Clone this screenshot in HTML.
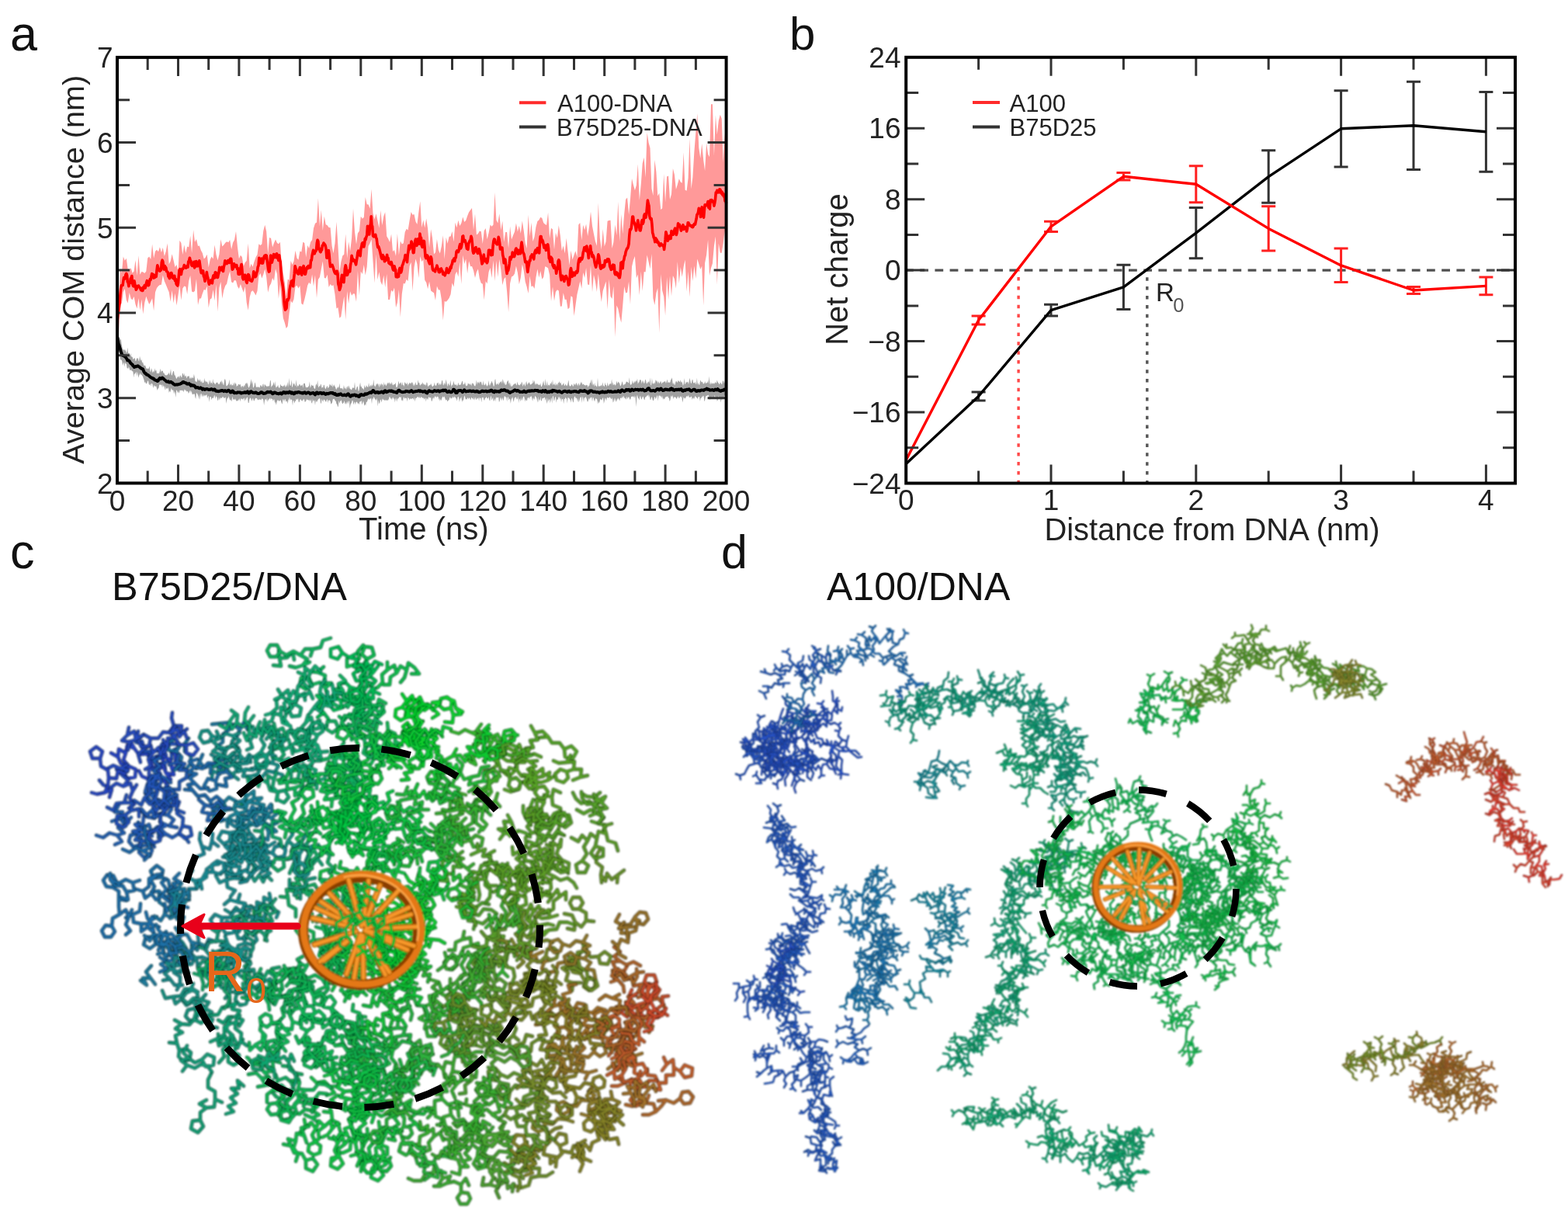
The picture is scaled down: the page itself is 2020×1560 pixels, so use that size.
<!DOCTYPE html><html><head><meta charset="utf-8"><title>Figure</title><style>html,body{margin:0;padding:0;background:#fff;overflow:hidden}svg{display:block}</style></head><body><svg width="2020" height="1560" viewBox="0 0 2020 1560"><defs><filter id="blr" x="-5%" y="-5%" width="110%" height="110%"><feGaussianBlur stdDeviation="0.8"/></filter></defs><rect width="2020" height="1560" fill="#fff"/><g><g filter="url(#blr)">
<defs><path id="c0" d="M471 867l-3-10l-7 8l-4-9l-10 3l0-10M468 857l5-8M473 849l-7-6l4-10l9 1l3 10l-9 5M457 856l6-8l-2-9l7-8"/><path id="c1" d="M555 1293l3 9l8-6l5 8l9-5l3 9l5-8l8 6l2-10l9 6M558 1302l-5 9l4 9M557 1320l8 6l-4 9l-10 0l-2-10l8-5M583 1308l-6 8l3 9l-7 8M596 1306l-4 9l6 8l-3 10"/><path id="c2" d="M579 1082l10-3l-8-7l8-6l-8-7l9-4M589 1079l8 6l9-3M606 1082l7-6l9 4l-2 10l-10 1l-4-9M589 1066l7 6M596 1072l3 7"/><path id="c3" d="M773 1021l-7 6l8 5l-7 6l9 3l-7 7l9 5l-7 8l10 2l-5 9M766 1027l-10-1M756 1026l-7-4M767 1038l-8-6l-10 3l-7-6M742 1029l-4-8M769 1048l-8-5l-9 5l-9-5M771 1061l-9-3"/><path id="c4" d="M143 970l9 5l1-10l9 5l2-10l9 4l-5-9M152 975l4 9l9 2M165 986l-1 8M162 970l-3 9l7 8M166 987l9 4l-1 10l-10 2l-5-9l7-7M173 964l6 8l10-1l6 8M195 979l7-5l8 4l1 9l-7 4l-8-3l-1-9"/><path id="c5" d="M696 950l10-1l-7-7l-10 2l4 9l-10 1l4 9l-10 1M706 949l5 8l10 0l6 8M727 965l9-4l7 7l-5 9l-10-2l-1-10M689 944l-5-9"/><path id="c6" d="M687 1030l-4 10l10 3l-9 5l3 9l-9-2l6 8M678 1055l-4-9M674 1046l0-8"/><path id="c7" d="M551 1440l7-7l-8-6l10 1l0-10l10-2l-4-10l10 0l-4-10l10-1M560 1428l1 10l9 4M570 1442l-3 8M570 1416l7 7l10-3l7 7"/><path id="c8" d="M491 932l-8-6l-1 10l-9-5l0 10l-9-5l-2 10l-9-3l0 10M483 926l6-8M473 931l-5-8M468 923l0-8M464 936l2-10l-7-7l1-9M453 943l-7-7l-10 2M436 938l-8 6l-8-5l2-10l10 0l4 9"/><path id="c9" d="M827 1357l-9 3l1 10l-10-1l-4 9l-5-9l-4 10l-5-8l-8 6M818 1360l-8-6l-10 3M800 1357l-3-7M809 1369l-1-10l-9-5l0-10M800 1369l5-8l-4-9l5-8M806 1344l7-4M791 1371l6-8l-3-10l6-7"/><path id="c10" d="M218 1019l-5 9l9 3l-9 4l8 7l-5 8l8 6l-6 8l10 2M213 1035l-9-5l-8 5M196 1035l-5-7M216 1050l-10-2l-7 6l-10-2M189 1052l-6-6"/><path id="c11" d="M765 1187l-10-1l-6 8l-8-6l-1 10l-9-2M755 1186l0-10l-9-5M746 1171l-8 0l-4-8l4-7l9 0l4 7l-5 8M741 1188l-4-9l-10-2"/><path id="c12" d="M593 1467l9 4l-2-10l9 3l-2-10l10 3l8-6l4 9l6-8M609 1464l-1 10l8 6l-1 10M615 1490l10 3l1 10l-10 3l-6-7l5-9M617 1457l-2 10l8 7M623 1474l-5 6M629 1460l-5 8l4 9l-5 9M623 1486l8 6l-3 9l-10 0l-3-9l8-6"/><path id="c13" d="M410 1166l9 3l8-7l7 7l-2-10l9 4l1-10M419 1169l-6 7l2 10M415 1186l-7 2M434 1169l-2 10M441 1163l2 9l9 4M452 1176l-2 8"/><path id="c14" d="M564 1028l-8-7l-6 8l-4-10l-6 8l-6-8l-5 9M556 1021l8-7l-3-10l7-7M568 997l-6-8l6-8l10 3l0 10l-10 3M534 1019l4-9"/><path id="c15" d="M805 1317l7 6l6-8l5 8l5-9l3 9l10-1l-5 8M812 1323l-4 9l5 9M823 1323l-3 10M820 1333l-6 5"/><path id="c16" d="M498 944l-7 7l9 4l-2 9l10 2l-6 9l10 1l-7 6l6 7M491 951l-8-6l-10 4l-8-5M465 944l-4-7M502 975l-9 1M493 976l-8-2M505 982l-7-8l-10 2l-7-7M481 969l-2-8"/><path id="c17" d="M407 1072l0-10l-9-4l8-5l-6-8l10-2l-1-10M406 1053l8 6l9-3M423 1056l6-6l8 2l3 8l-6 6l-8-1l-3-9M410 1043l3 10M413 1053l-1 8"/><path id="c18" d="M531 1209l-7 7l10-1l-3 9l10 1l1 10l9 3l-6 8l10-1l-8 6M524 1216l-9-5M515 1211l-5-6M531 1224l-10 1M542 1235l-10 1l-5 9M527 1245l-1 10l-9 2l-6-8l6-8l10 4M545 1246l-10-2l-6 7M529 1251l-4 10l-10 0l-3-10l9-6l8 6"/><path id="c19" d="M450 1265l2-10l-10-3l10-2l0-10l10 2M452 1255l10-1l4-9M466 1245l8 3M452 1250l6 8l10 0l5 8M473 1266l7-4l8 3l0 9l-7 4l-7-3l-1-9"/><path id="c20" d="M293 1065l0-10l-9 3l0-10l-9 6l1-10l-7 7M293 1055l10 3M284 1048l8-5M292 1043l-4-9l7-7l9 5l-2 10l-10 1M276 1044l6-8M282 1036l8-4"/><path id="c21" d="M447 1372l6 8l8-5l2 10l10-1l-2 10M453 1380l-5 9M448 1389l-7 4M463 1385l-9 3M454 1388l-8-1"/><path id="c22" d="M340 1271l8 5l3-10l2 10l10-2l-4 9l10 0l-2 10l9 2M348 1276l-2 9l6 8M353 1276l-5 8M359 1283l-10-3M349 1280l-6-6"/><path id="c23" d="M353 932l2 10l9-4l4 9l7-7l7 6l6-8l9 6l6-8M355 942l-6 8l5 9M354 959l-7 4M368 947l-8 6l1 10M361 963l5 9l-6 7l-9-3l0-10l10-3M382 946l1 10M397 944l-2 10l7 7M402 961l-6 6"/><path id="c24" d="M379 850l-2-10l-7 7l-10 1l2 10l-10-1M360 848l-1-10"/><path id="c25" d="M408 1414l-8 8l10 2l-7 7l8 5l-9 4l8 6M400 1422l-9-3M403 1431l-10-2l-7 6l-10-2M376 1433l-2 8l-9 2l-6-6l3-8l8-2l6 6M402 1440l-9-4"/><path id="c26" d="M518 960l-9-5l2 10l-10-3l0 10l-10-2l1 10l-9-5l-5 9M509 955l0-10l-9-4l-1-10M501 962l-3-9l-10-3l-4-9M484 941l2-8M491 970l-3-9l-9-3l-3-9M476 949l-10 2l-5-9l7-7l9 4l-1 10M483 975l2-10l-7-7M478 958l5-6"/><path id="c27" d="M563 1136l-10 4l5 9l-10 1l0 10l-10 1l2 10M553 1140l-8-5l-9 5l-9-5M527 1135l-4-7M548 1150l-7-7M541 1143l-2-8M538 1161l-5-8l-10 0"/><path id="c28" d="M449 1095l5 9l6-8l8 6l-5-9l10 1"/><path id="c29" d="M452 1317l-10-2l-4 10l-4-9l-3 9l-7-7l-8 6l-1-10l-10-2M442 1315l-6-7M434 1316l1-10l-8-7M427 1299l-10-2l-1-10l10-4l6 8l-5 8M424 1318l6-8l-3-9M415 1314l10-1"/><path id="c30" d="M737 1276l1-10l-9-3l3-10l-8-6l10-4l-1-10l10 2l5-8M738 1266l10 0M734 1243l4 9l10 2l5 9M753 1263l7-4l7 5l-1 8l-7 4l-7-5l1-8M743 1235l1 10M744 1245l-3 8"/><path id="c31" d="M421 1380l10-1l-1-10l9 3l1-10l10 0l-2-10l10 1M431 1379l5 8M439 1372l3 10M442 1382l10-2l5 9l-7 7l-9-4l1-10M450 1362l6 8l10-1l6 8M472 1377l7-5l8 3l1 9l-7 5l-8-4l-1-8"/><path id="c32" d="M500 970l-8 6l3 10l-10 0l4 9l-9-5M492 976l-6-7M486 969l-8 5l-8-7l4-9l10 1l2 10"/><path id="c33" d="M490 995l-10-1l-3 10l-1-10l-10-1l-1-10l-3 10l-7-7M480 994l-5-9l-10 0l-5-9M460 976l-8 4l-7-5l1-8l7-4l7 4l0 9M476 994l10-2l4-9M465 983l9-4l1-10l9-4M484 965l8 0"/><path id="c34" d="M613 1361l-10 1l6 8l-10 2l7 7l-9 3l10 0l0 10l6-8M603 1362l-7-7l-10 2M586 1357l-2-7M607 1392l-8 6l1 10M600 1408l-8 1"/><path id="c35" d="M213 993l-1-10l-10 2l-1-10l-9 3l2-10l-10 0l0-10l-9-2M212 983l9-5l0-10l9-5M201 975l10-4l2-10l9-3M222 958l8 1M194 968l10-1l5-9l10-1"/><path id="c36" d="M497 906l-9-5l-2 10l-10 0l3 10l-10 3l10 5l-8 7l9 4M476 911l1-10l-7-6M469 924l-9-4l-8 6M471 936l-10-2l-6 8l-10-2M445 940l-6-5"/><path id="c37" d="M228 1219l-10 2l3 10l-10-2l5 9l-9 4l8 6l-9 4M218 1221l-7-7l-10 2M201 1216l-8 6l-8-5l3-10l10 0l3 9M211 1229l-1-10l-9-4"/><path id="c38" d="M618 942l-10 2l9 4l2 9l8-7l5 9l5-9l5 8l6-8M608 944l-9-4l-8 5l-10-3M619 957l-9 2M632 959l-6 8l4 9M630 976l-7 4M642 958l-4 9l5 9"/><path id="c39" d="M319 1178l9 5l-1-10l8 5l0-10l10 3l4-8M328 1183l-3 9l7 8M332 1200l-6 5M335 1178l1 10l8 6l0 10M344 1204l-3 7M345 1171l-4 10l7 8M348 1189l-6 5"/><path id="c40" d="M417 1432l10 1l-3-10l10 0l-8-6l9-6M427 1433l1 10l9 5M434 1423l8 6l9-3l8 6M459 1432l6-6l8 1l3 8l-6 7l-8-2l-3-8"/><path id="c41" d="M556 1179l-4-9l-7 6l2-10l-10 0l2-10l-10 0l1-10l-9 5M539 1156l10-1l4-10l10-1M563 1144l0-10l9-3l6 7l-5 9l-10-3M530 1146l7-7M537 1139l8-2"/><path id="c42" d="M392 1175l3 10l7-8l1 10l7-7l7 6M395 1185l-4 9l4 8M395 1202l-7 5"/><path id="c43" d="M429 1175l7-7l-10 2l-2-10l-10 2l0-10l-8 5l-4-10l-10 1l3-9M436 1168l10-1M424 1160l9-5l0-10l9-5M442 1140l-4-7l4-7l8 0l5 7l-5 7l-8 0M414 1152l8-6l-1-10M421 1136l8-2"/><path id="c44" d="M586 1003l-4 9l10 4l-6 8l9 5l-8 6l7 7l-10-1M582 1012l-10 0M572 1012l-7-4M586 1024l-9-3l-8 5l-9-4M587 1035l-9-5l-9 4M569 1034l-4-7"/><path id="c45" d="M389 1384l-10-2l6 9l-10 3l4 10l-9 1l5 9l-9 3l5 8l-8 5M379 1382l-5-8l-10-1M375 1394l-7-6l-10 4M358 1392l-3-8M370 1405l-7-7l-10 2M353 1400l-2-8M366 1417l-10-4M356 1413l-5-6"/><path id="c46" d="M610 1068l-10 2l4 9l-10 0l1 10l-7-7l-5 9l-7-6l-6 8M600 1070l-6-8l-10 0M594 1079l-3-9l-10-3l-3-9M578 1058l2-8M588 1082l2-9l-8-7M576 1085l0-10M576 1075l-10-2l-1-10l9-4l7 7l-5 9"/><path id="c47" d="M707 1136l7-7l-9-4l6-8l-10-1l6-8l-6-8l8-5M714 1129l8 5l9-3l8 6M739 1137l4 7M711 1117l8 5l9-4M728 1118l4 7M707 1108l7 7l10-3M724 1112l2 8"/><path id="c48" d="M677 1053l10-3l-5-8l10-2l-1-10l10 4l0-10l10 3l2-10l9 4M687 1050l6 8M692 1040l2 10M694 1050l10-1l4 9l-7 7l-9-5l2-10M701 1034l-5 9l6 9l-4 9M711 1027l1 10l10 4l1 10M723 1051l10-1l3 10l-8 6l-8-6l3-9"/><path id="c49" d="M560 1501l-2 10l10-3l2 10l10-3l-4 9l9-2l9 4l6-8l4 9M558 1511l-10 1l-5 9l-10 0M533 1521l-7-3M570 1518l-5 8M576 1524l-9 4M567 1528l-8 0M594 1526l0 10M594 1536l9 1l3 7l-4 7l-9 0l-4-8l5-7"/><path id="c50" d="M574 1511l-10-4l0 10l-9-3l-9-4l2-10l-10-1l-3-10M564 1507l-4-9l-10-1l-4-9M555 1514l-8 6M548 1500l10-1l4-9l10-1M572 1489l1-10l9-3l6 9l-6 7l-10-3"/><path id="c51" d="M382 982l0 10l9 3l0 10l10 1l-7 8M382 992l-10 2l-4 9l-10 2M391 1005l-10 3M381 1008l-8-1"/><path id="c52" d="M489 894l-9-4l1 10l-9-3l2 9l-10-2l6 8l-10-1l4 9l-8 6M480 890l-2-10l-9-3M469 877l-10 0l-4-9l8-6l8 5l-2 10M472 897l6-8M478 889l7-3M464 904l-8-5l-10 3M446 902l-3-7M460 911l0-10l-8-6M452 895l4-7"/><path id="c53" d="M657 1267l1 10l10 0l-3 10l10 0l-7 6l9 3l-3 9l9-1l3 9M658 1277l-9 3l-2 10M665 1287l-9-3l-8 7M648 1291l-5-6M668 1293l-10-3M658 1290l-5-6M674 1305l-10 1l-5 9"/><path id="c54" d="M295 1261l2-9l-10 2l0-10l-10 0l3-9M287 1244l10-2"/><path id="c55" d="M811 1324l-6 8l10 3l-6 8l7 7l-7 7M805 1332l-9 4M796 1336l-8-1M809 1343l-9-1l-7 7"/><path id="c56" d="M512 1271l-9 3l3 9l-10 0l1 10l-8-7l-3 10l-6-9l-2 10l-10-2M503 1274l-3-10l-9-3l-2-10M489 1251l2-8M496 1283l-6-8M490 1275l-6 5l-8-4l-1-9l7-4l8 3l0 9M489 1286l4-9M480 1287l3-9l-6-8M477 1270l-9-4l1-10l9-2l5 9l-6 7"/><path id="c57" d="M508 1114l1-10l-10-4l10-3l-3-9l9 1l-3-9l8 5M509 1097l6 8M515 1105l9-5l7 7l-4 9l-10-1l-2-10M515 1089l6 8l10 0l6 8M537 1105l1 8"/><path id="c58" d="M610 1197l3-10l-10-1l4-9l-10-3l7-7l-10-1l0-10l-10 1M613 1187l9 3l8-7M630 1183l5 6M607 1177l10 2l6-8l10 1M633 1172l7 5M604 1167l9 2l8-6l9 2M594 1156l9-2M603 1154l8 1"/><path id="c59" d="M528 1376l-10-1l-2 10l-8-5l-1 10l-9-4l2 10M518 1375l-3-10M508 1380l2-10l-6-7l2-10M506 1353l-8-3l-2-8l6-6l8 3l2 8l-6 6"/><path id="c60" d="M711 1376l-9 5l5 8l-10 0l4 9l-10 3l5 9M691 1401l-9-5"/><path id="c61" d="M603 1482l-4-9l-6 8l-7-7l1 10l-8-6l-1 10l-9-5l-4 9l-8-5M586 1474l-2-10l-9-3l-2-10M579 1478l0-10M579 1468l-8-1l-4-7l5-7l8 0l4 8l-5 7"/><path id="c62" d="M716 1503l1-10l-8 6l0-10l-9-2l2-10l-8 6l-8-7M717 1493l7-7l-3-10M721 1476l-7-7l6-9l9 2l1 10l-9 4M709 1489l10 2l7-8l10 2M736 1485l3-9l10 0l3 9l-8 6l-8-6M702 1477l7-7l-2-10l8-6M715 1454l8-2"/><path id="c63" d="M235 985l-9-3l4 9l-9-3l3 10l-10-2l6 8l-10 0l6 8M226 982l0-10l-8-6M221 988l-2-9l-9-5l-1-10M209 964l3-7M214 996l-4-10l-9-2M201 984l1-8M210 1004l-9-5l-9 5l-9-4M183 1000l-4-7"/><path id="c64" d="M361 1155l10 1l-2-10l10 2l-2-10l9 1l-5-8l10 2l-5-9l10-2M371 1156l1 10l9 5l0 10M379 1148l4 9M386 1139l4 10l10 1M400 1150l-1 8M391 1133l4 9M395 1142l10-3l5 8l-6 8l-9-3l0-10"/><path id="c65" d="M502 1348l-9 4l9 4l-7 7l7 7l-9 4l3 9M493 1352l-9-4l-9 5l-9-4M495 1363l-8-6l-9 3M478 1360l-3-7M493 1374l-4-9l-10-2M479 1363l1-8"/><path id="c66" d="M642 961l5 9l7-7l9 5l6-9l4 10l9-5l-3 10l9-3l9 4M647 970l-8 6l1 10l-8 6M632 992l-8 1M663 968l-3 9l6 8l-4 9M662 994l-6 6M679 974l-10-1l-6 8l-10-1M653 980l-7-5"/><path id="c67" d="M551 1163l-7 7l9 5l-7 7l10 1l-5 9l10 3l-10 3M544 1170l-9-4"/><path id="c68" d="M698 1145l-2 10l8-7l8 6l6-8l3 9l8-6l0 10M696 1155l-7 6M712 1154l-6 8M721 1155l-8 6l0 10l-8 5M705 1176l-8 1"/><path id="c69" d="M822 1285l9-4l-9-3l4-10l-10 2l-1-10l-10 2l-2-9l-9 5l2-10M831 1281l7 7l10-2l7 8M855 1294l2 7M826 1268l10-1M803 1253l5-9"/><path id="c70" d="M331 1286l10-2l-4-9l10 0l0-10l0 10M341 1284l5 9M346 1293l1 8M347 1275l-1 10l7 6"/><path id="c71" d="M518 1422l-9 4l7 7l-8 7l6 8l-8 5l8 6l-10 1l5 9l-9-2M509 1426l-6-8l-10 1M493 1419l-9 5l-7-6l3-10l10 1l3 10M508 1440l-8-6l-9 4l-9-6M482 1432l-3-7M506 1453l-10 1l-5 8M504 1460l-5-8l-10 1M489 1453l-1-8"/><path id="c72" d="M415 1114l-6-8l-6 7l-6-8l-3 9l-9-2l0 10l-8-6l-4 9M409 1106l6-9l-5-9M397 1105l3-10l-6-7M394 1088l5-6M385 1112l-1-10l-9-5M375 1097l3-7M377 1116l4-10"/><path id="c73" d="M447 1208l-3 10l10 0l-7 7l8 5l-8 5l10 2l-4 9l10-2M444 1218l-10 1l-3 10l-10 1M447 1225l-8-7l-9 3M430 1221l-8 7l-8-6l2-9l10-1l4 9"/><path id="c74" d="M205 1194l-9-3l2 10l-8-7l-8 6l0-10l-10-2l-1-10l-9 4M196 1191l-6-8M190 1183l-2-8M190 1194l5-9M195 1185l7-4M182 1190l10 0l4-9M171 1178l9-4l1-10"/><path id="c75" d="M630 1178l3 10l5-9l4 9l7-7l6 7l8-7l2 10l10 3l-8 7M633 1188l-7 7M642 1188l-4 9l4 9M642 1206l-6 4M665 1191l-10-1l-6 7l-10-1"/><path id="c76" d="M598 1200l-2 10l10-2l1 10l9-3l1 10l8-6l3 9l9 4l-8 7M596 1210l-9 4l-1 10M586 1224l-8 0M607 1218l-10 3l-2 10l-9 4M586 1235l3 8l-6 6l-8-1l-3-8l6-7l8 2M617 1225l-8 5M609 1230l-8 0M628 1228l-10 3l-3 9M615 1240l-8-2"/><path id="c77" d="M633 1194l3 10l7-7l-4 9l10 0l-3 9l10-2l-5 9l10 0l2 10M636 1204l-9 5l0 10M627 1219l-8 1M639 1206l-10 3l-3 9l-9 3M617 1221l-8-2M651 1222l-10-2"/><path id="c78" d="M271 1263l10 0l1-10l9 5l8-7l2 10l2-10l8 7M281 1263l4 9l9 2M291 1258l2 9l10 4l2 9M305 1280l9-2l6 7l-3 8l-8 2l-6-7l2-8M301 1261l-7 7l3 10l-7 8"/><path id="c79" d="M855 1362l4 9l8-6l1 10l0 10l-10 0l0 10l-10 0l3 9l-9-2M859 1371l-6 8M868 1375l8 5M876 1380l6-8l10 4l-1 10l-9 2l-6-8M848 1395l-4-9l-10-1M834 1385l0-8"/><path id="c80" d="M506 1189l-6 8l9 4l-9 2l1 10l-8-5l0 10l-10-2l5 8l-9 4M500 1197l-10 0l-5 9l-10 0M475 1206l-7-4M500 1203l-7-7M493 1208l2-10l-7-7l2-10M490 1181l-10-3l1-10l9-3l6 9l-6 7M483 1216l0-10M483 1206l-10-2l-1-10l9-4l7 7l-5 9"/><path id="c81" d="M407 1194l10 3l-2-10l9-2l-1-10l8 5l8-7M417 1197l4 9l9 2l4 9M424 1185l6 8l10-1M440 1192l1 8M431 1180l-1 10M430 1190l9 3l0 10l-9 3l-6-8l6-8"/><path id="c82" d="M466 879l-5 9l8 5l-8 5l7 7l-8 5l8 5l-8 7l9 3M461 888l-10-3M451 885l-2 8l-8 3l-6-6l2-9l8-2l6 6M461 898l-10-2l-7 7l-10-3M434 900l-5-5M460 910l-10-5l-8 6M460 922l-10-2l-7 8M443 928l-6-5"/><path id="c83" d="M715 1287l-2 9l9-2l1 10l10 3l3 9l9-4l4 9M713 1296l-8 7l1 10l-8 6M698 1319l-8 1M723 1304l-8 5M715 1309l-8 0M736 1316l-8 7M728 1323l6 6l-3 8l-9 1l-5-6l3-8l8-1"/><path id="c84" d="M352 964l-6 7l9 3l-5 9l9 3l-5 9l10 3l-1 10M350 983l-10-1l-6 9l-10-1M354 995l-10-2l-6 8l-10-2"/><path id="c85" d="M444 1184l10-1l-3-10l10-2l-2-10l10 2M454 1183l6 8M461 1171l2 10l10 2M473 1183l-2 8"/><path id="c86" d="M659 948l-3 10l9 4l2 10l8-6l0 10l10-3M667 972l-10 1M657 973l-7-3M675 976l-9 4l-1 10"/><path id="c87" d="M367 1282l3 10l6-8l8 6l6-7l5 9M370 1292l-7 7l3 10l-7 7M359 1316l-7 3"/><path id="c88" d="M794 1345l8 6l4-10l3 10l10 0l-9 5l8 7l-10 2l6 8M802 1351l3 9l10 3l3 9M818 1372l10-2l5 9l-7 7l-9-4l1-10M810 1356l-9-3l-8 5M808 1365l-5-9"/><path id="c89" d="M431 1216l-4-9l-2 9l-8-6l-6 9l-7-8l-9 5l2-10l-10 0l-6-8M427 1207l6-8l-3-10M430 1189l7-3M417 1210l6-7l-3-10l7-8M427 1185l7-2M404 1211l0-10l-9-4"/><path id="c90" d="M291 1435l10-3l-7-7l10-4l-7-7l9-5l-8-7l10 0l-2-10l8 7"/><path id="c91" d="M485 1225l9 4l-2-10l8 6l6-8l7 7l7-7l4 9M494 1229l3 10l10 2l3 10M510 1251l-2 8M500 1225l-5 8l4 9l-5 9M513 1224l-4 9l7 8l-3 10"/><path id="c92" d="M830 1329l10-3l-7-7l4-9l-10-1l-2-9l-6 8l-7-7l-4 9l-8-6M837 1310l10 1l6-8M853 1303l7 5M825 1300l8-6l-1-10M832 1284l-5-7l4-8l8-1l5 7l-4 8l-8 1M812 1301l4-9l-6-8l4-9"/><path id="c93" d="M596 1097l-8 6l9 3l-10 4l7 7l-10-1l0 10l-10-1l3 10l-10-1M588 1103l-10-1M578 1102l-7-4M587 1110l-8-5l-9 5M574 1125l-4-9M570 1116l0-8"/><path id="c94" d="M638 1518l6 8l9-5l1 10l8-6l-2 10l1-10M644 1526l-5 8l4 9"/><path id="c95" d="M262 1296l-7-7l-1 10l-5-9l-9 5l-6-8l-8 6l-3-9l-10 2l-4-10M255 1289l-1-10l-8-5M246 1274l3-7M249 1290l6-7M234 1287l6-8M240 1279l7-3M223 1284l10-1l5-9l10 0M248 1274l7 4"/><path id="c96" d="M753 1339l9-4l-9-5l7-8l-10-2l7-7l-9-3l5-8l-9-3M762 1335l10 2M760 1322l10 0l6-8l10 0M757 1313l10 1M767 1314l7 4M753 1302l10 3l7-7l10 3"/><path id="c97" d="M795 1137l1-10l-8 6l-6-8l-2 10l-6-8l1 10M796 1127l8-6M774 1127l2-10l-8-6l1-10M769 1101l4-7"/><path id="c98" d="M675 1110l2-9l-8 4l1-9l-9 5l-1-10M670 1096l8-7l-1-10l8-6M685 1073l-6-8l7-8l9 4l-1 10l-9 2"/><path id="c99" d="M216 1010l-5 8l10 0l-5 9l10 2l-4 9l9-5l-4 10l10 4M222 1038l-10 0M212 1038l0 8l-8 4l-7-5l1-8l7-4l7 5"/><path id="c100" d="M463 1163l-8-5l-4 9l-7-7l-3 9l-9-5l-2 9M444 1160l4-10l-6-8l3-9M445 1133l6-5M432 1164l4-9l-5-9l4-9"/><path id="c101" d="M428 1276l5-9l-10-1l4-9l-9 4l4-9l-5-8l9-2M433 1267l10-2l4-9l10-2M457 1254l7 3M427 1257l9-3l3-10l9-3M448 1241l8 1"/><path id="c102" d="M805 1337l4-9l-10 1l-1-10l-9 4l-3-10l-8 6l-2-10M809 1328l10 1l7-7M786 1313l8-6l0-10M794 1297l8 0"/><path id="c103" d="M699 1138l1-10l-9 4l-2-10l-4 9l-7-7l-4 9M700 1128l5-9l-4-9M701 1110l-7-4l1-9l7-4l7 5l0 9l-8 3M689 1122l5-8l-5-9M689 1105l-8-6l3-9l10-1l3 10l-8 6"/><path id="c104" d="M511 1241l-10 1l5 8l-10 1l4 9l-10 0l2 10l-10-1M501 1242l-8-6l-9 3M484 1239l-4-7M496 1251l-3-10M490 1260l-4-9l-10-2"/><path id="c105" d="M693 1063l3-9l-9 4l1-10l-10 4l2-10M696 1054l10-1M688 1048l9-1"/><path id="c106" d="M178 1059l5 8l9-5l3 10l8-7l1 10l10 0M183 1067l-7 7M176 1074l6 6l-2 8l-8 3l-6-7l2-8l8-2M195 1072l-7 6l2 10M190 1088l6 7l-3 8l-8 1l-6-6l3-8l8-2"/><path id="c107" d="M530 1109l-5-9l-8 6l-1-10l-8 6l-8-7l-8 6M516 1096l9-4M525 1092l8 0M500 1095l7-8M507 1087l7-3"/><path id="c108" d="M490 1284l6-8l-10-3l3-10l-10 3l2-10M496 1276l9 3l8-7l10 4M489 1263l9-4"/><path id="c109" d="M308 975l-10-3l0 10l-9-4l2 9l-10 0l2 10l-9-4l-1 9M289 978l-1-10l-8-5M281 987l-1-10l-8-5"/><path id="c110" d="M432 1024l4-9l-10-2l6-8l-8-5l8-6l-10 0l8-7l-10 4l4-9M436 1015l10-1l5-9l10 0M432 1005l10 3l7-7l10 2M459 1003l6 6M432 994l10 2l6-8M448 988l2-8l8-3l6 6l-1 8l-8 3l-7-6"/><path id="c111" d="M788 1301l9 5l2-10l9 5l-2-10l10 0l-7-7l10-2M808 1301l5 8l10 0M816 1291l5 9M821 1300l9-5l7 8l-5 9l-9-2l-2-10"/><path id="c112" d="M432 1347l10-3l-3-10l10 2l-4-9l10 0l-4-9l10 1l0-10l10 1M442 1344l5 8l10 0l6 9M463 1361l0 8M449 1336l4 9l10 2l4 9M455 1327l-2 10l8 7M461 1319l3 9M464 1328l8-3l6 6l-1 8l-8 3l-7-6l2-8"/><path id="c113" d="M680 1218l-9 4l6 8l-9 2l7 7l-8 7M671 1222l-8-5M663 1217l-4-7M668 1232l-5-8l-10-1M653 1223l-9 3l-6-8l5-8l10 3l0 10"/><path id="c114" d="M610 1374l5-8l-9 3l-2-10l-10 2l0-10l-7 7M615 1366l10-3l2-10M627 1353l8 1M604 1359l9-4M613 1355l8 0M594 1351l8-6l0-10l8-5"/><path id="c115" d="M323 1167l8 5l0-10l9 4l0-10l9 5l-2-10M331 1172l-1 10M330 1182l10 2l1 10l-9 4l-6-7l4-9M340 1166l2 10M342 1176l-3 8M349 1161l1 10l9 4M359 1175l-3 7"/><path id="c116" d="M305 1272l9 5l-1-10l9-1l-6-7l7-8l-8-6l7-7M322 1266l7 8"/><path id="c117" d="M464 1241l-9 3l0 10l-10-3l5 8l-5 9l10 2l-7 6M455 1244l-4-9l-10-2l-4-9M445 1251l-3-10l-10-2l-3-9M429 1230l-8 3l-7-6l2-8l8-3l6 6l-1 8M445 1268l-8-6l-9 5l-9-6M419 1261l-4-7"/><path id="c118" d="M488 1245l-5-9l-8 6l-1-10l-10 4l3-10l-9-4l4-9l-5-9M483 1236l8-6M491 1230l-5-7l3-8l8-1l5 7l-3 7l-8 2M474 1232l9-5l0-10M483 1217l8 0M467 1226l10-2M477 1224l7 3M462 1213l8 7"/><path id="c119" d="M233 1253l4-10l-10 1l4-9l-7-8l9-4l-8-6l10-3l-7-7l6-8M237 1243l10-1l4-8l10-1M261 1233l8 3M231 1235l10 0l5-8M233 1223l6 8l10 0l5 8M254 1239l1 8M235 1214l5 8M240 1222l0 8"/><path id="c120" d="M525 933l5 9l10-3l2 10l6-9l3 10l5-9l4 9l4-9l6 8M530 942l-7 7M542 949l-5 8l4 9l-5 9M536 975l8 6l-4 9l-10 0l-3-10l9-5M551 950l-4 9l4 8M560 950l-2 10l7 7l-3 10"/><path id="c121" d="M289 1103l8-6l-7-7l10 0l-4-9l9 3l-5-9l10-1l-5-9M300 1090l3 10l9 3M312 1103l-2 8M305 1084l7 7l10-2M310 1074l7 8l10-2M327 1080l1 8"/><path id="c122" d="M471 1435l-8 6l8 6l-8 6l2 10l-10-2l3 9M463 1441l-9-5M454 1436l-4-6M455 1461l-3-10M452 1451l2-8"/><path id="c123" d="M588 1168l9 3l-6-8l10-3l-5-9l9 4l0-10M597 1171l3 9l10 3l3 9M601 1160l3 9M605 1155l1 10l8 5M614 1170l-3 7"/><path id="c124" d="M494 1325l-5 9l9 5l-7 7l9 5l-8 6M489 1334l-9-3l-8 6M472 1337l-5-5M491 1346l-7-8l-10 2l-7-7M467 1333l-8 6l-8-6l3-9l10 0l3 9"/><path id="c125" d="M727 1076l-9-3l-5 8l-7-7l-4 9l-8-5l-3 10l-10-4M718 1073l3-10l-7-8M714 1055l5-5M706 1074l5-8l-3-9l6-9M714 1048l7-3M694 1078l-4-9M690 1069l1-8"/><path id="c126" d="M604 1127l8 6l6-8l8 5l3-10l10 3l1-10l7 6l7-7M612 1133l-5 8l4 9M626 1130l-1 10l7 6l-1 10M631 1156l-5 6M647 1119l-4 9l4 8l-4 9M643 1145l-7 4"/><path id="c127" d="M467 1012l1 9l9-4l-2 10l10-1l-1 10l10-3l1 9M468 1021l-9 3M459 1024l2 8l-7 6l-8-3l-2-8l7-6l8 3M475 1027l-10-1l-6 8l-10 0M449 1034l-7-4M484 1036l-9 3l-2 10M473 1049l2 10l-8 5l-8-6l4-10l10 1"/><path id="c128" d="M694 1492l-7-8l0 10l-10 4l2 10l-10 1l5 9M687 1484l5-8l-5-9M687 1467l7-5M677 1498l-4-9l-10-1M669 1509l-9-4l-9 5"/><path id="c129" d="M706 1263l0-10l-8-5l3-9l-9 0l-2-9l-9 5l4-10M706 1253l10-2l3-10l10-2M729 1239l8 2M701 1239l10-3M690 1230l9-4"/><path id="c130" d="M820 1248l1 10l-5 9l-4-9l-8 5l-5-9l-8 6l-2-10M812 1258l9-5M821 1253l8-1"/><path id="c131" d="M671 1264l10-1l-5-8l9-4l-6-7l7-7l-9-4l4-9l-10 1l6-8M681 1263l7 7l10-2M698 1268l6-6l8 2l3 8l-7 6l-8-2l-2-8M685 1251l10 4l8-6M703 1249l5 6M686 1237l10 2l7-7M703 1232l2-9l8-2l6 5l-2 8l-8 3l-6-5M681 1224l10-2l4-9l10-2M705 1211l7 3"/><path id="c132" d="M400 845l3-9l-10 0l-6 8l9 5l-6 8l9-4M403 836l10-2l3-9l10-3M387 844l-9-5l-9 5l-8-5M361 839l-5 7l-8 0l-4-8l4-7l9 0l4 8M390 857l-9 3M381 860l-8-2"/><path id="c133" d="M503 1322l3-10l-8-4l6-8l-7-7l6-8l-7-6l8-5M506 1312l10-3l2-10l10-3M503 1285l7 8M510 1293l6-6l9 2l1 9l-6 5l-8-2l-2-8"/><path id="c134" d="M179 1092l4-9l-9-1l6-8l-9-3l10-2l-7-7l10 0l1-10M183 1083l10 2M193 1085l6 6M180 1074l10 4M190 1078l5 5M181 1069l10 3M191 1072l5 5M184 1062l4 9l10 1"/><path id="c135" d="M379 1090l9-2l-6-8l8-5l-8-5l6-7l-10-2M390 1075l10 2l7-8M407 1069l6 5M388 1063l10 1l6-7M404 1057l7 5"/><path id="c136" d="M592 1048l6-9l-10 1l6-8l-10-1l10-1l-4-9l10 3M598 1039l10 0l5-9l10 0M594 1030l3 10M597 1040l-1 8"/><path id="c137" d="M397 921l-3 10l7-7l2 9l9-5l-1 10l9-3M394 931l-7 8M387 939l-7 3M403 933l-7 7l1 10l-7 7M390 957l-8 1M411 938l-10 2l-3 10M398 950l1 10l-9 4l-7-7l5-9l10 2"/><path id="c138" d="M556 939l-3 10l10 2l-7 6l8 6l-9 2l1 10l-10 2l-1 10M553 949l-9 2M544 951l0 10l-9 4l-6-8l5-9l10 3M556 957l-9-4l-9 5M538 958l-5-6M555 965l-8-6l-10 2l-7-6M530 955l-3-8M546 977l-5-9M541 968l-1-8"/><path id="c139" d="M797 1389l8 6l9-5l5 9l5-8l5 9l7-7M805 1395l-9 4M796 1399l-8 0M819 1399l-1 10M818 1409l9 2l1 10l-9 4l-7-8l6-8"/><path id="c140" d="M369 1107l10-2l-2-10l9 5l6-9l6 8l5-8M379 1105l2 9M381 1114l9-2l6 6l-3 8l-8 3l-6-7l2-8M386 1100l-1 10l8 6l-1 10M398 1099l-4 10l6 8l-3 9M397 1126l-6 5"/><path id="c141" d="M638 1313l-4 9l10 2l-6 8l7 7l-6 7l10 0M634 1322l-10-1l-6 7l-10-1M608 1327l-6-5M638 1332l-10 0M628 1332l-7-4M639 1346l-10-3l-8 6l-9-3"/><path id="c142" d="M477 1041l-1-10l-6 8l-7-7l-4 10l-9-4l1 9l-9 5l7 7M450 1038l-4-10l-10-2l-3-9M433 1017l-8 2l-7-5l2-8l8-3l7 5l-2 9M442 1052l-8-7l-9 4M425 1049l-3-8"/><path id="c143" d="M752 1416l-9-3l-2 10l-10 3l5 9l-7 7l9 3M743 1413l-4-9l-10-2l-4-9M725 1393l1-8M729 1442l-10-1l-7 7l-10-1M702 1447l-1 8l-8 3l-7-5l2-8l8-3l6 5"/><path id="c144" d="M350 1134l-7-7l-4 9l-5-9l-6 8l-5-9l-5 9l-8-6M323 1126l5-8l-4-9M324 1109l-8-6l3-10l10 1l3 9l-8 6"/><path id="c145" d="M526 1339l7 7l8-6l2 10l9-2l-4 9l10 1M533 1346l-5 9l4 9l-5 8M527 1372l-7 4M543 1350l-8 6M535 1356l-8 1M548 1357l-9 3l-3 10l-9 3"/><path id="c146" d="M639 1276l2 9l10-3l-5 9l10 2l-3 10M641 1285l-8 6l0 10"/><path id="c147" d="M588 965l-5 9l10-1l6 8l5-9l3 10M583 974l-9 5M574 979l-8 0"/><path id="c148" d="M765 1398l-7 8l8 5l-7 7l10-2l0 10l10-2l-3 10l10 0M759 1418l-10-1l-6 8l-10-1M733 1424l-1 8l-8 4l-7-6l1-8l8-3l7 5M769 1426l-9 4M776 1434l-10-3l-7 7l-10-3"/><path id="c149" d="M398 1099l4-9l-9 4l-5-9l-9 5l-8-7l-4 10l-8-6M388 1085l5-8M393 1077l7-4M371 1083l6-8l-4-9"/><path id="c150" d="M697 1086l5-9l-9-4l7-7l-10-1l8-7l-7-8l7-7M702 1077l10 1l6-8M718 1070l7 5M700 1066l10 1l6-8M716 1059l2-10l9-2l5 9l-7 7l-9-4M698 1058l9 4l8-5"/><path id="c151" d="M729 1407l8-7l-10-3l4-9l-9 5l-3-10l-6 8l-5-9l-8 7l-8-7M737 1400l10 2l6-7l10 2M763 1397l2-8l8-3l6 6l-1 8l-8 3l-7-6M731 1388l10-2l3-9M719 1383l7-7l-3-10M723 1366l-6-7l5-9l10 3l1 10l-10 3M708 1382l6-7l-3-10M711 1365l-6-5l1-9l8-3l7 6l-2 8l-8 3"/><path id="c152" d="M404 1374l4-10l-6-7l9-4l-7-7l10 0l3-10l9 3l-3-9l9 3M408 1364l9 5M414 1346l-2 9l7 8M419 1363l9 3l0 10l-10 3l-5-9l6-7M426 1339l6 8l10-1l6 9M448 1355l9-5l7 7l-4 9l-10-2l-2-9"/><path id="c153" d="M456 907l9-3l-6-7l10-1l-4-9l10-3M469 896l2 9l10 4M481 909l10-1l4 9l-8 7l-8-5l2-10"/><path id="c154" d="M449 933l9 4l2-9l10 1l-3-9l10-4M458 937l2 10l9 4l2 10M471 961l10-1l4 9l-8 7l-9-6l3-9"/><path id="c155" d="M606 1141l10 2l-1-10l10-1l-3-9l9-4l-7-7l10-2l-6-9l9-5M616 1143l2 10M618 1153l-2 7M625 1132l5 9l10 0M631 1119l8 6l9-2l8 6M656 1129l6-6l8 2l2 8l-6 7l-8-2l-2-9M634 1110l6 8M640 1118l7-5l7 4l1 9l-7 4l-8-4l0-8"/><path id="c156" d="M501 990l7-6l-9-3l6-8l-7-7l8-6l-7-7l8-5l-8-6M508 984l9 5M505 973l10 1M515 974l7 4M506 960l8 5M514 965l4 7M507 948l10 2M517 950l2-8l8-3l6 6l-2 8l-8 3l-6-6"/><path id="c157" d="M475 1318l-9-3l1 10l-10 2l2 9l-9-2l0 10M466 1315l-3-10l-9-3M454 1302l1-8M457 1327l-5-9l-10 0M442 1318l-8 5l-7-4l0-9l7-4l7 4l1 8"/><path id="c158" d="M558 1311l7-7l-9-6l7-8l-7-7l9-5l-8-6l8-7l-10-3M563 1290l8 7l9-4M580 1293l6-6l8 1l3 8l-5 7l-9-2l-3-8M565 1278l9 5l8-5l9 5"/><path id="c159" d="M407 1213l7 8l2-10l9 2l0-10l9 5l3-10M414 1221l-3 10l7 7M425 1213l4 10M429 1223l10-3l5 9l-7 7l-9-3l1-10M434 1208l-4 9l5 8l-4 9M431 1234l7 4l0 9l-7 4l-7-4l-1-8l8-5"/><path id="c160" d="M584 1124l0 10l8-7l2 10l8-5l4 9l9-5M594 1137l-7 7M587 1144l6 6l-3 8l-8 2l-6-6l3-8l8-2M606 1141l-4 8l4 9l-5 9M601 1167l8 6l-3 9l-10 0l-3-9l8-6"/><path id="c161" d="M186 1205l7 7l5-9l9 4l7-7l2 10l10 0l-2 10M207 1207l0 10M207 1217l-3 7M216 1210l-7 7l1 10M210 1227l-7 2"/><path id="c162" d="M439 1374l9-4l-2-10l10 1l-2-10l10-1l-9-5l2-9l-9 2l2-10M448 1370l6 8M454 1378l9-5l7 7l-4 9l-10-1l-2-10M456 1361l6 8l10 0l6 8M478 1377l1 7M457 1336l10-3l2-10l10-3M479 1320l8 1"/><path id="c163" d="M602 1246l9 5l2-10l9 3l5-9l5 9l6-7l5 8l6-8l5 9M611 1251l-4 9l5 8l-4 9M608 1277l-7 5M622 1244l-1 9l8 7l-1 10M628 1270l10 2l0 10l-9 4l-6-8l5-8M632 1244l-8 7M624 1251l-7 2"/><path id="c164" d="M472 1282l-7-7l-5 8l-7-7l-3 10l-7-6M453 1276l5-8M458 1268l7-5"/><path id="c165" d="M271 996l1-10l-9 3l-6-8l-4 9l-8-6l-6 8l-7-7l-7 7M272 986l8-6M280 980l8-2M257 981l4-9M245 984l1-10l-8-6l0-10M238 958l5-7M232 985l2-10l-7-7M227 968l-10-2l0-10l9-4l6 8l-5 8"/><path id="c166" d="M422 968l-10 1l2 10l-8-6l-8 6l-4-9l-4 10l-10 2l7 8M412 969l-3-9l-10-2l-4-9M395 949l2-8M406 973l4-9l-5-8l4-9M409 947l-8-4l0-9l7-4l7 3l1 9l-7 5M394 970l4-9l-6-8M392 953l7-5M380 982l-8-5l-9 4l-9-5"/><path id="c167" d="M166 1056l-10 0l6 8l-10 2l8 7l-9 3l6 8l-9 4M151 1076l-10-3l-8 6l-9-3"/><path id="c168" d="M183 955l2 10l9-5l3 10l7-7l3 10l3-10l4 10M185 965l-7 7l3 10M197 970l-6 8l3 9M194 987l-7 4M207 973l-7 7l2 9M202 989l5 9l-6 8l-9-4l0-10l10-3"/><path id="c169" d="M464 1029l-9 2l4 9l-9 5l10-1l3 9l9-5M450 1045l-10-3l-7 7l-10-3M423 1046l-4 9l-10-1l-2-10l9-5l7 7"/><path id="c170" d="M433 1237l-10 2l4 9l-10 2l7 7l-9 4l5 8M423 1239l-3-9M417 1250l-5-9l-10 0l-5-8M415 1261l-9-5l-9 4l-8-5M389 1255l-6 8l-10-4l1-10l9-2l6 8"/><path id="c171" d="M306 1237l2-9l-10 2l-1-10l-9 3l-2-9"/><path id="c172" d="M571 1296l9-3l-5-8l8-6l-7-7l9-5M580 1293l8 7l10-3l7 7M583 1279l8 6l9-4M600 1281l4 7"/><path id="c173" d="M460 1130l-10-1l0 10l-9-2l-1 10l-10-4l-3 9l-8-6l-6 8M450 1129l-3-9l-10-2M437 1118l2-8M441 1137l-2-10l-9-4M430 1123l2-8M419 1146l3-10M422 1136l-10-3l1-10l10-3l5 9l-6 7"/><path id="c174" d="M646 992l7 6l3-9l10 3l0-10l10 0M666 992l6 8l10-1M682 999l1 8"/><path id="c175" d="M451 1379l3-9l-10-1l9-3l-5-9l10-1l3-9l9 3l0-10M454 1370l10-1l5-9M469 1360l7 4M453 1366l8 6l10-3l7 6M470 1350l3 9l10 2M483 1361l8-2l7 5l-2 9l-8 2l-7-5l2-9"/><path id="c176" d="M470 1123l-6 8l9 5l-7 7l9 3l-5 8l10 2l-7 7l6 8M466 1143l-10-2l-7 7l-10-2M439 1146l-6-5M470 1154l-10 1M460 1155l0 10l-10 3l-5-9l6-8l9 4M473 1163l-8-6l-10 3l-8-6"/><path id="c177" d="M230 972l-2 10l10 2l-7 8l10 0l-1 10l9-4M228 982l-10 3M240 1002l-9 5l0 10M231 1017l-8 0"/><path id="c178" d="M414 1291l3-10l-10 4l4-10l-8 6l0-10l-8 6l1-10l-9 3l5-8M417 1281l6-7l-2-10l6-7M427 1257l-7-8l6-8l9 2l1 10l-9 4M411 1275l9-4l1-10l9-5M430 1256l-4-8l4-7l9 1l4 8l-5 7l-8-1M396 1267l9-3"/><path id="c179" d="M539 1397l-6-8l0 10l-10-3l1 10l-10 3l2 10M533 1389l-1-10l-9-4M523 1375l3-8M523 1396l-1-10l-9-4l-2-10M514 1409l-8-6l-9 3l-8-6M489 1400l-3-8"/><path id="c180" d="M153 1037l-5 9l10 0l-5 9l9-5l0 10l7-7M153 1055l-9 3"/><path id="c181" d="M836 1411l-4 10l10 1l3 10l7-7l6-8l-10 1M832 1421l-9-3l-8 7l-9-2M845 1432l-9 4M836 1436l-8 0M858 1417l10 4l8-6M876 1415l3-8l8-1l6 7l-4 8l-8 1l-5-7"/><path id="c182" d="M368 987l7 7l5-8l6 7l5-8l9 5l3-10l10 0M375 994l0 10M386 993l-2 10l6 7l-2 10M400 990l-5 9l5 8"/><path id="c183" d="M273 933l10-1l10-1l2 9l6-7l8 7l5-9l5 9M295 940l-8 6l0 10l-8 6M309 940l-4 9M305 949l-6 6"/><path id="c184" d="M535 1072l-2-10l-9 3l-2-10l-10 4l-4-9l-8 6l-3-9M533 1062l9-3M522 1055l6-8M528 1047l7-3M508 1050l7-8l-3-9"/><path id="c185" d="M565 1372l-10-2l0 10l-7-7l-5 9l-5-9l-7 8l-2-10l-5 9l-10-2M555 1370l-3-9l-10-3l-3-9M548 1373l3-10M551 1363l-8-2l-2-9l7-5l8 2l1 9l-6 5M538 1373l6-8l-3-9l6-8M547 1348l8-3M529 1371l5-8l-4-9M530 1354l7-4"/><path id="c186" d="M737 1491l9-5l-4-9l9 5l-6-8l9-5M746 1486l7 8M751 1482l1 10l9 4"/><path id="c187" d="M644 1472l6-8l-10-1l10-2l-6-8l7-7l-9-4l8-6M650 1461l8 5l9-4"/><path id="c188" d="M680 1194l-7-7l-4 9l-3-9l-8 5l-6-9l-8 6l2-10M666 1187l6-8l-3-10M669 1169l-7-7l5-9l10 2l1 10l-9 4M652 1183l6-8l-3-9l5-8M660 1158l8-4"/><path id="c189" d="M594 1026l-8-6l-3 9l-10-2l-6 8l-3-10l-7 7l-6-8M573 1027l1-10M574 1017l-10-2l-1-10l9-4l7 7l-5 9"/><path id="c190" d="M787 1265l9-3l-8-5l5-9l-4-9l10-1l-8-6l8-6l-8-6M796 1262l7 8M803 1270l1 8M793 1248l9 3M802 1251l5 6M799 1238l8 5l9-4l9 5"/><path id="c191" d="M692 980l-10 1l8 6l-10 4l7 7l-6 8l9 2l-4 9M682 981l-9-4l-9 6M681 1006l-10 2l-3 9l-10 3M658 1020l-8-3"/><path id="c192" d="M555 1061l7 7l7-7l1 10l10 1l2 9M562 1068l0 10M562 1078l-4 7M570 1071l-9 2M561 1073l-8-3"/><path id="c193" d="M354 1294l4-9l-10 0l-1-10l-7 7l-7-7l-3 9l-7-7l-1 10l-10-2M358 1285l10-1l5-8l10-1M383 1275l7 4M347 1275l8-6M333 1275l4-10l-5-8l4-9M323 1277l0-10l-9-6l1-10M315 1251l4-7"/><path id="c194" d="M336 1124l9-5l-9-3l7-7l-8-5l7-7l-10-3l5-9l-10 4l-1-10M343 1109l10 2M342 1097l9 2M351 1099l3-8l8-2l6 6l-2 8l-9 2l-6-6M337 1085l9 5l8-5"/><path id="c195" d="M327 1061l-9 4l4 9l-10 3l5 9l-10 0l0 10l-6-8l-3 10l1-10M318 1065l-8-7M312 1077l-6-8M307 1086l-2-10l-10-3"/><path id="c196" d="M385 1028l3-9l-8 6l0-10l-10 2l0-10l-10 2l6-8M388 1019l8-6M396 1013l8-2M380 1015l9-4l2-10l10-3M401 998l7 1M370 1007l10-3M380 1004l7 2"/><path id="c197" d="M417 859l-8 7l10 4l-2 10l10 0l-8 6l3 10M409 866l-9-1M419 886l-7-7l-10 3M402 882l-8 6l-8-5l2-10l10 0l4 9"/><path id="c198" d="M476 1111l8-7l-8-6l9-3l-4-9l10-1l-3-9l9 4l-2-10l10-2M485 1095l6 8l10 0l6 8"/><path id="c199" d="M234 1190l3-9l-9 3l-1-10l-6 8l-9-4l-5 8l-8-6M227 1174l9-5l0-10M236 1159l8 0M212 1178l1-10l-8-6l0-10"/><path id="c200" d="M651 1197l-9 1l1 10l-9 3l8 4l-4 9l9-4M634 1211l-9-5M625 1206l-5-6M638 1224l-10 2l-4 9M624 1235l0 10l-10 3l-6-8l6-8l10 3"/><path id="c201" d="M281 1332l2 10l7-7l4 9l7-7l5 9l7-7M294 1344l-7 8l2 9l-7 8M306 1346l-5 9M301 1355l7 4l0 9l-7 4l-7-4l0-9l7-4"/><path id="c202" d="M181 1263l8 6l-5-9l10 0l-6-8l7-8M194 1260l6 8"/><path id="c203" d="M265 1281l-6 7l10 3l-5 8l9 5l-8 6l9 3l-4 9l10 2M259 1288l-10-2l-7 7M242 1293l-6-5M264 1299l-10-2M265 1310l-10-4M255 1306l-3 8l-8 1l-5-6l3-8l8-2l5 7"/><path id="c204" d="M563 1449l10-1l-2-9l10-3l-1-10l10 2l-3-10l9 4M573 1448l5 9l10 1M588 1458l0 8M581 1436l6 8l10-2l6 8M603 1450l9-6l8 7l-4 9l-10 0l-3-10M590 1428l1 10"/><path id="c205" d="M604 980l9 5l-4-10l9-4l-6-8l7-7l-5-8l9-3l-9-4l6-8M618 971l9 4l8-6M635 969l5-9l10 2l1 10l-9 4l-7-7M623 945l9 5l9-4M641 946l4 7"/><path id="c206" d="M569 1149l-10-3l-5 8l-3-9l-10 1l5-8l-9-4l3-10M559 1146l3-9l-7-8l3-10M551 1145l9-4l2-10M562 1131l-3-10l8-5l8 6l-3 9l-10 0M546 1138l10-2l4-10M560 1126l7 3"/><path id="c207" d="M572 1159l-3-9l-10 3l-1-10l-4 9l-7-8l-5 8l-10-2l3 9M569 1150l7-7M558 1143l6-9l-5-9M547 1144l1-10l-8-6l1-10M532 1150l-6-8l-10 2M516 1144l-7 5l-8-2l-1-9l6-5l8 2l2 9"/><path id="c208" d="M531 1173l-10 2l6 8l-10 0l5 8l-10 0l-1 9M521 1175l-8-6l-9 4l-8-6M496 1167l-4-7M517 1183l0-10M512 1191l-5-9l-9-1M498 1181l0-8"/><path id="c209" d="M679 1380l-7 6l8 6l-6 8l10-1l0 10l9-2l-4 8l9 2M672 1386l-10-4l-8 6l-9-4M645 1384l-5 8l-10-2l-1-10l9-4l7 8M674 1400l-10-2l-7 8M657 1406l-2 10l-10 0l-4-9l8-7l8 6M684 1409l-9 4l-2 10l-9 4M664 1427l3 9l-9 6l-8-6l4-9l10 0M689 1415l-10 2l-4 10l-10 1M665 1428l-7-2"/><path id="c210" d="M368 1354l-6-8l-4 9l-6-8l-8 6l-4-9l-4 9l-7-7l-7 7l-1-10M362 1346l1-10l-7-6l1-10M357 1320l5-7M352 1347l7-7l-3-10l7-7M340 1344l2-10l-7-7l2-10M329 1346l9-5l1-10"/><path id="c211" d="M278 1213l-9-3l-4 9l-9-4l-2 9l-7-7l0 10l-9 5l5 8M256 1215l-1-10M255 1205l4-8M238 1232l-7-8l-10 2l-7-7"/><path id="c212" d="M527 1451l9-4l-8-6l8-7l-9-4l2-10l-8 6M536 1447l5 8l10 1M536 1434l10 1l6-8"/><path id="c213" d="M210 953l6 8l0-10l10-1l-8-7l6-8l10 0l-1 10l8-6M216 961l-5 9M226 950l4 9l10 1M240 960l9-3l6 8l-6 8l-9-3l0-10M224 935l-3-10M221 925l1-7M233 945l-9 2"/><path id="c214" d="M420 906l10 1l-5-9l10-1l-3-9l10 2l-6-9l9-4l-7-7M430 907l9 5l9-5M442 890l1 10l9 4M452 904l-4 7"/><path id="c215" d="M573 1227l3 10l7-8l8 6l4-9l4 9l4-9l5 9l8-6l1 10M576 1237l-5 8M571 1245l-7 5M591 1235l-4 9M587 1244l-7 5M599 1235l-5 8l5 9l-5 9M608 1235l-5 8l5 9l-4 9M604 1261l8 6l-3 9l-10 0l-3-9l8-6"/><path id="c216" d="M389 1082l-2 10l10 1l2 10l5-9l5 9l7-7l9 5l-1-10M387 1092l-10 3l-3 10l-9 2M365 1107l1 10l-8 5l-8-7l5-9l10 1M399 1103l-4 8l4 9M399 1120l-6 4M409 1103l-8 6l1 10M402 1119l-8 1M425 1101l-3 10l7 7M429 1118l-5 6"/><path id="c217" d="M231 1125l-7 7l9 5l-10 1l6 8l-10-2l2 10l-9 1l8 6M219 1144l-2-10l-9-4M208 1130l-10 1l-4-9l8-7l8 6l-2 9M212 1155l-7-7l-10 1"/><path id="c218" d="M444 1247l10-3l-9-5l10-3l-9-5l4-9l-10 3M454 1244l9 4l8-6l9 4M480 1246l4-8l8-1l5 7l-3 8l-9 1l-5-7M455 1236l8 6l9-3l8 7M480 1246l3 7M450 1222l9-4"/><path id="c219" d="M312 1063l-6 8l8-5l0 10l10-1l6 8l8-5M306 1071l-10 2M296 1073l1 10l-9 4l-7-7l5-9l10 2M314 1076l-9 5M330 1083l-6 8l4 10l-6 8"/><path id="c220" d="M849 1310l-3-10l-8 6l-5-9l-8 6l-3-9l-8 6l-6-8l-5 9M846 1300l8-6l-1-10M853 1284l8-1M833 1297l5-8l-5-9l5-9M838 1271l-8-6l3-9l10 0l3 9l-8 6M822 1294l10-3l3-9M835 1282l-1-10l9-4l7 7l-5 9l-10-2M808 1292l5-8M813 1284l7-4"/><path id="c221" d="M408 1016l0-10l-9 1l3-9l-10 1l2-10l-9-3M408 1006l10-3l3-10M402 998l10 0"/><path id="c222" d="M744 1473l4 9l6-8l6 8l3-10l9-4l-3-10l9 3l-6-8l10 4M748 1482l-3 9l6 8l-4 10M778 1461l7 7l10-2M795 1466l2 8"/><path id="c223" d="M787 1406l2 10l9 4l-7 7l9 4l-9 4l1 10l-10-3l3 9l-10-1M789 1416l-10 0l-5 8M774 1424l-1 8l-8 4l-7-5l1-8l8-4l7 5M791 1427l-9-6M791 1435l-5-9l-10-1l-4-8M772 1417l-10 3l-6-8l5-8l10 3l1 10M782 1442l-1-10M781 1432l3-8"/><path id="c224" d="M545 929l-9 5l7 7l-10 1l1 10l-10 0l3 9l-6-8l-7 8M536 934l-4-10l-10-2M522 922l2-8M533 942l-6-8M524 952l-5-9M521 953l4-9l-6-8M519 936l6-5"/><path id="c225" d="M733 1311l1-10l-9 5l4-9l-8-5l9-2l-5-9l10-3l-3-9l10-1M729 1297l10 4M739 1301l5-9l9 2l1 10l-9 4l-6-7M730 1290l5 8"/><path id="c226" d="M470 960l9-4l0-10l6 8l4-9l7 8l6-8M479 956l4 9M483 965l8-3l7 4l-1 9l-7 4l-7-5l0-9M485 954l-3 10l6 8M488 972l-6 5M496 953l-2 9l7 7"/><path id="c227" d="M691 1415l10-4l-5-9l10-1l-10-4l5-9l-10 0l2-9l-10 3l-1-10M701 1411l5 8l10 0l6 9M722 1428l7-5l8 4l0 9l-7 4l-8-4l0-8M706 1401l6 7l10-1l7 7M693 1379l10-1l5-9l10 0M718 1369l7 3"/><path id="c228" d="M433 1086l9-6l-9-4l9-5l-6-8l8-5l-5-9l8-6M442 1080l6 8M448 1088l8-5l8 6l-4 10l-10-1l-2-10M442 1071l7 6M449 1077l3 8M444 1058l7 7l10-2l7 7"/><path id="c229" d="M742 1327l8 6l6-8l3 9l6-7l9 6l-4-10M750 1333l-3 10l6 7M753 1350l-6 6M774 1333l3 9"/><path id="c230" d="M311 1133l-1-10l-8 6l-5-8l-5 8l-1-10l-7 7M310 1123l9-3l3-10l9-3M297 1121l2-10M291 1119l5-8l-4-9M292 1102l7-4"/><path id="c231" d="M543 1036l-6 8l7 7l-7 7l3 9l-10 0l2 10l-10 0l4 8M537 1044l-9-4l-8 6M520 1046l-5-7M537 1058l-8-7M530 1067l-3-9l-10-3l-3-9M514 1046l2-8M522 1077l-3-10M519 1067l-10 1l-4-9l7-7l9 5l-2 10"/><path id="c232" d="M787 1326l5 8l6-8l5 9l5-9l6 8M792 1334l-6 8l4 10l-6 8M803 1335l-6 8l4 9l-6 9M795 1361l-7 3"/><path id="c233" d="M290 1172l8 5l6-8l7 7l4-9l10 2M311 1176l-4 9l5 9M312 1194l8 5l-3 10l-10 0l-3-9l8-6"/><path id="c234" d="M317 1227l-3 10l9 4l-6 9l10-1l1 10l9-4l2 10l9-4l5 8M314 1237l-10-3l-8 6M317 1250l-10 1M307 1251l-7-3M328 1259l-9 5l-1 10l-9 4M309 1278l-8 0M339 1265l-9 6"/><path id="c235" d="M547 1325l2-9l-9-4l9-5l-3-10l9-4l-2-10l10 0M549 1316l10 0l6-9l10 1M575 1308l7 4M555 1293l3 10l10 2M568 1305l-2 8"/><path id="c236" d="M409 924l8-6l-7-7l5-8l-7-7l10 2M417 918l6 8M415 903l9 4M424 907l6-8l9 3l1 10l-10 3l-6-8"/><path id="c237" d="M411 1246l10-1l-2-10l8-6l-9-6l8-6M421 1245l1 10l9 4M431 1259l-2 7M427 1229l9 2"/><path id="c238" d="M513 1405l-9 4l8 7l-7 7l6 7l-10 4M504 1409l-7-7l-10 2l-7-7M480 1397l-8 5l-8-5l3-10l10 0l3 10"/><path id="c239" d="M187 1022l9-2l-3-9l10-1l-7-7l9-4l-7-6l8-6l-8-7l9-4M196 1020l3 10l9 3M208 1033l-2 8M203 1010l6 7l10-2l7 8M226 1023l2 8M205 999l9 4M214 1003l6 5"/><path id="c240" d="M518 1300l9-4l-4-9l10-2l-9-4l7-6l-10-3l6-8l-8-5M527 1296l4 10M531 1306l-2 8M533 1285l4 10l10 1l4 9M551 1305l-1 8M531 1275l10-1M527 1264l10 3"/><path id="c241" d="M286 1420l-9-4l-1 10l-10 1l-9-5l9-5M277 1416l0-10l-9-5l0-10M268 1391l4-8M266 1427l-8 6l0 10M258 1443l4 8l-7 8l-9-5l2-10l10-1"/><path id="c242" d="M388 1254l-5 8l10-3l-4 9l8 6l-10 2l5 9M389 1268l-10-3M387 1276l-4-9l-9-2M374 1265l0-8"/><path id="c243" d="M242 1169l-10-3l-7 8l-5-9l-5 9l-3-10M232 1166l0-10l-9-5M220 1165l2-10l-6-7M216 1148l5-6"/><path id="c244" d="M631 1333l-10-1l2 10l-9-6l-2 10l-10 1l3 9l-10 2l1 10M621 1332l-3-10l-9-3M602 1347l-3-10M599 1337l1-8M595 1358l-6-8M589 1350l-9 5l-7-7l4-9l10 1l2 10"/><path id="c245" d="M670 1171l10 3l4-9l3 10l7-8l5 9l8-4l1 10l10-3M680 1174l-2 10l8 7l-2 10M684 1201l-4 6M687 1175l-5 8l3 9M685 1192l-7 4M699 1176l-10 5M708 1182l-10 1M698 1183l-7-3"/><path id="c246" d="M606 1272l3 9l9-5l5 9l7-7l0 10M609 1281l-9 3l-2 10M598 1294l2 10l-9 5l-7-7l4-9l10 1"/><path id="c247" d="M434 993l10 2l1-10l8 7l0-10l7 7l0-10M444 995l0 10M444 1005l8 0l4 8l-4 7l-9 0l-4-7l5-8M453 992l-2 9l7 7l-2 10M460 989l-4 9l7 8"/><path id="c248" d="M736 1079l9 5l5-8l7 7l4-9l8 6l2-9l10 3l-3-10l10-3M757 1083l-5 8l4 9l-6 9M750 1109l8 6l-4 9l-10 0l-2-10l8-5M769 1080l-2 10M767 1090l10 3l0 10l-10 3l-6-7l6-9M781 1074l2 9l10 3l3 10"/><path id="c249" d="M502 1122l-6-9l-8 6l-7-7l2 10l-10-2l0 10M496 1113l5-8l-4-9M481 1112l1-10M473 1120l0-10M473 1110l4-7"/><path id="c250" d="M337 942l10-2l-6-8l9-3l3-10l9 2l0-10l8 6l5-9M347 940l6 8l10-1M363 947l1 8M362 921l2 10l10 4l2 10M370 917l-4 9l6 8"/><path id="c251" d="M752 1366l-9-4l3 10l-10-2l-1 10l-8-7l2 10l-8-5l-5 8M743 1362l-4-9l-10-1l-5-9M724 1343l1-8M736 1370l-1-10M727 1373l-1-9l-9-5M717 1359l-9 1l-5-7l4-7l8-1l5 7l-3 7M721 1378l3-10l-7-7l3-10M720 1351l-9-4l0-10l10-2l5 8l-6 8"/><path id="c252" d="M566 1267l3 10l8-6l8 7l5-8l7 7l0-10M569 1277l-10 4l-1 9M585 1278l-3 9M582 1287l8 3l2 8l-6 6l-8-3l-2-8l6-6M597 1277l7 8l9-1l7 8M620 1292l1 8"/><path id="c253" d="M730 1248l10-1l-4-9l9-1l-1-10l10-2l-3-9l5 8M740 1247l9 5M745 1237l2 9l9 5l1 10M757 1261l10 0l3 9l-8 6l-8-6l3-9M754 1225l7 8l10-1M771 1232l8-6l8 6l-4 10l-10-1l-2-9"/><path id="c254" d="M677 1191l-8-5l-8 7l-1-10l-5 9l-6-8l-5 9l-5-9M669 1186l-2-10l-8-4l-2-10M660 1183l6-8l-4-9l6-8M649 1184l3-9l-6-8l4-9M650 1158l-9-5l2-10l10-1l4 9l-7 7"/><path id="c255" d="M710 1117l3-9l-9 4l-1-10l-10 4l-2-10l-9 4M703 1102l8-6l-2-10"/><path id="c256" d="M283 1199l-10-2l8 5l-2 10l10 1l-1 10l10-1l-3 10l10 2l-4 9M279 1212l-10 2l-4 9M265 1223l-8-3M288 1223l-10 3l-2 10M295 1232l-10 0l-5 9l-10 1M270 1242l0 10l-10 2l-5-8l6-8l9 4"/><path id="c257" d="M830 1342l-7-6l0 10l-8-5l2 10l-10 1M823 1336l0-10M823 1326l-9 0l-4-8l5-7l8 0l4 8l-4 7M815 1341l-4-9l-10-1l-4-9M797 1322l-8 3l-7-5l1-9l8-3l7 5l-1 9"/><path id="c258" d="M217 1161l-8-7l-8 5l-6-8l-8 6l-3-9l-10-3M209 1154l5-9l-6-8M208 1137l6-5M195 1151l4-9l-5-8M194 1134l7-5M184 1148l8-6l0-10l9-5M201 1127l8-1"/><path id="c259" d="M520 1275l8-6l-10-2l7-6l-10-2l4-9l-10-2l4-9l-10 3l-6-8M525 1261l10-3l3-9M519 1250l9 4M513 1239l9-2l4-9"/><path id="c260" d="M358 888l5 8l8-7l2 10l5-9l6 8l8-5l1 9M363 896l-7 6l1 10l-8 7M349 919l-7 2M373 899l-7 7l2 10M384 898l-4 9M380 907l8 5l-2 10l-10 1l-4-9l8-7"/><path id="c261" d="M467 1359l-5 9l10 1l3 10l9-4l-5 8l10 2l-3 10l10 0M462 1368l-10-3l-7 7M445 1372l-6-5M475 1379l-9 3l-2 10M479 1383l-10-1l-7 8M486 1395l-10 2l-3 10l-10 2M463 1409l-7-2"/><path id="c262" d="M443 1036l9-2l-9-2l7-7l-9-4l7-7l-9-5M450 1025l9 4l8-6M467 1023l5 6M448 1014l9 2l8-6M465 1010l4-10l9 1l3 10l-9 5l-7-6"/><path id="c263" d="M444 1079l8-6l-9-3l3-9l-10 0l-1-10l-8-5M452 1073l10 2l7-8l10 2M446 1061l10-2l3-9l10-2M469 1048l8 2M435 1051l10-1M445 1050l0-9l7-4l8 3l0 9l-7 5l-8-4"/><path id="c264" d="M397 1336l-7 7l9-4l-1 10l10-3l-4 10l10 0l-7 7l8 6l-8 6M398 1349l-6 7l3 10M404 1356l-10 1l-4 9M407 1363l-9-4"/><path id="c265" d="M723 1268l-8-6l-1 10l-10-4l-2 10l-7-7l-8 6l-8-6l-4 9l-8-5M715 1262l3-10l-6-8M704 1268l1-10M679 1271l3-9l-6-8"/><path id="c266" d="M410 1344l0 10l8-6l1 10l9-4l-4 10l10-2M410 1354l-8 6M402 1360l6 8l-7 8l-9-4l1-10l9-2M419 1358l-9 5l-1 10"/><path id="c267" d="M255 1216l-9-3l5 8l-8 5l5 9l-10 0l0 10l-8-6M246 1213l-5-9l-10-1l-5-8M243 1226l-8-6l-10 3M225 1223l-2-8M238 1235l-5-9l-10 0"/><path id="c268" d="M403 954l-6 8l9 4l-8 7l6 8l-7 7l10 4l-4 10M397 962l-10 1M398 973l-7-8l-10 3l-7-8M374 960l-2-7"/><path id="c269" d="M513 1314l-1 10l10 1l-3 9l10-1l-2 10l9 4M512 1324l-10 2M502 1326l-7-3M519 1334l-10 2l-3 10l-10 2M527 1343l-9-2l-7 8l-10-2M501 1347l-6-5"/><path id="c270" d="M511 1250l-2-10l-8 5l4-9l-10-2l4-9l-10 0l7-7l-9-3l4-9M509 1240l10-3l2-10M521 1227l8 1M505 1236l10-1M515 1235l0-10l10-3l6 8l-7 8l-9-3M499 1225l10 0M509 1225l7 3"/><path id="c271" d="M613 1229l5 8l9-5l0 10l10 0l-2 10M618 1237l-5 9l4 9M627 1242l-9 4l0 10M618 1256l-8 0"/><path id="c272" d="M553 1200l-6 8l3 9l-9 5l7 7l-9 5l3 9l-10 0l8 6l-5 9M547 1208l-8-7l-9 3l-8-6M522 1198l-7 7l-9-5l2-10l10-1l4 9M541 1222l-9-5l-8 5l-9-4M515 1218l-4-7M539 1234l-2-10M537 1224l-10 1l-4-9l7-7l9 5l-2 10M532 1243l-4-9l-10-2l-3-9"/><path id="c273" d="M582 1023l-7-7l-6 9l-9-5l-1 10l-6-9M575 1016l2-9l-7-7l2-10M572 990l6-6M560 1020l1-10M561 1010l-8-1l-3-8l5-7l8 1l3 8l-5 7"/><path id="c274" d="M704 1088l8 6l0-9l8 6l3-10l-1 10M712 1094l0 10l9 5M721 1109l-4 8M720 1091l-3 9l7 8M724 1108l9 4l-1 10l-10 2l-5-9l7-7"/><path id="c275" d="M296 1286l0 10l8-4l-5 8l10 2l-5 8l9 4l-5 8M296 1296l-10 2l-5 9l-10 1M304 1310l-10 0l-6 8M288 1318l-7-4"/><path id="c276" d="M440 893l-10-1l2 9l-10 0l5 9l-10-2l-4 9l-8-6l-6 8M430 892l-2-10M422 901l0-10M417 908l2-9l-7-7l2-10M414 882l5-6M405 911l6-7"/><path id="c277" d="M218 1343l10 1l-2-10l9-4l-9-5l8-6l-9-5M228 1344l3 9M231 1353l9-2l6 5l-2 9l-8 2l-6-6l1-8M234 1319l10 1l6-7M250 1313l3-10l10-1l3 10l-7 6l-9-5"/><path id="c278" d="M357 1048l-8 6l8 6l-9 4l8 7l-10 1l-1 10l-9-4M349 1054l-9-5M340 1049l-4 8l-8 0l-5-8l4-7l9 0l4 7M348 1064l-9-5l-9 5l-8-5M322 1059l-7 8l-9-4l0-10l10-2l6 8M346 1072l-4-10l-9-2M333 1060l1-8"/><path id="c279" d="M485 1368l-6-8l-6 8l-4-9l-4 9l-3-9M469 1359l4-9"/><path id="c280" d="M323 982l-2-10l-5 8l-7-7l1 10l-10 1l6 8l-7 6l8 6M309 973l-2-10l-9-4M298 959l3-7M300 984l-6-8l-10 0M299 998l-7-7l-10 2M282 993l-2-8"/><path id="c281" d="M320 1254l5 9l6-8l9 5l5-9l8 6l-3-9l10-2M340 1260l-3 10M337 1270l-5 6M353 1257l4 9"/><path id="c282" d="M392 1442l2 10l7-6l6 8l4-10l7 7l8-7l2 10l7-8l3 10M394 1452l-8 7M407 1454l-5 8l4 9M406 1471l7 5l-1 9l-8 3l-7-5l1-8l8-4M418 1451l-8 6l1 10l-8 6M428 1454l-6 8M422 1462l-7 3"/><path id="c283" d="M276 1270l10-3l-8-6l10-3l-3-10l10-1l-1-10M288 1258l7 6M295 1264l3 8M295 1247l2 10"/><path id="c284" d="M361 1369l-10-3l1 10l-10-3l8 7l-10 1l7 7l-10 1l5 9l-10 2M351 1366l2-10M353 1356l-9-4l1-10l9-2l6 8l-7 8M342 1373l-7-6l-10 2l-7-7M340 1381l-5-9l-10-1l-5-8M337 1389l-7-7l-10 2"/><path id="c285" d="M384 866l9 4l0-10l7 6l6-8l7 7M393 870l-2 10l7 7M400 866l-4 9l6 9"/><path id="c286" d="M365 1474l10 2l-4-9l10 3l1-10l10 3l-4-10l10-2M375 1476l4 9l10 1l5 9M394 1495l9-3l6 8l-6 9l-9-4l0-10M381 1470l-3 9l6 8l-3 9M392 1463l3 9"/><path id="c287" d="M293 1220l-9 5l2 10l-10-1l2 10l-10-2l3 9l-10-3l7 8l-10 0M276 1234l-2-9M268 1242l3-10l-6-8l3-9"/><path id="c288" d="M323 1010l0-10l-10 0l3-9l-9 3l2-10l-10-1l7-8M323 1000l9-3l4-9M316 991l10 1l6-8M332 984l7 4M309 984l10-1l4-9M323 974l7 2"/><path id="c289" d="M309 1152l-3 10l10 2l-4 9l10 0l-6 8l10 0l-3 10l10 2l-7 7M306 1162l-10-3l-7 6M312 1173l-10 0l-6 9l-10 0M286 1182l-1 10l-9 2l-5-9l6-7l9 4M316 1181l-10 1l-4 9M302 1191l-1 10l-10 2l-5-8l6-8l10 4M323 1191l-10 0l-5 9"/><path id="c290" d="M416 1241l6-8l-8-6l10-2l-8-5l2-10l-10 1M424 1225l3 10l9 3M436 1238l-2 8M418 1210l9 1l7-8M434 1203l6 5"/><path id="c291" d="M611 1419l8-7l-6-8l9-3l-8-6l10 2l-1-9l8 6l0-10l9 4M619 1412l9 2l7-7l10 2M645 1409l6 5M622 1401l8 6l9-3M624 1397l1 10M625 1407l10 1l3 9l-8 6l-8-6l3-10M631 1394l1 9"/><path id="c292" d="M309 944l-9 4l9 6l-8 7l8 6l-9 3M300 948l-9-3l-8 6l-10-3M273 948l-3 7l-8 2l-5-7l3-8l8-1l5 7M301 961l-9 2l-3 10"/><path id="c293" d="M654 1258l-7-7l-7 7l-6-8l-7 7l-8-5l-5 9l-6-8M647 1251l2-10M649 1241l4-6M619 1252l4-9l-5-9l5-8M623 1226l7-5"/><path id="c294" d="M404 1061l-8-6l-4 8l-7-7l-8 5l-2-9l-3 9l-8-7l6 8M396 1055l7-8l-2-9M385 1056l7-8l-3-10l6-7M395 1031l-7-8l5-8l10 2l1 9l-9 5M375 1052l5-9l-4-9M376 1034l7-4M364 1054l-4-8l-10-1M350 1045l0-8"/><path id="c295" d="M798 1281l-9 5l10 3l-2 10l9-2l2 10M789 1286l-9-4l-8 6M797 1299l-10 0l-6 8M781 1307l-1 8l-7 4l-7-5l0-8l8-4l7 5"/><path id="c296" d="M226 935l-6 9l9-5l2 10l6-7l4 9M220 944l-10-1l-6 8l-10 0M194 951l-2 10l-10 1l-4-9l7-7l9 5"/><path id="c297" d="M542 1384l-10-2l-1 10l-10 1l3 10l-10 0l4 9l-10 3M532 1382l-2-10M530 1372l2-7M521 1393l-2-10M514 1403l-3-10"/><path id="c298" d="M198 1088l-9-6l4 10l-9 4l9 5l-7 7M189 1082l-3-9M186 1073l1-8M184 1096l-9-4l-8 6l-9-4"/><path id="c299" d="M236 1203l-8 7l6 7l-9 2l3 9l-10-1l6 9l-10 3l8 6M228 1210l-7-7l-10 2l-7-7M204 1198l-3-7M225 1219l-8-7M217 1212l-6 6l-8-2l-2-8l6-6l8 2l2 8M218 1227l-1-9l-10-4M207 1214l3-8M214 1239l-8-6"/><path id="c300" d="M596 917l-9-5l7 8l-10 1l-1 10l-10-1M587 912l-2-9l-10-4M584 921l-3-9M581 912l-9 2l-6-5l2-9l8-2l6 5l-1 9"/><path id="c301" d="M444 1290l4-10l-9-4l5-9l-9-5l5-8l-10-3M448 1280l9-3M457 1277l-2-10l8-5l8 6l-4 10l-10-1"/><path id="c302" d="M765 1023l6 8l9-5l-5 8l7 7l-10 2l5 9l-6 8M771 1031l-6 7l2 10M767 1048l-7 3M775 1034l-9-4M772 1043l-6-8l-10 1l-6-8M750 1028l-1-8"/><path id="c303" d="M218 1148l7 7l2-9l4 9l6-7l7 7l-1-10l10 0M225 1155l-1 10l8 6l-1 10M231 1155l-5 9M226 1164l9 5l-3 10l-10 1l-3-10l7-6M244 1155l-6 8M238 1163l-7 4"/><path id="c304" d="M677 1269l7 8l5-9l8 6l6-8l0 10l7-6M684 1277l-6 8l3 9M681 1294l-8 3M703 1276l-5 9l5 9l-5 8M698 1302l8 6l-4 10l-10 0l-3-10l9-6"/><path id="c305" d="M544 1110l-3-10l-9 5l5-9l-9-4l5-8l-9-4l6-8l-6-8M541 1100l7-7M548 1093l8-2M537 1096l10-2l4-9l10-2M533 1084l10 1l6-8M549 1077l7 4M530 1072l10 1l7-7M547 1066l6 5"/><path id="c306" d="M618 1283l10-4l-9-4l7-7l-6-8l10-2l-4-9l10 1l0-10M626 1268l7 7l10-2l7 6M630 1258l6 8M636 1266l8-5l8 6l-4 9l-10 0l-2-10M636 1250l2 10"/><path id="c307" d="M666 1402l8-6l-7-6l10-2l-4-9l10-1l0-10l9 5l6-8l4 9M674 1396l10 4l8-6l9 4M701 1398l5-9l10 2l1 10l-9 4l-7-7M677 1388l8 6M685 1394l5-6l8 1l3 8l-5 6l-8-1l-3-8M683 1378l4 9M687 1387l0 8"/><path id="c308" d="M163 1160l-10-2l0 10l1 10l8-6l4 9l4-9M153 1158l0-10l-8-5M145 1143l-8-1l-4-8l5-7l8 1l4 8l-5 7M154 1178l-9 5l-1 10M144 1193l4 7l-5 7l-8 0l-4-8l5-7l8 1M166 1181l-4 10l6 8M168 1199l-6 5"/><path id="c309" d="M590 1470l6 8l10 0l-7 8l7 7l-10 3l7 7l-10 0l-1 10l-10-3M596 1478l-9 4l-1 10M596 1496l-4-10l-10-2M582 1484l2-8M593 1503l-3-9l-10-3l-2-10"/><path id="c310" d="M392 1231l-9 5l6 7l-8 5l10 2l-8 6l10 1l-2 10l9-3l3 9M381 1248l-10 0M383 1256l-9-4l-8 6l-9-4M391 1267l-8 6l1 10l-8 7M376 1290l5 8l-6 8l-9-4l1-10l9-2"/><path id="c311" d="M238 1017l10 1l-6-7l9-2l-7-7l9-5l-10-2l8-7l-7-7l10-3M248 1018l7 8l9-2l7 8M271 1032l8-6l8 7l-3 9l-10 0l-3-10M251 1009l7 7l10-1M251 988l10 2l7-7l10 1M278 984l6 5"/><path id="c312" d="M610 1018l4-10l-10 3l3-10l-9 3l-5-9l-5 8M614 1008l9-2M623 1006l0-10l9-4l6 8l-5 8l-10-2M607 1001l10-2l3-10l10-2M593 995l3-10l-7-7"/><path id="c313" d="M377 971l-2-10l-9 5l-4-9l-8 7l-1-10M375 961l8-6M383 955l-5-8l6-8l10 4l-1 10l-10 2M362 957l8-5l1-10M371 942l8 0"/><path id="c314" d="M623 1437l-10-2l2 10l-9 4l10 2l-4 9l9 3l-6 8l9 3l-3 9M613 1435l-3-9l-10-3M600 1423l1-7M606 1449l-9-3l-8 6M589 1452l-5-5M612 1460l-10-1l-7 8M615 1471l-10-3l-7 7l-10-3M588 1472l-5-6"/><path id="c315" d="M541 1445l2 10l8-5l-1 10l8-6l1 10l8-5l4 10M550 1460l-9 4l-1 10M540 1474l4 10l-8 6l-9-6l3-9l10-1M559 1464l-7 8l2 9M554 1481l-8 3"/><path id="c316" d="M481 1424l-8-6l-3 10l-9-4l-5 9l-4-9l-7 7l0-10M473 1418l6-8l-4-9M461 1424l1-9l-7-7M455 1408l5-6M452 1424l6-8l-4-9"/><path id="c317" d="M303 1097l-6 8l10 4l-8 7l10 0l-2 10l9-5l8 6l6-7M297 1105l-10-1M299 1116l-9-4M307 1126l-10 1M297 1127l-7-4M324 1127l-7 8M317 1135l-8 2"/><path id="c318" d="M679 1471l-2 10l10 3l-7 7l9 5l-4 9l10 0l-1 10l10 0l8-5M677 1481l-10 2l-3 9M680 1491l-8-5M672 1486l-4-7M685 1505l-10-2l-7 7l-10-2M694 1515l-10 2l-3 10l-9 3M672 1530l-8-2"/><path id="c319" d="M320 940l1-10l-8 6l-8-5l-6 8l-3-10l-4 10l-9-5M321 930l6-8M305 931l1-10l-8-6M296 929l6-8"/><path id="c320" d="M610 1113l-8 6l7 7l-9 5l8 5l-6 8l7 7l-8 6l10 2l-9 4M602 1119l-8-6M594 1113l-3-8M602 1144l-9-4M601 1157l-10 1"/><path id="c321" d="M567 904l-10 1l9 2l-8 6l7 7l-8 5M558 913l-8-6l-9 3M541 910l-5 7l-9-2l-3-8l6-6l8 1l3 8"/><path id="c322" d="M461 1405l5-8l-9 4l-4-10l-8 6l-7-8l-3 10l-10 1l6 8l-10 3M466 1397l9-4l2-10l9-4M486 1379l8 1M453 1391l9-5l0-10l9-5M471 1371l8 0M425 1400l-7-7l-10 2l-7-7"/><path id="c323" d="M552 1372l7 7l5-8l7 7l3-10l10 2l2-9l10-1l-1-10l9 3M571 1378l2 10l9 4M582 1392l-3 7M584 1370l-1 10M583 1380l10 2l2 10l-9 4l-7-7l4-9M596 1360l4 9l10 2l4 9M614 1380l-1 8"/><path id="c324" d="M235 1380l6-8l-8-6l10-3l-7-7l5-9M241 1372l10 4l8-5l9 3M268 1374l5 7M243 1363l8 6l9-4M260 1365l7-7l9 4l-1 10l-10 2l-5-9"/><path id="c325" d="M279 1239l-4 9l10 0l-6 9l10 0l2 9l5-9M291 1266l-2 10l7 7l-2 10M294 1293l-5 6"/><path id="c326" d="M164 985l-9 5l10 2l-8 6l8 7l-6 8l9-4l3 10l5-8M155 990l-9-4l-9 5M157 998l-7-7M159 1013l-9-4l-8 6l-9-4M133 1011l-5-6M171 1019l-4 9l6 8M173 1036l-7 5"/><path id="c327" d="M499 853l0 10l9-6l3 10l5-9l8 5l2-9l8 6l6 8l-10 0M499 863l-7 6l1 10l-7 7M511 867l-8 5l-1 10M502 882l-8 0M524 863l-3 10M521 873l-5 6"/><path id="c328" d="M454 1062l-10 1l0 10l-10 0l6 8l-9-5l-5 8l-1-10l-9 4M444 1063l0-10l-9-5M434 1073l-7-8l-10 2M417 1067l-2-7M431 1076l3-9l-6-8M428 1059l6-6M425 1074l6-7l-3-10"/><path id="c329" d="M756 1205l-5 9l9 4l-9 4l8 5l-6 8l8 5l-6 8l10 2l2 10M751 1214l-9-2l-8 7l-9-3M725 1216l-3 9l-8 2l-6-6l2-8l9-3l6 6M753 1235l-10-2M743 1233l-3 9l-10 0l-3-10l8-5l8 6"/><path id="c330" d="M629 1011l-8 6l8 6l-5 9l9 5l-8 6l7 7M621 1017l-9-3l-8 6M624 1032l-10-1l-6 8M608 1039l-6-4M625 1043l-9-4l-9 4"/><path id="c331" d="M580 1101l-5-8l-5 8l-5-9l-9 3l-3-10l-9 4l0-10l-10 4M575 1093l5-9M580 1084l6-5M565 1092l6-9l-5-9M566 1074l7-4M553 1085l8-6M561 1079l8-1"/><path id="c332" d="M488 1055l-5 9l10-2l-3 9l10-3l-4 9M483 1064l-10 1l-4 9l-10 1M490 1071l-8 5"/><path id="c333" d="M525 1014l-4 10l9-5l-4 10l10-2l-2 10l10-4l-2 10l10 0M521 1024l-10-1M526 1029l-10 2l-3 9M513 1040l1 10l-10 4l-6-8l5-8l10 2M542 1043l-9 4M533 1047l-8 0"/><path id="c334" d="M326 936l2 10l5-9l8 6l6-8l2 10l10-2l-2 10l10-2l-5 9M328 946l-6 8l3 9M325 963l-7 3M341 943l-5 9l5 8l-5 9M336 969l8 6l-3 10l-10 0l-3-10l8-6M349 945l-6 7M357 953l-8 6l0 10l-8 5M341 974l5 7l-4 8l-9 0l-4-7l4-7l8-1"/><path id="c335" d="M710 1304l7 8l6-8l7 7l5-8l6 9l6-8l9 1l-1-10M717 1312l-3 9l7 7l-2 10M730 1311l-1 10l8 6l0 10M737 1337l8 1l4 8l-5 7l-8-1l-4-8l5-7M741 1312l-6 8l3 9M756 1305l5 9l10 0M771 1314l10-4l6 8l-5 9l-10-3l-1-10"/><path id="c336" d="M671 1143l3-9l-10-3l8-6l-7-7l8-6l-8-6l8-6l-4-9l10 1M674 1134l9-2l4-10l10-2M673 1112l7 8l10-3l7 8M697 1125l2 7M673 1100l5 9l10 1M688 1110l0 8"/><path id="c337" d="M456 972l-10 0l9 4l-6 8l9 4l-2 10l10-2l3 10l8-5M446 972l-7-7l-10 2M456 998l-10 1l-4 8l-10 1M432 1008l-8-3M469 1006l-9 5l0 10l-9 5M451 1026l4 8l-4 7l-8 0l-5-7l5-8l8 0"/><path id="c338" d="M408 1155l9-4l-8-5l9-4l-5-9l10 1M417 1151l10 1M418 1142l5 8"/><path id="c339" d="M580 1302l-1 10l9-5l7 8l5-9l2 10l10-2l-6 8M579 1312l-8 5M571 1317l3 10l-7 6l-9-5l3-10l10-1M595 1315l-3 10l7 7M599 1332l8 2l2 8l-6 6l-8-2l-2-8l6-6"/><path id="c340" d="M731 1347l-1 10l9 3l-3 9l10 3l-6 8l10-1M730 1357l-10 0l-5 9M740 1380l-10 0M730 1380l-8-3"/><path id="c341" d="M530 1191l-2-10l-9 3l5-8l-9-3l9-4l-3-10l10 0l5-9M524 1176l10 2l7-8M541 1170l6 5M524 1169l6 8l10 0l5 8M545 1185l9-4l7 7l-5 9l-10-2l-1-10M531 1159l-2 10l7 7M536 1176l10 3l0 10l-10 3l-6-8l6-8"/><path id="c342" d="M679 1124l9 4l2-10l10 1l0-10l8 6l5-9l9 3M688 1128l0 10l8 6M700 1119l1 10l8 5l1 10M710 1144l-4 7M708 1115l-5 9M703 1124l-7 4"/><path id="c343" d="M615 1301l-10-2l4 9l-10 4l4 9l-9 2l5 9l-9 4M605 1299l-6-8M599 1291l-7 6l-8-3l-1-9l6-5l8 3l2 8M599 1312l-4-9M594 1323l-5-9l-10-1M579 1313l0-8"/><path id="c344" d="M668 1340l-7-6l-8 7l-9-5l-5 8l-8-5M661 1334l4-9l-5-9l4-9M664 1307l7-4M644 1336l-3-9"/><path id="c345" d="M649 973l-2-10l-6 9l-3-10l-8 6l-7-7l-1 9l-9-3M647 963l7-7M654 956l-6-6l2-8l9-2l5 6l-2 8l-8 2M638 962l10-3l2-10l9-3M659 946l8 1M623 961l5-9l-4-9M624 943l6-4"/><path id="c346" d="M815 1373l-10-3l-2 10l-4-9l-7 7l-3-9M805 1370l0-10l-8-6l0-10M797 1344l4-6M799 1371l5-9M804 1362l-7-6l3-10l10 1l3 10l-9 5"/><path id="c347" d="M574 1384l3 9l8-6l3 10l7-7l9 2M577 1393l-8 6l0 10M569 1409l-7 1M588 1397l-6 8l4 9"/><path id="c348" d="M210 1263l9-2l-7-7l8-6l-6-8l10 3l1-10l9 3M219 1261l6 8l10 0M220 1248l9 4l9-6M238 1246l5 7M224 1243l0 10l8 5l0 10M232 1268l-4 7"/><path id="c349" d="M315 1040l6 8l4-9l7 7l4-9l7 7l6-8l1 10M321 1048l-5 8M316 1056l-7 4M332 1046l-5 8l5 9M343 1044l-2 10"/><path id="c350" d="M367 1079l2-10l-9-4l9-4l-8-7l7-7l-10-3M369 1069l10 2l7-7M386 1064l3-9l10 0l3 10l-8 5l-8-6M369 1061l8 6l9-3l8 6M394 1070l3 7"/><path id="c351" d="M319 1002l2 10l7-8l5 9l3-10l9 6l0-10l8 5l3-9M321 1012l-6 7l2 10l-6 7M345 1009l3 9l10 2M358 1020l9-2l5 9l-6 7l-9-4l1-10M353 1004l-2 10l7 7l-2 10"/><path id="c352" d="M415 1227l8 5l1-10l9 6l4-9l7 8M423 1232l4 9M433 1228l-4 10l6 8l-4 9"/><path id="c353" d="M460 1456l1 10l9-4l0 10l6-8l5 8l8-6M461 1466l-9 5l-1 10l-9 4M442 1485l-8 0M470 1472l-4 9l5 8M471 1489l-6 5M481 1472l-6 7l2 10l-7 7M470 1496l-7 3"/><path id="c354" d="M773 1415l1 10l8-6l3 10l8-5l-1 10l10 2l-7 6l8 7M774 1425l-7 7M767 1432l-8 2M785 1429l-9 5M776 1434l4 9l-7 7l-9-5l2-10l10-1M792 1434l-7-7l-10 3l-7-6M795 1442l-10-1l-7 7l-10-2"/><path id="c355" d="M529 1234l3 10l7-6l0 10l10 1l-4 8l9-2l-3 10M539 1248l-9 3"/><path id="c356" d="M626 1263l-7-8l0 10l-10 0l-2 10l-6-8l-8 6l-5-8l-8 6l0-10M619 1255l3-9l-6-8M609 1265l0-10M609 1255l3-7M601 1267l7-8l-3-9M588 1265l6-8M594 1257l8-2"/><path id="c357" d="M387 1158l0-10l-8 5l4-9l-10-1l0-10M383 1144l10-2l3-9l10-2"/><path id="c358" d="M292 984l0 10l7 7l-9 2l2 10l-10-2M292 994l-10 2l-4 10M278 1006l1 10l-9 3l-7-7l5-9l10 3"/><path id="c359" d="M163 1024l-3 10l10 0l-1 10l10-2l0 10M160 1034l-10 1l-4 9M146 1044l-8-4M169 1044l-8 6M161 1050l5 9l-7 7l-9-5l1-10l10-1"/><path id="c360" d="M459 1484l5 9l7-7l5 9l7-6l2 10l7-8l5 9l6-9M464 1493l-4 9M476 1495l-10 4l-1 10M485 1499l-6 7M497 1500l-8 5M489 1505l5 9l-7 7l-9-4l1-10l10-2"/><path id="c361" d="M704 1363l2-10l-10-1l4-10l-6-8l10-1l-3-10M706 1353l10 0M716 1353l6 5M700 1342l10 0l5-9M715 1333l7 3"/><path id="c362" d="M528 1213l-9 4l5 8l-10 3l-2 10l-10 1l1 10l-10-1M519 1217l-3-10l-10-2M506 1205l1-8M514 1228l-4-9M510 1219l0-8"/><path id="c363" d="M275 988l9-5l-8-5l8-6l-10-4l8-6l-8-7l9-4l-4-9M284 983l9 5l9-4l8 5M284 972l9 4l8-6M282 962l10 3l8-6M300 959l5 6"/><path id="c364" d="M754 1390l4-8l-9-2l3-10l-10-2l6-8l-9-3l4-9M758 1382l10-3M748 1360l10 2l7-7M765 1355l3-9l10 0l3 10l-8 5l-8-6"/><path id="c365" d="M453 1176l0-10l-10-2l4-9l-7-8l6-8l-7-7l10-1l1-9l9 1M453 1166l10 0M463 1166l7 5M447 1155l7 6l10-3l8 6M446 1139l10 1l6-8M462 1132l7 4M449 1131l1 10l9 5M459 1146l-3 7"/><path id="c366" d="M591 995l-3-10l-5 9l-3-10l-6 8l-6-7l0 10l-10-1l4 9l-10 2M568 985l1-10l-8-6M561 969l4-7"/><path id="c367" d="M435 1004l2-10l-10 0l5-9l-10-1l10-2l-1-10l10 2M432 985l10 2M442 987l1-9l8-3l7 6l-2 8l-7 3l-7-5M432 982l-1 10M431 992l8 1l3 8l-5 7l-8-1l-3-8l5-7"/><path id="c368" d="M511 1047l-6-7l-6 8l-4-9l-9 4l-7-7l-6 8M495 1039l7-8l-3-9M499 1022l7-3M479 1036l4-9"/><path id="c369" d="M281 1090l-8-6l-3 10l-10-4l3 10l-10 4M273 1084l1-10l-8-6M260 1090l-3-9M257 1081l1-8"/><path id="c370" d="M700 1321l9-5l-10-1l5-9l-9 4l2-10M709 1316l9 4M704 1306l10 1"/><path id="c371" d="M716 1271l-9 3l9 4l-10 1l6 8l-10 3l9 5M707 1274l-7-8l-9 1M691 1267l-9 5l-8-7l4-9l10 1l3 10M706 1279l-7-8M699 1271l-1-7M702 1290l-3-9M699 1281l0-8"/><path id="c372" d="M763 1351l8-6l-10-1l-3-10l-8 5l-5-9l-4 10l-8-5M771 1345l9 2M780 1347l7 5M758 1334l10-3M768 1331l-2-10l9-5l7 7l-4 9l-10-1M745 1330l4-9l-7-8l4-9M746 1304l6-6"/><path id="c373" d="M495 1087l-3-9l-9 5l-5-8l-7 7l-5-8l-3 9l-5-9M492 1078l8-6l0-10M500 1062l8-1M478 1075l3-10l-6-8l3-9M478 1048l6-5M466 1074l6-8l-3-9l7-8M476 1049l-6-6l1-8l9-3l6 6l-2 8l-8 3"/><path id="c374" d="M204 1079l9-5l-7-7l9-4l-9-4l1-10l-9 4l-1-10l-8 7l-7-8M213 1074l9 5l8-5l9 5M239 1079l4 6M207 1049l8-7l-2-10l7-6M220 1026l8-2M197 1043l4-9l-5-9M196 1025l-9-5l3-10l10 0l3 9l-7 6"/><path id="c375" d="M528 910l9 4l4-9l3 9l7-7l7 8M537 914l-1 10l8 6M544 930l-4 7M544 914l-7 7l2 10l-7 7M532 938l-7 3"/><path id="c376" d="M462 855l8 7l2-10l5 9l6-9l9 4M470 862l-4 10l7 7l-3 10M477 861l-1 10l8 6M484 877l-5 6"/><path id="c377" d="M556 1325l5 8l7-8l4 9l5-8l8 6l7-7l5 9l7-7l-2 9M585 1332l-6 8l4 10l-6 8M577 1358l-8 3M597 1334l-5 9M592 1343l-7 4"/><path id="c378" d="M424 1466l9 2l6-9l9 4l-4-9l9-3l-4-9l8-7l-8-5l10-2M453 1451l4 9l10 2M457 1435l9 4l9-5"/><path id="c379" d="M429 1101l-8-7l-7 8l0-10l-10-1l3-9l-10 0l5-9M421 1094l4-9l-6-8M419 1077l6-5M414 1092l10-3l3-10l9-2M436 1077l8 1"/><path id="c380" d="M372 1404l4 9l7-7l2 10l9-5l0 10l10 2l-2 10M376 1413l-7 7l2 10M371 1430l6 8l-5 8l-10-3l0-10l9-3M385 1416l-6 7l3 10l-7 8M375 1441l-7 3M394 1421l-10-2l-7 8l-10-1M367 1426l-6-5"/><path id="c381" d="M391 1425l4-9l-8-5l7-7l-10-1l2-9l-10-2M395 1416l10 0l6-8l10 1M394 1404l10 0l6-8l9 1M419 1397l7 4"/><path id="c382" d="M488 1345l-10 1l4 9l-10-2l4 9l-9-4l-8 5l-2-9M478 1346l-5-9l-10 0l-5-9M458 1328l-9 4l-7-8l5-8l10 2l1 10"/><path id="c383" d="M196 1036l5 9l5-8l6 8l6-8l10 1l0-10M212 1045l-6 7l2 10l-6 7M202 1069l6 6l-2 8l-8 3l-7-6l2-8l9-3M228 1038l0 10l8 6l-1 10M235 1064l10 2l2 10l-9 4l-7-7l4-9"/><path id="c384" d="M427 1039l1-10l-10 1l5-9l-10-2l5-8l-9-4l2-10l-9 4l-4-9M428 1029l10-2M423 1021l10-2l4-9M437 1010l7 2M418 1011l10 2l7-7M411 997l10 0l6-8l10 0M437 989l7 4"/><path id="c385" d="M649 1449l-4 10l10-1l-6 8l9 4l-9 5l10 2l-6 7l9 2l-8 5M645 1459l-9 3M636 1462l3 8l-6 6l-9-2l-2-8l6-6l8 2M649 1466l-10-3l-7 7l-10-3M649 1475l-8-6M641 1469l-7 8l-9-4l1-10l10-2l5 8M653 1484l-10-1l-7 8l-10-1M626 1490l-6-4"/><path id="c386" d="M601 1075l0-10l-9 6l1-10l-10 1l2-10l-10 4l-3-9l-10 1M601 1065l8-5l0-10l8-6M617 1044l-4-9l7-7l9 5l-2 10l-10 1M593 1061l7-7M585 1052l9-3M572 1047l8-5l0-10"/><path id="c387" d="M538 1243l-10 4l9 5l-10 4l5 9l-7 6l10 1l-2 10l10 3l-5 9M528 1247l-8-6l-9 3l-8-6M503 1238l-4-7M527 1256l-4-9l-10-1M513 1246l-10 4l-6-8l6-8l9 3l1 9M525 1271l-10-2M515 1269l-6-5M533 1282l-10 0l-5 9l-10 0M508 1291l-7-4"/><path id="c388" d="M699 1403l-3 9l9 2l-8 6l10 4l-7 7l9 5l-6 8l10 2M697 1420l-9-3l-8 7l-9-2M671 1422l-6-6M700 1431l-9-5M703 1444l-10-1"/><path id="c389" d="M473 1454l1 10l8-5l6 7l2-9l5 8l4-9l8 7l2-10l9 4M474 1464l-8 7l1 10l-8 6M459 1487l-7 2M488 1466l-1 10l7 7l-1 10M493 1493l8 1l3 8l-6 7l-8-2l-3-8l6-6M495 1465l-4 10M491 1475l8 3l0 9l-7 4l-7-3l-1-9l7-4"/><path id="c390" d="M250 1254l9 3l-4-9l10 0l2-10l9 4l6-7l6 8l5-8M259 1257l3 10M262 1267l-1 8M265 1248l-1 9l7 7M271 1264l-5 7M276 1242l0 10M288 1243l-6 9l4 9l-6 8M280 1269l-7 4"/><path id="c391" d="M477 1191l7 7l7-7l5 9l5-8l4 9l10-1l-4 9l9-3l6 8M484 1198l-1 10l8 6M496 1200l-6 8l3 10M493 1218l-7 3M505 1201l-10 3l-3 9"/><path id="c392" d="M694 1480l-10 0l7 8l-9 5l8 6l-10 4l6 8l-9 3M684 1480l-7-7M677 1473l-8 5l-8-6l4-10l10 1l2 10M682 1493l-7-7l-10 2l-7-7M680 1503l-7-8l-9 2"/><path id="c393" d="M818 1410l3-10l-10 2l2-10l-10 2l-2-9l-9 5l-1-10l-9 5M821 1400l10 0l5-8l10 0M813 1392l9-3l3-9M801 1385l5-8l-3-10M791 1380l7-6l-1-10l7-7M804 1357l-5-8l6-8l9 3l0 10l-10 3"/><path id="c394" d="M301 1246l1-10l-10 4l3-9l-9-5l8-7l-10-1l9-3l-3-9M302 1236l9-4l1-10M312 1222l8 1M295 1231l9-3l3-10l9-3M316 1215l-2-8l6-6l8 2l3 8l-6 6l-9-2M294 1219l9 4M303 1223l5 6M293 1215l6 9l10 0M309 1224l7-4l7 4l0 8l-7 5l-7-4l0-9"/><path id="c395" d="M349 1250l8 6l7-7l5 8l5-8l10 1l2-9l9 4l5-8l6 7M357 1256l-5 9l4 9M369 1257l-7 7l2 10M384 1250l1 10l9 4M394 1264l-2 8M395 1245l-5 9l4 9l-5 8M389 1271l-7 5"/><path id="c396" d="M809 1212l1-10l-10 0l2-10l-9-5l5-9M810 1202l9-3l2-10M821 1189l-3-8l6-6l8 1l3 8l-6 7l-8-2M802 1192l10-1l5-8M817 1183l7 3"/><path id="c397" d="M297 1155l6-8l-10-4l-1-10l-9 4l-5-9M292 1133l10-2M302 1131l8 1"/><path id="c398" d="M459 842l-9 5l10 2l-4 10l10-3l5 8l7-7l3 9l6-8M450 847l-9-6M441 841l-6 8l-9-3l0-10l10-3l5 8M471 864l-7 8l3 9l-7 8M460 889l7 7l-6 9l-9-2l-1-10l9-4M481 866l-7 7M474 873l-8 2"/><path id="c399" d="M637 1218l2 10l8-6l7 7l5-9l9 5M639 1228l-7 7l2 10M654 1229l-2 9"/><path id="c400" d="M443 957l-6 8l10-2l-8 6l3 9l-9-3l-1 10l-3-9M437 965l-9 3l-4 9l-9 2"/><path id="c401" d="M659 1422l-8-6l-1 10l-9-4l3 10l-10 3l8 6l-8-5M651 1416l3-10l-7-7M641 1422l-3-10l-10-2M628 1410l-10 1l-4-9l7-7l9 5l-2 10M634 1435l-7-6l-10 3M617 1432l-3-8"/><path id="c402" d="M218 1037l-7-7l-6 8l-5-9l-7 7l-7-8l-4 9l-9-6M211 1030l1-10l-9-6M203 1014l-8 0l-4-8l5-7l8 0l4 8l-5 7M200 1029l3-10l-6-7l2-10M199 1002l6-5M186 1028l7-7l-2-10l7-7M198 1004l8-2"/><path id="c403" d="M632 1120l8 6l1-10l7 7l7-7l6 8l9-5l6 8l7-7M648 1123l-1 10l8 7l-1 10M654 1150l9 2l1 10l-9 4l-7-8l6-8M661 1124l-6 7l3 10M658 1141l-7 3"/><path id="c404" d="M403 900l-4-9l-7 6l-10-3l-1 10l-10-1l5 9l-8 6M382 894l2-10M384 884l5-6M371 903l-8-6l-9 4"/><path id="c405" d="M803 1409l10-1l-5-9l10 3l0-10l7 8l8-6l2 10l7-7l3 9M813 1408l4 8M817 1416l0 8M818 1402l1 10l9 4M825 1400l-2 10l7 7l-2 9M835 1404l-6 8l3 9M832 1421l-7 3"/><path id="c406" d="M456 1414l2 10l10-3l-1 10l8-6l-3 9l10 3l-3 9M467 1431l-10 1M457 1432l-7-2M472 1434l-10 1l-4 9M458 1444l-8-3"/><path id="c407" d="M366 1244l4 9l8-6l1 10l9-3l-3 9l10 2l-6 8l10-3M370 1253l-6 8M364 1261l-7 4M385 1263l-10 0l-6 7M389 1273l-10 1l-4 9l-10 1"/><path id="c408" d="M688 1254l-1 10l10 2l-7 7l10 1l-3 9l9-3l3 9l7-7l8 5M687 1264l-10-1l-6 8M671 1271l-6-4M690 1273l-9-5l-9 6M672 1274l-5 8l-10-2l0-10l9-4l6 8M697 1283l-10 3l-2 10l-10 3M675 1299l3 8l-6 7l-8-2l-3-9l6-6l8 2"/><path id="c409" d="M680 1368l-5-9l-9 4l3-9l-10 0l7-8l-9 5l-1-10M675 1359l9-5l1-10l8-5M693 1339l8 0M666 1346l9-3l3-10M678 1333l8 2"/><path id="c410" d="M534 987l-10 0l7 7l-10 2l6 8l-10 1M524 987l-6-8l-10 0l-6-8"/><path id="c411" d="M615 1087l1 10l9-3l-3 9l10 0l-2 10l10-2M616 1097l-9 4M630 1113l-10 2l-3 10M617 1125l-8-2"/><path id="c412" d="M503 1427l3 10l9-5l6 9l-3-10l10-2l-7-7l9-5M506 1437l-8 5l0 10l-9 5M489 1457l4 7l-4 8l-8 0l-5-7l5-8l8 0M521 1441l-1 10M520 1451l8 1l3 8l-5 6l-8-1l-3-7l5-7M528 1429l9 4l8-5l9 4"/><path id="c413" d="M260 1145l-2-10l-4 9l-3-9l-9-5l6-9M258 1135l8-5l0-10l8-6M274 1114l8-1M251 1135l9-2l5-9l9-1M274 1123l-1-9l7-5l8 3l1 9l-7 5l-8-3"/><path id="c414" d="M714 1468l-8-5l-1 10l-10-3l3 9l-9-4l-5 8l-8-6l-9 6M706 1463l-2-10l-10-3l-2-10M692 1440l2-8M695 1470l-6-8l-10 1M689 1475l-1-10l-10-4l-1-10M677 1451l-10 0l-3-9l8-6l8 6l-3 9"/><path id="c415" d="M180 1134l-9 3l2 10l-10 2l2 10l-9-3M171 1137l-9-4l-9 5l-9-4M144 1134l-4-7M163 1149l-5-8l-10 0l-6-8M142 1133l0-8"/><path id="c416" d="M633 977l9 5l-2-10l10-1l-3-10l9-3M642 982l3 10l9 2l3 10M657 1004l8-2l6 6l-2 8l-8 2l-6-6l2-8"/><path id="c417" d="M467 901l0 10l10-1l-1 10l6-8l7 7l5-9M467 911l-10 3l-3 10M454 924l2 10l-9 4l-7-7l4-9l10 2M476 920l-8 7"/><path id="c418" d="M591 1322l-1 10l9-3l5 9l6-8l10 2l3-10l9 5M590 1332l-10 3M580 1335l3 10l-9 5l-7-6l3-9l10 0M604 1338l-7 7l2 9M599 1354l-7 3M620 1332l0 10l8 5l0 10"/><path id="c419" d="M395 1317l-7-8l-2 10l-9-3l-1 10l-10-1l7 7l-10 3l8 7l-10 4M377 1316l-4-9M373 1307l0-8M366 1325l-6-8l-10 1M350 1318l-6 5l-8-4l-1-8l7-5l7 3l1 9M363 1335l-7-6"/><path id="c420" d="M567 1075l-8 6l9 4l-6 8l10 2l-1 10l9 5l-7 7M559 1081l-9-3M550 1078l-4 8l-8 1l-5-7l3-8l8-1l6 7M562 1093l-10 0M552 1093l-7-4M571 1105l-8 5M563 1110l4 9l-7 7l-9-5l2-10l10-1"/><path id="c421" d="M354 945l-4-9l-5 8l-6-7l-2 10l-6-8l-1 10l-9-5l-3 10l-4-10M339 937l2-10M331 939l4-9M321 944l1-10l-7-6l1-10M316 918l4-7"/><path id="c422" d="M551 1080l10 3l0-10l9 4l-2-10l10-2l-9-5l8-6M561 1083l2 10l10 2M573 1095l8-2l6 6l-2 8l-8 3l-6-6l2-9M570 1077l-2 10M568 1087l9 3l-1 10l-9 3l-6-9l7-7"/><path id="c423" d="M485 1115l-1-10l-10-3l4-9l-10-1l3-9l-5 8l-9-5l0 10l-9-4M484 1105l9-5l0-10M493 1090l8 0M478 1093l10-2M471 1083l9-4l2-10M482 1069l-3-9l9-6l8 7l-4 9l-10-1"/><path id="c424" d="M839 1318l5-9l-9-5l9-3l-5-9l0-10l-4 9l-7-7M844 1309l9-1l5-9M844 1301l8 5M839 1282l8-6l-2-10"/><path id="c425" d="M636 1238l10 2l-6-9l10 4l3-10l10 1M650 1235l2 10l9 3l2 10M663 1258l-3 8"/><path id="c426" d="M438 1128l9 6l-2-10l10 3l5-9l5 9l5-8l7 7l6-7M447 1134l2 9l9 4M458 1147l-2 8M455 1127l-3 10l7 7l-3 10M456 1154l-5 6M465 1127l-5 9l5 9l-5 8M460 1153l8 6l-3 10l-10 0l-3-10l8-6M477 1126l-3 10"/><path id="c427" d="M631 1449l-9-5l-1 10l-8-6l-3 9l-5-8l-6 7l-1-10l-10 3M613 1448l3-10M616 1438l-9-4l2-10l9-2l5 9l-7 7M605 1449l8-7l-2-10l7-7M618 1425l8-2"/><path id="c428" d="M690 1213l-1-10l-9 5l-7-6l-2 9l-7-8M689 1203l4-9l-4-9l4-9M693 1176l7-4M673 1202l4-10l-5-8l4-9"/><path id="c429" d="M340 1085l-9 4l10 2l-4 9l9 5l-8 6l10 3l-8 6l8 5l-9 4M331 1089l-9-2l-8 7l-9-2M338 1111l-9-5l-8 6M321 1112l-5-7M340 1120l-10-4M330 1116l-5-6"/><path id="c430" d="M553 1220l3-10l-10-1l3-10l-10 4l-3-10l-7 7l-3-10l-7 7l-6-8M556 1210l10 1M566 1211l7 4M536 1193l6-8l-3-9M526 1190l9-4l2-10l9-4M546 1172l-3-8l5-7l8 1l4 8l-6 7l-8-1"/><path id="c431" d="M499 1407l9-5l-8-6l9-5l-4-9l9-4M508 1402l7 6l10-4l8 6M509 1391l7 7l10-2M526 1396l2 8"/><path id="c432" d="M662 1128l10 1l1-10l4 9l3-9l9 2l-4-9M672 1129l0 10l8 6M680 1145l-4 7"/><path id="c433" d="M674 998l9 1l1-10l7 7l8-6l1 10l8-5l-2 10l9-6M683 999l1 10l9 5M693 1014l8-1l5 7l-4 8l-8 0l-5-7l4-7M691 996l-4 9M687 1005l-7 4M700 1000l-10 2M690 1002l1 10l-9 4l-7-8l5-8l10 2M706 1005l-9 3M697 1008l-8-1"/><path id="c434" d="M328 1070l9 1l4-9l9 6l1-10l10 0M337 1071l2 10M339 1081l-3 8M350 1068l1 10l10 3l2 10"/><path id="c435" d="M495 1139l-7-7l-8 6l2-10l-9-3l5-8M488 1132l6-8l-4-10M490 1114l-7-7l4-9l10 2l2 9l-9 5"/><path id="c436" d="M273 1066l4-9l-10 0l3-9l-10-2l4-9l-8-7M277 1057l10-2M270 1048l10 0l6-7l10 0M264 1037l9 2l8-6M281 1033l5 6"/><path id="c437" d="M234 1138l-6 8l10-1l-2 10l7-7l0 10M228 1146l-10 3M236 1155l-6 8l3 9l-7 8M226 1180l-7 3"/><path id="c438" d="M675 1443l10 0l-4-9l10-2l-1-10l8 4M685 1443l5 8l10 1l5 8M705 1460l0 8M691 1432l7 7l9-2"/><path id="c439" d="M600 1297l4 10l8-6l0 10l10 2l-2 10l10-3l6 8l5-9l4 9M604 1307l-10 1l-3 10M591 1318l-8-3M620 1323l-10-1l-6 8M636 1328l-6 8l4 9l-5 9"/><path id="c440" d="M452 1034l6-8l-9 5l1-10l-9 3l1-10l-10-2l5-10M458 1026l9-4l2-10l9-4M478 1008l-3-8l6-6l8 1l3 8l-5 7l-9-2M442 1014l10-2"/><path id="c441" d="M431 1055l9 5l-1-10l9 5l4-9l4 9l5-9l7 7l9-3M440 1060l-3 10l6 7l-2 10M448 1055l-5 9l6 8l-4 9M445 1081l-7 5M456 1055l-7 7M449 1062l-7 3M468 1053l-6 9l4 9"/><path id="c442" d="M497 1434l8-6l-5-9l9-2l-2-10l8-5l-2-10M505 1428l7 7l10-3l7 7M509 1417l3 10"/><path id="c443" d="M464 1324l10 1l-1-10l8 6l4-9l9 4l-1-10l10-2l0-10l9 5M474 1325l1 10l9 5M481 1321l2 10l10 3M494 1316l1 10l9 4l1 10M505 1340l-3 8M503 1304l5 9l10 1l5 8"/><path id="c444" d="M161 997l-9-4l-2 10l-10-1l-1 10l-4 9l9-4l-3 10M140 1002l-1-10l-9-5l-1-10M129 977l-10 0l-3-9l8-6l8 6l-3 9M135 1021l-10 2M125 1023l-7-2"/><path id="c445" d="M521 1125l-10-3l-3 9l-4-9l-10-1l0-10l-10 3l-5-8l-5 9M511 1122l4-10l-6-8l3-9M512 1095l6-5M504 1122l9-3l3-9M479 1106l4-9"/><path id="c446" d="M334 1096l-10 1l0 10l-9-5l-4 9l-7-7l-9 5l-5-8M315 1102l1-10l-8-6M304 1104l7-8l-3-9M308 1087l-7-8l5-8l10 2l1 10l-9 4"/><path id="c447" d="M520 944l8 6l5-9l8 6l6-8l6 8l8-7l8 6l2-10l10 3M528 950l2 10l9 4M539 964l10-1l4 9l-8 7l-8-6l2-9M541 947l-6 8l4 9M553 947l-4 9l5 8l-5 9"/><path id="c448" d="M700 1205l7-7l-10 4l-1-10l-10 1l3-9M707 1198l10-1l4-9l10 0M731 1188l8 3M696 1192l10-2M706 1190l7 2"/><path id="c449" d="M307 1193l10 3l-6-8l8-5l-10-2l7-7M317 1196l0 10l9 6l0 10M326 1222l-4 7"/><path id="c450" d="M644 1081l6-8l-8-5l10 0l-3-10l10 1l-5-9M650 1073l10 3l8-6l9 3M677 1073l6 5M652 1068l5 9M659 1059l3 10"/><path id="c451" d="M165 966l2-10l-10-2l7-7l9-5l2 10l9-5M167 956l9-4l2-10M164 947l2-10"/><path id="c452" d="M355 1158l-6 8l7 8l-9 4l4 9l-9 5l7 7l-9 4l4 9M349 1166l-10 0l-5 9M347 1178l-8-6l-10 4M342 1192l-9-5l-8 5l-9-5M316 1187l-6 8l-10-3l0-10l10-3l6 8M340 1203l-8-6M332 1197l-7 7l-9-5l2-9l9-2l5 9"/><path id="c453" d="M318 1347l-8-6l-4 9l-8-6l-4 9l-3-10l-9 4l-2-9l-9 4M310 1341l1-10l-8-6l1-10M304 1315l5-7M298 1344l2-10l-8-7l1-9M293 1318l5-7M291 1343l6-8M280 1338l9-5l0-10l9-5M298 1318l8 0"/><path id="c454" d="M395 1365l9-4l-7-7l5-9l-9 2l-2-10l-6 7l-4-9M404 1361l7 7l9-2M420 1366l2 8M402 1345l10 1l6-8M418 1338l3-10l9-1l5 9l-8 7l-9-5M391 1337l5-9M396 1328l-8-4l0-9l7-4l7 4l1 8l-7 5"/><path id="c455" d="M793 1439l-7 8l5 8l-10-1l2 10l-9-3l6 7M786 1447l-9-4M777 1443l-5-7M781 1454l-4-9l-10-1l-4-9M774 1461l-7-8M767 1453l-6 5l-8-3l-1-8l6-6l8 4l1 8"/><path id="c456" d="M650 1498l8 5l1-10l9 5l0-10l9 5l5-9M658 1503l2 10l9 4l1 10M670 1527l-3 7M677 1493l-1 10"/><path id="c457" d="M493 1379l3 10l8-7l2 10l9-5l0 10l9-5l1 10l9-3M496 1389l-7 6l1 10l-7 6M506 1392l-8 7l2 9l-8 7M492 1415l6 8l-6 8l-10-3l1-10l9-3M515 1397l-6 7M509 1404l-8 3"/><path id="c458" d="M590 1033l-2 10l10-1l8 6l5-8l3 10l-1-10l9 6l2-10l4 9M588 1043l-10 2M578 1045l-8-2M614 1050l-1 10l8 6M621 1066l-4 6M622 1046l-2 9l7 7M627 1062l-5 7"/><path id="c459" d="M430 1464l5 9l6-9l3 10l7-8l7 7l3-9l6 7M435 1473l-4 9l4 8M435 1490l-6 5M444 1474l-8 6l1 10M437 1490l5 9l-7 7l-9-4l1-10l10-2M458 1473l2 10l9 4l2 10M471 1497l8-2l6 7l-3 8l-9 1l-5-6l3-8"/><path id="c460" d="M629 1375l9 4l-5-9l8-7l-10-3l9-4l-8-6l8-6l-8-6M638 1379l-1 9l8 7M645 1395l10 2l0 10l-9 4l-6-8l5-8M641 1363l9 5l8-6l9 5M667 1367l6-8l10 2l0 10l-9 4l-7-8M640 1356l10 3l8-6M658 1353l5 6M640 1344l8 6l9-3l8 6M665 1353l6-6l8 2l3 8l-6 6l-8-2l-3-8"/><path id="c461" d="M313 1079l0 10l10-1l0 10l7-8l6 8l6-8l3 9M323 1098l-7 7M336 1098l-4 9l5 8M337 1115l-6 5"/><path id="c462" d="M525 1357l4 9l9-5l2 10l9-4l2 9l10 0l-3 9M540 1371l-9 5l0 10l-9 5M522 1391l4 7l-5 7l-8 0l-4-7l4-8l9 1M551 1376l-10 3l-2 10l-10 3M529 1392l2 10l-9 5l-7-7l4-9l10 1"/><path id="c463" d="M789 1213l7 6l4-9l9 4l-1-10l-1-10l-10 2l7-8M796 1219l1 10l9 5M807 1194l10 0"/><path id="c464" d="M333 1360l10 4l3-9l6 8l7-7l-2 10l9-5l6 7l3-10l4 9M343 1364l1 10l9 4l1 10M352 1363l-8 6M344 1369l-8 2M357 1366l-10-3l-7 6M340 1369l-4 9l-10-1l-2-10l8-4l8 6M372 1368l1 10l8 5l0 10M381 1393l-3 7"/><path id="c465" d="M346 1388l0 10l10-3l-4 9l10 1l2 9l6-7M352 1404l-8 6l0 10M364 1414l-8 7M356 1421l5 6l-3 8l-9 1l-5-7l4-7l8-1"/><path id="c466" d="M311 1019l8 6l8-6l0 10l10-1l-7 7l10 2l-3 9l10 2l-6 8M319 1025l-7 7M312 1032l6 6l-3 8l-8 2l-6-6l3-8l8-2M327 1029l-9 4M330 1035l-9-2l-8 7l-9-2M337 1046l-10 0l-6 8l-10-1M311 1053l-1 9l-7 3l-7-5l0-8l8-4l7 5"/><path id="c467" d="M662 1310l-8-6l-5 8l-9-4l-3 9l-9-5l-2 10l-7-7M654 1304l3-10"/><path id="c468" d="M425 1205l7 6l6-8l2 10l10 0l-8 5l7 7l-8 6l8 6M432 1211l-6 8l3 10l-6 7M442 1218l-8-6M434 1212l-3-8M441 1231l-10-2M431 1229l-6-5"/><path id="c469" d="M694 1160l6-8l-10-2l-1-9l-8 6l-5-8l-3 9l-7-7l1 10l-10-2M700 1152l9 3M689 1141l9-5M698 1136l8 1M676 1139l7-8l-3-10M666 1141l2-10M668 1131l4-6"/><path id="c470" d="M377 1301l10-3l-5-8l9-3l-1-10l9-3l-1-9M387 1298l5 9l10 0M402 1307l9-5l7 7l-4 9l-10-2l-2-9M391 1287l2 9M393 1296l10 0l3 9l-7 7l-9-6l3-10M399 1274l5 9M404 1283l10-4l6 8l-5 8l-10-2l-1-10"/><path id="c471" d="M443 1423l4-8l-9-2l6-7l-9-5l5-9l-10 1l-2-10l-10 3M447 1415l10 2l8-6M465 1411l5 5M444 1406l10-1l5-8l10 0M469 1397l0-9l8-4l7 4l0 9l-7 4l-8-4M440 1392l10 2M450 1394l6 5M428 1383l8-6"/><path id="c472" d="M644 1039l-6-7l-9 5l-2-9l-10 2l3-9l-10 1l5-9M638 1032l3-10M627 1028l6-8l-3-9l7-8M637 1003l7-3M620 1021l9-5l1-10M630 1006l-3-9l8-6l8 5l-3 10l-10 0"/><path id="c473" d="M662 1500l-9 3l7 7l-10 3l4 9l-10-3l-3 10l-10-3l-10 1l2-10M653 1503l-9-5l-9 4M650 1513l-6-8M644 1505l-9 5l-7-7l4-9l10 1l2 10M644 1519l-1-10l-8-4M635 1505l3-8M631 1526l5-9l-5-8"/><path id="c474" d="M548 1478l-10 1l9 4l-9 5l8 6l-5 8l10 0M538 1479l-7-7l-10 2M521 1474l-3-8M538 1488l-7-6M531 1482l-8 6l-9-5l3-10l10-1l4 10"/><path id="c475" d="M687 1208l-7 8l8 6l-10 2l3 10l-9-5l-6 8M680 1216l-9-2l-7 7l-10-2M672 1229l3-10l-7-7l3-10M671 1202l6-5"/><path id="c476" d="M487 1172l10 1l0-10l10-1l-8-6l9-4l-8-5l7-7l-7-7M497 1173l0 10l9 5l0 10M506 1198l-3 7M507 1162l8 5l9-5M508 1152l8 6M516 1158l4 8"/><path id="c477" d="M599 973l9-3l-6-8l10 1l1-10l10 3l-1-10l10 0l-9-5l7-7M608 970l9 5l9-5M626 970l6-7l9 3l0 10l-10 3l-5-9M612 963l4 9l10 2M626 974l-1 8M623 956l2 10"/><path id="c478" d="M788 1356l3-10l-10 2l2-10l-9-4l6-9l-10 0l8-5l-9-5M791 1346l9-2l4-9M783 1338l10-2l4-9l10-1M807 1326l0-10l10-3l6 8l-6 8l-10-3"/><path id="c479" d="M518 894l6 9l7-7l3 10l7-8l4 9l10 2l-8 6M524 903l-6 8M518 911l7 5l-1 8l-8 4l-7-5l1-9l8-3M534 906l-8 6l1 10M545 907l-9 4l-2 10l-9 3"/><path id="c480" d="M743 1318l3-9l-10 0l3-9l-9-4l3-9M746 1309l10-1"/><path id="c481" d="M656 1296l-10-2l7 8l-9 5l7 7l-9 3l5 8l-10 2M646 1294l-6-7l-10 1M630 1288l-2-7M644 1307l-9-5M635 1302l-6 8l-9-3l0-10l10-3l5 8"/><path id="c482" d="M468 948l-10 4l4 9l-8 6l7 7l-7 6l9 5l-6 8M458 952l-8-6M450 946l-7 7l-9-4l2-10l9-2l5 9M454 967l-9-4l-8 6l-10-3"/><path id="c483" d="M735 973l-5 9l10-1l-1 10l10 0l-1 10l9-2M730 982l-10 1M720 983l-7-3M739 991l-9 3M730 994l2 8l-6 6l-9-3l-2-8l7-6l8 3M748 1001l-10 4"/></defs><g fill="none" stroke-linecap="round" stroke-linejoin="round"><use href="#c0" stroke="#03491f" stroke-width="4.4"/><use href="#c0" stroke="#08bf51" stroke-width="2.6"/><use href="#c1" stroke="#134415" stroke-width="4.4"/><use href="#c1" stroke="#32b237" stroke-width="2.6"/><use href="#c2" stroke="#184213" stroke-width="4.4"/><use href="#c2" stroke="#3fae31" stroke-width="2.6"/><use href="#c3" stroke="#213e10" stroke-width="4.4"/><use href="#c3" stroke="#57a329" stroke-width="2.6"/><use href="#c4" stroke="#0f1a4b" stroke-width="4.4"/><use href="#c4" stroke="#2644c5" stroke-width="2.6"/><use href="#c5" stroke="#20400f" stroke-width="4.4"/><use href="#c5" stroke="#54a728" stroke-width="2.6"/><use href="#c6" stroke="#204010" stroke-width="4.4"/><use href="#c6" stroke="#53a729" stroke-width="2.6"/><use href="#c7" stroke="#134415" stroke-width="4.4"/><use href="#c7" stroke="#31b236" stroke-width="2.6"/><use href="#c8" stroke="#044525" stroke-width="4.4"/><use href="#c8" stroke="#0bb462" stroke-width="2.6"/><use href="#c9" stroke="#3c2b0f" stroke-width="4.4"/><use href="#c9" stroke="#9d7128" stroke-width="2.6"/><use href="#c10" stroke="#0d2445" stroke-width="4.4"/><use href="#c10" stroke="#215eb4" stroke-width="2.6"/><use href="#c11" stroke="#283910" stroke-width="4.4"/><use href="#c11" stroke="#689629" stroke-width="2.6"/><use href="#c12" stroke="#174214" stroke-width="4.4"/><use href="#c12" stroke="#3bac33" stroke-width="2.6"/><use href="#c13" stroke="#084027" stroke-width="4.4"/><use href="#c13" stroke="#14a965" stroke-width="2.6"/><use href="#c14" stroke="#074c16" stroke-width="4.4"/><use href="#c14" stroke="#13c639" stroke-width="2.6"/><use href="#c15" stroke="#3f280f" stroke-width="4.4"/><use href="#c15" stroke="#a66928" stroke-width="2.6"/><use href="#c16" stroke="#044d17" stroke-width="4.4"/><use href="#c16" stroke="#0bc93d" stroke-width="2.6"/><use href="#c17" stroke="#024d1a" stroke-width="4.4"/><use href="#c17" stroke="#06ca44" stroke-width="2.6"/><use href="#c18" stroke="#0b4a15" stroke-width="4.4"/><use href="#c18" stroke="#1cc137" stroke-width="2.6"/><use href="#c19" stroke="#064a19" stroke-width="4.4"/><use href="#c19" stroke="#10c340" stroke-width="2.6"/><use href="#c20" stroke="#0a303b" stroke-width="4.4"/><use href="#c20" stroke="#1a7d99" stroke-width="2.6"/><use href="#c21" stroke="#06491d" stroke-width="4.4"/><use href="#c21" stroke="#0fbe4c" stroke-width="2.6"/><use href="#c22" stroke="#044622" stroke-width="4.4"/><use href="#c22" stroke="#0cb958" stroke-width="2.6"/><use href="#c23" stroke="#05422a" stroke-width="4.4"/><use href="#c23" stroke="#0dac6d" stroke-width="2.6"/><use href="#c24" stroke="#044426" stroke-width="4.4"/><use href="#c24" stroke="#0bb265" stroke-width="2.6"/><use href="#c25" stroke="#06471f" stroke-width="4.4"/><use href="#c25" stroke="#0fbb50" stroke-width="2.6"/><use href="#c26" stroke="#044820" stroke-width="4.4"/><use href="#c26" stroke="#0bbc54" stroke-width="2.6"/><use href="#c27" stroke="#044f14" stroke-width="4.4"/><use href="#c27" stroke="#0bcf33" stroke-width="2.6"/><use href="#c28" stroke="#064a1a" stroke-width="4.4"/><use href="#c28" stroke="#0fc343" stroke-width="2.6"/><use href="#c29" stroke="#044721" stroke-width="4.4"/><use href="#c29" stroke="#0aba58" stroke-width="2.6"/><use href="#c30" stroke="#2c3610" stroke-width="4.4"/><use href="#c30" stroke="#748c2a" stroke-width="2.6"/><use href="#c31" stroke="#06471f" stroke-width="4.4"/><use href="#c31" stroke="#10ba51" stroke-width="2.6"/><use href="#c32" stroke="#044a1b" stroke-width="4.4"/><use href="#c32" stroke="#0cc348" stroke-width="2.6"/><use href="#c33" stroke="#054c18" stroke-width="4.4"/><use href="#c33" stroke="#0cc73f" stroke-width="2.6"/><use href="#c34" stroke="#1d3e13" stroke-width="4.4"/><use href="#c34" stroke="#4da232" stroke-width="2.6"/><use href="#c35" stroke="#0e1f47" stroke-width="4.4"/><use href="#c35" stroke="#2352bb" stroke-width="2.6"/><use href="#c36" stroke="#044820" stroke-width="4.4"/><use href="#c36" stroke="#0bbc54" stroke-width="2.6"/><use href="#c37" stroke="#0b2c3f" stroke-width="4.4"/><use href="#c37" stroke="#1e73a4" stroke-width="2.6"/><use href="#c38" stroke="#144611" stroke-width="4.4"/><use href="#c38" stroke="#34b82d" stroke-width="2.6"/><use href="#c39" stroke="#084224" stroke-width="4.4"/><use href="#c39" stroke="#14ad5f" stroke-width="2.6"/><use href="#c40" stroke="#054a1b" stroke-width="4.4"/><use href="#c40" stroke="#0ec346" stroke-width="2.6"/><use href="#c41" stroke="#044f14" stroke-width="4.4"/><use href="#c41" stroke="#0bce34" stroke-width="2.6"/><use href="#c42" stroke="#074422" stroke-width="4.4"/><use href="#c42" stroke="#13b258" stroke-width="2.6"/><use href="#c43" stroke="#064521" stroke-width="4.4"/><use href="#c43" stroke="#10b556" stroke-width="2.6"/><use href="#c44" stroke="#0e4815" stroke-width="4.4"/><use href="#c44" stroke="#25bc36" stroke-width="2.6"/><use href="#c45" stroke="#064325" stroke-width="4.4"/><use href="#c45" stroke="#10af62" stroke-width="2.6"/><use href="#c46" stroke="#114615" stroke-width="4.4"/><use href="#c46" stroke="#2bb738" stroke-width="2.6"/><use href="#c47" stroke="#233d10" stroke-width="4.4"/><use href="#c47" stroke="#5c9f29" stroke-width="2.6"/><use href="#c48" stroke="#213e10" stroke-width="4.4"/><use href="#c48" stroke="#58a22a" stroke-width="2.6"/><use href="#c49" stroke="#174214" stroke-width="4.4"/><use href="#c49" stroke="#3cac34" stroke-width="2.6"/><use href="#c50" stroke="#104418" stroke-width="4.4"/><use href="#c50" stroke="#2ab33e" stroke-width="2.6"/><use href="#c51" stroke="#044820" stroke-width="4.4"/><use href="#c51" stroke="#0abd53" stroke-width="2.6"/><use href="#c52" stroke="#024821" stroke-width="4.4"/><use href="#c52" stroke="#06bd56" stroke-width="2.6"/><use href="#c53" stroke="#2e350f" stroke-width="4.4"/><use href="#c53" stroke="#788a28" stroke-width="2.6"/><use href="#c54" stroke="#093831" stroke-width="4.4"/><use href="#c54" stroke="#189380" stroke-width="2.6"/><use href="#c55" stroke="#422810" stroke-width="4.4"/><use href="#c55" stroke="#ac6829" stroke-width="2.6"/><use href="#c56" stroke="#084919" stroke-width="4.4"/><use href="#c56" stroke="#15bf41" stroke-width="2.6"/><use href="#c57" stroke="#0c4816" stroke-width="4.4"/><use href="#c57" stroke="#20bc3a" stroke-width="2.6"/><use href="#c58" stroke="#1f3e12" stroke-width="4.4"/><use href="#c58" stroke="#50a32e" stroke-width="2.6"/><use href="#c59" stroke="#0b4719" stroke-width="4.4"/><use href="#c59" stroke="#1dba41" stroke-width="2.6"/><use href="#c60" stroke="#2c3510" stroke-width="4.4"/><use href="#c60" stroke="#748c2a" stroke-width="2.6"/><use href="#c61" stroke="#174213" stroke-width="4.4"/><use href="#c61" stroke="#3dac33" stroke-width="2.6"/><use href="#c62" stroke="#303310" stroke-width="4.4"/><use href="#c62" stroke="#7e8629" stroke-width="2.6"/><use href="#c63" stroke="#0f1a4b" stroke-width="4.4"/><use href="#c63" stroke="#2644c4" stroke-width="2.6"/><use href="#c64" stroke="#084126" stroke-width="4.4"/><use href="#c64" stroke="#14aa63" stroke-width="2.6"/><use href="#c65" stroke="#0a461c" stroke-width="4.4"/><use href="#c65" stroke="#1bb749" stroke-width="2.6"/><use href="#c66" stroke="#20400f" stroke-width="4.4"/><use href="#c66" stroke="#55a628" stroke-width="2.6"/><use href="#c67" stroke="#084d13" stroke-width="4.4"/><use href="#c67" stroke="#14c933" stroke-width="2.6"/><use href="#c68" stroke="#243d0f" stroke-width="4.4"/><use href="#c68" stroke="#5e9f27" stroke-width="2.6"/><use href="#c69" stroke="#452410" stroke-width="4.4"/><use href="#c69" stroke="#b55e2a" stroke-width="2.6"/><use href="#c70" stroke="#054523" stroke-width="4.4"/><use href="#c70" stroke="#0db65b" stroke-width="2.6"/><use href="#c71" stroke="#094919" stroke-width="4.4"/><use href="#c71" stroke="#19be41" stroke-width="2.6"/><use href="#c72" stroke="#073e2b" stroke-width="4.4"/><use href="#c72" stroke="#12a371" stroke-width="2.6"/><use href="#c73" stroke="#054c17" stroke-width="4.4"/><use href="#c73" stroke="#0dc73d" stroke-width="2.6"/><use href="#c74" stroke="#0c2a41" stroke-width="4.4"/><use href="#c74" stroke="#1f6faa" stroke-width="2.6"/><use href="#c75" stroke="#144513" stroke-width="4.4"/><use href="#c75" stroke="#34b431" stroke-width="2.6"/><use href="#c76" stroke="#174213" stroke-width="4.4"/><use href="#c76" stroke="#3dad31" stroke-width="2.6"/><use href="#c77" stroke="#223d11" stroke-width="4.4"/><use href="#c77" stroke="#589f2c" stroke-width="2.6"/><use href="#c78" stroke="#083a2f" stroke-width="4.4"/><use href="#c78" stroke="#15987c" stroke-width="2.6"/><use href="#c79" stroke="#4b2411" stroke-width="4.4"/><use href="#c79" stroke="#c45e2c" stroke-width="2.6"/><use href="#c80" stroke="#044f15" stroke-width="4.4"/><use href="#c80" stroke="#09ce36" stroke-width="2.6"/><use href="#c81" stroke="#074421" stroke-width="4.4"/><use href="#c81" stroke="#13b257" stroke-width="2.6"/><use href="#c82" stroke="#024821" stroke-width="4.4"/><use href="#c82" stroke="#06bd56" stroke-width="2.6"/><use href="#c83" stroke="#3b2b0f" stroke-width="4.4"/><use href="#c83" stroke="#9b7127" stroke-width="2.6"/><use href="#c84" stroke="#083734" stroke-width="4.4"/><use href="#c84" stroke="#159087" stroke-width="2.6"/><use href="#c85" stroke="#044e15" stroke-width="4.4"/><use href="#c85" stroke="#0acd36" stroke-width="2.6"/><use href="#c86" stroke="#1c4210" stroke-width="4.4"/><use href="#c86" stroke="#49ac2b" stroke-width="2.6"/><use href="#c87" stroke="#044722" stroke-width="4.4"/><use href="#c87" stroke="#0bb959" stroke-width="2.6"/><use href="#c88" stroke="#4b2411" stroke-width="4.4"/><use href="#c88" stroke="#c55d2c" stroke-width="2.6"/><use href="#c89" stroke="#07451f" stroke-width="4.4"/><use href="#c89" stroke="#12b652" stroke-width="2.6"/><use href="#c90" stroke="#073e2c" stroke-width="4.4"/><use href="#c90" stroke="#11a274" stroke-width="2.6"/><use href="#c91" stroke="#064c16" stroke-width="4.4"/><use href="#c91" stroke="#0fc839" stroke-width="2.6"/><use href="#c92" stroke="#4e1d11" stroke-width="4.4"/><use href="#c92" stroke="#cd4b2c" stroke-width="2.6"/><use href="#c93" stroke="#1b4112" stroke-width="4.4"/><use href="#c93" stroke="#47a92e" stroke-width="2.6"/><use href="#c94" stroke="#1f3c14" stroke-width="4.4"/><use href="#c94" stroke="#529d34" stroke-width="2.6"/><use href="#c95" stroke="#093832" stroke-width="4.4"/><use href="#c95" stroke="#179382" stroke-width="2.6"/><use href="#c96" stroke="#3d2a0f" stroke-width="4.4"/><use href="#c96" stroke="#a06e27" stroke-width="2.6"/><use href="#c97" stroke="#283911" stroke-width="4.4"/><use href="#c97" stroke="#68942c" stroke-width="2.6"/><use href="#c98" stroke="#223e10" stroke-width="4.4"/><use href="#c98" stroke="#58a229" stroke-width="2.6"/><use href="#c99" stroke="#0e1f48" stroke-width="4.4"/><use href="#c99" stroke="#2352bb" stroke-width="2.6"/><use href="#c100" stroke="#06491b" stroke-width="4.4"/><use href="#c100" stroke="#10bf47" stroke-width="2.6"/><use href="#c101" stroke="#06491b" stroke-width="4.4"/><use href="#c101" stroke="#10c046" stroke-width="2.6"/><use href="#c102" stroke="#422710" stroke-width="4.4"/><use href="#c102" stroke="#ad6629" stroke-width="2.6"/><use href="#c103" stroke="#233d0f" stroke-width="4.4"/><use href="#c103" stroke="#5da027" stroke-width="2.6"/><use href="#c104" stroke="#064c16" stroke-width="4.4"/><use href="#c104" stroke="#0fc839" stroke-width="2.6"/><use href="#c105" stroke="#233d0f" stroke-width="4.4"/><use href="#c105" stroke="#5ba028" stroke-width="2.6"/><use href="#c106" stroke="#0c2543" stroke-width="4.4"/><use href="#c106" stroke="#2062b0" stroke-width="2.6"/><use href="#c107" stroke="#074a19" stroke-width="4.4"/><use href="#c107" stroke="#12c241" stroke-width="2.6"/><use href="#c108" stroke="#074b17" stroke-width="4.4"/><use href="#c108" stroke="#11c53d" stroke-width="2.6"/><use href="#c109" stroke="#083535" stroke-width="4.4"/><use href="#c109" stroke="#168b8b" stroke-width="2.6"/><use href="#c110" stroke="#044820" stroke-width="4.4"/><use href="#c110" stroke="#0abc55" stroke-width="2.6"/><use href="#c111" stroke="#442510" stroke-width="4.4"/><use href="#c111" stroke="#b26029" stroke-width="2.6"/><use href="#c112" stroke="#06471f" stroke-width="4.4"/><use href="#c112" stroke="#10b952" stroke-width="2.6"/><use href="#c113" stroke="#303310" stroke-width="4.4"/><use href="#c113" stroke="#7d8629" stroke-width="2.6"/><use href="#c114" stroke="#194113" stroke-width="4.4"/><use href="#c114" stroke="#40aa31" stroke-width="2.6"/><use href="#c115" stroke="#093735" stroke-width="4.4"/><use href="#c115" stroke="#178f8b" stroke-width="2.6"/><use href="#c116" stroke="#073e2b" stroke-width="4.4"/><use href="#c116" stroke="#14a270" stroke-width="2.6"/><use href="#c117" stroke="#07481c" stroke-width="4.4"/><use href="#c117" stroke="#12bd49" stroke-width="2.6"/><use href="#c118" stroke="#054c17" stroke-width="4.4"/><use href="#c118" stroke="#0ec73d" stroke-width="2.6"/><use href="#c119" stroke="#0a3535" stroke-width="4.4"/><use href="#c119" stroke="#198a8a" stroke-width="2.6"/><use href="#c120" stroke="#054e15" stroke-width="4.4"/><use href="#c120" stroke="#0dcb36" stroke-width="2.6"/><use href="#c121" stroke="#093538" stroke-width="4.4"/><use href="#c121" stroke="#178a92" stroke-width="2.6"/><use href="#c122" stroke="#044c1a" stroke-width="4.4"/><use href="#c122" stroke="#0ac744" stroke-width="2.6"/><use href="#c123" stroke="#223d0f" stroke-width="4.4"/><use href="#c123" stroke="#5aa128" stroke-width="2.6"/><use href="#c124" stroke="#09461d" stroke-width="4.4"/><use href="#c124" stroke="#19b74b" stroke-width="2.6"/><use href="#c125" stroke="#223e10" stroke-width="4.4"/><use href="#c125" stroke="#58a229" stroke-width="2.6"/><use href="#c126" stroke="#1f3f11" stroke-width="4.4"/><use href="#c126" stroke="#52a42b" stroke-width="2.6"/><use href="#c127" stroke="#04491f" stroke-width="4.4"/><use href="#c127" stroke="#0abf50" stroke-width="2.6"/><use href="#c128" stroke="#283811" stroke-width="4.4"/><use href="#c128" stroke="#68932e" stroke-width="2.6"/><use href="#c129" stroke="#392d0f" stroke-width="4.4"/><use href="#c129" stroke="#947628" stroke-width="2.6"/><use href="#c130" stroke="#402810" stroke-width="4.4"/><use href="#c130" stroke="#a76829" stroke-width="2.6"/><use href="#c131" stroke="#2e3410" stroke-width="4.4"/><use href="#c131" stroke="#78892a" stroke-width="2.6"/><use href="#c132" stroke="#044524" stroke-width="4.4"/><use href="#c132" stroke="#09b65f" stroke-width="2.6"/><use href="#c133" stroke="#0b4817" stroke-width="4.4"/><use href="#c133" stroke="#1ebc3c" stroke-width="2.6"/><use href="#c134" stroke="#0d2245" stroke-width="4.4"/><use href="#c134" stroke="#225ab6" stroke-width="2.6"/><use href="#c135" stroke="#04491e" stroke-width="4.4"/><use href="#c135" stroke="#0ac04e" stroke-width="2.6"/><use href="#c136" stroke="#194311" stroke-width="4.4"/><use href="#c136" stroke="#42ae2e" stroke-width="2.6"/><use href="#c137" stroke="#04422b" stroke-width="4.4"/><use href="#c137" stroke="#0cac71" stroke-width="2.6"/><use href="#c138" stroke="#035112" stroke-width="4.4"/><use href="#c138" stroke="#07d42f" stroke-width="2.6"/><use href="#c139" stroke="#492511" stroke-width="4.4"/><use href="#c139" stroke="#bf602c" stroke-width="2.6"/><use href="#c140" stroke="#083834" stroke-width="4.4"/><use href="#c140" stroke="#169288" stroke-width="2.6"/><use href="#c141" stroke="#243a12" stroke-width="4.4"/><use href="#c141" stroke="#5e972f" stroke-width="2.6"/><use href="#c142" stroke="#024d1a" stroke-width="4.4"/><use href="#c142" stroke="#06ca43" stroke-width="2.6"/><use href="#c143" stroke="#33320f" stroke-width="4.4"/><use href="#c143" stroke="#858328" stroke-width="2.6"/><use href="#c144" stroke="#083a30" stroke-width="4.4"/><use href="#c144" stroke="#15987e" stroke-width="2.6"/><use href="#c145" stroke="#154216" stroke-width="4.4"/><use href="#c145" stroke="#36ad3a" stroke-width="2.6"/><use href="#c146" stroke="#273811" stroke-width="4.4"/><use href="#c146" stroke="#66932d" stroke-width="2.6"/><use href="#c147" stroke="#094d12" stroke-width="4.4"/><use href="#c147" stroke="#18c82f" stroke-width="2.6"/><use href="#c148" stroke="#382f10" stroke-width="4.4"/><use href="#c148" stroke="#937a29" stroke-width="2.6"/><use href="#c149" stroke="#083932" stroke-width="4.4"/><use href="#c149" stroke="#159583" stroke-width="2.6"/><use href="#c150" stroke="#213f10" stroke-width="4.4"/><use href="#c150" stroke="#56a429" stroke-width="2.6"/><use href="#c151" stroke="#33310f" stroke-width="4.4"/><use href="#c151" stroke="#858128" stroke-width="2.6"/><use href="#c152" stroke="#05481e" stroke-width="4.4"/><use href="#c152" stroke="#0ebd4f" stroke-width="2.6"/><use href="#c153" stroke="#034820" stroke-width="4.4"/><use href="#c153" stroke="#08bd55" stroke-width="2.6"/><use href="#c154" stroke="#044524" stroke-width="4.4"/><use href="#c154" stroke="#0bb55f" stroke-width="2.6"/><use href="#c155" stroke="#203e10" stroke-width="4.4"/><use href="#c155" stroke="#55a32a" stroke-width="2.6"/><use href="#c156" stroke="#044d17" stroke-width="4.4"/><use href="#c156" stroke="#0bca3b" stroke-width="2.6"/><use href="#c157" stroke="#054721" stroke-width="4.4"/><use href="#c157" stroke="#0cb956" stroke-width="2.6"/><use href="#c158" stroke="#184114" stroke-width="4.4"/><use href="#c158" stroke="#3eab33" stroke-width="2.6"/><use href="#c159" stroke="#07461e" stroke-width="4.4"/><use href="#c159" stroke="#12b850" stroke-width="2.6"/><use href="#c160" stroke="#0c4914" stroke-width="4.4"/><use href="#c160" stroke="#20bf36" stroke-width="2.6"/><use href="#c161" stroke="#0b2c3f" stroke-width="4.4"/><use href="#c161" stroke="#1e72a5" stroke-width="2.6"/><use href="#c162" stroke="#08471d" stroke-width="4.4"/><use href="#c162" stroke="#15bb4b" stroke-width="2.6"/><use href="#c163" stroke="#263a11" stroke-width="4.4"/><use href="#c163" stroke="#62982c" stroke-width="2.6"/><use href="#c164" stroke="#064b19" stroke-width="4.4"/><use href="#c164" stroke="#0fc440" stroke-width="2.6"/><use href="#c165" stroke="#0b2a3f" stroke-width="4.4"/><use href="#c165" stroke="#1d6fa4" stroke-width="2.6"/><use href="#c166" stroke="#04412d" stroke-width="4.4"/><use href="#c166" stroke="#0bab75" stroke-width="2.6"/><use href="#c167" stroke="#0d2443" stroke-width="4.4"/><use href="#c167" stroke="#215fb0" stroke-width="2.6"/><use href="#c168" stroke="#0e1d49" stroke-width="4.4"/><use href="#c168" stroke="#254cbf" stroke-width="2.6"/><use href="#c169" stroke="#034d1a" stroke-width="4.4"/><use href="#c169" stroke="#07c945" stroke-width="2.6"/><use href="#c170" stroke="#064522" stroke-width="4.4"/><use href="#c170" stroke="#0eb658" stroke-width="2.6"/><use href="#c171" stroke="#093733" stroke-width="4.4"/><use href="#c171" stroke="#188f85" stroke-width="2.6"/><use href="#c172" stroke="#243a12" stroke-width="4.4"/><use href="#c172" stroke="#5e972f" stroke-width="2.6"/><use href="#c173" stroke="#064a1a" stroke-width="4.4"/><use href="#c173" stroke="#0ec244" stroke-width="2.6"/><use href="#c174" stroke="#213f0f" stroke-width="4.4"/><use href="#c174" stroke="#57a527" stroke-width="2.6"/><use href="#c175" stroke="#06471f" stroke-width="4.4"/><use href="#c175" stroke="#10b952" stroke-width="2.6"/><use href="#c176" stroke="#06491a" stroke-width="4.4"/><use href="#c176" stroke="#0fc045" stroke-width="2.6"/><use href="#c177" stroke="#0d2244" stroke-width="4.4"/><use href="#c177" stroke="#225ab3" stroke-width="2.6"/><use href="#c178" stroke="#064521" stroke-width="4.4"/><use href="#c178" stroke="#10b557" stroke-width="2.6"/><use href="#c179" stroke="#114516" stroke-width="4.4"/><use href="#c179" stroke="#2bb43a" stroke-width="2.6"/><use href="#c180" stroke="#0d2544" stroke-width="4.4"/><use href="#c180" stroke="#2160b1" stroke-width="2.6"/><use href="#c181" stroke="#432810" stroke-width="4.4"/><use href="#c181" stroke="#b0682b" stroke-width="2.6"/><use href="#c182" stroke="#063f2b" stroke-width="4.4"/><use href="#c182" stroke="#10a671" stroke-width="2.6"/><use href="#c183" stroke="#0a2d3c" stroke-width="4.4"/><use href="#c183" stroke="#1b769d" stroke-width="2.6"/><use href="#c184" stroke="#094918" stroke-width="4.4"/><use href="#c184" stroke="#17c03f" stroke-width="2.6"/><use href="#c185" stroke="#114317" stroke-width="4.4"/><use href="#c185" stroke="#2eb03d" stroke-width="2.6"/><use href="#c186" stroke="#32320f" stroke-width="4.4"/><use href="#c186" stroke="#848427" stroke-width="2.6"/><use href="#c187" stroke="#1d3e13" stroke-width="4.4"/><use href="#c187" stroke="#4ca330" stroke-width="2.6"/><use href="#c188" stroke="#233d0f" stroke-width="4.4"/><use href="#c188" stroke="#5ba028" stroke-width="2.6"/><use href="#c189" stroke="#0c4817" stroke-width="4.4"/><use href="#c189" stroke="#1fbc3c" stroke-width="2.6"/><use href="#c190" stroke="#422610" stroke-width="4.4"/><use href="#c190" stroke="#ad642a" stroke-width="2.6"/><use href="#c191" stroke="#213f0f" stroke-width="4.4"/><use href="#c191" stroke="#57a627" stroke-width="2.6"/><use href="#c192" stroke="#0f4715" stroke-width="4.4"/><use href="#c192" stroke="#27b938" stroke-width="2.6"/><use href="#c193" stroke="#054325" stroke-width="4.4"/><use href="#c193" stroke="#0eb161" stroke-width="2.6"/><use href="#c194" stroke="#093537" stroke-width="4.4"/><use href="#c194" stroke="#168c91" stroke-width="2.6"/><use href="#c195" stroke="#093436" stroke-width="4.4"/><use href="#c195" stroke="#17898e" stroke-width="2.6"/><use href="#c196" stroke="#044622" stroke-width="4.4"/><use href="#c196" stroke="#0cb75a" stroke-width="2.6"/><use href="#c197" stroke="#034723" stroke-width="4.4"/><use href="#c197" stroke="#07ba5b" stroke-width="2.6"/><use href="#c198" stroke="#024d19" stroke-width="4.4"/><use href="#c198" stroke="#06ca43" stroke-width="2.6"/><use href="#c199" stroke="#0b2d3d" stroke-width="4.4"/><use href="#c199" stroke="#1d76a1" stroke-width="2.6"/><use href="#c200" stroke="#253a11" stroke-width="4.4"/><use href="#c200" stroke="#60992d" stroke-width="2.6"/><use href="#c201" stroke="#063e2c" stroke-width="4.4"/><use href="#c201" stroke="#10a473" stroke-width="2.6"/><use href="#c202" stroke="#0b2f3b" stroke-width="4.4"/><use href="#c202" stroke="#1c7b9b" stroke-width="2.6"/><use href="#c203" stroke="#083931" stroke-width="4.4"/><use href="#c203" stroke="#16957f" stroke-width="2.6"/><use href="#c204" stroke="#154314" stroke-width="4.4"/><use href="#c204" stroke="#38ae34" stroke-width="2.6"/><use href="#c205" stroke="#144612" stroke-width="4.4"/><use href="#c205" stroke="#33b82e" stroke-width="2.6"/><use href="#c206" stroke="#064d14" stroke-width="4.4"/><use href="#c206" stroke="#10ca35" stroke-width="2.6"/><use href="#c207" stroke="#074a18" stroke-width="4.4"/><use href="#c207" stroke="#13c33f" stroke-width="2.6"/><use href="#c208" stroke="#035013" stroke-width="4.4"/><use href="#c208" stroke="#07d133" stroke-width="2.6"/><use href="#c209" stroke="#253a11" stroke-width="4.4"/><use href="#c209" stroke="#61972d" stroke-width="2.6"/><use href="#c210" stroke="#044722" stroke-width="4.4"/><use href="#c210" stroke="#0ab95a" stroke-width="2.6"/><use href="#c211" stroke="#0a3138" stroke-width="4.4"/><use href="#c211" stroke="#1b8294" stroke-width="2.6"/><use href="#c212" stroke="#0a4919" stroke-width="4.4"/><use href="#c212" stroke="#19be40" stroke-width="2.6"/><use href="#c213" stroke="#0e1c49" stroke-width="4.4"/><use href="#c213" stroke="#254bbf" stroke-width="2.6"/><use href="#c214" stroke="#034525" stroke-width="4.4"/><use href="#c214" stroke="#09b661" stroke-width="2.6"/><use href="#c215" stroke="#154314" stroke-width="4.4"/><use href="#c215" stroke="#37af34" stroke-width="2.6"/><use href="#c216" stroke="#074127" stroke-width="4.4"/><use href="#c216" stroke="#12aa66" stroke-width="2.6"/><use href="#c217" stroke="#0b2a3f" stroke-width="4.4"/><use href="#c217" stroke="#1e6fa6" stroke-width="2.6"/><use href="#c218" stroke="#054d16" stroke-width="4.4"/><use href="#c218" stroke="#0cc93a" stroke-width="2.6"/><use href="#c219" stroke="#093538" stroke-width="4.4"/><use href="#c219" stroke="#178b91" stroke-width="2.6"/><use href="#c220" stroke="#4c1f11" stroke-width="4.4"/><use href="#c220" stroke="#c7502c" stroke-width="2.6"/><use href="#c221" stroke="#05412c" stroke-width="4.4"/><use href="#c221" stroke="#0cab72" stroke-width="2.6"/><use href="#c222" stroke="#33320f" stroke-width="4.4"/><use href="#c222" stroke="#858327" stroke-width="2.6"/><use href="#c223" stroke="#353010" stroke-width="4.4"/><use href="#c223" stroke="#8c7d29" stroke-width="2.6"/><use href="#c224" stroke="#025211" stroke-width="4.4"/><use href="#c224" stroke="#06d62c" stroke-width="2.6"/><use href="#c225" stroke="#3c2b0f" stroke-width="4.4"/><use href="#c225" stroke="#9d6f27" stroke-width="2.6"/><use href="#c226" stroke="#044b1b" stroke-width="4.4"/><use href="#c226" stroke="#0ac347" stroke-width="2.6"/><use href="#c227" stroke="#2f3410" stroke-width="4.4"/><use href="#c227" stroke="#7c872a" stroke-width="2.6"/><use href="#c228" stroke="#034d1a" stroke-width="4.4"/><use href="#c228" stroke="#07c944" stroke-width="2.6"/><use href="#c229" stroke="#3d2a0f" stroke-width="4.4"/><use href="#c229" stroke="#9f6f28" stroke-width="2.6"/><use href="#c230" stroke="#083637" stroke-width="4.4"/><use href="#c230" stroke="#168c91" stroke-width="2.6"/><use href="#c231" stroke="#044c1a" stroke-width="4.4"/><use href="#c231" stroke="#0ac644" stroke-width="2.6"/><use href="#c232" stroke="#492410" stroke-width="4.4"/><use href="#c232" stroke="#be5e2b" stroke-width="2.6"/><use href="#c233" stroke="#093634" stroke-width="4.4"/><use href="#c233" stroke="#178f89" stroke-width="2.6"/><use href="#c234" stroke="#093930" stroke-width="4.4"/><use href="#c234" stroke="#17967c" stroke-width="2.6"/><use href="#c235" stroke="#134415" stroke-width="4.4"/><use href="#c235" stroke="#32b236" stroke-width="2.6"/><use href="#c236" stroke="#024821" stroke-width="4.4"/><use href="#c236" stroke="#06bc57" stroke-width="2.6"/><use href="#c237" stroke="#07471e" stroke-width="4.4"/><use href="#c237" stroke="#12b94e" stroke-width="2.6"/><use href="#c238" stroke="#0a471a" stroke-width="4.4"/><use href="#c238" stroke="#1abb45" stroke-width="2.6"/><use href="#c239" stroke="#0d2445" stroke-width="4.4"/><use href="#c239" stroke="#215eb4" stroke-width="2.6"/><use href="#c240" stroke="#0e4519" stroke-width="4.4"/><use href="#c240" stroke="#25b442" stroke-width="2.6"/><use href="#c241" stroke="#073d2c" stroke-width="4.4"/><use href="#c241" stroke="#13a174" stroke-width="2.6"/><use href="#c242" stroke="#044622" stroke-width="4.4"/><use href="#c242" stroke="#0cb859" stroke-width="2.6"/><use href="#c243" stroke="#0c2b40" stroke-width="4.4"/><use href="#c243" stroke="#1f6fa7" stroke-width="2.6"/><use href="#c244" stroke="#243a12" stroke-width="4.4"/><use href="#c244" stroke="#5e982f" stroke-width="2.6"/><use href="#c245" stroke="#243c0f" stroke-width="4.4"/><use href="#c245" stroke="#5e9e28" stroke-width="2.6"/><use href="#c246" stroke="#184114" stroke-width="4.4"/><use href="#c246" stroke="#40aa33" stroke-width="2.6"/><use href="#c247" stroke="#054426" stroke-width="4.4"/><use href="#c247" stroke="#0cb264" stroke-width="2.6"/><use href="#c248" stroke="#233d10" stroke-width="4.4"/><use href="#c248" stroke="#5b9f2a" stroke-width="2.6"/><use href="#c249" stroke="#064b18" stroke-width="4.4"/><use href="#c249" stroke="#10c53e" stroke-width="2.6"/><use href="#c250" stroke="#04412d" stroke-width="4.4"/><use href="#c250" stroke="#0bab76" stroke-width="2.6"/><use href="#c251" stroke="#392d10" stroke-width="4.4"/><use href="#c251" stroke="#967629" stroke-width="2.6"/><use href="#c252" stroke="#144414" stroke-width="4.4"/><use href="#c252" stroke="#35b133" stroke-width="2.6"/><use href="#c253" stroke="#2a3710" stroke-width="4.4"/><use href="#c253" stroke="#6e9129" stroke-width="2.6"/><use href="#c254" stroke="#194213" stroke-width="4.4"/><use href="#c254" stroke="#40ac31" stroke-width="2.6"/><use href="#c255" stroke="#223e10" stroke-width="4.4"/><use href="#c255" stroke="#59a129" stroke-width="2.6"/><use href="#c256" stroke="#083a2e" stroke-width="4.4"/><use href="#c256" stroke="#169979" stroke-width="2.6"/><use href="#c257" stroke="#4b2411" stroke-width="4.4"/><use href="#c257" stroke="#c55d2c" stroke-width="2.6"/><use href="#c258" stroke="#0c2a40" stroke-width="4.4"/><use href="#c258" stroke="#1e6da7" stroke-width="2.6"/><use href="#c259" stroke="#044f14" stroke-width="4.4"/><use href="#c259" stroke="#0ace34" stroke-width="2.6"/><use href="#c260" stroke="#04412d" stroke-width="4.4"/><use href="#c260" stroke="#0bab76" stroke-width="2.6"/><use href="#c261" stroke="#054a1b" stroke-width="4.4"/><use href="#c261" stroke="#0dc248" stroke-width="2.6"/><use href="#c262" stroke="#024d1a" stroke-width="4.4"/><use href="#c262" stroke="#06ca43" stroke-width="2.6"/><use href="#c263" stroke="#024d1a" stroke-width="4.4"/><use href="#c263" stroke="#06ca43" stroke-width="2.6"/><use href="#c264" stroke="#054721" stroke-width="4.4"/><use href="#c264" stroke="#0dba55" stroke-width="2.6"/><use href="#c265" stroke="#2e3410" stroke-width="4.4"/><use href="#c265" stroke="#7a8829" stroke-width="2.6"/><use href="#c266" stroke="#054721" stroke-width="4.4"/><use href="#c266" stroke="#0cba56" stroke-width="2.6"/><use href="#c267" stroke="#0b2e3d" stroke-width="4.4"/><use href="#c267" stroke="#1d779f" stroke-width="2.6"/><use href="#c268" stroke="#04412c" stroke-width="4.4"/><use href="#c268" stroke="#0cab73" stroke-width="2.6"/><use href="#c269" stroke="#0d451a" stroke-width="4.4"/><use href="#c269" stroke="#21b545" stroke-width="2.6"/><use href="#c270" stroke="#034f14" stroke-width="4.4"/><use href="#c270" stroke="#09d033" stroke-width="2.6"/><use href="#c271" stroke="#194113" stroke-width="4.4"/><use href="#c271" stroke="#41aa32" stroke-width="2.6"/><use href="#c272" stroke="#064e14" stroke-width="4.4"/><use href="#c272" stroke="#0fcb34" stroke-width="2.6"/><use href="#c273" stroke="#0d4815" stroke-width="4.4"/><use href="#c273" stroke="#22bc38" stroke-width="2.6"/><use href="#c274" stroke="#243c10" stroke-width="4.4"/><use href="#c274" stroke="#5d9d2b" stroke-width="2.6"/><use href="#c275" stroke="#073e2d" stroke-width="4.4"/><use href="#c275" stroke="#11a175" stroke-width="2.6"/><use href="#c276" stroke="#04422c" stroke-width="4.4"/><use href="#c276" stroke="#0bac74" stroke-width="2.6"/><use href="#c277" stroke="#073c2e" stroke-width="4.4"/><use href="#c277" stroke="#129e79" stroke-width="2.6"/><use href="#c278" stroke="#0a313a" stroke-width="4.4"/><use href="#c278" stroke="#198098" stroke-width="2.6"/><use href="#c279" stroke="#0e4519" stroke-width="4.4"/><use href="#c279" stroke="#24b543" stroke-width="2.6"/><use href="#c280" stroke="#083833" stroke-width="4.4"/><use href="#c280" stroke="#149286" stroke-width="2.6"/><use href="#c281" stroke="#073f29" stroke-width="4.4"/><use href="#c281" stroke="#13a56c" stroke-width="2.6"/><use href="#c282" stroke="#044c1a" stroke-width="4.4"/><use href="#c282" stroke="#0bc645" stroke-width="2.6"/><use href="#c283" stroke="#083d2c" stroke-width="4.4"/><use href="#c283" stroke="#149f73" stroke-width="2.6"/><use href="#c284" stroke="#054622" stroke-width="4.4"/><use href="#c284" stroke="#0cb75a" stroke-width="2.6"/><use href="#c285" stroke="#04432a" stroke-width="4.4"/><use href="#c285" stroke="#0bae6e" stroke-width="2.6"/><use href="#c286" stroke="#05491d" stroke-width="4.4"/><use href="#c286" stroke="#0ec04b" stroke-width="2.6"/><use href="#c287" stroke="#093733" stroke-width="4.4"/><use href="#c287" stroke="#188f84" stroke-width="2.6"/><use href="#c288" stroke="#083734" stroke-width="4.4"/><use href="#c288" stroke="#159087" stroke-width="2.6"/><use href="#c289" stroke="#093636" stroke-width="4.4"/><use href="#c289" stroke="#168d8f" stroke-width="2.6"/><use href="#c290" stroke="#064621" stroke-width="4.4"/><use href="#c290" stroke="#0eb856" stroke-width="2.6"/><use href="#c291" stroke="#174213" stroke-width="4.4"/><use href="#c291" stroke="#3bad32" stroke-width="2.6"/><use href="#c292" stroke="#073833" stroke-width="4.4"/><use href="#c292" stroke="#139385" stroke-width="2.6"/><use href="#c293" stroke="#144513" stroke-width="4.4"/><use href="#c293" stroke="#33b431" stroke-width="2.6"/><use href="#c294" stroke="#034b1d" stroke-width="4.4"/><use href="#c294" stroke="#09c34b" stroke-width="2.6"/><use href="#c295" stroke="#3e2a0f" stroke-width="4.4"/><use href="#c295" stroke="#a16d27" stroke-width="2.6"/><use href="#c296" stroke="#0e1d49" stroke-width="4.4"/><use href="#c296" stroke="#254bbf" stroke-width="2.6"/><use href="#c297" stroke="#124415" stroke-width="4.4"/><use href="#c297" stroke="#2fb338" stroke-width="2.6"/><use href="#c298" stroke="#0c2841" stroke-width="4.4"/><use href="#c298" stroke="#1f69aa" stroke-width="2.6"/><use href="#c299" stroke="#0c2b40" stroke-width="4.4"/><use href="#c299" stroke="#1e71a7" stroke-width="2.6"/><use href="#c300" stroke="#035111" stroke-width="4.4"/><use href="#c300" stroke="#07d52d" stroke-width="2.6"/><use href="#c301" stroke="#07481c" stroke-width="4.4"/><use href="#c301" stroke="#12bd49" stroke-width="2.6"/><use href="#c302" stroke="#213e10" stroke-width="4.4"/><use href="#c302" stroke="#56a32a" stroke-width="2.6"/><use href="#c303" stroke="#0a3239" stroke-width="4.4"/><use href="#c303" stroke="#198396" stroke-width="2.6"/><use href="#c304" stroke="#303310" stroke-width="4.4"/><use href="#c304" stroke="#7d8629" stroke-width="2.6"/><use href="#c305" stroke="#0a4918" stroke-width="4.4"/><use href="#c305" stroke="#19bf3e" stroke-width="2.6"/><use href="#c306" stroke="#203c12" stroke-width="4.4"/><use href="#c306" stroke="#549e30" stroke-width="2.6"/><use href="#c307" stroke="#2d3510" stroke-width="4.4"/><use href="#c307" stroke="#768a2a" stroke-width="2.6"/><use href="#c308" stroke="#0c2a41" stroke-width="4.4"/><use href="#c308" stroke="#1f6eaa" stroke-width="2.6"/><use href="#c309" stroke="#164213" stroke-width="4.4"/><use href="#c309" stroke="#3aae32" stroke-width="2.6"/><use href="#c310" stroke="#074323" stroke-width="4.4"/><use href="#c310" stroke="#13ae5d" stroke-width="2.6"/><use href="#c311" stroke="#0c2841" stroke-width="4.4"/><use href="#c311" stroke="#1f68aa" stroke-width="2.6"/><use href="#c312" stroke="#0d4815" stroke-width="4.4"/><use href="#c312" stroke="#23bd37" stroke-width="2.6"/><use href="#c313" stroke="#05402c" stroke-width="4.4"/><use href="#c313" stroke="#0ea773" stroke-width="2.6"/><use href="#c314" stroke="#194113" stroke-width="4.4"/><use href="#c314" stroke="#41aa31" stroke-width="2.6"/><use href="#c315" stroke="#154313" stroke-width="4.4"/><use href="#c315" stroke="#37b032" stroke-width="2.6"/><use href="#c316" stroke="#064a1b" stroke-width="4.4"/><use href="#c316" stroke="#0fc246" stroke-width="2.6"/><use href="#c317" stroke="#093637" stroke-width="4.4"/><use href="#c317" stroke="#168c91" stroke-width="2.6"/><use href="#c318" stroke="#293711" stroke-width="4.4"/><use href="#c318" stroke="#6d902c" stroke-width="2.6"/><use href="#c319" stroke="#05402d" stroke-width="4.4"/><use href="#c319" stroke="#0da876" stroke-width="2.6"/><use href="#c320" stroke="#164313" stroke-width="4.4"/><use href="#c320" stroke="#39b131" stroke-width="2.6"/><use href="#c321" stroke="#035111" stroke-width="4.4"/><use href="#c321" stroke="#07d52d" stroke-width="2.6"/><use href="#c322" stroke="#054a1b" stroke-width="4.4"/><use href="#c322" stroke="#0ec248" stroke-width="2.6"/><use href="#c323" stroke="#174114" stroke-width="4.4"/><use href="#c323" stroke="#3dab33" stroke-width="2.6"/><use href="#c324" stroke="#073c2e" stroke-width="4.4"/><use href="#c324" stroke="#129e79" stroke-width="2.6"/><use href="#c325" stroke="#073f29" stroke-width="4.4"/><use href="#c325" stroke="#12a56c" stroke-width="2.6"/><use href="#c326" stroke="#0e1d49" stroke-width="4.4"/><use href="#c326" stroke="#254bbf" stroke-width="2.6"/><use href="#c327" stroke="#034a1d" stroke-width="4.4"/><use href="#c327" stroke="#09c14d" stroke-width="2.6"/><use href="#c328" stroke="#034c1b" stroke-width="4.4"/><use href="#c328" stroke="#07c647" stroke-width="2.6"/><use href="#c329" stroke="#372e10" stroke-width="4.4"/><use href="#c329" stroke="#907829" stroke-width="2.6"/><use href="#c330" stroke="#134513" stroke-width="4.4"/><use href="#c330" stroke="#33b533" stroke-width="2.6"/><use href="#c331" stroke="#0b4818" stroke-width="4.4"/><use href="#c331" stroke="#1dbd3e" stroke-width="2.6"/><use href="#c332" stroke="#034c1a" stroke-width="4.4"/><use href="#c332" stroke="#08c844" stroke-width="2.6"/><use href="#c333" stroke="#0d4717" stroke-width="4.4"/><use href="#c333" stroke="#22ba3c" stroke-width="2.6"/><use href="#c334" stroke="#063c30" stroke-width="4.4"/><use href="#c334" stroke="#109d7d" stroke-width="2.6"/><use href="#c335" stroke="#35300f" stroke-width="4.4"/><use href="#c335" stroke="#8a7d27" stroke-width="2.6"/><use href="#c336" stroke="#223e10" stroke-width="4.4"/><use href="#c336" stroke="#59a129" stroke-width="2.6"/><use href="#c337" stroke="#034b1b" stroke-width="4.4"/><use href="#c337" stroke="#09c548" stroke-width="2.6"/><use href="#c338" stroke="#064522" stroke-width="4.4"/><use href="#c338" stroke="#10b459" stroke-width="2.6"/><use href="#c339" stroke="#283711" stroke-width="4.4"/><use href="#c339" stroke="#6a912c" stroke-width="2.6"/><use href="#c340" stroke="#372f10" stroke-width="4.4"/><use href="#c340" stroke="#907a29" stroke-width="2.6"/><use href="#c341" stroke="#044f13" stroke-width="4.4"/><use href="#c341" stroke="#0ad033" stroke-width="2.6"/><use href="#c342" stroke="#243d0f" stroke-width="4.4"/><use href="#c342" stroke="#5e9f27" stroke-width="2.6"/><use href="#c343" stroke="#293711" stroke-width="4.4"/><use href="#c343" stroke="#6b912b" stroke-width="2.6"/><use href="#c344" stroke="#273811" stroke-width="4.4"/><use href="#c344" stroke="#66932d" stroke-width="2.6"/><use href="#c345" stroke="#084d12" stroke-width="4.4"/><use href="#c345" stroke="#15ca2f" stroke-width="2.6"/><use href="#c346" stroke="#442610" stroke-width="4.4"/><use href="#c346" stroke="#b2652a" stroke-width="2.6"/><use href="#c347" stroke="#164213" stroke-width="4.4"/><use href="#c347" stroke="#39ae33" stroke-width="2.6"/><use href="#c348" stroke="#0a3534" stroke-width="4.4"/><use href="#c348" stroke="#198b89" stroke-width="2.6"/><use href="#c349" stroke="#0a2e3c" stroke-width="4.4"/><use href="#c349" stroke="#1b799d" stroke-width="2.6"/><use href="#c350" stroke="#044820" stroke-width="4.4"/><use href="#c350" stroke="#0bbc53" stroke-width="2.6"/><use href="#c351" stroke="#063f2b" stroke-width="4.4"/><use href="#c351" stroke="#10a670" stroke-width="2.6"/><use href="#c352" stroke="#054720" stroke-width="4.4"/><use href="#c352" stroke="#0eb955" stroke-width="2.6"/><use href="#c353" stroke="#044c1a" stroke-width="4.4"/><use href="#c353" stroke="#0bc644" stroke-width="2.6"/><use href="#c354" stroke="#33320f" stroke-width="4.4"/><use href="#c354" stroke="#858327" stroke-width="2.6"/><use href="#c355" stroke="#104516" stroke-width="4.4"/><use href="#c355" stroke="#2ab539" stroke-width="2.6"/><use href="#c356" stroke="#194113" stroke-width="4.4"/><use href="#c356" stroke="#41aa32" stroke-width="2.6"/><use href="#c357" stroke="#083b2f" stroke-width="4.4"/><use href="#c357" stroke="#159a7b" stroke-width="2.6"/><use href="#c358" stroke="#0b2940" stroke-width="4.4"/><use href="#c358" stroke="#1e6ca7" stroke-width="2.6"/><use href="#c359" stroke="#0e1f47" stroke-width="4.4"/><use href="#c359" stroke="#2451bb" stroke-width="2.6"/><use href="#c360" stroke="#064a1a" stroke-width="4.4"/><use href="#c360" stroke="#10c344" stroke-width="2.6"/><use href="#c361" stroke="#2e340f" stroke-width="4.4"/><use href="#c361" stroke="#798927" stroke-width="2.6"/><use href="#c362" stroke="#034f14" stroke-width="4.4"/><use href="#c362" stroke="#09d034" stroke-width="2.6"/><use href="#c363" stroke="#073833" stroke-width="4.4"/><use href="#c363" stroke="#139484" stroke-width="2.6"/><use href="#c364" stroke="#3b2c10" stroke-width="4.4"/><use href="#c364" stroke="#9b7329" stroke-width="2.6"/><use href="#c365" stroke="#06481c" stroke-width="4.4"/><use href="#c365" stroke="#10be48" stroke-width="2.6"/><use href="#c366" stroke="#064e13" stroke-width="4.4"/><use href="#c366" stroke="#11cc32" stroke-width="2.6"/><use href="#c367" stroke="#04491e" stroke-width="4.4"/><use href="#c367" stroke="#0bc04e" stroke-width="2.6"/><use href="#c368" stroke="#034d1a" stroke-width="4.4"/><use href="#c368" stroke="#07c945" stroke-width="2.6"/><use href="#c369" stroke="#093339" stroke-width="4.4"/><use href="#c369" stroke="#188695" stroke-width="2.6"/><use href="#c370" stroke="#30330f" stroke-width="4.4"/><use href="#c370" stroke="#7d8727" stroke-width="2.6"/><use href="#c371" stroke="#2e340f" stroke-width="4.4"/><use href="#c371" stroke="#798927" stroke-width="2.6"/><use href="#c372" stroke="#33310f" stroke-width="4.4"/><use href="#c372" stroke="#878027" stroke-width="2.6"/><use href="#c373" stroke="#034d1a" stroke-width="4.4"/><use href="#c373" stroke="#07ca43" stroke-width="2.6"/><use href="#c374" stroke="#0d2345" stroke-width="4.4"/><use href="#c374" stroke="#215cb6" stroke-width="2.6"/><use href="#c375" stroke="#035112" stroke-width="4.4"/><use href="#c375" stroke="#07d330" stroke-width="2.6"/><use href="#c376" stroke="#024821" stroke-width="4.4"/><use href="#c376" stroke="#06bd56" stroke-width="2.6"/><use href="#c377" stroke="#124317" stroke-width="4.4"/><use href="#c377" stroke="#2eb03d" stroke-width="2.6"/><use href="#c378" stroke="#044c1a" stroke-width="4.4"/><use href="#c378" stroke="#0ac744" stroke-width="2.6"/><use href="#c379" stroke="#034b1c" stroke-width="4.4"/><use href="#c379" stroke="#09c44a" stroke-width="2.6"/><use href="#c380" stroke="#064620" stroke-width="4.4"/><use href="#c380" stroke="#0fb854" stroke-width="2.6"/><use href="#c381" stroke="#054721" stroke-width="4.4"/><use href="#c381" stroke="#0eb956" stroke-width="2.6"/><use href="#c382" stroke="#06471f" stroke-width="4.4"/><use href="#c382" stroke="#10b952" stroke-width="2.6"/><use href="#c383" stroke="#0d2047" stroke-width="4.4"/><use href="#c383" stroke="#2353ba" stroke-width="2.6"/><use href="#c384" stroke="#04491f" stroke-width="4.4"/><use href="#c384" stroke="#0abf50" stroke-width="2.6"/><use href="#c385" stroke="#1c3f13" stroke-width="4.4"/><use href="#c385" stroke="#49a531" stroke-width="2.6"/><use href="#c386" stroke="#164413" stroke-width="4.4"/><use href="#c386" stroke="#39b132" stroke-width="2.6"/><use href="#c387" stroke="#074c15" stroke-width="4.4"/><use href="#c387" stroke="#11c837" stroke-width="2.6"/><use href="#c388" stroke="#2a3611" stroke-width="4.4"/><use href="#c388" stroke="#6f8e2c" stroke-width="2.6"/><use href="#c389" stroke="#074a1a" stroke-width="4.4"/><use href="#c389" stroke="#12c243" stroke-width="2.6"/><use href="#c390" stroke="#074128" stroke-width="4.4"/><use href="#c390" stroke="#11a969" stroke-width="2.6"/><use href="#c391" stroke="#044e15" stroke-width="4.4"/><use href="#c391" stroke="#0bcb38" stroke-width="2.6"/><use href="#c392" stroke="#31330f" stroke-width="4.4"/><use href="#c392" stroke="#818528" stroke-width="2.6"/><use href="#c393" stroke="#492310" stroke-width="4.4"/><use href="#c393" stroke="#c05b2b" stroke-width="2.6"/><use href="#c394" stroke="#093634" stroke-width="4.4"/><use href="#c394" stroke="#188e88" stroke-width="2.6"/><use href="#c395" stroke="#054522" stroke-width="4.4"/><use href="#c395" stroke="#0eb659" stroke-width="2.6"/><use href="#c396" stroke="#3a2c10" stroke-width="4.4"/><use href="#c396" stroke="#97732b" stroke-width="2.6"/><use href="#c397" stroke="#093636" stroke-width="4.4"/><use href="#c397" stroke="#178d8e" stroke-width="2.6"/><use href="#c398" stroke="#024821" stroke-width="4.4"/><use href="#c398" stroke="#06bd56" stroke-width="2.6"/><use href="#c399" stroke="#253a11" stroke-width="4.4"/><use href="#c399" stroke="#60992c" stroke-width="2.6"/><use href="#c400" stroke="#044624" stroke-width="4.4"/><use href="#c400" stroke="#0bb65e" stroke-width="2.6"/><use href="#c401" stroke="#174213" stroke-width="4.4"/><use href="#c401" stroke="#3dac31" stroke-width="2.6"/><use href="#c402" stroke="#0d2046" stroke-width="4.4"/><use href="#c402" stroke="#2354b9" stroke-width="2.6"/><use href="#c403" stroke="#233d0f" stroke-width="4.4"/><use href="#c403" stroke="#5ba028" stroke-width="2.6"/><use href="#c404" stroke="#04412c" stroke-width="4.4"/><use href="#c404" stroke="#0bab74" stroke-width="2.6"/><use href="#c405" stroke="#3e2b10" stroke-width="4.4"/><use href="#c405" stroke="#a1712a" stroke-width="2.6"/><use href="#c406" stroke="#044c1a" stroke-width="4.4"/><use href="#c406" stroke="#0ac745" stroke-width="2.6"/><use href="#c407" stroke="#044722" stroke-width="4.4"/><use href="#c407" stroke="#0bb958" stroke-width="2.6"/><use href="#c408" stroke="#2d3510" stroke-width="4.4"/><use href="#c408" stroke="#778a29" stroke-width="2.6"/><use href="#c409" stroke="#293710" stroke-width="4.4"/><use href="#c409" stroke="#6c902b" stroke-width="2.6"/><use href="#c410" stroke="#054e14" stroke-width="4.4"/><use href="#c410" stroke="#0ccd35" stroke-width="2.6"/><use href="#c411" stroke="#203e10" stroke-width="4.4"/><use href="#c411" stroke="#54a32b" stroke-width="2.6"/><use href="#c412" stroke="#0e4617" stroke-width="4.4"/><use href="#c412" stroke="#25b73c" stroke-width="2.6"/><use href="#c413" stroke="#093538" stroke-width="4.4"/><use href="#c413" stroke="#178a93" stroke-width="2.6"/><use href="#c414" stroke="#253a12" stroke-width="4.4"/><use href="#c414" stroke="#61972e" stroke-width="2.6"/><use href="#c415" stroke="#0c2a40" stroke-width="4.4"/><use href="#c415" stroke="#1f6ea8" stroke-width="2.6"/><use href="#c416" stroke="#203f10" stroke-width="4.4"/><use href="#c416" stroke="#53a629" stroke-width="2.6"/><use href="#c417" stroke="#044722" stroke-width="4.4"/><use href="#c417" stroke="#0bb959" stroke-width="2.6"/><use href="#c418" stroke="#233b12" stroke-width="4.4"/><use href="#c418" stroke="#5b9a2f" stroke-width="2.6"/><use href="#c419" stroke="#044722" stroke-width="4.4"/><use href="#c419" stroke="#09bb58" stroke-width="2.6"/><use href="#c420" stroke="#044b1a" stroke-width="4.4"/><use href="#c420" stroke="#0cc544" stroke-width="2.6"/><use href="#c421" stroke="#04412d" stroke-width="4.4"/><use href="#c421" stroke="#0bab76" stroke-width="2.6"/><use href="#c422" stroke="#114616" stroke-width="4.4"/><use href="#c422" stroke="#2bb638" stroke-width="2.6"/><use href="#c423" stroke="#044b1b" stroke-width="4.4"/><use href="#c423" stroke="#0bc447" stroke-width="2.6"/><use href="#c424" stroke="#4f1c11" stroke-width="4.4"/><use href="#c424" stroke="#cf4a2c" stroke-width="2.6"/><use href="#c425" stroke="#253a11" stroke-width="4.4"/><use href="#c425" stroke="#62982c" stroke-width="2.6"/><use href="#c426" stroke="#064a1a" stroke-width="4.4"/><use href="#c426" stroke="#0fc244" stroke-width="2.6"/><use href="#c427" stroke="#154313" stroke-width="4.4"/><use href="#c427" stroke="#37b032" stroke-width="2.6"/><use href="#c428" stroke="#293810" stroke-width="4.4"/><use href="#c428" stroke="#6c922a" stroke-width="2.6"/><use href="#c429" stroke="#083735" stroke-width="4.4"/><use href="#c429" stroke="#168f8b" stroke-width="2.6"/><use href="#c430" stroke="#054e13" stroke-width="4.4"/><use href="#c430" stroke="#0dcd33" stroke-width="2.6"/><use href="#c431" stroke="#0c4619" stroke-width="4.4"/><use href="#c431" stroke="#20b841" stroke-width="2.6"/><use href="#c432" stroke="#223d0f" stroke-width="4.4"/><use href="#c432" stroke="#5aa128" stroke-width="2.6"/><use href="#c433" stroke="#223f0f" stroke-width="4.4"/><use href="#c433" stroke="#58a527" stroke-width="2.6"/><use href="#c434" stroke="#073f2a" stroke-width="4.4"/><use href="#c434" stroke="#11a66d" stroke-width="2.6"/><use href="#c435" stroke="#05481d" stroke-width="4.4"/><use href="#c435" stroke="#0ebe4d" stroke-width="2.6"/><use href="#c436" stroke="#0c2643" stroke-width="4.4"/><use href="#c436" stroke="#2063b0" stroke-width="2.6"/><use href="#c437" stroke="#0b2e3c" stroke-width="4.4"/><use href="#c437" stroke="#1c789e" stroke-width="2.6"/><use href="#c438" stroke="#2a3711" stroke-width="4.4"/><use href="#c438" stroke="#6d902c" stroke-width="2.6"/><use href="#c439" stroke="#233a12" stroke-width="4.4"/><use href="#c439" stroke="#5c982f" stroke-width="2.6"/><use href="#c440" stroke="#054c18" stroke-width="4.4"/><use href="#c440" stroke="#0ec63f" stroke-width="2.6"/><use href="#c441" stroke="#024d1a" stroke-width="4.4"/><use href="#c441" stroke="#06cb43" stroke-width="2.6"/><use href="#c442" stroke="#144314" stroke-width="4.4"/><use href="#c442" stroke="#35b034" stroke-width="2.6"/><use href="#c443" stroke="#074c16" stroke-width="4.4"/><use href="#c443" stroke="#12c63a" stroke-width="2.6"/><use href="#c444" stroke="#0e1b4b" stroke-width="4.4"/><use href="#c444" stroke="#2646c3" stroke-width="2.6"/><use href="#c445" stroke="#044b1a" stroke-width="4.4"/><use href="#c445" stroke="#0cc544" stroke-width="2.6"/><use href="#c446" stroke="#083637" stroke-width="4.4"/><use href="#c446" stroke="#168d90" stroke-width="2.6"/><use href="#c447" stroke="#034f15" stroke-width="4.4"/><use href="#c447" stroke="#09ce37" stroke-width="2.6"/><use href="#c448" stroke="#233d0f" stroke-width="4.4"/><use href="#c448" stroke="#5d9f27" stroke-width="2.6"/><use href="#c449" stroke="#093a2f" stroke-width="4.4"/><use href="#c449" stroke="#17977b" stroke-width="2.6"/><use href="#c450" stroke="#203f10" stroke-width="4.4"/><use href="#c450" stroke="#53a52b" stroke-width="2.6"/><use href="#c451" stroke="#0e1d49" stroke-width="4.4"/><use href="#c451" stroke="#254bbe" stroke-width="2.6"/><use href="#c452" stroke="#083c2c" stroke-width="4.4"/><use href="#c452" stroke="#169e73" stroke-width="2.6"/><use href="#c453" stroke="#073e2d" stroke-width="4.4"/><use href="#c453" stroke="#11a275" stroke-width="2.6"/><use href="#c454" stroke="#044722" stroke-width="4.4"/><use href="#c454" stroke="#0aba58" stroke-width="2.6"/><use href="#c455" stroke="#33320f" stroke-width="4.4"/><use href="#c455" stroke="#868228" stroke-width="2.6"/><use href="#c456" stroke="#2a3611" stroke-width="4.4"/><use href="#c456" stroke="#6f8f2c" stroke-width="2.6"/><use href="#c457" stroke="#08471c" stroke-width="4.4"/><use href="#c457" stroke="#15bb4a" stroke-width="2.6"/><use href="#c458" stroke="#154413" stroke-width="4.4"/><use href="#c458" stroke="#37b232" stroke-width="2.6"/><use href="#c459" stroke="#054b1a" stroke-width="4.4"/><use href="#c459" stroke="#0dc544" stroke-width="2.6"/><use href="#c460" stroke="#1e3d13" stroke-width="4.4"/><use href="#c460" stroke="#4fa031" stroke-width="2.6"/><use href="#c461" stroke="#093537" stroke-width="4.4"/><use href="#c461" stroke="#178b91" stroke-width="2.6"/><use href="#c462" stroke="#0b461b" stroke-width="4.4"/><use href="#c462" stroke="#1cb846" stroke-width="2.6"/><use href="#c463" stroke="#3a2c10" stroke-width="4.4"/><use href="#c463" stroke="#987329" stroke-width="2.6"/><use href="#c464" stroke="#063f2a" stroke-width="4.4"/><use href="#c464" stroke="#11a66f" stroke-width="2.6"/><use href="#c465" stroke="#054720" stroke-width="4.4"/><use href="#c465" stroke="#0dbb53" stroke-width="2.6"/><use href="#c466" stroke="#09323a" stroke-width="4.4"/><use href="#c466" stroke="#198398" stroke-width="2.6"/><use href="#c467" stroke="#2e340f" stroke-width="4.4"/><use href="#c467" stroke="#798927" stroke-width="2.6"/><use href="#c468" stroke="#064b18" stroke-width="4.4"/><use href="#c468" stroke="#0fc440" stroke-width="2.6"/><use href="#c469" stroke="#243d0f" stroke-width="4.4"/><use href="#c469" stroke="#5d9f27" stroke-width="2.6"/><use href="#c470" stroke="#044722" stroke-width="4.4"/><use href="#c470" stroke="#0aba59" stroke-width="2.6"/><use href="#c471" stroke="#044b1a" stroke-width="4.4"/><use href="#c471" stroke="#0bc645" stroke-width="2.6"/><use href="#c472" stroke="#194311" stroke-width="4.4"/><use href="#c472" stroke="#40b02c" stroke-width="2.6"/><use href="#c473" stroke="#1e3d14" stroke-width="4.4"/><use href="#c473" stroke="#4ea133" stroke-width="2.6"/><use href="#c474" stroke="#0f4617" stroke-width="4.4"/><use href="#c474" stroke="#26b73d" stroke-width="2.6"/><use href="#c475" stroke="#253b10" stroke-width="4.4"/><use href="#c475" stroke="#629a2a" stroke-width="2.6"/><use href="#c476" stroke="#035013" stroke-width="4.4"/><use href="#c476" stroke="#07d232" stroke-width="2.6"/><use href="#c477" stroke="#064e12" stroke-width="4.4"/><use href="#c477" stroke="#10cd30" stroke-width="2.6"/><use href="#c478" stroke="#422710" stroke-width="4.4"/><use href="#c478" stroke="#ad6529" stroke-width="2.6"/><use href="#c479" stroke="#025211" stroke-width="4.4"/><use href="#c479" stroke="#06d62d" stroke-width="2.6"/><use href="#c480" stroke="#32310f" stroke-width="4.4"/><use href="#c480" stroke="#848127" stroke-width="2.6"/><use href="#c481" stroke="#283811" stroke-width="4.4"/><use href="#c481" stroke="#69922c" stroke-width="2.6"/><use href="#c482" stroke="#044a1d" stroke-width="4.4"/><use href="#c482" stroke="#0bc14c" stroke-width="2.6"/><use href="#c483" stroke="#213f0f" stroke-width="4.4"/><use href="#c483" stroke="#58a527" stroke-width="2.6"/></g>
<ellipse cx="464.5" cy="1199.5" rx="74" ry="69" fill="none" stroke="#8a3e04" stroke-width="13"/><ellipse cx="467" cy="1197" rx="76" ry="71" fill="none" stroke="#e47812" stroke-width="8.5"/><path d="M487 1196.1L536.5 1193.8M475.3 1199.7L533.5 1218.5M470.6 1198.7L524.9 1223.5M477.7 1214.2L501.6 1252.5M472.6 1208.1L496.5 1255.7M467.2 1205.3L468.2 1259.5M465.6 1205L456.1 1259.9M464.4 1204.2L446.3 1254.9M449.1 1210.6L412.1 1238.8M449.2 1211.3L416.7 1237.4M458.6 1199.7L405 1216.9M456.2 1194.6L402.8 1182.8M445.8 1187.3L407.3 1169.7M449.9 1185.7L413.6 1161.6M451.2 1179.8L424.5 1150.7M465.8 1192.6L449.1 1133.1M460.7 1174.8L449.7 1135.7M467.8 1190.7L474.8 1134.2M469.7 1190.2L489.6 1140.5M471.6 1192L513.5 1147M473.6 1193.9L527 1169.1M472.6 1195.3L529.6 1177.9" stroke="#b86006" stroke-width="7.5" stroke-linecap="round"/><path d="M487 1196.1L536.5 1193.8M475.3 1199.7L533.5 1218.5M470.6 1198.7L524.9 1223.5M477.7 1214.2L501.6 1252.5M472.6 1208.1L496.5 1255.7M467.2 1205.3L468.2 1259.5M465.6 1205L456.1 1259.9M464.4 1204.2L446.3 1254.9M449.1 1210.6L412.1 1238.8M449.2 1211.3L416.7 1237.4M458.6 1199.7L405 1216.9M456.2 1194.6L402.8 1182.8M445.8 1187.3L407.3 1169.7M449.9 1185.7L413.6 1161.6M451.2 1179.8L424.5 1150.7M465.8 1192.6L449.1 1133.1M460.7 1174.8L449.7 1135.7M467.8 1190.7L474.8 1134.2M469.7 1190.2L489.6 1140.5M471.6 1192L513.5 1147M473.6 1193.9L527 1169.1M472.6 1195.3L529.6 1177.9" stroke="#f7982c" stroke-width="4.5" stroke-linecap="round"/><path d="M442.7 1130A75.5 70.5 0 0 1 537.4 1212.2" fill="none" stroke="#ffa848" stroke-width="2.5"/>
<defs><path id="co0" d="M460 1231l9-6l-8-6l10-3l3-9l8 5l4-9l8 6l1-10l10 2l-2-10M469 1225l5 9l10 0l6 9M482 1212l-2 9M494 1209l-2 9l7 7M499 1225l9 2l2 9l-6 6l-8-2l-3-8l6-7M505 1201l3 9M508 1210l-2 8"/><path id="co1" d="M449 1186l10 1l-4-9l9-3l-3-9l10 1l-6-8l8-5l-6-8l9-3l-7-6M464 1175l6 9l10-1M480 1183l7-4l8 3l0 9l-7 5l-7-4l-1-9M473 1154l8 6M481 1160l4 7M476 1143l10 4"/><path id="co2" d="M438 1174l4 9l9-4l1 10l5-9l7 8l8-6l2 10l8-7l4 9l6-8M442 1183l-9 6l1 9l-8 6M452 1189l-7 7l2 10M447 1206l6 8l-6 8l-9-3l0-10l9-3M464 1188l-9 5l0 10M486 1194l-3 10l7 7l-2 10M488 1221l9 2l2 8l-6 6l-8-2l-3-8l6-6"/></defs><g fill="none" stroke-linecap="round" stroke-linejoin="round"><use href="#co0" stroke="#035615" stroke-width="3.8"/><use href="#co0" stroke="#07d133" stroke-width="2.3"/><use href="#co1" stroke="#055219" stroke-width="3.8"/><use href="#co1" stroke="#0dc73d" stroke-width="2.3"/><use href="#co2" stroke="#06501a" stroke-width="3.8"/><use href="#co2" stroke="#0ec440" stroke-width="2.3"/></g>
</g>
<circle cx="464" cy="1195" r="231.5" fill="none" stroke="#000" stroke-width="9" stroke-dasharray="38 28.5" stroke-dashoffset="12.5"/>
<path d="M383 1193H252" stroke="#e8001a" stroke-width="9" stroke-linecap="round"/>
<path d="M235 1193L263 1178L256 1193L263 1208Z" fill="#e8001a" stroke="#e8001a" stroke-width="3" stroke-linejoin="round"/>
<text font-family="Liberation Sans, Arial, sans-serif" font-size="74" fill="#e6661a" x="263" y="1277">R</text><text font-family="Liberation Sans, Arial, sans-serif" font-size="47" fill="#e6661a" x="317" y="1292">0</text>
<g filter="url(#blr)">
<defs><path id="d0" d="M987 973l-3-6l6 4l1-7l-4 6l5-3l1 6l1 6l4-7l4 4l5 0l6 2l6-1l-2 6l6 0l3 6l1-7l2 6l1-7l4 6l5-2l3-4l5 4l6-4l-7-3l3-5l5 5l-6-1l-1 7l-1-5l-4 5l-4-5l-4 6l-5-5l0 6l-5-4l-5 5l-4-4l-5 3l-4-7l-4 6l-5-6l-5 6l-2 7l-6 2l4 6l-3 5l-7-1l3 5l-7 0M990 971l4 4M991 964l0-5l4-3l0-8l5-5M995 948l5 2M992 967l0-5l-2-6M1013 978l4 5M1013 986l4-3l4 2M1019 977l3-6l3-5l-2-5l3-6M1017 983l-4 4l1 6M1023 983l5 0l4-6l5 0l4-6M1046 974l-5-3l0-5M1026 989l3 5l-2 5l4 5M1026 1008l5-4l5 2M1029 988l-2 7M1023 998l4-3l4 2M1042 981l3-6l-4-4l1-6M1047 985l-2 6l3 5l-2 6M1053 981l5-4l7 3l5-3M1073 981l-3-4l1-4M1046 978l-6 3l-5-1M1033 977l2 3l-1 4M1048 977l-4-3M1038 979l4-6l-5-6M1041 965l-4 2l-4-2M1029 980l-5-4l0-6M1024 976l3-3M1024 982l2-7l-4-3M1026 975l4-2M997 979l-2-6l3-5l-3-7M1000 959l-5 2l-4-2M988 1000l5-3l5 3M978 1004l-4-6M975 994l-1 4l-4 2"/><path id="d1" d="M983 941l7 1l-6 4l5 3l-3 7l6 3l-5 6l6 0l7-1l-5 4l7 1l-6 1l-3 6l5-2l-5 3l-3 5l6-2l-4 5l8 1l-3 6l5-4l1 6l4 5l3-6l0 5l2-6l3 6l3-6l4 4l3-6l2 6l3-5l2-6l3 5l5 3l1-7l4 6l2-5l4 5l3-6l4 6l2-7l5-1l3-5l4 6l0-7l6 3l2-7l1-7l8 1l-5-5l6-1l1-7l-6-2l-4 6l-5-4l-2 7l-5-2l-4-7l2 6l-6-2l-4 5l-2-6l-6 2l0-6l-4 4l-4-7l-5 5l-3-5l-6 3l-4 5l-5-2l-2 5l-6-2l4 5l-5-3l2 6l-5-4l-2 6l-2 6l-7 0l-2 7l-3-5l-4 6l-4-6l-7 0l0-8l-6 2l-1-6l-3 5l0-7l-1-7l-4-5l2 6l-5-4l3 6l-6-2M992 959l5-2l6 2l5 3l6 3M1017 969l-3-4l2-4M987 965l-5 4l-7-1l-7-1M964 963l4 4l-1 5M993 965l-6 3M995 968l-5 2l-7-2M990 970l-1-5M998 974l5-5l6 2M1013 975l-4-4l2-5M990 982l-7 3l-1 5l-1 8M992 985l-4 5l-4 4M997 992l-5 2l-2 7M992 994l-3-2M1002 988l1-6l6-1l0-8l2-5M1010 993l5-2l2-6l5-2M1010 998l-3 6l-5 2l-1 5M996 1009l5 2l1 5M1012 992l-4-6l1-5l-4-4M1009 981l6-2M1015 998l-4 6l1 8M1018 992l-3-5l3-6l-3-6M1018 981l5-1M1022 996l2 5l-2 5l-2 6M1027 996l-4 6l3 6l-3 7l2 6M1030 991l5 1l7 2M1035 992l-1 4M1035 990l-7 1l-4-4M1041 986l3-6l4-5l-2-6M1047 987l1-8l-5-4l-5-5M1041 966l-3 4l-6 0M1058 992l0 7M1055 1002l3-3l4 0M1065 984l4 6l5 1l3 6M1068 979l3-5l-2-4l3-6M1069 970l4-1M1072 985l4 6l6 1l4 5l7 1M1078 981l-1 6l4 5l3 4l-1 7M1084 996l-4 2M1080 974l5 5l-1 7l0 5l0 7M1081 967l-5-3l-5-4l0-5M1089 968l5-1l6 5l5 4l5-1M1084 963l-6-3l-5 2M1071 958l2 4l-3 4M1090 962l5 5l7 0l5 5M1091 955l2-7M1085 953l-5-5l1-6M1083 938l-2 4l-5-1M1074 962l-3 6M1067 959l5 3l1 7l4 4l0 5M1036 954l4 5l-2 6l-3 5M1032 973l3-3l4 3M1033 949l4-6l6 0l3-5l3-6M1054 935l-5-3l-1-5M1023 957l3 4l4 6M1026 970l4-3l4 2M1018 955l-5-1l-6 0M1009 960l-2-7l-6-3l-2-5l-2-6M998 935l-1 4l-4 1M1006 962l0-7l-4-4l0-6M1004 940l-2 5l-6 0M1002 974l4 5l5-2l6 0l4 5M1022 987l-1-5l4-3M993 981l4 3l0 6l5 4M998 999l4-5l5 1M986 982l1 5M983 989l4-2l4 3M982 976l3-7l2-5M985 969l5-1M975 968l6-3l2-6M981 965l4 2M969 970l-7-4l-5-2M962 966l0-5M962 956l5 2l1 6M960 958l3 6M962 969l1-5l4-2"/><path id="d2" d="M970 945l0 6l5-3l2 5l5 4l1 6l-7-2l1 6l-6-2l4 4l-5 1l1 8l1 6l6-2l5-3l-7-4l7 4l-4-6l-2-6l7-3l-1-5l2-7l4-6l7 2l4-7l5 3l1-6l6 3l-1-6l4-5l-3-6l3-7l7 2l8 0l3-6l4 5l1-6l6 4l7 0l-4 3l6 2l-3 6l7 0l-5 3l5 6M970 951l1 6l-4 4l1 7M967 961l-6 0M975 948l-2-6l5-5l-2-7l4-6M985 922l-5 2l-4-3M983 963l7 1M989 968l1-4l4-2M977 967l6 1l3 4l5 1M991 977l0-4l4-2M971 965l-5 0l-5 1l-5-4M971 978l7 1M977 984l1-5l5-3M972 984l-7 2l-3 5l-3 6l-6 2M948 997l5 2l1 5M978 982l2 6l5 2l6 1l3 7M993 1003l1-5l5-1M976 975l-6 1l-4-6M965 965l1 5l-4 4M979 973l-6 1l-4-4l-7 1M961 965l1 6l-4 4M984 964l7-3M993 966l-2-5l3-4M985 952l-6-1l-5-1l-2-5M1000 941l-4-5l3-4M1004 929l-5 3l-4-3M1005 944l2 7l5 2M1010 958l2-5l5-1M1012 941l7 2M1018 948l1-5l4-1M1011 935l-5 4l-7-2l-4 3M1015 917l1-6l-4-4l0-5l-4-5M1022 919l-2 5l-1 6M1017 933l2-3l4 1M1030 919l6 3M1044 916l-4 4M1047 919l-4 5l-7-1l-4 3M1029 923l3 3l-1 4M1053 921l7 1l4-4M1050 927l-4 5l-7 0M1035 929l4 3l-1 4M1052 930l-5 3l-5-3l-3 4l-6-2"/><path id="d3" d="M1072 921l-1 7l-6 0l0 8l-4-4l-5 3l-2-5l-5 4l-7 0l-5-5l-6 1l5 6l-7-3l0 6l-7 2l-2 5l-6-4l-1 6l-1 8l-7 1l-6-1l-1 6l0 6l-7-2l-2 8l-7 0l2 6l7-3l1 7l6-2l-3 5l6-1l0 7l6 2l-2-7l7 2l-2-7l3-4l5-6l4 7l4-5l-1 6l6-3l-1 7l6-2l5 6l0-6l3 7M1056 935l-3 6M1054 930l-2-7l4-4l6-5M1066 913l-4 1l-4-3M1049 934l0 6l-4 5M1041 946l4-1l2 3M1042 934l3 6M1037 929l-2-5l5-5l-1-6l3-5M1031 930l-6 0l-3-6M1036 936l2 6M1036 946l2-4l4-1M1020 946l2 6M1021 956l1-4l5-1M1014 942l4-5M1022 936l-4 1l-3-3M1013 948l1-7l5-3M1014 941l4 2M1005 957l-7 2M993 958l5 1l1 5M998 968l5 4l-1 6l4 4M1003 986l3-4l6 0M991 966l-5-5l-6 0M991 977l-4-4l-4-5l0-6M986 958l-3 4l-4-1M992 984l0 6l-4 3M1001 986l6 0l2-4l4-4l5-1M1013 978l3 4M1012 990l6 1l4 6M1013 979l-6-2l-5 4M1041 989l-1 6l0 6l5 4"/><path id="d4" d="M998 980l6 3l-6 3l7 2l3-5l-5-2l3-4l-5-4l4-3l3-7l-4-7l-5 4l1-8l-6 1l-5 4l-5-2l2-5l-6 1l-6 2l5-5l-2-7l7 3l0-6l6 5l-2-7l6 3l-1-7l3 6l1-6l5 6l1-7l2-7l5 4l5-4l5-3l0 6l6-2l-4 7l6 0l-1 6l6-3l-1 8l5-3l-1 6l3-7l3 7l3-5l5 3l2-7l3-5l4-7l6 4l-4-4l1-6l4 5l0-8l5 4l3-6l5 5l0-6l5 3l1-5M1003 981l-6 3l-4-1l-5 3M985 982l3 4l-2 4M1001 973l-5-3l-6 2M1008 963l2-6l7-1l5-1l4-6M1030 951l-4-2l-1-5M999 960l3 6l-4 6l2 5M998 972l-5 0M1000 952l4-3l-1-6l6-5M1013 938l-4 0l-3-3M994 953l-4-5l-7 2M982 946l1 4l-3 4M984 955l-1 6l-5 2l-5 2M969 965l4 0l2 5M986 950l4-4l3-6l-2-6l3-5M980 951l6 1l5-5l7 2M1002 952l-4-3l1-6M974 953l-6 0l-3 4l-3 6M957 960l5 3l0 5M984 944l1 6l5 3l0 7l7 3M994 967l3-4l4 0M990 943l6 1l2 5M1002 938l-6 4l0 5l-5 3M996 947l-4-1M1005 924l2-6l2-5M1015 924l-1-7l5-5l0-5M1020 927l-5 3M1022 932l-1 5l-2 7l-7 1M1007 944l5 1l2 6M1027 938l-2 6l-6 2l-1 7M1033 935l4-5M1043 929l-6 1l-4-4M1039 939l3-5l-3-5l3-6l-3-5M1042 923l4-1M1042 946l-2 6l-2 7l4 6M1037 968l5-3l5 3M1050 944l3 7l6 1l2 6l5 2M1055 932l-1 5M1065 929l5 4l5-2l5 3M1082 938l-2-4l3-3M1062 919l0-7l-4-5M1061 903l-3 4l-5-1M1066 924l-2 5M1074 914l3-5l-1-6l3-4M1076 903l5 0M1079 913l0-7l-6-3l0-6l-1-7"/><path id="d5" d="M1035 935l-7 0l4-4l-7 0l5-3l-6-2l3-5l-2-8l6 5l1-6l4-5l-2-6l1-7l3-5l-5-4l-1-5l6-1l3-6l5-5l3 7l5-6l2-5l6 3l-3-6l6-1l-3-6l7 1l0-5l5 2l6-1l1-8l1 6l3-5l2 8l4-7l5-4l4 5l6 1l-5-4l6 0l-3-5l6 0l-4-5l6 5l5-3l-2-5l5 2l-2-6l2-6l2 6l5-6l1 7l2-5l3 7l3-4l5-6l3 7l5-5l1 7l7 2l-6 3l-6 6l5 4l5 2l-7 2l6 4l-2 5l6 2l0 6l7 3l6 4l5 5l-6 0l2 6l-5-1l3 7l-6-3l-5 0l2 6l-7-2l4 4l4 4l-6 0M1032 931l2-6l6-2l6-2M1051 922l-5-1l-2-4M1025 931l-6-4l-7 1M1010 924l2 4l-4 4M1024 926l0 7l-4 4l0 6M1025 913l-7-1M1018 907l0 5l-4 2M1032 912l-3-5l-6-2l-3-6l-6-1M1014 894l0 4l-4 2M1034 901l-6-1l-5 5l-6 0M1013 902l4 3l0 6M1038 889l5-3l6 2M1041 873l-6-1l-2-4M1034 864l-1 4l-3 2M1049 875l-3 5l4 5l-4 5l3 6M1065 860l3 6l6 1M1062 854l-7-3l-2-5M1054 841l-1 5l-5 1M1069 855l6-3M1077 856l-2-4l2-4M1069 850l1-7l-4-4l1-7M1080 851l6 3M1081 843l-2-5M1080 833l-1 5l-5 1M1085 844l-3-5M1085 836l-3 3l-5-1M1087 852l-3 5l-5 5M1076 863l3-1l4 3M1091 845l0-7M1096 841l-1-5M1100 835l-5 1l-3-4M1106 847l5 3l1 7M1111 850l-3 3M1107 843l7 2l1 6M1110 838l6-2M1106 833l1-5l-6-3M1104 821l-3 4l-5-1M1112 838l3 5l3 5M1117 835l5 1l5 6l6 0l3 4M1115 830l1-8l-6-4M1114 814l-4 4l-5-1M1128 827l-4 5l2 5l-5 6M1117 845l4-2l5 3M1130 822l-4-5l-3-4l2-4M1128 806l-3 3l-5-2M1141 819l5-5M1151 813l-5 1l-3-4M1149 821l1-7l-4-4M1157 830l2-6l5-2l2-7M1170 816l-4-1l-2-4M1150 843l-6 2l-6 2l-1 5M1133 851l4 1l1 4M1155 845l5-4l6 0M1160 841l3 4M1148 847l-4 4l-5 5M1144 851l-2-4M1154 851l6-3l6 3M1169 856l-3-5l2-5M1158 858l6 2M1168 864l-4-4l2-5M1165 867l-3-6l2-6l-5-4M1171 871l5-2M1176 876l5 5l8-1M1181 881l-1 4M1172 882l5-3l5 4l7-2l4 3M1195 888l-2-4l3-4M1162 897l0 5l0 7M1162 902l-5 3"/><path id="d6" d="M987 900l-3-7l6-2l-1-7l5 2l4-6l6 2l-2-6l6-2l-5-5l8 0l1-6l5 2l2-5l3-5l5 5l1-6l2 7l4-6l2 6l3-5l5 6l2-8l2 6l0-7l2 6l3-7l6 0l-1-8l6 4l1-6l5 3M984 893l-6-3M989 884l-6 0M1004 882l6-2l7 0M1010 880l-1 5M1003 869l-5-2l-5 2l-6-2l-7-2M987 867l-2-5M1012 863l-7 2l-5-5M998 856l2 4l-3 4M1019 860l-5-3l-6 2M1007 855l1 4l-3 3M1022 855l-5-5l1-6l-5-4M1016 836l-3 4l-5-1M1027 860l5 4l-1 6l6 4l1 6M1037 874l-4 3M1028 854l6-3l1-6M1030 861l-1 6l-5 3M1029 867l-4-2M1036 861l-2 6l4 5l4 6M1046 854l4-5l-3-5l5-6M1057 836l-5 2l-4-3M1048 860l0 6l4 4l6 3l-1 7M1048 853l-5-3l-1-5M1050 859l3 7l1 5M1059 852l3 6l7 1M1068 864l1-5l4-2M1058 844l-6-2l-2-8l-4-2M1064 848l1 6l6 4l2 5l6 2M1077 869l2-4l4-1"/><path id="d7" d="M1007 1051l4 6l-6 1l3 5l-7 2l4 4l-6 0l2 5l-7 1l-4 4l-2 6l6-4l3 5l2 6l0-7l5-4l1 6l5-4l3 6l2 5l2-6l4 6l1-6l5 5l5-5l-4 4l7 3l-7-1l4 6l-6 1l5 5l2 5l-5 5l6-2l-7 3l4 5l-3 5l7 2l-6 0l6 1l-4 4l0 5l7 2l-3 6l7 2l-2 5l5 3l-5 3l4 5l-4 3l7 0l4 6l-3 6l7 3l6 5l-6-4l2 6l-7-1l-1 6l-7-5l-3-6l-1 6l-4-5l-1 6l-4-3l-3 6l-7-2l2 6l-6-4l4 7l6 4l-5 4l6 2l-3 6l-2 7l6-4l-2 5l7-3l-6 4l0 6l-6-5l-2 7l-8 0l5 6l-6 2l2 7l-6-1l6 4l4 4l-8 1l-1 6l-6-1l3 8l-3 5l0-7l-6 3l-5-1l-2 6l-5 1l7-3l-5 5l-2 5l6-2l-3 5l7-1l2 6l1-6l0 6l3-7l3 7l4 5l4-6l5-3l4 5l6 2l2 5l-5 4l4 4l0 7l-7 2l1 6l-6 0l5 4l1 8l4-6l2 7l6-6l0 7l6 4l-5 3l5 2l-6 4l3 6l5 6l5-4l0 7l0-6l5-3l5-3l4 6l6-4l-3 4l0 6l4 5l-5 1l-6 1l6 4l-6 5l-6-1l3 6l-2 6l-4 5l8-1l-2 7l5 4l-3 7l6 1l-1 7l7 3l4 4l-7 0l3 7l-6-2l5 4l-7-1l3 6l-6 0l2 6l-2 7l8 0l-6 3l5 4l2 5l-7 3l3 5l-7-1l-1 8l-5 1l7-1l6-1l3 5l2 7l4-5l1 6l6-3l-2 7l5-4l-1 7l-2 7l4-5M1008 1063l6-2l5 5l6-1M1001 1065l-3-6l-6-1M993 1052l-1 6l-5 2M1005 1069l6-1M1013 1073l-2-5l4-4M999 1069l-7-2l-8-1M1001 1074l6 2l1 5l6 1M997 1086l-3-6l4-6l-3-6M998 1074l5-1M999 1092l4 5l-2 6l4 4l-1 7M1000 1117l4-3l4 1M1004 1081l-2-5l-3-6l3-5M1006 1063l-4 2l-4-2M1015 1094l-5 4l1 8M1006 1107l5-1l4 4M1021 1094l-2 7l4 6l-1 7M1028 1094l-6-3l-1-7l-1-6M1032 1100l4 5l3 5l7 0l4 6M1046 1110l-1 5M1026 1101l-6-2l-2-5l-7-1M1012 1089l-1 4l-4 2M1027 1117l-6 1l-4-4l-7 2l-5-6M1031 1122l2-6l5-2l1-5l1-7M1046 1103l-6-1l-2-5M1028 1127l-4-3l-6 2l-5-3M1011 1119l2 4l-3 4M1035 1130l6-5M1043 1128l-2-3l0-4M1035 1147l-5-3l-6 3l-6-2M1042 1149l2-7l2-6M1051 1136l-5 0l-2-5M1040 1160l-6 1l-5-5l-7 0l-4-4M1044 1165l7-2l4 4M1055 1171l0-4l3-3M1040 1168l-5-4l-6-4M1048 1180l-5-3l-5-3M1036 1170l2 4l-2 3M1055 1183l2-6l6-1l1-6M1069 1171l-5-1l-2-5M1042 1190l-5 5l-5 0M1037 1195l-2-4M1038 1190l0 6l6 3M1026 1194l4 3l1 7l5 2M1034 1211l2-5l6-1M1021 1198l4 5l4 6M1028 1215l1-6l5-2M1025 1205l5-1l4 5l7-1M1034 1209l-1 4M1020 1209l-7 2l-3 5l-6 2M1026 1211l4 5l7 1l3 6l3 5M1023 1217l-4-4l-7 1l-4-4M1021 1224l-1 5l-6 4l0 7l-5 3M1027 1220l5-4M1037 1216l-5 0l-3-4M1025 1225l-7 2l-2 5l-5 1l-3 5M1002 1236l6 2l0 6M1032 1222l2-7l6-2M1026 1232l-1 6l3 4M1025 1238l-4 2M1015 1240l4 6M1011 1249l7 0l4 6M1007 1257l-3-6l-6-3M999 1244l-1 4l-5 1M1000 1262l-5-4M1003 1270l0 6l0 5l4 4l0 5M1004 1295l3-5l5 1M1000 1268l3-5M994 1271l1 7l-5 6l1 5M990 1284l-5-1M987 1276l7 2l5 3l1 5M999 1290l1-4l5-1M988 1282l4-4l6 1l4-3l6 1M985 1287l-6 2l-5-2l-5-2M994 1292l4 3l0 6l6 4M1000 1310l4-5l5 1M1009 1291l1-6l-6-4l1-7M1018 1293l-5 0M1026 1300l5 5l5-1l7 0M1021 1304l-7-1l-5-4M1008 1294l1 5l-4 3M1018 1317l-6-1M1012 1311l0 5l-4 3M1013 1323l-4 5l-5-1M1001 1324l3 3l-1 4M1019 1335l3 5l4 5M1025 1336l-2 7l4 6M1023 1352l4-3l4 2M1031 1337l-6 0l-4 3l-3 6M1015 1343l3 3l-1 4M1031 1350l-4-4M1039 1362l-2 7l-6 3l-5 2M1021 1374l5 0l2 5M1044 1358l1-5l-3-5l3-5l-4-6M1044 1365l4 5l-2 5M1042 1378l4-3l5 2M1049 1356l-3 4l2 6l-5 5M1058 1359l-2 7l-6 2M1061 1359l-4-4l-6 0M1057 1355l2-5M1054 1372l-4-3M1054 1381l-3 7l4 5M1051 1396l4-3l4 2M1051 1386l6-1l3-6M1064 1381l-4-2l0-5M1056 1407l2-5l6-2M1064 1438l6 3l6 4l1 5M1075 1454l2-4l4 0M1056 1449l6 3M1065 1455l-3-3l2-5M1062 1456l0-7l-1-6l0-7l4-3M1070 1433l-5 0l-2-3M1061 1463l7 1l6 1M1077 1470l-3-5l2-5M1056 1471l-4-6l-7-1M1052 1475l-7-2l-1-7l-6-2M1046 1484l-5-3l-5 3M1053 1483l4 6l7-1l3 6M1067 1499l0-5l4-3M1064 1494l0 7l-6 3M1068 1489l4-3l0-5l4-5M1082 1475l-6 1l-3-5M1073 1499l0 6M1068 1506l5-1l3 4M1077 1502l-5 4l-6-2l-4 5l-7-1"/><path id="d8" d="M993 1059l2-7l2 7l5-3l2 7l2 7l3-6l6 3l1 6l-8 0l2 6l-8 1l-5 4l7 2l-1 6l5-3l0 8l7-1l-3 5l8 1l-1 6l6-2l-2 5l6-2l1 6l6-1l-2 6l6 2l-4 5l3 5l-7 2l3 5l8 2l-6-4l2 6l-6 4l6 5l-5 5l7-2l6 1l0 6l-2 7l6 1l-5 6l1 6l-5-4l-3 6l-8-1l2 8l-6-2l1 7l-6 3l5 6l-5 4l8 3l-6 4l5 5l-5-3l2 7l-2 6l0-6l-1 7l-6-4l-1 6l-6-2l-5 1l0 8l0 5l7 0l-6 2l6 5l-7 2l-1 6l-3-5l1 6l-2 7l-5 1l2 5l-3-5l-1 6l-4 6l-1 5l6-3l1 5l5-3l-1 7l6 4l7-1l-6 4l5 1l-3 7l6 2l-1 7l7 2l7-2l-5 4l7 1l-8 1l7 3l-4 5l6 2l7 1l-1 6l3 5l5-3l7 0l-2 7l-5 4l7 3l-6 2l3 6l-6 3l5 3l-7 2l4 5l2 6l-1 7l7-4l-1 7l5-5l0 7l7-2l-1 6l7-1l1 7l2 7l-3-6l0 6l-8-2l-2 7l-7-4l-2 6l-5-3l0 6l-4-5l3 7l-4 5l5 0l-3 6l1 7l4-5l3 7l4-4l7 0l-1 7l6 1l-4 5l4 4l-7 1l5 3l-7 1l3 6l-3 6l1 7l7 4l-7-2l-5 5l-3 7l7-2l0 7l-1 7l5-2l4 6M995 1052l-3-4l1-5l-4-5M997 1059l-1 5l-1 5M1002 1056l-2-5l3-6l-2-6M1006 1037l-5 2l-5-4M1009 1064l-6-4l-1-5l-5-2M999 1048l-2 5l-5 1M1010 1079l4 5l6 0M1019 1089l1-5l4-2M1002 1080l-4-4l2-6l3-6M1004 1086l3-5l6 0l3-6l3-6M1008 1089l2-6l2-6l-2-4M1015 1096l4 3l5 3M1025 1106l1-6M1029 1109l6 3l5 1M1030 1115l0 6l-3 4l0 5M1036 1114l3-5l7-2l2-6M1052 1102l-4-1l-1-5M1034 1120l-7 1M1040 1122l6-3l5 3l7-2M1059 1125l-1-5l3-3M1036 1127l-6-2M1028 1121l2 4l-2 4M1037 1137l-5-2l-1-6M1032 1125l-1 4l-4 0M1033 1147l-4-3M1047 1156l6 1l6-4M1047 1162l6 0l5-4M1061 1160l-3-2l1-4M1046 1176l-5-1l-6-3l-5 3l-5 3M1047 1182l2 6l5 2M1053 1194l1-4l4-1M1042 1178l-3-6M1039 1184l-2 5l-2 4M1032 1197l3-4l5 2M1031 1183l-3-6l-4-2l-2-6M1028 1196l6 3l6-1l6 3l7-2M1022 1199l-4-4l-5-5l-6 1M1022 1209l-4-4l-6 1M1030 1212l6-2M1024 1216l-3 6l-6 1M1011 1222l4 1l1 5M1024 1218l-4-5l-7 1l-4-5l-6-1M1002 1203l1 5l-5 3M1024 1231l1 5l-4 5l2 7M1021 1241l-5-1M1023 1232l5 4l0 7l6 4l5 5M1036 1256l3-4l5 0M1017 1228l-1-5l-4-4M1014 1216l-2 3l-5 0M1016 1234l2 5l7 1M1024 1244l1-4l4-1M1010 1232l0-5l-6-3l-6-4l-1-5M999 1210l-2 5l-6 0M1005 1233l-6-3l-2-6l-5-2M994 1217l-2 5l-5 1M1005 1241l-5 3M1005 1246l-7 0l-3 5M991 1248l4 3l-1 6M1005 1255l-6 3l-6-3l-4 2M1000 1269l5 6l4 4l0 6M1005 1289l4-4l5 1M995 1270l-4-6l-4-6M987 1254l0 4l-4 2M997 1275l5 3l6-2l5 4M988 1287l-3 5l1 6l-3 6M986 1298l-5 0M1000 1286l4-3l4-4l4-5l0-6M1011 1301l6 0l3-5l7 0M1031 1299l-4-3l0-5M1014 1310l2-7l0-6l2-5M1023 1293l-5-1l-2-5M1013 1317l-3 4l-5 1M1024 1331l-3 4l-7 0l-4 6M1006 1337l4 4l0 6M1037 1334l5-4l-1-7M1046 1323l-5 0l-3-4M1039 1345l-4 4l-6-1M1024 1345l5 3l-1 5M1051 1342l4-3l6 1l5 2M1049 1349l6 0l4 3M1051 1356l7 1l7-1l3 6M1069 1367l-1-5l4-3M1042 1367l0-7l0-6M1044 1377l1-8l6-2l1-6M1057 1361l-5 0l-3-5M1046 1383l5 2l6-4l6 2M1045 1390l0 6l-5 3l0 5l-6 2M1051 1393l-4 4l0 7M1042 1404l5 0l3 4M1056 1388l3-6l6-1l3-6M1072 1377l-4-2l-1-4M1063 1393l0-6l0-7M1063 1387l4 1M1069 1398l0-7l5-4M1059 1417l3 6l2 7l-4 6M1052 1413l-3-4l1-6M1050 1419l-3 5M1044 1424l4 3l6-1l4 4M1040 1429l-5 5l-5 0M1035 1434l-3-3M1047 1437l-4-4M1061 1440l6-3l0-7M1060 1447l-5-3l-5 2l-5-3M1050 1446l-1-5M1066 1448l7 1M1066 1457l3 5l7 0l3 6M1079 1474l0-6l5-3M1059 1458l-6 2l-4-4M1053 1460l0-4M1064 1461l6-1l4 5l4 5l5 5M1078 1470l-1 5M1058 1481l-6 0l-4 4l-6 0M1038 1483l4 2l-1 4M1057 1500l3 4"/><path id="d9" d="M1131 1115l-2 7l-6-1l6 3l-8 1l1 5l-7 3l6-2l-4 4l-3 6l5-3l-1 6l7-1l-4 6l7-3l2 7l5 3l-6 4l6 1l-6-1l5 4l-6-1l4 5l-7-1l-5 3l4 6l-7 1l5 3l5 3l-5 4l6 3l0 7l5 4l5-3l1 6l6 0l-5 3l4 5l2 5l-7 2l2 7l-6-3l0 7l-5-4l-4 7l-7-1l3 4l-5-2l6 4l-3 7l6 2l6 5l5 3l-6 2l6 4l5 5l-6 0l-4 3l2 6l-3 5l-6 2l4 7l-7-1l4 6l-7-2l2 7l-5-3l-1 8l-4-6l-5 4l-6-3l1-7l1-6l0-7l-5 4l-7 3l3-7M1129 1122l1 7l6 2M1135 1135l1-4l4-1M1129 1124l4-3l7 2M1143 1128l-3-5l2-5M1122 1130l4-3l5 2M1114 1141l-1 5l-1 7M1118 1144l-4 4l-4 5l-5-2M1101 1148l4 3l-1 5M1125 1143l6-4l0-6M1136 1134l-5-1l-1-4M1135 1156l4-5l5-4l4-4l5 0M1129 1160l-7 2l-4-4l-7 2M1118 1158l0-6M1124 1176l6 0M1127 1183l7-2l6-3l5 4M1140 1178l1 5M1122 1187l-4 5l-5-1l-6 0M1128 1197l0 7M1123 1204l5 0l3 4M1138 1198l-3-7l4-6l-3-4M1140 1178l-4 3l-5-3M1139 1204l-6 5l0 6M1129 1216l4-1l3 3M1145 1204l5-2l5 3l6-3M1144 1212l6-5l0-5M1156 1202l-6 0l-2-5M1146 1217l6 3l5-3l5 4l6-3M1170 1222l-2-4l3-4M1139 1219l-5-1l-5 2l-6-2M1121 1214l2 4l-2 3M1135 1223l-4-3l0-6l-7-3l0-6M1119 1232l-7 2l-4 1M1106 1231l2 4l-3 4M1122 1236l7 1l1 5l2 7M1131 1253l1-4l5-2M1117 1234l-3-6l-6-1M1109 1221l-1 6l-5 1M1123 1238l6-1l4-6l6 0M1120 1245l-6 2l-7 2M1106 1245l1 4l-3 3M1132 1252l5 5M1135 1260l2-3l5 1M1131 1257l-6-1l-4 4l-4 3M1142 1266l4 5l7-1l3 5M1132 1269l-4-3M1131 1280l-3 7M1129 1289l5-1l4 6l7 0l5 5M1126 1294l5 5l6-2l5 5M1143 1307l-1-5l3-3M1119 1292l-3-5l-8-1M1109 1281l-1 5l-5 3M1121 1299l-3 5l1 5l-2 5l3 5M1117 1314l-5 0M1116 1296l-3-4l0-5M1113 1292l3-2M1101 1292l6-4l6 2M1102 1286l5 5l-1 7M1103 1301l3-3l4 0M1097 1283l5-5l7 2M1090 1286l1 7l-4 3M1082 1297l5-1l3 4"/><path id="d10" d="M1118 1133l6 3l-2 7l7 1l-5 3l6-1l-6 2l7 1l3 5l-6 1l-4 7l-4-4l-1 7l-6-5l-1 5l-1 7l1 6l6-4l2 6l5-4l4 4l7-1l1 8l7 4l-5 6l7 2l1 6l7-2l-4 6l2 6l-8 0l3 7l-7-2l-1 6l-6 5l5 3l-4 3l6 4l-5 3l5 4l-7 2l5 4l-7-1l0 7l-2-6l2 6l-6 3M1124 1136l1-6l5-3l1-5M1136 1122l-5 0l-2-5M1131 1149l3-4l5-1l3-5l6 0M1152 1141l-4-2l0-5M1134 1154l6 0l5 0l4 6M1149 1164l0-4l3-2M1120 1158l-5-2M1113 1160l-3-6l-8 0M1118 1174l2-5l4-2M1128 1168l-4-1l-1-4M1120 1180l-3 4l0 6M1125 1176l4-6l-3-6l4-5M1136 1179l5-1M1154 1203l6-1M1152 1215l6 2l1 7l5 2M1162 1231l2-5l6 0M1144 1215l-6-1l-2-6M1136 1204l0 4l-4 2M1147 1222l4 4l0 7M1139 1226l4-3l6 0l6 2M1133 1231l-2 5l-6 2l-2 6M1118 1242l5 2l1 5M1138 1234l6 1l6-4l4 3M1156 1237l-2-3l2-4M1140 1241l6 2l6 1l3 7M1154 1256l1-5l5-2M1140 1248l4 4l7 4l6-2M1138 1254l6 1l4 5M1148 1265l0-5l4-4M1131 1260l6 0l5 1l6 1M1129 1254l-6-5"/><path id="d11" d="M1142 1265l-7 3l-3-6l-4 7l-7 1l1 6l-6-1l5 5l-7-1l1 6l-3-6l-6 1l4-4l-6-3l4-3l-5 1l2-5l2-5l6 1l3-6l6-1l-3-5l6 0l7 0l2-5l6 2l-3-7l6 0l-7-2l5-4l3-7l-6 0l3-6l-6-1l2-7l-6-1l-6 2l1-7l-4-6l-6-3l5-5l-5 3l4-5l-7 2l0-6l-7 2l-3-7l-1 7l3-7l-2 8l-5 4l-3-6l-5 1l6-3l1-7l-4-6l-4-4l-6 0l3-5l-1-6l5-6l-4-4l7 1l-5-3l2-6M1135 1268l-5 3l-1 7l-4 3M1120 1281l5 0l2 4M1128 1269l-2 5l5 4l-2 6l6 5M1131 1293l4-4l4 1M1122 1276l5 1M1116 1275l-7-2M1106 1269l3 4l-1 5M1121 1280l5 0l2 6l5 1M1114 1279l-7 0l-5-5M1115 1285l6 1l2 5l5 2M1127 1297l1-4l4-1M1112 1279l-3-5l3-5l-2-5M1106 1280l-5 6l-7-1M1104 1273l-5 5l-4 4M1103 1271l-6 5l1 7M1092 1284l6-1l3 5M1107 1261l0-7l0-5l-6-4l0-6M1101 1245l4-4M1116 1256l-2-5l4-6M1122 1243l-4 2l-3-3M1119 1250l-3-5l-1-5l-7-1M1125 1250l-6 0l-4-5l-5-5M1132 1250l4 3l-1 5l4 4l0 6M1139 1262l-3 2M1140 1247l4 5M1143 1256l1-4l4-2M1137 1240l-4-5l-3-6M1141 1234l-4 5l3 7l-4 6M1131 1254l5-2l4 3M1138 1227l-7 2l-5 2l-2 4l-1 6M1141 1221l6 3M1148 1228l-1-4l2-3M1135 1220l-2 5l-7 1l-3 5l-7 1M1112 1230l4 2l1 5M1137 1213l6-1l2-7l5-3l2-6M1158 1197l-6-1l-1-5M1131 1212l3-6l5-2M1144 1205l-5-1l-1-6M1125 1214l-2 7l-5 2l-5 2l-5 3M1103 1227l5 1l2 5M1126 1207l3-5l6 1l6-2l4-5M1141 1201l4 4M1116 1198l-5-2l-6 5M1116 1196l-6 0l-3 5l-7 2M1096 1200l4 3l0 4M1113 1193l-3 4l1 6l2 7M1111 1203l-5-1M1113 1187l6-3l-1-7M1123 1176l-5 1l-3-4M1106 1189l-7 2l0 7l-6 2M1088 1200l5 0l3 5M1102 1189l0 6l-5 4M1090 1189l-6-2M1082 1182l2 5l-3 4M1096 1186l1 7l6 2l2 6l2 6M1106 1211l1-4l5-1M1093 1173l3-4l-1-6l4-4l-2-6M1099 1159l4 1M1089 1169l5-4l-1-6M1098 1159l-5 0l-2-3M1086 1148l-3 5l-7-1l-3 4M1069 1153l4 3l-1 5M1088 1146l-7 0l-6 0M1081 1146l-3-4"/><path id="d12" d="M1020 1216l-6-3l4-4l4 6l2 6l-6-2l1 7l-7 3l6 0l-7 0l6 3l-6 1l4 5l-7-1l2 7l2 6l-6 1l2 6l-6-1l5 3l-7 2l3 6l-4 3l7 1M1014 1213l-6 3l-6-4l-5 2l-4-3M1024 1221l4 4l7-2M1018 1219l-2-5l-7-2l-2-6M1008 1202l-1 4l-4 1M1019 1226l7-1M1012 1229l-5 2M1004 1226l3 5l-4 5M1018 1229l6 2l5-3l7 1M1017 1232l5-5l7 1M1033 1231l-4-3l1-5M1011 1233l-7 3l-4-6M1008 1237l-7-1l-1-6l-5-3l-2-5M1010 1244l-2-7M1014 1236l-6 1l-3-5M1012 1250l1 5l6 2M1017 1261l2-4l4-1M1006 1251l-7-2M1008 1257l1 6l2 6l6 1l1 7M1016 1282l2-5l5-1M1007 1259l7-2l6-1l4 4M1025 1265l-1-5l3-3M1000 1261l-6-1l-2-5l-6 0M1003 1267l5 0l4 4l5-1l4 5M1021 1279l0-4l4-3"/><path id="d13" d="M992 1264l0-6l0 7l7 2l3-5l5-2l6 3l6 2l-2-7l-7 0l1-6l-5-2l4-5l-7 1l5-3l-7-2l6-3l3-6l-5-3l3-5l-6 1l4-6M992 1258l-3-6l3-6M995 1243l-3 3l-4-2M1007 1260l-4-4l0-6l0-7M1019 1265l0 6l6 3l6 4M1028 1282l3-4l5-1M1010 1258l-2 5l-7 3l-3 6M1006 1250l-6-1l-5 5l-6-1M1003 1246l-7 3M993 1245l3 4l-2 5M1001 1241l-5-3M994 1235l2 3l-2 4M1010 1232l1-5l6-2l1-6M1024 1220l-6-1l-1-6M1008 1224l6 0l5-5M1023 1223l-4-4l1-5"/><path id="d14" d="M1108 1366l4 5l-7-1l-5-6l5-2l-4-5l6-4l-6-4l4-4l-7-2l7-4l-7-1l5-5l-6 3l6-3l-6-2l3-5l-6-2l3-5l1-7l-7 2l-2-5M1112 1371l6-3M1100 1364l-4 4l-6-1M1096 1368l-2-4M1105 1362l6 2l2 6M1111 1364l-3 4M1101 1357l-5 6l-4 3l-5-1M1083 1362l4 3l-1 5M1107 1353l5-2l5 2l5-3M1117 1353l1 6M1098 1343l-6 2l-6-3l-6 3M1078 1340l2 5l-3 4M1105 1339l5 0M1111 1344l-1-5l5-4M1098 1338l-6-1M1103 1333l6-3l4-5l6-4M1094 1324l-4-2l-5 2l-5 1M1078 1321l2 4l-3 4"/><path id="d15" d="M945 1267l7 0l0 6l6-2l-1 8l7-2l1 8l-2 7l5-6l5-3l-1 5l5-2l-1 6l6-2l2 7l3-6l4 4l5-3l1 6l4 5l3-5l4-5l6 0M952 1273l-3 6l1 6l-3 4M958 1271l6-1l6-2l2-7M976 1262l-4-1l-1-4M957 1279l4 6l-3 6M964 1277l3-5l-1-6M970 1264l-4 2l-4-3M965 1285l6 2l6-4l5 2M963 1292l0 6l0 5l1 6M959 1310l5-1l2 4M973 1283l0-8l6-3l0-7M977 1286l-2-6l3-4l-3-7M978 1276l5-1M976 1292l1 7l-4 3M977 1299l-6-1M987 1291l-4-5l3-5M991 1295l2 6l-4 6l1 5M996 1292l6-3l0-6l7-3M1002 1283l5 2M997 1298l-6-4l-5 2M1001 1303l-1 7l5 5M1004 1298l-5-3l-1-8M1008 1293l-1-6l-4-4l0-7M1006 1272l-3 4l-4 0"/><path id="d16" d="M984 1347l-4 7l5-2l-1 6l7-1l-4 6l1 6l0 7l6-3l-1 6l1-5l1 6l7-1l1 6l6-5l3 7l5-5l6-2l0 7l5-2l-2 6l6 1l0 7M985 1352l6-2M996 1351l-5-1l-1-5M984 1358l-5-1l-5 4M971 1358l3 3l-1 5M991 1357l6 0l3-4M1004 1356l-4-3l0-6M987 1363l-4-3l-5 2l-4-4M972 1354l2 4l-3 4M988 1369l2-6l2-5M988 1376l-4 3l-4 4l-5 4M980 1383l-5-2M995 1380l-5 4M1002 1379l6 0M1003 1385l-5 2l-2 7l-5 1l-6 1M1012 1387l-2 5l3 4l-3 5M1023 1380l5-4l0-5l6-3M1040 1368l-6 0l-3-5M1023 1387l1 6l-4 4l2 5M1018 1403l4-1l3 3M1032 1392l6-4l5-4l0-6M1043 1384l5 1"/><path id="d17" d="M1146 914l4 6l0-8l4 5l6-4l0 6l7-4l0 8l5-4l0 7l5-2l6 3l1-7l5 5l-4-5l7 2l-3-7l5-3l-6-3l-6-3l-1-6l5 5l-2-5l7-1l-3-6l5-1l7 0l2-6l3 7l3-7l7-3l-2 6l7-1l7 3l-1 7l1 8l5-1l7-2l0 7l5-1l5 4l-1-5l7 0l-5-5l7 0l-2-5l7 2l5-5l-5-4l7 0l5-5l-5-3l5 4l0-7l7 3l5-2l-4 5l2 6l8 0l-6 3l6 1l-3 7l6-4l-2 6l6-3l-3 7l8-2l7-3l5 6l1-7l5 4l5-5l2 5l3-5l3-6l4 5l6 0l-2 6l8 1l-5 4l5 3l-4 3l3 6l-4 3l7 2l-7 1l4 4l-4 5l6 2l0 6l7 0l-3 6l5-4l6-3l0 6l5 0l-2 5l7 2l-4 4l6 5l4 6l-6 2l3 5l-5 5l5 3l-4 5l7-1l-5 4l6 1l-6 2l5 3l-6 3l4 4l4 5l-7 3l-4 5l-8-1l-6 3l-6-1l4 6M1150 920l7 2l1 6l6 2M1150 912l2-4M1160 913l-2-5l4-4M1166 903l-4 1l-4-3M1160 919l-7 2l-6 3l-2 7M1141 929l4 2l1 4M1167 923l-5 5l0 5l-5 5M1153 939l4-1l3 3M1177 924l0-7l-4-3M1189 925l2 6l7 3M1197 939l1-5l5-2M1192 922l7-1l5 5l7-1M1182 906l-3 4l-8-1l-3 5l-5 0M1158 911l5 3l-1 5M1186 905l5 5l-1 7l5 4M1192 925l3-4l5 1M1191 899l7-1M1193 892l-5 0l-4-4M1188 892l2-5M1215 883l1-6l5-4l1-7M1213 889l-5 2M1203 889l5 2l1 5M1227 891l0-8l7-3l0-5M1239 876l-5-1l-1-4M1226 898l-5-1l-5 4M1239 903l6-3l1-7l6-3M1239 910l-3 5l-7 1l-2 5M1248 908l-5-3M1244 901l-1 4l-5 2M1255 898l-7-2l-6 4l-5-3l-6-1M1229 892l2 4l-1 4M1267 895l5-5l6 0l5-4M1269 883l-1-6l-5-3l-1-5l-2-6M1274 887l4 5M1278 896l0-4l4-2M1274 880l3-5l-2-4l5-5M1275 871l6 0M1286 881l6-1l3-7M1299 874l-4-1l-1-4M1284 892l-7 1l-3 6M1286 895l-4 3l-7-1M1272 894l3 3l-1 4M1289 903l-2 6l-5 2l-4 7M1274 916l4 2l1 4M1304 907l7 3l2 6l6 3M1318 924l1-5l5-1M1311 904l-3-5l2-6M1317 903l3-6l-3-6l3-7M1323 882l-3 2l-4-1M1332 902l2 7l-3 4M1326 915l5-2l5 3M1335 896l5-6l-2-5l3-4M1339 901l-2 7l-6 3l-1 5l-5 3M1320 918l5 1l2 5M1351 908l6-1l4 5l7 0M1369 917l-1-5l4-3M1351 915l7 1l6-4l4-3l4-5M1376 908l-4-4l1-5M1347 918l-6-1M1338 912l3 5l-3 5M1350 924l3 4l7-2l6 4l6-1M1346 930l-6-1l-2-6M1350 934l5-3l5 3M1346 939l-5 5l-7-1M1341 944l-3-4M1352 947l-6 0l-6 1l-3 4M1340 948l-3-5M1356 953l0 5l-6 3l-1 5l-5 3M1340 969l4 0l2 4M1361 949l-4-4M1355 940l2 5l-4 4M1367 946l1-5l5-2l1-5M1372 952l4-4l4-5l5-5l7 1M1385 938l2 5M1377 959l6 1l5-6l3-5l7 0M1379 968l5-6l5 1l3-5M1396 961l-4-3l1-4M1377 976l-5-2l-2-7l-5-2l-2-7M1375 986l-6-2l-4 4l-6-1M1376 994l-4 3l-6-1l-4 5M1358 997l4 4l-1 5M1383 993l6 5l6-3l4 4M1378 997l-6 4l-5 4M1377 1006l-5-6l-6 2M1365 998l1 4l-3 3M1381 1010l-5-2l-1-7M1376 1008l3-3M1385 1015l1 5l7 1M1392 1027l1-6l5-1M1374 1023l3 6l6 1M1383 1034l0-4l4-2M1360 1025l1 6l-6 4l0 6M1351 1041l4 0l3 3"/><path id="d18" d="M1141 905l3-6l7-2l-3 7l7 3l6 0l-1 7l6-1l1 7l7 3l-5 4l7 4l5-5l-5-5l5-4l1-7l4-6l-7-3l5-5l-3-5l0 6l5-3l-1 5l3 7l7-4l5-2l-4 6l6-4l6-3l-4 6l7 0l-5 5l7 2l-2 7l-2-6l5 0l-2-5l5-3l2-7l5 6l3-5l7 4l-3-7l5 5l-3-6l5 3l3-7l5 6l4-4l0 8l6-3l-1 6l7-2l7 1l2-6l7 1l-2-6l8 1l7-3l6-2l-1 6l4-5l0 6l6-4l1 6l6 3l-2 5l7-3l1 6l6-3l2 7l4-5l6 4l2-6l3 5l3-6l4-4l-4 4l-5 4l6 3l4 6l-4-3l3 7l-6 0l-1 6l3 6l-5 0l-8-2l4 4l-8-2l7 4l2 6l1-6l7 3l3-5l5 5l3-7l1 6l5-5l7 4l4-5l3 6l2 5l-7-3l5 4l3 6l-8 0l3 8l-8-2l2 7l-7-2l0 7l-5-4l1 7l-2 5l8 0l4 4l2-7l3 6l3-5l6 4l3-7l2 6l3 5l7-2l-7 0l3 7l-6-3l-1 6l-6-1l0 7l-5-4l-6 2l2 6l-8 1l-3 4l3 7l6-1l7-2l-2 7l0 6l-2 6l-6 4l4 5M1144 899l-3-4l-7 1M1141 895l1-5M1148 904l-1 5l-6 0l-6 1M1141 909l-3-3M1161 907l5-3l1-6l6-3M1177 896l-4-1l-2-4M1176 931l-2 6l-1 5l4 4l-1 7M1173 957l3-4l5 1M1186 894l7 0l4-4M1188 906l-4 5l0 6M1180 917l4 0l3 3M1200 900l2-5l-2-6M1202 895l5 0M1196 906l-3 6l-6 1l-5 1l-2 5M1182 914l-3-3M1202 902l-5-5l1-6l-6-5l1-5M1192 886l4-2M1204 905l-5 4l-7-1M1189 905l3 3l-1 4M1206 910l-7 2l-5-3l-5 3M1187 907l2 5l-3 3M1211 919l-3 4l-5 5l2 5M1203 928l-4 0M1224 904l2 7l2 5M1226 911l-4 0M1234 903l5 2l3 4l6 1l3 7M1250 922l1-5l4-2M1231 896l0-7l-5-4l1-7M1229 874l-2 4l-5 0M1233 895l-3-5l-7 0M1238 898l2 6l1 7M1239 915l2-4l4-1M1246 897l3 4l0 7M1250 901l1 5l-4 4l0 7M1242 918l5-1l4 4M1256 898l4-5l5-1M1269 894l-4-2l0-5M1255 904l1 7l-5 3l-6 5M1240 919l5 0l4 4M1269 903l3 6l5 1l3 6M1278 898l6 2l5 3l5 2M1276 892l-3-5l-6-3l-2-6M1265 873l0 5l-5 2M1284 893l1 7l-6 4l2 5M1276 910l5-1l2 4M1297 888l7-3l5-3l1-6M1314 877l-4-1l-1-4M1300 889l-2-6l4-5l4-4M1306 891l3-4l0-6l5-5l0-6M1319 869l-5 1l-3-5M1307 897l-2 6l-5 2M1295 903l5 2l1 5M1319 908l-5-1M1310 905l4 2l0 5M1325 905l3-5l-2-7M1330 892l-4 1l-3-3M1331 907l4-5l2-6l-2-5M1339 889l-4 2l-3-2M1345 904l-5-5l1-6l-4-4M1341 893l4-3M1345 904l-6 1l-4-4l-7 2M1327 897l1 6l-4 4M1346 911l-1-6l3-6M1342 927l-5 3M1334 926l3 4l-3 4M1345 933l3 5l5 1M1353 943l0-4l4-3M1332 931l-5-4M1336 935l6 4l1 7l4 4M1343 946l-5 3M1328 933l-5 1M1337 943l-6 3l-1 5M1325 950l5 1l2 5M1338 937l-5-6l1-5l-5-3M1332 919l-3 4l-5 0M1345 940l0 7l6 3M1350 954l1-4l5-1M1348 935l3-5l-2-6M1369 938l4 5M1370 947l3-4l5 1M1376 939l0 7M1371 941l-4 2M1379 951l4-3l6 2l5 1l7-3M1394 951l1 5M1374 959l7-1l4 4l7-1l4 4M1368 964l3 5l7 1l6 0l4 6M1387 982l1-6l5-2M1361 969l0 7l5 4l0 6M1362 990l4-4l6 1M1357 972l5 3l7 0M1370 979l-1-4l3-3M1363 977l0-6M1367 981l-3 7l3 5l-1 5l4 4M1366 1005l4-3l4 2M1369 974l1-5l-3-5l2-6M1373 955l-4 3l-4-2M1384 972l-4-4l-5-5l2-6M1380 954l-3 3l-5-1M1389 983l0 6l-5 4M1389 989l-4-1M1396 981l4 2l5-2l6 2M1414 987l-3-4l2-5M1389 981l-6 2l-5-2l-6 3M1370 980l2 4l-2 5M1392 988l7 2l3 7l1 6M1402 1007l1-4l5-1M1386 985l1-6l-4-4M1387 971l-4 4l-5-2M1385 991l1 7M1379 990l-6-1l-7 0M1379 997l4 5l-3 7M1376 1012l4-3l6 2M1368 995l-6-2l-3-6M1370 1001l5-4l7 3l5-3l6 2M1362 1013l-3 7l-6 0M1368 1012l-1 7M1373 1017l-6-4l-7 2l-5-3l-5 2M1355 1012l0-6M1371 1029l1 6l4 3l3 6l5 2M1382 1051l2-5l5 0"/><path id="d19" d="M1191 1011l-4-4l0-6l-4-5l6 2l1-5l6 2l2-7l2-7l7-2l6 4l7 3l4-6l5 5l3 5l-4 4l-3 6l6 2l-5 3l3 5M1187 1001l5 0l7 1l4-4M1206 1000l-3-2l1-4M1207 979l2-6l1-6M1220 986l-4 4l0 5M1229 985l5 1l5-4l7 1M1248 987l-2-4l1-3M1232 990l3 4l6-1l5 4M1247 1002l-1-5l4-3M1228 994l-6-3l-1-7M1231 1002l1 7l6 4M1236 1017l2-4l5-1"/><path id="d20" d="M1193 1027l8 1l6 0l-6-3l5 3l-2-7l6-2l-4-6l-4-4l3-6l4-6l-7-1l5-5l-6-3l6-2M1201 1025l-5-3l-1-7l-6-4l-6-4M1186 1003l-3 4l-5 0M1204 1021l-1-7M1206 1009l-3 5l-5 0M1206 1013l-3-5l2-5l4-6l3-5M1217 990l-5 2l-5-2M1205 1003l-4 5l-6-2l-5 3l-4 4M1182 1009l4 4l-1 5M1202 996l-7 0l-5 5M1195 996l-3-4M1207 991l5 2l6 3M1220 999l-2-3l2-4"/><path id="d21" d="M1325 986l6-3l-2 7l7-3l-3 6l6-5l6 0l-7-1l3 6l-5-2l2 7l-6 0l-1 7l0 7l-5 6l0-7l-6 3l1-5l-4 3l0-7l-1-7l-6-1l-5-5l6-2l-7 0l7-1l-5-5l5-4l4-6l-8 2l2-5l-7 1l0-7l-4 6l-2-7l-5 3l-7 3M1331 983l7-2l5-2l3-6M1351 975l-5-2l-1-5M1336 987l6 0l5-4M1351 987l-4-4l2-6M1339 988l0-6l-4-3l1-7l-5-5M1334 963l-3 4l-5-1M1338 987l-7 0l-6 1l-3-4M1332 998l-2-7l-5-3M1331 1012l3 3l6 0l5 5l5 3M1326 1018l0 6l-4 5l0 6M1317 1035l5 0l2 4M1326 1011l6-2M1337 1009l-5 0l-2-5M1320 1014l-7-3l-5 4l-6-3M1321 1009l6-3l0-6M1317 1005l6-4l0-6M1311 990l5-4l5 1M1324 991l-3-4l1-4M1311 989l4-6l6 1M1306 984l-6-1l-6 4M1290 984l4 3l-1 6M1311 980l0 7l5 4M1313 995l3-4l6 1M1315 974l5 1l4-4l5 0M1333 974l-4-3l1-5M1307 976l-3 4l-3 5l-6 0l-2 4M1295 985l-2-4M1302 972l-2 5l-6 3l0 6M1289 985l5 1l2 5M1298 971l2 6l-3 5M1292 984l5-2l4 3M1296 964l-2-5M1291 967l3 6l6 1l6 0"/><path id="d22" d="M1339 919l-3 6l-5 6l-7-3l3 7l-5-4l-6 3l5 6l-6-1l7 3l-7 2l7 3l-6 4l6 4l-5 5l5 4l1 7l5-6l5 5l3 5l6-4l4 5l3-5l2 6l3-6l4 5l5-6l3 7M1336 925l5-4l6 1l6 1l5-3M1331 931l4 3M1324 928l-6 1l-7 0M1318 929l1-6M1327 935l6 3l0 6M1331 948l2-4l5-1M1322 931l2-5M1321 940l6-2l5-1M1322 942l4-3l5-2M1334 941l-3-4l2-5M1322 947l4 3M1328 955l-2-5l4-4M1322 955l5 0l5 5l4 5M1322 964l5-3l0-7l5-2l5-3M1332 952l4 2M1328 965l6-3M1338 962l-4 0l-2-4M1336 975l0 5l-5 4M1327 984l4 0l3 4M1346 976l-3 6l-4 4l3 6M1337 994l5-2l3 3M1351 977l-3 5l1 6M1354 971l3-5l-2-5l3-4M1364 954l-6 3l-5-4"/><path id="d23" d="M1221 1140l7 1l-4 5l5 3l-7 4l6 2l-2 5l7-3l-7 1l5 6l-5 4l7 1l-4 4l7 2l-7 3l5 3l-6 0l5 5l-1 6l-6-5l-3 6l-5-1l1 6l-6 5l-6 0l4 5l-7 0l-5 4l-6 5l7-2l-4 6l6-1l5 3l-3 5l7 3l5 4l-6 3l5 4M1228 1155l5-6l7 1l5-5l5 1M1245 1145l1 4M1233 1157l6-1M1243 1158l-4-2l-1-4M1229 1178l-4 5M1234 1181l6-4l6-3M1249 1177l-3-3l2-4M1226 1187l-4-5l-6-4M1222 1182l4-2M1218 1192l-1-6l-6-3M1213 1178l-2 5l-6 0M1219 1198l5 2l6-5l7 1l4-3M1237 1196l2 4M1211 1208l6-3l5 5M1224 1215l-2-5l3-4M1199 1212l-1-6l-2-6M1201 1199l-5 1l-4-4M1200 1215l7 1l3-5l5 1M1202 1220l-3-6l4-6M1216 1235l7-2l3 5M1210 1238l-5 3"/><path id="d24" d="M1174 1160l7-3l3-5l5 4l1-6l2 6l2-7l4 6l4-5l2 6l0 6l6-3l-3 6l6-3l-4 6l0 7l7-1l2 5l-1-6l1 6l5-3l6 4l-4-4l5 3l2 5l-6 5l5 4l-5 1l2 5l-6 4l7 3l-6 5l5 5l-6 3l5 5M1181 1157l3 5l5 0l7 1l3 5M1196 1163l-2 4M1192 1156l3 6l2 5M1198 1155l5 5M1204 1156l7-2l1-5M1218 1151l-6-2l-1-5M1210 1159l6-3l0-7l2-6M1209 1168l-5-1l-6 4M1209 1175l-5 2M1199 1176l5 1l2 5M1218 1179l3 6l7 2l2 7M1229 1198l1-4l4-2M1217 1173l1-7l-6-4l1-6M1217 1152l-4 4l-5 0M1218 1179l-5 3M1207 1182l6 0l3 4M1226 1189l-5-4l-5 3l-5 2M1209 1187l2 3l-2 4M1228 1199l6 3l2 6l6 1M1222 1203l-5-3l-5-2l-7 4M1203 1198l2 4l-2 4M1223 1211l-6-1M1228 1216l6-2l4 3l6-2M1246 1219l-2-4l3-4"/><path id="d25" d="M1194 1235l6 3l-4 3l5 6l-8-2l1 6l-5 3l3 7l-7 4l1 8l-1 6l-7 0l-1 6l-5 4l-5-4l3 6l-5-3M1200 1238l5 2l5-3l7 3l5-4M1225 1240l-3-4l2-4M1196 1241l-3-5l-6-1l-2-4M1201 1247l3 4l7 1M1211 1258l0-6l5-2M1194 1251l7 0l8-1l6-1l6 4M1221 1258l0-5l3-2M1186 1273l2 5l3 7l6 0l3 6M1185 1279l5 1M1178 1279l-4-5l-3-6l-6 0M1171 1268l1-5M1170 1291l3 7l7 1"/><path id="d26" d="M1387 1102l-6-4l-3 6l1-7l-3 5l-1-5l-4 5l-5 3l-1-7l-6-1l2-6l-2 6l-2-8l6 5l-7 2l-2 6l-8 2l4 5l-6 2l7 1l-4 5l6 2l-5 1l7 0l-5 1l-6 1l5 1l-5 3l4 6l-3-5l-4 7l-2-6l-6 3l0-6l-7 1l0-6l-3-5l-4 5l-5 2l-6-2l0 6l-6-3l2 6l-6 3l-3 7l6 2l3 5l6-1l-4 4l-3 7l6-5l7 2l-5 5l-6 3l3 4l-7 0l4 4l-2 6l6-1l-8 1l6 1l-3 6l6 1l-5 3l-6 2l-5 4l2 6l-6 1l4 4l-7 0l6 3l-6-3l-7 1l6 3l-6 4l4 3l-1 8l5-6l0 6l5-3l5-5l2 8l5-3l-2 8l1-8l5 4l5-6l4 6l7-1l-6 4l7 2l-5 2l-2 7l7-1l-4 4l5 4l-4-3l5 5l-6-1l-2 7l-5-5l0 6l-6-4l-5 5l-5 4l-4 4l7-1l-3 7l7 3l-3 4l5 1l7-1l-6 4l-1 6l-6-2l-3 5l-7 1l-4 7l6 0l-4 6l-2 8l7 1l-2 6l-7 2l-2-7l-4 4l-5-5l-6 1l2-6l-6 2l-6-2l5 6l-6-2l5 5l-7 3l7 4l-2 7l-1 6l7-1l-3 5l6 0l-7 2l3 5l-6 1l0 6l-5-3l0 6l-5-5l-3 7l0 7l-5-3l-3 5l-4-6l2 6l-5-5l-7 3l7-3l-7 2l-3 6l0 7M1375 1097l1-6l1-7l-5-4M1377 1084l5-2M1359 1097l-6-3l-4 4l-8-2l-6-2M1356 1096l-5-2l-1-5l-6-3M1354 1102l3 5l4 6l4 5l6 0M1372 1124l-1-6l5-3M1351 1112l6 3l5-4M1365 1114l-3-3l1-4M1355 1120l6-2M1364 1123l-3-5l3-5M1348 1132l2 5M1333 1131l-1 6M1333 1125l5-6l7 0M1319 1120l2 6l6 1l1 8M1327 1139l1-4l5-1M1314 1122l3 7l-3 5M1308 1120l-1-5l-5-4M1308 1126l1 6M1302 1123l-5-3l-4-4M1304 1129l2 5l7 2l1 6M1304 1146l-1 6l-7 2l-2 6M1290 1159l4 1l2 4M1310 1145l7 0l3-6l6-1M1331 1140l-5-2l-1-6M1303 1156l-2 7l-2 6l-7 3l-2 5M1309 1151l-5-4l1-5M1316 1153l6 3l5-3l6 3l5-3M1305 1161l-3-6l-5-1l-4-6M1308 1165l6 3l1 6l7 3M1320 1182l2-5l6-1M1303 1175l-4 5M1295 1177l4 3l1 5M1301 1175l-3-6l-6-1M1293 1163l-1 5l-4 2M1304 1182l-5 6l-6-1M1289 1184l4 3l-1 4M1305 1186l1 7M1294 1192l-7 1l-5-4M1281 1183l1 6l-5 3M1286 1207l5-3l6-4M1300 1204l-3-4l2-4M1283 1222l-4 4l-3 5M1270 1233l6-2l4 3M1288 1216l7 0l3-5l7-1M1298 1211l4 5M1293 1219l-4 6l-4 5l2 5M1285 1230l-5 0M1300 1222l-4 4l0 7M1296 1226l-6-1M1303 1227l0 7M1304 1219l4-6M1309 1223l2 6M1321 1230l-1-5M1322 1220l-2 5l-5 1M1326 1236l6 1l4-4l4-4l7-1M1351 1231l-4-3l0-5M1322 1240l-4-4M1327 1244l6 3l5 3M1336 1255l2-5l5-1M1323 1241l-5-3l-2-6l-1-5l-5-3M1312 1220l-2 4l-5 1M1328 1246l0 6l4 3M1320 1252l0 5M1318 1260l2-3l4 0M1304 1254l-3 5l2 5l-4 6l1 6M1299 1258l-1-5l-6-4l-2-5M1292 1239l-2 5l-4 0M1295 1262l-5 2l-3 6M1283 1269l4 1l1 4M1302 1261l7-1l3-6l4-4l3-6M1323 1246l-4-2l0-4M1299 1268l-5-1l-5 4l-4 4M1282 1272l3 3l-1 5M1308 1276l-3 5M1300 1283l5-2l5 4M1315 1275l5-2M1308 1285l0 6l4 4l0 7l-1 6M1312 1302l-4 2M1299 1288l5-2l7 3M1304 1286l1 5M1290 1302l-7-1l-7-2M1277 1295l-1 4l-4 1M1288 1310l-7 1M1295 1311l5 0l4-4M1293 1317l5-2l5-2l6 3M1310 1321l-1-5l2-3M1286 1319l-6 2l-3 5l-6 1M1280 1316l5 5M1271 1306l7-2l1-6M1264 1312l0 7l6 4l1 6l6 3M1263 1315l6 0l4-4M1260 1335l-6 2l-5 2l-1 6l-7 1M1263 1341l-4-4l-6 1M1260 1347l0-6l-5-4l-1-7l-4-2M1255 1350l-2-6l-6-1l-3-6l-7-1M1247 1358l-5 0l-4-4M1237 1350l1 4l-4 3M1247 1365l2 6M1244 1373l5-2l4 3M1239 1367l4 4l0 7l3 4M1242 1386l4-4l5 2M1235 1361l-3-6l4-6M1239 1346l-3 3l-4-3M1237 1367l4 5M1237 1376l4-4l6 1M1225 1365l-3 4l-3 5l-6 0l-5 5M1225 1364l-3-6l-7-1"/><path id="d27" d="M1385 1100l-4 4l-3-7l-4 5l1-6l-6 4l-3-6l-5-6l-1 7l-7-1l4 6l0 5l-4 7l1 5l-6 1l2 5l-7 1l4 6l-5-1l-1 7l-3-5l-3 6l-2-5l-4-5l-2 6l-3-7l-4-4l0 7l-5-6l-4 5l-3 6l-5-4l0 8l-6-2l-1 5l4 5l-2 7l7-2l2 6l0 7l7 2l5-1l-6 4l-2 5l6-1l-6 4l4 6l-6 1l4 7l-7 0l2 7l-5-4l2 7l-5 4l5 6l-5 4l6-2l0 6l6-3l7 2l-3 5l7-1l-2 5l7 0l-7 4l7 3l-7 1l3 6l-6-1l4 6l-6-2l-7 0l1 5l-7-3l5 4l-5 2l6 6l-7 4l5 4l-5 4l6 0l5 3l-6 4l5 2l-3 6l5 3l-6 5l1 6l-5 4l-4-5l-2 6l0-8l-2 6l-2 5l-6-3l-6 1l0-7l2 7l-5 3l-3-5l-1 7l-5-1l4 7l-8 0l5 5l-3 6l2 7l-5 3l-6-3l1 7l-6 0l3 7l-6-2l-2 7l-7-2l-7-1l5 4l-6 2l3 6l-5 3l6 1l-6 3M1378 1097l7-1l7 0l2-5M1399 1093l-5-2l-1-5M1374 1102l-1 7l-6 3l-2 5M1369 1100l2 6l2 6l-3 5M1361 1088l-1-7M1365 1080l-5 1l-3-4M1353 1094l-6-3l-3-5l-5-1M1344 1086l2-4M1357 1105l6 3l6-4l5 1M1378 1109l-4-4l2-6M1353 1112l-7-1l-6 0M1337 1108l3 3l0 4M1350 1123l4 6l6 1M1359 1135l1-5l5-3M1343 1124l-6-1l-1-5l-3-6l-7-1M1347 1130l2 6l6 2l2 7l6 2M1362 1153l1-6l6-1M1341 1136l-3 5l2 7l-3 4M1332 1154l5-2l5 3M1335 1137l3 5M1329 1127l-5-5l2-6M1327 1133l-1 6l4 5M1324 1126l1-6l6-3l0-5M1337 1112l-6 0l-2-5M1315 1123l-4-5l2-5l-4-4M1313 1105l-4 4l-5-2M1311 1128l2-6l-2-4l3-7M1311 1118l5-2M1303 1130l-2-6l-5-2l-6-2M1296 1122l3-3M1297 1136l3-7l-2-4M1303 1122l-5 3l-5-3M1300 1146l6 4l6-1l6-1l5 5M1324 1157l-1-4l3-3M1319 1165l0-6l6-4l6-4l4-2M1341 1149l-6 0l-2-5M1311 1174l-6 0l-4 4l-6-1M1311 1177l-5-4l-6 1M1313 1191l4 5l5 6M1306 1191l-5-2l-2-6M1301 1178l-2 5l-5 1M1308 1198l2 6l1 7l-4 6l3 6M1305 1211l4 4M1300 1215l-6 1l-3 6l-5 0M1281 1220l5 2l0 6M1306 1219l2 6l-4 4M1308 1225l-5 0M1312 1216l2-7l-4-4l2-6l-4-5M1323 1222l0-6l5-3l0-5M1334 1208l-6 0l-2-5M1328 1227l6-2M1328 1234l5 3l5-1l6 5M1346 1245l-2-4l3-4M1321 1235l-6 3M1322 1246l1 6l7 2M1323 1252l-2 4M1308 1250l6-1l4 5M1303 1252l-5 3l-4-3M1292 1248l2 4l-3 4M1302 1262l-4 4l-4 4l-5 4M1285 1270l4 4l-2 6M1302 1270l-5 4l-6-2M1297 1274l-2-4M1313 1273l4 2M1312 1279l1-5l6-2M1324 1272l-5 0l-2-5M1309 1299l6 3l5 3M1324 1310l-4-5l3-5M1300 1298l1-5l-4-5l-4-4l-4-6M1293 1274l-4 4l-6-2M1294 1307l3 4l4 6M1297 1321l4-4l6 2M1288 1304l-3-4M1282 1305l-6-2M1282 1298l-4-5l3-6M1284 1305l5 2l1 7l2 7M1279 1308l-6 4l-4 5M1276 1303l-5-4M1274 1296l-3 3l-4-1M1274 1316l5 4l0 5l5 4M1268 1327l-7 0l-4-5M1258 1317l-1 5l-4 2M1270 1334l7 0l3 5l6 0M1286 1343l0-4l4-2M1265 1337l-2 6l3 4M1260 1341l5 1l2 5l6 0M1267 1347l-2 4M1257 1348l2 6M1251 1346l-5-5l-6-1l-4-4l-6 0M1230 1331l0 5l-5 2M1249 1353l5-2l5 4l5-1M1265 1359l-1-5l3-3M1242 1351l6-3l1-6M1235 1350l-1-5l-5-3M1232 1337l-3 5l-6 0M1234 1356l-5-4l-6 1l-4-4M1223 1353l1-5M1232 1365l-2 7l-5 2M1221 1373l4 1l1 4"/><path id="d28" d="M1488 1176l3 6l-5 3l-2 7l-4-5l-4 5l-3-5l-4-6l-8 2l1-6l-2 6l1-6l-5-5l-4 4l-6-2l-3 6l-6-1l3 5l1 6l-3 5l-3-5l-1 7l-3 7l0-6l-2 6l-6-4l-3 6l1-6l-6 1l1-7l-7 3l-2-7l-3 7l-5-6l-1 7l-5-4l-6 2l6 1l-6 3l5 2l-5 6l7-3l-4 5l6 0l3 6l7-2l-3 5l1 7l7 0l-5 4l-3 5l6-2l-4 6l6 1l1 6l1 5l4-6l4 7l3-7l2 5l5-6l7-1l1-6l3-6l3 6l1-6l4 5l5-6l1 7l5-3l2 5l5-5l4-4l-3 6l4 5l5 3l5-2l7 2l2-6l2-6l6 3l-1-6l3-5l4 3l3-5l2-6l2 6l3-5l4 7l6-5l1 7l4-4l1 7l4-7l3 6l2-6l2-5l6 2l0-7l7 0l-2-7l-7-3l7 1l0-7l5-4l5-4l0-6l6 2l0-5l7 0l2-7l4 6l3-7l6 2l-6-4l6 4l0-6l5 1l-5-3l5-4l-6-2l6-4l7-3l-5-2l5-3l-5-4l-6-2l5-4l-6-2l3-5l-7-3l4-6l2-6l-4 5l-1-6l-2 7l-4-7l-6-5l3 7l-6-1l-2 6l-7-1l-1 7l-3-6l1 8l-4-5l0 6l-4 3l-1-7l-3 4l-5-6l-8 0l3-6l-7 0l4-5l-7 3l4-6l-7-2l-2-6l-7 1l-1-7l-1 7l-7-2l-5 5l-3-4l-2 6l-5-3l-1 8l-5-3l-3 7l-4-5l-6 2l-6 1l-6-2l-6-4l3-6l-8 0l-5-4l-5-4l-3-5l-2 7l-4-5l-4-4l0 6l-5 5l-5-5M1484 1192l0 5M1476 1192l-3 5l3 7l-3 5M1469 1181l-3-5l3-6l-3-6l2-5M1460 1183l2 6l3 6M1460 1198l5-3l5 3M1452 1176l-2 7l-3 6M1443 1192l4-3l5 2M1443 1180l4 3l1 7l6 4M1437 1179l-7 0l-4-4l-6 1M1426 1175l1-5M1435 1190l-4-5M1435 1182l-4 3l-5-2M1434 1197l3 6l7 0M1444 1208l0-5l5-3M1423 1200l-4-5l2-6M1425 1186l-4 3l-5-1M1416 1194l5 0l5-5l5 2l4-4M1438 1190l-3-3l1-4M1407 1190l-2-6l3-5l3-6M1415 1171l-4 2l-4-3M1399 1191l5-6l-3-6l-2-5l5-5M1409 1167l-5 2l-4-4M1393 1194l-2-6M1387 1200l-5-1l-4 5l-4 5M1370 1207l4 2l0 5M1406 1214l1-7l6-3M1407 1207l5 3M1404 1226l-5 3l-5 4l-1 6M1409 1233l5-4M1411 1240l-3-5M1412 1246l7 0l5 2M1417 1245l0-7M1421 1252l-2 5l3 6l3 5M1422 1270l3-2l4 2M1424 1245l-4-5l1-6l3-7M1427 1224l-3 3l-4-1M1426 1250l-4 4l-5 5M1431 1244l1-6l-3-4M1438 1243l1 7l6 2l2 7l6 4M1439 1237l-7-1l-6-1l-3-7M1442 1231l-3-5l2-6l-3-4M1443 1213l-5 3l-5-2M1446 1231l-4-4M1450 1236l1 6l-4 4l2 7l1 6M1446 1260l4-1l4 4M1455 1230l-2-5l4-5M1463 1239l-4 3l0 6M1468 1234l4 3l7-2M1478 1244l0 6l-4 4l0 7M1483 1242l-2-5l2-7M1487 1227l-4 3l-5-2M1490 1244l5 4l0 6l0 7M1492 1264l3-3l4 0M1494 1232l2-7l-5-4M1502 1224l-3-6M1506 1227l3 5l-4 5l-4 5M1497 1244l4-2l4 3M1520 1224l4 5l-1 5M1519 1238l4-4l5 2M1527 1226l-5 3l-1 5l0 6l-5 3M1511 1243l5 0l3 4M1539 1228l2 6l2 8l-3 4M1541 1222l-6-3M1537 1214l-2 5l-6 1M1549 1219l0 7l5 5M1556 1212l5-1l4 3l6 0M1565 1214l-1 6M1547 1202l-6 0l-7 0l-5 1M1554 1203l4 5M1554 1196l-7-4M1549 1188l-2 4l-5 1M1559 1192l2-6M1566 1187l-5-1l-2-5M1564 1188l5 1l2 5M1564 1182l1-7M1570 1179l-6-3l-6 3M1556 1174l2 5l-2 4M1579 1172l-5-5l2-7l2-5l1-6M1582 1146l-3 3l-4-1M1583 1178l5 3l-1 6l5 3M1586 1171l-1-6M1592 1173l5 5M1598 1183l-1-5l4-3M1586 1169l-4-3l-1-7l-5-3M1579 1151l-3 5l-5 0M1592 1173l5 2l1 7M1596 1187l2-5l5-1M1597 1168l7-1l6 4l3 4l7-2M1621 1178l-1-5l4-4M1597 1155l-3-5l-4-5M1604 1152l4-4l5-5M1608 1148l3 4M1599 1150l-2-7l-7-1M1597 1143l2-4M1599 1143l2-5l6-2M1612 1138l-5-2l0-5M1598 1137l5 1l4-3l5-4M1616 1135l-4-4l2-5M1595 1130l5 3l6-5M1609 1132l-3-4l2-4M1590 1120l1 6M1587 1121l-2 5M1583 1114l4-6l6 0M1587 1108l3 4M1577 1109l-3-6l-6-2l-2-6M1580 1116l4 5l-1 6l4 4M1583 1135l4-4l5 2M1574 1115l-1-6l-6-4l-1-7l-4-3M1565 1090l-3 5l-6 0M1561 1121l-4-3l0-6M1560 1107l-3 5l-6 0M1558 1124l-1-6l-6-2l-1-6M1530 1116l-5 3M1522 1116l3 3l-1 5M1527 1108l-1 5l-6 4l-1 5M1518 1103l5 5l-3 6M1517 1117l3-3l5 2M1516 1103l-1 5l4 6l-1 6M1515 1123l3-3l4 2M1509 1101l-4-4l-6-5l0-5M1504 1106l2 6l0 5M1493 1113l-3 5l4 6l2 6M1485 1117l-3 5l3 6l-2 6M1478 1136l5-2l5 2M1475 1114l4 4l-1 5M1475 1127l3-4l5 1M1469 1115l-6 1l-2 6l-6 2l-2 7M1448 1130l5 1l1 4M1463 1113l-2 7l-2 5l3 5M1457 1133l5-3l5 3M1452 1103l-4 5l-6-1l-3 5M1439 1090l0-5l-5-2l-2-5M1433 1092l-5-3M1429 1088l2-6l0-8M1434 1071l-3 3l-4-1M1429 1094l5 1l4 5M1424 1099l-1 5M1419 1107l4-3l4 1"/><path id="d29" d="M1425 1148l6 5l-5 3l5-1l4 4l-5 6l1 6l6 0l-1 6l0 6l6-1l-2 7l6 2l1 7l-6 2l4 5l-6-1l-1 7l-4-5l-3-4l-3 6l-5-5l-3 5l-5-3l-5-3l2 6l-3-5l1 7l-2-6l1 7l-4-5l-4-5l1 6l-5-5l-3 5l0-7l-6-5l-3 5l-5-5l-5 4l0-6l-7-3l6-1l-6-3l6-4l0-6l7-3l-3-5l8 1l-3-6l6-2l-2-5l4-4l-6 1l7-3l-7-2l-6-4l-1-7l-7 1l-6-1l5-5l-7-1l3-7l-5-5l6 1l-6-5l-5-5l7-1l-1-6l3-5l-4-6l0-6l-7 3l3-5l2-7l6 1l0-6l6 2l-5-6l4-5l7 2l1-7l6 2l-3-5l0-7l1 5l2-7l5 4l4-5l5 5l5-5l4 7l6-3l1 7l3-7l5 6l-2-7l4-6l5 6l-1-5l6 3l0-7l7 4l-1-8l6 0l1-7l5 6l5-4l4 5l6 2l-5 5l6 3l-5 2l6 3l-1 6l7-2l-3 6l7-1l6 0l7-1l0 6l7 4l-3 6l7-4l6 2l2 5l-5 4l5 6l-4 5l6-1l-2 7l6 2l-1 8l4-6l2 6l4-4l3 5l7-1l8 0l-3 5l6 0l-4 6l4 3l-6 3l4 6l-8 0l7 2l5 4l-7 1l6 3l-6 4l6-1l3 6M1431 1153l6-3l5 2M1446 1157l-4-5l3-5M1431 1155l1-8l5-3l4-2M1437 1144l4 2M1431 1171l0 6l-6 4l-6 3M1437 1171l3-6l6 0l7-1M1436 1183l-2 5l-7 1M1421 1187l6 2l1 6M1440 1189l-5 3l1 8l0 6M1431 1206l5 0l3 4M1447 1198l1 5l6 3l2 6M1438 1211l4 5l-3 7M1434 1206l-5 5l-6-1M1429 1211l-2-4M1423 1203l-4-5l-4-4l2-6M1420 1184l-3 4l-5-1M1420 1208l8 0l3 5M1431 1217l0-4l4-2M1415 1205l2-5l6-2M1429 1199l-6-1l-1-5M1410 1210l5 4l0 6l5 4M1401 1201l-2-5l-4-6l-4-5M1395 1181l-4 4l-5-2M1397 1202l-4-5M1375 1199l-5 1l-3 5l-2 6M1375 1193l8 1l4-3l5-5M1368 1190l-6 0l-4 7M1374 1189l7 1l4-3l6 1M1374 1176l-6-3l-1-6l-6-3M1367 1167l4-4M1378 1168l-1-7l-7-2M1371 1154l-1 5l-5 1M1389 1161l3 5l7-1l4 6M1387 1156l-5 2l-6-4l-6 3M1368 1152l2 5l-2 4M1385 1153l-7-2M1375 1148l3 3l-1 5M1385 1148l-5 5l2 5l-4 4l2 6M1378 1162l-4 0M1378 1137l6-5l4-2M1363 1131l-5-2l-6 4M1350 1129l2 4l-2 4M1361 1119l-7 0M1365 1098l5 0l4 4l4 5M1361 1086l1-5l2-6M1362 1081l5 3M1357 1084l-2 5l5 6l-2 5l-2 7M1353 1110l3-3l5 2M1370 1063l-4-3l0-8M1378 1058l3-6l-4-6l0-6M1381 1037l-4 3l-3-1M1381 1055l-6 0M1382 1053l1 7l-5 3M1398 1050l-6 5l-1 6l-6 5M1391 1061l-4-1M1403 1045l3-5l-2-6l2-4M1407 1052l-4 6l1 6l1 7M1402 1072l3-1l3 2M1414 1056l6 4l2 7M1419 1072l3-5l5 0M1417 1049l-6-2l-2-7l-2-6l-7-2M1402 1028l-2 4l-4 1M1422 1055l7-1l3 5M1433 1064l-1-5l4-4M1428 1043l2-6l-4-6M1431 1028l-5 3l-5-3M1434 1039l-1-6l0-5M1440 1035l0-5l-5-4M1437 1023l-2 3l-4 0M1447 1028l-4-5l2-7l-3-5M1452 1034l3 5l-3 4M1448 1046l4-3l4 3M1457 1030l3-5M1467 1037l0-6M1473 1031l-6 0l-3-5M1468 1045l5-2l5 3l5-2M1468 1056l-7 3l-5 2l-2 5l-5 2M1479 1059l-1-5l4-4l4-5l-2-7M1485 1059l-3 7l-2 6l2 6l2 5M1492 1064l-6 0l-4 5l-6-1M1503 1070l-4-6l4-6M1507 1057l-4 1l-4-2M1511 1077l5-2l6 3l6 4M1511 1087l5-3M1513 1091l6 3l4-4l6 2M1523 1090l2 6M1511 1098l-1 6l-7 3l-1 7M1517 1100l4-6l7 1l4-6M1536 1108l-6-4l0-6l0-8M1533 1086l-3 4l-4 0M1541 1113l-5 3l0 6l0 5l-5 3M1536 1127l-6-2M1547 1122l6-2l6 3l6-2M1541 1125l-4 3l-5 4M1529 1128l3 4l-1 4M1549 1137l4 6l5 0l3 5l5 0M1548 1141l7 1l4-4l4-5l5 1M1571 1137l-3-3l1-4M1542 1145l-7 1l-4 6l-5 1l-3 5M1548 1144l6-2l5-2l0-6l6-3"/><path id="d30" d="M1342 1203l-1-8l6 3l6 2l-5 5l5 4l-3 6l1 5l7-3l5 3l5-5l5 2l-1-6l6 4l5-5l6 0l7 0l-2 7l6 6l-6 5l5 5l-7 2l6 2l-3 6l-2 7l6 0l5 4l3-6l5 3l6-4l0 7l5-4l2 5l7 0l-4 5l5-2l5 6l4-6l6 3l2-7l5 3l4-5l-5-2l3-5l-3-6l7 0l3-5l8-1l-3-6l6-2l8 1l-4-5l6-3l-2-6l7-1l-4-6l7 0l5-5l4 4l5-4l6 5l5-5l6 2l-1-6l-6-3l4-4l0-8l6 0l5 5l2-6l5 5l1-5l6-1l-7-3l5-6l-5-2l5-4l-7-1l3-4l-7 1l-7-3l3-7l5-5l-7 2l3-5l-7-2l5-4l-6 0l5-4l-7 1l1-6l-7 3l-6 1l-6-2l-4-5l-4-5l7-2l-5-5l6-2l-3-5l5-4l-3 4l-5 3l1-5l-7 3l0-5l-6-1l-5 1l4-3l-7 2l3-6l-6-1l-5-2l3 6l-7-1l1 5l-6-2l-5 4l-4-6l-2-6l0 7l-5-7l-6-1l-2 5l-2-5l-5 1l-6 0l-2 6l-7 1l-6 3l6 2l-6-1l4 7l-6 0l-5 5l-4 4l1-6l-6 0l1-7l-2-5l-4 5l0 5l-7 0l0 8l-4-5l-6-1l-3 5l-6-4l-6 5l-5-3l1 7l0 7l-5-6l-5-3l3 6l-6-4M1341 1195l-3-6M1353 1200l7 1l5-5M1370 1199l-5-3l0-6M1353 1209l5-5l5-3l0-7l6-3M1373 1191l-4 0l-3-4M1368 1215l6-3l1-6l1-7M1380 1200l-4-1l-2-4M1373 1217l4 5l-1 5M1378 1215l0 6l5 3l-1 6l5 3M1389 1210l-1-6l-4-2M1385 1197l-1 5l-5 0M1400 1223l5-3l6 3l6-3M1411 1223l0 4M1394 1228l-6 0M1387 1223l1 5l-5 3M1392 1235l-6 5l-5-3l-4 4l-6-4M1368 1234l3 3l-2 5M1398 1237l6 0l3-5M1404 1237l4 3M1395 1243l-6-3l-5-4l-7 2M1376 1234l1 4l-2 4M1393 1250l-5 2l-2 6M1380 1257l6 1l2 5M1399 1250l0-7l-4-5M1418 1247l2-7l1-6l5-3M1431 1232l-5-1l-2-5M1418 1254l-4 4l1 6l-6 4l1 6M1432 1255l6 0l8 0M1438 1255l3 4M1448 1261l7-1l3 5l4 5M1450 1254l0-5l-5-3M1447 1243l-2 3l-4 0M1455 1257l6 2M1457 1245l3 7l7 2M1465 1259l2-5l5-2M1461 1239l5 4l0 7l-1 6l4 3M1466 1263l3-4l4 1M1464 1234l-6-2l-1-5M1458 1223l-1 4l-4 1M1469 1227l-5 2l-6 3l-6-2M1458 1232l-1-4M1475 1225l1-5l-4-4l-1-7M1472 1216l3-2M1479 1221l-6-4l-2-5l-5-3M1469 1204l-3 5l-4 0M1486 1205l-6 3l-6-3M1480 1208l-1-5M1493 1205l0 6l5 5l0 6M1498 1200l5-4l3-3l0-7M1518 1200l2-6M1524 1202l5 4l8-3l4 5M1523 1196l6-2l4-2M1539 1193l-6-1l-1-5M1521 1189l6 2M1521 1181l-2-6l-4-5l-5-2l-6-1M1510 1168l2-4M1527 1181l3-6l-1-6l3-6l-2-7M1534 1154l-4 2l-3-2M1534 1180l-7 0l-3-5M1540 1180l-4-7M1546 1179l7-1l1-5M1537 1163l-6-2l-5 4l-8-1l-4 3M1540 1159l5 0l4-7l6 0M1559 1154l-4-2l0-5M1533 1160l1 7l-4 5l1 7l-3 5M1523 1186l5-2l4 4M1529 1150l-7-3l-4-2M1534 1145l1-5l1-6l5-2l2-7M1549 1126l-6-1l-2-5M1527 1147l-4 4l-7 0M1514 1130l-2 6l4 5l-1 6M1502 1129l-4 4l0 5l0 6M1498 1138l-4-1M1494 1119l-5-5M1496 1112l-7 0l-4-5l-6 0M1485 1107l1-4M1502 1110l5 4M1505 1118l2-4l6 0M1501 1105l7 0l4 6M1508 1105l-2 5M1496 1108l-5 4l0 6M1491 1112l-5 0M1490 1106l0 7l-5 3l-7 2l-6 3M1483 1098l6 0l3-6M1489 1098l3 5M1476 1100l-4 6l-7-1M1479 1094l6-2M1471 1097l2 7M1454 1103l5 4l4 5l-1 7M1459 1123l3-4l5 1M1448 1091l-5-5l0-7l-5-4M1443 1091l0-7l5-3l5-5l0-6M1433 1090l-2-6l4-5l3-5M1428 1091l5 2l3 6l2 6l7 0M1444 1110l1-5l5-2M1420 1097l1 6M1407 1101l-6-1M1397 1097l4 3l-1 5M1407 1102l-4-4l-6 0l-6-1M1391 1092l0 5l-4 3M1391 1112l-1 7l-5 2l-3 6M1390 1100l3-6M1397 1091l-4 3l-4-2M1386 1110l5-2M1393 1113l-2-5l3-5M1375 1113l-1-5l2-6M1381 1100l-5 2l-4-3M1360 1113l0-6l7-3l6-4M1379 1100l-6 0l-3-5M1345 1123l1-6l2-5l3-6M1354 1103l-3 3l-4-2"/><path id="d31" d="M1435 1090l-7-3l-6 3l-2 5l-1 6l-7-2l-1 6l-4 2l5 5l-7 1l5 3l-5 5l8 0l3 5l0-5l6 1l0-7l1-6l6 4l5-6l4 6l6-2l1 6l5-3l5 3l3-6l5 2l4-4l4 4l3-6l6 5l4-4l-4-4l7-3l-5-5l5-1l2 7l3 5l-7-1l1 6l3 6l-5-4l1 6l0 7l-7-2l3 4l-2 7l-7 1l4 5l-7 0l1 6l-6-1l3 5l-4-4l-1 6l-6-2l0 6l-6-2l-1 7l-6 4l8 0l-5 4l5 5l-6-1l-5 5l6 5l-3 6l6 0l-3 7l-3 7l6 0l-6 4l6 1l3 6l-3 5l3 7l-5 5l5 4l8 2l-3 5l-2-8l5 5l4-7l5 5l6 2l-3-7l6 4l0-7l7 1l-4-6l5-3l6 3l1-6l3-5l5 6l5-5l6-2l6 0l-2 5l4-3l4 5l3-5l5 2l-4-4l6 3l-2-7l7 2l5-3l-5-5l5 2l2-6l2-6l7 0l0-6l7 3l4-5M1428 1087l-4-6l3-6M1420 1095l-7 0M1414 1089l-1 6l-5 2M1411 1105l5 2l2 6M1417 1117l1-4l4-1M1407 1107l-6-1l-7-2M1391 1100l3 4l-1 4M1412 1112l4 3l0 7l5 5M1418 1131l3-4l5 0M1405 1121l-4 4l-3 4l-5-2M1389 1124l4 3l-2 5M1416 1126l-1 7l5 4l-1 5M1429 1113l-5 2l0 6l-6 2M1424 1121l-5-2M1444 1111l3-7M1450 1114l2-7l-4-4M1450 1100l-2 3l-5 0M1458 1111l-5-1l-8-1l-3-4M1463 1113l-1 6l-1 6l4 5l5 6M1466 1140l4-4l5 1M1467 1109l-4-5l-5-4M1474 1107l4-5l-3-7l4-4M1483 1089l-4 2l-4-3M1480 1112l-2 7M1487 1101l5 2l7 2l2 5M1500 1114l1-4l3-1M1485 1106l-7-3l-3-6l-1-5l-7-3M1485 1120l8-1l3-6M1501 1115l-5-2l-1-5M1485 1127l3 6l7 2M1494 1141l1-6l5-1M1481 1129l6 3l5 1M1495 1136l-3-3l2-4M1472 1137l-5-4M1469 1142l-5-5l-5-5M1463 1128l-4 4l-5-2M1464 1147l-6-2l-2-6l-7-1M1450 1134l-1 4l-4 2M1463 1148l-4-6l1-7l-4-4M1460 1127l-4 4l-5-2M1462 1154l5 1l2 5M1468 1165l1-5l5-2M1456 1152l0-6l-4-4l0-7M1455 1130l-3 5l-6-1M1456 1158l2 6l6 1M1450 1156l4-5l2-5l-1-5M1460 1139l-5 2l-5-3M1449 1163l5 2l1 5M1453 1174l2-4l4 0M1446 1171l-5-5M1446 1185l7-1l3 4M1453 1184l-1 5M1443 1191l-4 4l-3 6l-4 6M1428 1205l4 2l0 5M1449 1191l4-3l0-7l4-3M1463 1178l-6 0l-3-5M1443 1205l-6-5l-6 2l-5-3l-5 2M1443 1209l-5 3l-5-1l-4 3M1452 1216l7 2l6-3M1452 1228l4 2l6-1l4 2l5-2M1473 1232l-2-3l3-4M1452 1237l-1 6l-6 3M1460 1241l-1 6l-2 5l4 4M1458 1259l3-3l5 1M1469 1239l0 6l6 4l1 6l0 6M1474 1265l2-4l4 0M1472 1234l1-6l1-5l-5-4M1473 1214l-4 5l-5-1M1481 1226l-6 3l-5 2l-6 1M1462 1227l2 5l-3 5M1506 1216l0-7l-4-5M1512 1214l7-2l3-6M1526 1207l-4-1l-1-5M1516 1219l-2 7l-1 7M1507 1232l6 1l1 4M1520 1216l5-4l0-7l0-6M1525 1205l5 2M1527 1216l-3-6l-2-7M1528 1214l-5-2l-1-6M1524 1201l-2 5l-6 1M1532 1210l-6-1l-3-5l-7-1M1517 1199l-1 4l-3 2M1544 1209l5 4l5 5M1548 1194l-3-5l-7 0"/><path id="d32" d="M1600 1162l-6 4l-1-7l-7 3l-1-7l-4 5l-1-7l-7 4l1-7l-7-2l5-6l-5-2l1-7l-6 3l-3-5l-4-5l0 7l-4-6l-2 6l-4-4l-2 5l-5 5l4-5l-2 6l-3-6l0-6l-3-7l-4-6l-5 3l-6-2l-4 5l-3-5l-5 4l-4 6l0-6l-3-7l-3-6l-6 0l2-5l-7 4l1-6l-5 4l0-6l-6 3l-7-2l-8 0l6 4l-6-1l1 5l-5-1l-2 5l-6 0l-5-4l-1 7l-6-3l2 6l-5 6l-6-4l-3 6l-6-5l1 6l-3 6l-1-7l-2 6l-5-5l2 8l-4-5l-2 7l-3 6l-7-2l-6-4l2 7l-6 2l5 6l-5-1l4 6l-8-1l1 7l-3-7l-3 6l-6-2l1-8l-6 5l2-5l-6 3l0-7l-5 4l2-5l-6 0l2-6l-7 0l1-7l-5-5l4-4l-5-4l1-5l-5-4l-6-1l5-4l-4-6l-5-5l6 1l7-3l5 4l3-7l2-5l2 6l4 6l3-7l2-6l7-2l-2-5l5-2l-4-5l7 0l2-6l5 4l-2-6l4 6l-1-7l6-3l4 5l3-6M1581 1160l-5 5l2 6M1575 1172l3-1l3 2M1580 1153l0-5l6-3l-1-6M1589 1138l-4 1l-2-4M1573 1157l-4 3l0 7l-4 4M1560 1171l5 0l3 4M1574 1150l5-5l4-5l7 0M1593 1143l-3-3l1-4M1567 1148l-6 2l-6 0l-2 7M1548 1155l5 2l1 5M1567 1140l-5 5M1562 1136l-5 3l-1 6l-5 3M1547 1148l4 0l2 5M1555 1126l-4-5l1-5l-6-5M1543 1134l5 5l6-3l4 3M1560 1143l-2-4l3-3M1538 1139l-6 4l1 6l-6 4l-5 4M1540 1140l-3 6l4 5l-1 5l4 6M1540 1165l4-3l5 1M1537 1134l-3 5l-5 5M1519 1116l-3-6l-6-2l-2-6M1509 1097l-1 5l-6 1M1515 1121l4 5l-1 6M1515 1135l3-3l5 1M1503 1126l-3 5l2 5l2 6l-2 6M1497 1107l4-3l1-6M1507 1098l-5 0l-3-4M1491 1107l3 6l-3 5M1486 1106l-4 5l-4 4l1 6l-4 3M1482 1104l-7 2M1476 1101l0 5l5 5l-1 6l5 4M1480 1117l-3 2M1461 1099l-2-5l-6-1M1461 1102l-6-2l-3-6l-5-2M1448 1088l-1 4l-4 2M1449 1111l1 6l-3 4l1 5l-4 4M1444 1107l2-6l-4-5l2-6l-4-4M1437 1111l-4-7l-4-5l3-4M1434 1123l2 5l-4 5l1 5M1425 1125l-2 7M1419 1120l-2-6l-5-3M1417 1114l3-4M1414 1131l-4 3l1 6l-4 4M1402 1145l5-1l4 4M1409 1126l-4-2l-1-7l-6-3M1401 1110l-3 4l-5 0M1411 1134l-1 6M1405 1136l7 0l3 4M1416 1145l-1-5l4-3M1402 1142l3 6M1391 1143l5 5l5 0l6 5M1401 1148l0 4M1390 1151l5 5l7-3M1381 1155l-3-7l-5-2l-2-5M1371 1151l5-2M1367 1151l-3-5l4-6l-2-6M1361 1147l4-3l-1-7l-1-5M1368 1131l-5 1l-3-4M1356 1151l-1 6l-7 2l-1 7M1343 1166l4 0l2 4M1354 1140l0-5l-1-6M1354 1135l5 1M1343 1128l-7 3l-6-4l-6 1l-6-5M1317 1118l1 5l-3 4M1347 1124l6 3l7-3l6 3M1368 1132l-2-5l3-3M1332 1110l-7-1l-6 0l-3 5M1313 1112l3 2l0 5M1333 1100l5 1M1334 1096l3 5l-3 5l1 5M1346 1097l-4 5l2 5l-4 6M1360 1090l6-3M1368 1070l-6-2l-4-6l-2-5M1357 1051l-1 6l-5 2M1377 1064l2-6l-4-5l1-5l-4-6M1383 1061l-5-4l1-6l0-5"/><path id="d33" d="M1593 1051l1 7l-7-3l5 4l5 5l5 4l-4 6l5 5l-7 2l7 2l-4 6l7-3l-1 7l5-2l3 6l1 7l5 5l-8-1l3 4l-6 4l-2 7l6 1l8-1l-1 6l7 3l-6-1l5 5l-7 1l-5 2l4 3l-6 4l5 3l-4 6l5 4l3 4l-5 5l6 3l-3 6l7-1l-4 3l-3 7l6-3l-1 6l7 3l-6 2l5 4l-5 5l7 3l1 6l4 5l-6 0l7 4l-5 3l-1-6l-7 1l-6-1l-1 6l-3-5l-3 7l-2-6l-5 5l-4-7l1-7l2-7l-4 4l1-6l-5 3l-5-2l-3 5l-5-3l-3 6l-3 6l3-6l-3 6l-4-6l-5 5l-1-8l-5-4l4-3l-5-2l-1-7l4-3l-8 1l-3-5l-4 5l-5-6l-6 0l2-5l-6-1l0-8l-3 4l-4-6l-6 4l0-6l-3 6l-3-5M1594 1058l5 1l5 2M1592 1059l3-5l-3-6M1602 1068l3-7l5-1M1614 1062l-4-2l-1-4M1603 1079l7-2l5 2M1596 1081l-7 1l-6-4M1582 1073l1 5l-3 4M1606 1086l0-7M1612 1079l-6 0l-3-4M1610 1091l-1-7l-1-6l5-4M1608 1078l6 1M1614 1104l-5 1M1605 1103l4 2l0 5M1608 1116l-6-2l-5 3M1594 1113l3 4l-3 4M1606 1123l0 7l-1 5l-2 6l-1 6M1597 1146l5 1l1 4M1612 1124l-4 6l-5 1l-3 7l-2 4M1600 1138l-3-4M1619 1129l-7 2l-3 5l-6 0M1620 1131l-6-2l-6 3M1605 1128l3 4l-2 5M1617 1142l3 7l7 0M1611 1146l-4 3l-6-4l-5 2M1594 1143l2 4l-3 3M1621 1171l6-2l5-2l4 5M1632 1167l0 5M1621 1179l-4-5l-3-7M1618 1186l-6 3l-2 6l-6 2M1599 1195l5 2l2 5M1624 1183l2-5l5-3l7-3M1630 1192l5-5l7 2l3-4M1629 1198l4-3l5 1M1633 1195l2 5M1631 1206l7-1l2-6l3-7l2-6M1643 1192l5 3M1636 1217l5 4l6-2M1648 1224l-1-5l3-3M1637 1221l7 3M1632 1224l-1 5l3 5l-1 5l4 6M1633 1239l-4 2M1614 1219l5-5M1611 1226l0 7l0 7l6 4M1604 1225l5 2l1 6l1 6l5 4M1600 1218l-7 1l-2 5l-6 1M1580 1223l5 2l0 5M1599 1208l-1 6l-7 4l-2 5l-6 1M1590 1203l0-5l-6-5M1587 1208l0 6M1582 1205l-6-1l-3-5M1576 1217l-5 3M1566 1220l5 0l3 5M1579 1211l0-7l5-4l1-7l6-3M1595 1190l-4 0l-3-4M1576 1217l-6 2l-4 2l-2 7M1560 1228l4 0l2 5M1561 1204l-5-4l-5 1M1556 1200l1-5M1560 1199l-3 7l-3 6l-2 6M1563 1189l4-5l6 1l5-4M1573 1185l2 5M1555 1190l0 7l-5 3l-1 5M1543 1205l6 0l2 6M1543 1184l-6-5l-4-4l0-7M1537 1184l-5 3l-7-1M1522 1183l3 3l-1 5M1530 1174l2 5M1531 1184l1-5l4-1M1526 1168l2-5l-2-5l2-5M1532 1151l-4 2l-4-2M1520 1166l-4-6l1-5M1521 1152l-4 3l-5-2"/><path id="d34" d="M1618 1105l-6-1l-1-6l4-7l-8 3l-5-5l-6 0l-3-7l-6 6l-2-7l-7 2l-2-7l4-7l6 3l5-5l1 6l4-4l2 5l6-1l-2 6l5-1l0 7l7 3l6 4l-7 2l5 4l-5 0l3 5l-6 4l5 4l-6-3l-5 4l5 3l-2 7l6 0l0 6l5 1l0 6l3 5l6-3l4 6l6 0l6 0l-5 4l8 0l-4 6l2 7l2 6l-6-3l1 7l-3-5l-3 7l-5-5l-5 4l1-7l-3 6l0-6l-6 4l-1-7l-6 1l-5-3l-3 7l-4-5l-3 6l-6 0l-6 0l-6 4l3 5l-7 1l6 1l-5 3l2 6l-6-1l1 6l-6 0l-6-3l-2 5l-5-4l-6 6l-7-1l3-6l-1-6l-3 5l1-8l-3-4l-3 5l-6 5l-5-5M1602 1089l4-6l-1-5M1606 1083l5 1M1593 1082l-1-6l4-5M1602 1069l-6 2l-4-4M1585 1081l3-5l2-7M1594 1070l-4-1l-1-5M1576 1076l-7-2l-5 4M1561 1075l3 3l-1 4M1580 1069l6-4l4-3M1595 1062l-5 0l-2-4M1592 1073l3 6l-4 4l2 5l-3 7M1585 1097l5-2l3 3M1618 1098l4 7l7 0l3 5M1631 1116l1-6l5-3M1616 1103l7 1l3 6l6 0M1631 1115l1-5l4-1M1610 1107l-5-5l-5 1M1615 1111l6-2l6-3l7 3l4-3M1609 1108l6-4M1604 1112l-6-2l-5-1l-7-2M1583 1104l3 3l-1 5M1607 1122l-5 5M1599 1124l3 3l-2 5M1613 1128l-1 6l-5 3M1603 1137l4 0l2 3M1627 1137l-2-7l2-4l3-6M1635 1118l-5 2l-5-3M1637 1143l-1-6l-5-1l-1-5l-5-3M1630 1131l3-4M1646 1147l5-1M1655 1147l-4-1l-1-4M1642 1153l-6-4l-5-3M1636 1149l0-5M1640 1163l0-6l-5-4M1635 1172l-2 6l-2 5l4 6M1631 1192l4-3l4 2M1625 1171l-3 5M1617 1168l-3 4l3 7M1616 1161l7 2l6 1M1610 1162l-5 5l1 5M1601 1174l5-2l4 4M1605 1159l5-5l0-6M1595 1167l-2 7l5 5l-2 7M1580 1176l4-2M1573 1177l-7 2l-4-4l-6 2l-5-3M1549 1169l2 5l-3 4M1579 1178l6 1l3-5M1574 1181l-5 3l-6-4l-6-3l-4 3M1576 1187l4 4l6-2l4 5l4 3M1596 1202l-2-5l3-4M1571 1192l7-1l4 7l5 0M1565 1192l1 6M1564 1203l2-5l6 0M1559 1189l0-6M1562 1178l-3 5l-5 0M1552 1190l2-5l1-7l1-5M1539 1195l-6 0l-4 6M1539 1180l1-6l4-3l1-6M1550 1165l-5 0l-2-5M1533 1181l4 3l5-2l6 4M1550 1191l-2-5l3-4"/><path id="d35" d="M1577 1244l1 6l-5 6l2 7l7-2l-6-2l3-7l-7 3l0-6l-7 2l2-7l-5-5l7-3l-1-6l5-3l-5-3l6-5l-7 0l2-5l-2 6l-1-6l-7 2l1-7l-5 4l0-8l0-5l6 2l0-6l8-2l-3-7l7-1l-1-6l6 3l2-6l6-1l-4-5l6-2l7 3l-5-5l0-6l6-2l3-7l5-3l-1-7l8 2l-4-5l6-5l-6-4l6-3l6-6l-6-1l3-5M1578 1250l4 3l6-1M1591 1257l-3-5l3-5M1573 1256l-5-2l-6 3l-7-1l-5 4M1575 1263l-5 3l0 5l-5 4M1570 1271l-4-1M1572 1255l-1 6M1565 1251l-5 0l-3 7l-5 0M1548 1256l4 2l1 5M1562 1239l-6-4l-5-2l-5 2M1544 1231l2 4l-2 3M1569 1236l5 1l6 0l3 5l7 1M1568 1230l-7-3l-2-6M1560 1217l-1 4l-4 1M1568 1224l-4 3l-6-1M1574 1219l5-1l5-2l5-2M1591 1218l-2-4l3-3M1567 1219l-7 0l-3 5M1560 1219l-2-3M1569 1214l-2-5M1571 1207l-4 2l-5-3M1567 1220l1 5l-6 4l-4 3M1562 1229l-5-1M1559 1216l-5 4l-7-2l-6 4M1538 1218l3 4l-1 4M1555 1213l-5 3M1555 1200l-5-5l2-6l1-7M1556 1179l-3 3l-4-1M1566 1187l-4-5l3-7l-4-6M1565 1166l-4 3l-5-2M1572 1180l3-5l-4-5M1575 1175l4-1M1578 1183l5 5M1580 1177l-7 1l-4-6M1569 1167l0 5l-4 3M1586 1176l6 2l5-3l7-3M1597 1175l2 5M1582 1171l0-7l-6-4M1595 1172l6 1M1600 1177l1-4l4-1M1603 1142l3-7l-6-5M1611 1144l5 3M1607 1139l-6 2l-6-3M1593 1133l2 5l-3 4M1613 1134l6 1M1607 1130l-5 2l-5-3l-7 2l-6-4M1583 1123l1 4l-2 3M1613 1127l0 6l1 5l5 5M1616 1147l3-4l5 0"/><path id="d36" d="M1556 1173l4-4l2-6l-7-3l4-5l-6 0l2-6l-6 4l-2-7l-7 2l-1-8l-6 2l-2-6l-6 4l1-6l6-1l-6-3l8 1l-4-6l6 0l-3-5l-2-7l3 5l-4-4l6 0l5 3l8 2l7-1l0-5l5-5l-3-5l6-2l-5-4l-7 1l3-5l-1-8l-3-5l-5 2l0-6l-4 7M1560 1169l2 5l7 2M1562 1174l-2 3M1555 1160l-5 0l-3 6M1553 1155l-5 4l-5 4l-5 0M1549 1153l-1 7M1543 1159l5 1l2 5M1540 1148l-5 4l1 7l-1 6M1536 1159l-4-1M1533 1142l-5 4l-6 4l0 6l-5 3M1511 1159l6 0l3 5M1525 1140l-2 6l-1 6l0 5l-1 7M1516 1163l5 1l3 4M1532 1133l6-4M1534 1131l4 5l7 0M1538 1136l-1 4M1536 1125l5 2l5-2l5-3M1534 1118l6 3l4 5M1556 1118l5 6l4 4l-1 5M1561 1108l7-1l5 3l7-1M1558 1103l-4-3l-5 3M1546 1098l3 5l-3 5M1564 1101l4 4l5 0M1574 1109l-1-4l4-3M1555 1093l1 5M1555 1103l1-5l6-1M1546 1082l-2 5l-7 1M1546 1076l1-7l4-4M1555 1065l-4 0l-2-3"/><path id="d37" d="M1488 1254l7-1l-6 3l6 3l6 3l-5 1l3 4l-4 4l7 3l3 5l-6-1l6 4l-6 0l-6 4l5 3l-6 3l6-1l7 0l-2 6l6-3l-1 7l3 7l5-6l4 6l6-5l-4 5l6 0l-4 6l7-1l6 3l-5 6l-3 5l-1 8l0 7l7 1l-5 4l7-1l1 6l5-2l-3 6l7-2M1495 1253l6 0l4-4l6-1M1515 1250l-4-2l0-5M1495 1259l2 5l-2 6M1497 1264l-4 0M1496 1263l-6 1l-4-4M1484 1256l2 4l-3 3M1495 1271l-3-5l-6 0M1486 1261l0 5l-4 2M1502 1274l5-4l4-5l7 1M1521 1269l-3-3l0-5M1505 1279l6 0M1505 1282l5 5l4 4M1515 1295l-1-4l3-2M1493 1286l-5-2M1490 1279l-2 5l-4 1M1505 1291l0-7l0-7M1505 1284l5 2M1509 1294l3-5l3-6l6-1M1515 1283l4 3M1511 1308l2 6l-3 4l0 7M1505 1326l5-1l3 3M1520 1308l0 6l-5 4l1 7M1526 1303l4-6l6-1l5 0M1545 1298l-4-2l0-5M1522 1308l-6 4l-7-2M1506 1308l3 2l-1 4M1524 1314l-6 0l-6-1l-5 5l-6 0M1497 1315l4 3l-1 5M1531 1313l3-6l-3-4M1535 1300l-4 3l-5-3M1529 1327l-1-5l-7-1M1522 1316l-1 5l-5 1M1528 1342l-2 6l-3 5M1519 1356l4-3l4 2M1530 1347l1 6l1 6l1 7l-4 5M1537 1346l-2-5l2-5M1538 1352l0 7l-3 5l1 5l-4 4M1536 1369l-5 0M1540 1356l-6-1l-6-1l-5 6"/><path id="d38" d="M1437 1003l2 7l0 6l5-2l1 7l7-2l2 5l4-4l-3 4l6-4l-1 6l6-3l-2 6l5-4l5 1l-3 5l-1 7l6 3l-5 2l7 1l-3 6l4 3M1439 1016l-2 7l-6 1l-2 5M1454 1024l0 6l-5 3M1445 1032l4 1l2 3M1458 1020l1-6l2-7l6-2l2-5M1467 1005l5 2M1461 1020l4-4M1466 1023l6-4l0-7M1477 1013l-5-1l-2-4M1471 1031l-6-1l-4-4M1478 1044l4-5l6 0l3-4"/><path id="d39" d="M1602 1024l4-6l1 6l5-3l-2 5l0 7l7-3l-2 7l6-2l-5 6l6 3l-5 4l7 0l-6 2l6 4l-2 6l6 0l0 7l6 0l-4 4l0 6l-5 2l3 6l-6 3l4 5l-2 7l8 1l-1 6l7 0l-3 5l6-1l7 3l-2 6l6 4l-6-1l2 6l-7 2M1606 1018l0-6M1612 1021l3-5l7-2l3-5M1629 1010l-4-1l0-4M1610 1033l2 6l-4 4l-5 5M1615 1037l-3 5l-6 1l-3 6M1598 1047l5 2l0 5M1616 1041l-5 1l-4-5l-6 0M1617 1048l-6 3l-6-3M1624 1048l5-3l0-5l2-5M1636 1035l-5 0l-1-5M1624 1054l5-4l7 3l6-4l6 2M1651 1054l-3-3l2-5M1622 1060l0 5l0 5l-5 3M1612 1073l5 0l3 4M1630 1077l5 5l5-2l4 5M1628 1085l5 4l7 0l4 5M1645 1099l-1-5l4-3M1622 1088l-6-5l-6 0l-4-5M1610 1083l1-3M1626 1093l7 0l3-5l3-6M1643 1084l-4-2l0-5M1624 1100l-6 1l-2 6M1618 1101l-3-2M1635 1112l-8 1l-2 5l-7 1l-7 1M1607 1119l4 1l1 4M1648 1114l3-4l7-2M1662 1110l-4-2l0-4M1648 1129l5 3l6-1"/><path id="d40" d="M1240 1448l5-3l5 4l4 6l2-8l7-2l3-5l7 0l-2-7l7 3l0-8l7 3l7-2l5 5l6-4l1 6l4-4l2 6l6-2l1 6l4-4l6 3l0-7l-1-7l6 5l-2-7l4 4l0-7l7 3l2-7l-2 7l5 5l4-5l6 4l6 1l-4 5l2 5l-5 2l-5 4l3 6l-6 4l1 6l5 4l-6 0l6 4l-6 2l5 5l6-1l2 6l4-6l2 5l4-7l6 4l2-7l3 7l-1-7l3 5l3-6l4 6l5-3l3 5l8-2l-2 6l6 1l-1 7l1 6l2 6l5-2l0 7l1-7l4 5l4-5l4 5l2-6l6-2l5-5l-6-3l5-4l-7-5l-1-7l6 1l7-2l-5-2l7 2l5-2l-4-5l0-7l7 1l5-5l4 4l1-6l4 6l-5-3l0 6l-6-4l0 6l-4-4l-2 7l-8-2l-5 3l5 3l-7 0l4 4l-4 5l7 3l-4 6l6-2l-5 3l6 1l-2 7l1 8l7 3l-4 5l8 2l-4 4l4 4l-6-4l-3 5l-5-4l3 5l-8-1l0 6l-1-7l-6 0M1245 1445l1-6l-4-5l2-6M1256 1447l-3-5l-6-1M1253 1442l2-4M1266 1440l-3-6l2-4M1269 1428l-4 2l-4-3M1278 1428l0-7l4-4M1286 1416l-4 1l-4-3M1285 1431l0 6l-4 3l0 6l-5 4M1281 1446l-4-2M1297 1434l-5 3M1316 1436l4-4M1324 1431l-4 1l-3-3M1317 1442l-5 6l-3 4M1312 1448l-4 0M1327 1434l4-3l0-7M1330 1425l-1-6l0-5l-7-4M1324 1406l-2 4l-5 1M1334 1422l-3-4M1346 1430l0 5l6 4M1350 1425l5-5l6-3M1356 1429l-3 7l2 4M1351 1443l4-3l5 2M1362 1430l7 3l5-2M1355 1442l3-7l-3-6l4-6M1348 1462l-1 5M1353 1466l7-1l3 5l7-1l4 5M1374 1479l0-5l4-4M1347 1466l-4-3l-6 2M1353 1470l5-4l7 2l5 2l5-4M1347 1472l-6-1l-4 4l-6-1l-5-1M1322 1470l4 3l-1 5M1358 1476l-1-7l5-4l0-6M1360 1482l-1 6M1355 1492l4-4l5 1M1364 1476l3-5M1371 1469l-4 2l-4-3M1370 1474l0-5l-2-7l0-5M1378 1471l2-5l-3-6M1386 1470l-5-4l0-6l-5-4M1379 1452l-3 4l-4 0M1395 1473l5-4l-1-5l6-4M1410 1459l-5 1l-3-4M1410 1483l1-6l3-5M1410 1496l-4-5l-6 1l-5 1M1417 1500l5-4l-1-7M1418 1500l3-5M1426 1500l4-5l0-7M1434 1488l-4 0l-3-3M1442 1485l6-1l4 5l7-1M1460 1492l-1-4l3-3M1434 1473l-5-2l-2-6l-7-2l-1-5M1440 1474l-2 4l4 4M1447 1472l4 3l7-2l5 4l5-1M1469 1480l-1-4l3-4M1449 1472l2 6l7 3l5 2l2 5M1454 1470l5 4l0 6l4 3M1461 1487l2-4l4 0M1457 1459l4 7l-1 6M1466 1458l4 5l-1 7M1464 1473l5-3l5 2M1454 1466l5 5l-1 6l4 4l6 4M1464 1489l4-4l4 1M1446 1464l-5-1l-4-6l-6-1M1437 1457l2-5M1441 1467l-1-6l-4-2l-7-2l-1-8M1446 1470l1 5l6 4l1 7M1439 1470l-6-2l-5 3l-4-3M1443 1474l6 0M1442 1488l-4 3l-6-2l-4 3l-4 3M1443 1489l-4 4l-6-1l-5 5M1433 1492l-2-4M1447 1497l-4-4l-7 0M1435 1488l1 5l-4 4M1455 1508l5 4l6-4l7 3l6-1M1459 1515l4-5l7 1l3-4l7 3M1473 1507l3 5M1450 1524l5 2l1 6l4 2M1448 1525l6 0M1454 1530l0-5l4-2M1440 1524l-3-6l-5-1l-4-6M1428 1506l0 5l-5 2"/><path id="d41" d="M1242 1428l5-2l8 0l-2 6l7 2l0 7l2 5l7-2l4 6l2-7l1-7l3 5l3 7l0-6l0-6l4 5l2-7l3 6l4-5l6 3l7 3l-2-8l0-5l4 6l7 4l-2-6l6 3l1-7l6 4l3-5l0 7l5-2l0 6l5-4l-2 8l5-4l1 6l6 1l-4 3l1 7l8-1l-4 6l6 1l-3 4l-3 7l5-3l-5 5l-1 6l5-3l3 6l7 2l0 5l6-4l4 6l6 5l5-6l3-6l5 2l7-2l3 5l4-5l4 6l5-5l3 6l4-5l3 5l3-7l6 3l0-5l0-6l1-6l2 5l4-6l5 3l3-6l7-2l4-4l5 5l3 6l2 6l-6-1l-1 6l-2 7l-6-5l1 8l-1 6l-6 1l3 6l-7 0l3 4l-8-1l3 7l-7 3l5 4l-8 3l6 2l-4 5M1253 1432l-7-3l-4 4l-7-3l-6 4M1226 1430l3 4l-2 4M1260 1434l5-3l5 2l6-4M1260 1441l-6 1l-4 6l-6 0M1250 1448l-3-4M1269 1444l5-2l2-7l3-6l3-6M1286 1424l-4-1l-1-4M1275 1443l3-6l7 0l3-5M1292 1435l-4-3l0-4M1279 1441l-2-6l4-6M1282 1442l2 7M1291 1440l-3 7l4 4M1288 1447l-5 1M1301 1438l-7 2M1293 1436l1 4l-3 3M1315 1432l0-5l-5-5M1322 1428l0-5l-6-3l-1-6M1331 1427l-2-7l-1-6l3-5l-2-6M1334 1401l-5 2l-3-3M1344 1438l1-6M1351 1445l5-4l6 2M1365 1447l-3-4l2-4M1358 1461l6-3l7-3M1355 1465l-2-6l4-4M1353 1459l4 0M1351 1480l-1 6l-3 7M1343 1492l4 1l2 4M1359 1483l-3 5M1352 1486l4 2l0 5M1366 1485l4-6l3-5M1370 1479l4 4M1366 1490l0 7M1387 1491l6 4M1395 1500l-2-5l3-5M1405 1490l-2 6l2 4l-4 6l2 6M1409 1485l-2-6l5-6l-3-6l4-4M1413 1491l-5 3l-5 4l1 6l-5 3M1395 1508l4-1l3 4M1418 1486l4-3l0-5l4-3M1422 1478l4 1M1428 1492l5 3M1437 1483l-5 3l-7-2M1423 1481l2 3l-1 4M1437 1477l-5 2l-4-3l-7 2M1428 1476l0-6M1440 1476l0 7l-6 3l-1 7M1428 1492l5 1l2 4M1449 1473l-2 5l3 7l-4 4M1442 1491l4-2l3 3M1459 1465l2 6M1468 1466l3-4l7 2l5-5M1486 1463l-3-4l1-4M1467 1477l-5-3l-2-6l-5-3l-1-6M1466 1483l7 0M1464 1490l4 3M1448 1506l-3-6l-3-5M1451 1510l4 5M1455 1519l0-4l3-2M1446 1516l5 1l3 6l6 1M1460 1528l0-4l4-2M1439 1519l-5-4M1432 1510l2 5l-3 4M1436 1526l-5-1l-6 4l-7-2M1415 1524l3 3l-1 4M1442 1528l5-4l5 1"/><path id="d42" d="M1493 909l-3 7l-3-6l-6 2l-1-5l-1-7l1-6l2-7l4 4l-2-6l7 3l1-6l0 6l5-5l2 7l5-4l1 5l6-4l-1 7l5-4l-2 6l-1 6l5-5l-1 6l7-1l5 2l-1 6l6-3l-1 6l8-2l5 5l-5-1l5 4l-7 4l3 7l-5-5l-1 7l-1-5l-6-5l0 7l-6-1l-4 6l-4-6l-2 7M1490 916l2 5l6 3l2 5l4 2M1500 929l-3 3M1481 912l-3 6M1473 916l5 2l1 6M1479 900l-5 5l-5 0M1482 887l-3-6l2-5l1-5M1487 868l-5 3l-4-2M1497 883l4-6l3-4M1501 877l5 1M1504 886l-1-5l4-6l-2-7M1510 866l-5 2l-5-3M1510 894l-2 5l-7 1M1495 898l6 2l1 5M1515 890l5-3l0-6l5-5M1529 876l-4 0l-3-3M1516 903l-6-1M1527 910l-3 4l-7 0l-6 0M1533 907l7 0l5-6l5 0M1554 904l-4-3l1-4M1540 911l6-3l0-6M1538 923l-7 0l-6-1M1526 917l-1 5l-4 3M1536 925l-5-5l3-6l3-5M1540 906l-3 3l-4-2M1534 927l7-3M1543 929l-2-5l3-5M1528 922l2-6l-4-6l1-6l-4-3M1518 934l2 5l-3 5l1 5M1517 944l-5 1"/><path id="d43" d="M1502 897l-6 5l-2-7l-8 1l-3-6l-4 4l-5-5l3 6l-8-2l3 6l5 3l-2 6l7 2l0 7l6 3l5 4l-7-2l0 8l-6-3l-3 7l-1-8l-3 7l-3-6l-1 6l-3-5l-7 4l-3-6l-2 5M1479 894l-5 4l-1 7M1468 905l5 0l2 4M1477 895l6 0l4 5M1483 895l-1 5M1475 908l-3 5l-6 0M1472 913l-3-3M1493 924l5 4l7-2M1498 928l-1 6M1480 927l-2-7l-5-2l-1-6M1475 907l-3 5l-5 1M1477 934l-4 5l4 6M1476 926l3-6M1473 933l4 3l-1 7M1470 927l-4-4l2-7M1471 913l-3 3l-5-1M1469 933l7 3l0 5l7 3"/><path id="d44" d="M1550 909l-7 2l4-5l-6 1l0-7l3-5l6-1l-5-4l-5-5l5-5l-5-5l5 4l7-3l1-7l7 1l6 0l4 6l4 5l6-2l4 5l2-5l6-2l-5-4l4-6l-4-6l6 2l2-6l-6-2l5-4l6-3l-4-5l5-2l-5-4l8 0l0-7l6-1l-3-5l5-3l-2-6l5 3l7-2l-5 4l-3 5l3 5l6 1l0 5l7 1l0 6l5 5l-6 4l5 3l0 6l7 0l1-6l5-5l4-3l6-1l-1 7l4-4l5 5l3-6l6 4l3-7l5 3l6 4l5 3l-3-6l-4 5l7 0l-5 3l7 0l-3 5l7-1l-3 6l5 5l-3 7l-1 6l7-2l3 6l-1-6l3 6l5-4l6-4l4 4l2-6l6-1l-1-6l6 3l-2-7l7-1l6 1l-4-6l7 3l-2-6l7-1l5 3l6 1l5 4l-6 3l6 4l6 6l-3 6l6 2l-3 5M1547 906l3-4l6 0l6-1M1566 904l-4-3l1-4M1541 907l-6 3l-6-5M1535 910l-1-5M1550 894l8-1l5 5l6 0M1570 902l-1-4l4-3M1545 890l4 5l4 4l6 0M1540 885l-5-2l-1-6M1545 879l0 8l5 4l0 6M1566 870l-7-3l-5-2l-1-5l-6-3M1570 876l6 2l2 7M1574 881l-2 6l4 5l-2 5l4 4M1574 905l4-4l6 2M1580 879l4-5l-1-6M1588 867l-5 1l-3-4M1584 884l-2 6l-3 5l3 6l-2 4M1591 867l5-2M1598 870l-2-5l4-4M1587 861l-6 4l-5-3l-6-3M1600 848l4-4l6 0l4-3M1601 841l4 4l7 0l6 0l3 4M1622 853l-1-4l4-2M1596 837l-6 0l-4-3l-6 1l-4-5M1580 835l0-5M1604 837l-1 7l0 6l5 5M1606 858l2-3l4 0M1610 829l5 3l1 7l5 2l6 4M1624 850l3-5l6-1M1607 824l-4-6l-7 1l-5 0M1591 815l0 4l-4 3M1612 821l5-5l6 1M1617 816l3 5M1610 815l4-5l-2-5M1622 816l3-5l6 0M1635 813l-4-2l0-5M1617 820l-4-4l-6 1M1617 830l-5 5M1630 837l6 1l5-4M1636 838l2 4M1629 852l-5 3l-7-3l-6 5l-5 3M1634 861l-6-2l-5-3l-6-2l-5 3M1609 852l3 5l-3 5M1642 855l-4-5l-7 2l-7 1l-5-4M1618 845l1 4l-3 3M1656 853l-6 5l0 7l0 6M1644 871l6 0l3 5M1660 849l3-6l-3-5l2-6M1665 854l2 6l6 2l1 5M1673 871l1-4l4-1M1668 848l4-5l-1-6l4-5M1677 845l-2-5l4-5l4-5M1687 828l-4 2l-3-3M1682 848l-7-1l-3-5l-6-2M1666 835l0 5l-5 2M1686 854l-3 4l-7-2l-4 4M1669 857l3 3l-1 4M1688 857l2 7l-4 3M1690 864l-5-1M1695 857l1-7M1701 851l-5-1l-2-4M1692 862l-4 4M1683 867l5-1l4 4M1696 867l-7 1M1698 879l-6-1M1689 875l3 3l-1 4M1697 885l-4 4l1 5l2 6M1704 883l1-5M1709 878l-4 0l-2-4M1707 889l5 5M1706 883l-1-6l3-5M1709 889l1 7l-4 4M1710 896l-4-1M1724 885l-2 5l3 4M1732 878l3 6l7 1l2 6M1743 896l1-5l5-2M1731 872l-1-5l-6-4l-2-6l-1-5M1737 875l2 6l6 1l1 5l6 2M1746 887l-2 4M1748 868l6 1l5 2l3 5l6 1M1766 882l2-5l4-1M1744 862l-5-3M1742 856l-3 3l-4-1M1761 861l-2 7l-2 7l-7 1l-1 7M1775 885l-2 5l-5 2M1764 890l4 2l1 4"/><path id="d45" d="M1525 896l-1-7l7 4l4-7l1 6l3-8l7-3l4 6l7 1l1 6l6-3l5-3l6 2l-5-3l5-2l-4-4l4-6l-6-2l6-4l-6-4l-3-5l6-3l-6-1l5-3l-5-5l5-5l3-7l3 5l4 4l4-5l6 5l3-5l3 5l6 3l2 6l1-6l4 6l2-6l6 0l0-6l6 3l3-6l7 3l3-6l5-3l3 5l5-1l7-2l3 7l7-3l0 6l6-2l-4 6l6-4l-1 7l6 3l0 5l7-1l-3 7l6-1l-6 4l6 1l-4 7l7 1l5 6l0-6l7 2l-7-4l7 4l-2-6l7 2l-4-6l7 2l7-3l-5-4l8 1l5-2l-5-5l5 4l-2-7l5 4l5 3l-4 6l2 7l6-3l1 7l6-1l6 3l4 6l0-8l5 6l4-6l6 2l7 1l7-2M1524 889l-3-5l-6-1M1514 878l1 5l-5 3M1536 892l0 6l-4 5l1 6M1532 903l-5-1M1558 894l-5 2l-5 5M1544 902l4-1l3 3M1569 888l3-5l-4-6M1572 874l-4 3l-4-2M1571 881l-5 2l-5-4l-6 2M1569 873l-7 1l-4 5l-5 1M1569 865l-1 6l-6 4M1558 875l4 0l2 5M1572 857l4-4l6 2l7 2M1566 856l-3 6l-6 1l-4 6M1549 867l4 2l1 5M1571 843l2 5l-2 5M1573 848l-6 0M1577 841l-5 3l0 6l-4 3l1 6M1568 853l-4-1M1585 840l5-3M1591 845l6 4l-1 7M1594 859l2-3l5 0M1594 840l-3-5l4-6M1603 848l4-4l3-6l6-1M1621 840l-5-3l0-5M1606 848l-4-5l2-6l-3-4M1612 848l-2-6l-6-3l-2-5l-2-6M1601 823l-1 5l-5 1M1650 837l-6 2l-5-3l-7 1l-5-3M1625 829l2 5l-3 4M1673 843l8 0l3-4M1675 845l4-5l-2-6l-2-7M1680 855l5-1M1687 859l2-6l5-3l0-5M1690 865l4-6M1699 861l-5-2l-1-6M1686 877l-5 4l-6 3l-5-1l-5 3M1663 883l2 3l-1 4M1698 878l-1-5l-2-5l-5-3M1695 868l3-4M1705 880l6 2l3 7M1713 894l1-5l5-2M1698 876l-1-5M1703 874l1-6l-4-4l2-7M1706 870l-6 1l-5-4M1713 872l-1 6l4 4M1713 886l3-4l6 0M1720 869l6 1l4 5M1730 880l0-5l4-3M1715 865l-4-4l-6-1l-5-5M1700 850l0 5l-4 3M1723 859l-6-4M1734 876l-5 3l-5 3M1719 881l5 1l2 4M1740 873l-2-7l3-5M1757 880l-3-4l2-7M1779 883l-1 5l-2 6l-6 2M1764 894l6 2l2 5"/><path id="d46" d="M1721 864l2 5l-7-1l8 1l-7 0l6 1l-4 5l7-1l-1 8l5 3l-1 7l6 0l-3 7l7-3l7-1l-3-5l6 0l-4-6l6 0l-1-6l7-1M1723 869l4 5l6 1M1727 874l-2 5M1724 869l6 4l6-3l5 4M1743 878l-2-4l3-4M1723 870l3-5l7 0M1726 865l3 4M1719 875l-2 6l-5 3l-1 5M1706 889l5 0l2 5M1726 874l-1-5M1730 885l5-6l5 2l5-5M1749 880l-4-4l1-6M1729 892l-5 4l-4 3M1735 892l5-1l3-4l6 0M1739 896l-3-5l-1-6M1736 881l-1 4l-5 2M1746 895l7-1l2 5M1743 890l-3-6l-2-5l-8-1M1731 873l-1 5l-4 2M1750 878l-7-1l-2-7M1742 866l-1 4l-4 2"/><path id="d47" d="M1721 864l7-1l-5 3l6 2l-5 4l6 5l-5 5l3-5l1 5l5-5l7 1l-3-6l-2-7l6 1l-2-8M1728 863l4-6l6-1l4-6M1723 866l-4-4l-5 0M1729 868l6-2l1-6l6-2l6-2M1753 857l-5-1l-2-5M1724 872l-4-3M1718 865l2 4l-3 3M1730 877l5 2l5-3l6 3M1740 876l1 4M1728 877l2-6l-4-5l2-6M1738 872l-3 4l-7 1M1724 875l4 2l0 4M1742 866l6 1l4 6M1752 877l0-4l3-2"/><path id="d48" d="M1806 1030l6 2l-2-6l6 0l-3-5l7-2l-4-7l7 1l-4-3l6-1l-2-7l7 0l-2-7l7-2l-4-5l6 2l-3-6l5 2l-1-7l6 3l1-6l5 3l4 4l-2-7l5 6l4-4l7 2l-1-6l5 4l8 0l5-5l-4-6l4 3l2-8l1 6l6-1l-2 7l4-4l-1 6l2 6l7-4l4 3l7-2l5-6l6-3l-3 6l7-3l1 7l8 0l-3 5l6 2l-5 6l7-2l-2 7l6-1l-1 7M1813 1021l-3-6M1820 1019l4 5l5 0M1816 1012l-3-5l-6-1M1806 1001l1 5l-5 3M1835 993l5 0l3 4M1837 990l3 4l7 0l6-1M1853 998l0-5l3-3M1839 986l0 7l6 3M1844 982l-3 6l4 5l-2 5M1840 1000l3-2l4 1M1845 976l4-5l-4-7l3-5l-3-6M1848 951l-3 2l-4-2M1850 979l-3-6l-3-6M1857 982l5 2l2 6M1862 995l2-5l5 0M1861 978l1-7l-3-4l1-5M1864 958l-4 4l-5-2M1868 980l6 2l1 6M1874 993l1-5l5-1M1867 974l-7-2l-5-2M1880 978l1 7l6 2M1886 991l1-4l5-1M1887 962l3-6l-2-6l-2-7M1888 968l-4 6l1 7l-3 4l0 6M1878 992l4-1l3 3M1894 967l5-5l3-6l6-1l3-6M1896 970l6-1l5-1M1902 969l3 3M1908 981l-2 5l-3 4M1899 992l4-2l3 2M1915 979l-2 6l4 5l-1 6M1920 973l4-5M1929 966l-5 2l-3-4M1923 976l0 6l-5 4M1931 980l-1 8l-5 2l0 6l-5 2M1914 997l6 1l2 5M1936 985l-2 6M1937 993l0 5l1 5M1933 1003l5 0l2 4M1942 998l-6 3l0 8l-6 4l-6 4M1919 1017l5 0l3 4"/><path id="d49" d="M1800 1027l0-7l5 4l1-6l7 0l-2-8l8 1l-2-7l7-1l2-5l6 1l3-6l7 2l-1-6l7 0l-2-6l5 2l-4-5l5 2l-2-8l7 2l-2-7l4 5l-1-5l4-7l4 6l2-7l6 5l3 6l3 6l2-8l5 4l6 5l6-4l1 6l3-7l5 4l5-3l2 5l4-4l3-5l0 5l7-1l1 8l6-2l3 5l-2 5l5 3l-2 5l0 6l4 5M1800 1020l-7-2l-3-6l-5-2M1813 1018l2 5l2 5M1811 1010l-2-6l-5-2l-5-3M1824 1003l4 4M1826 998l-5-4l0-6l-4-4M1820 980l-3 4l-5-1M1835 993l-6-2l-3-6l-3-4l-6-1M1818 975l-1 5l-5 2M1841 989l-5-4l-1-5l-5-2M1832 974l-2 4l-5 1M1846 983l2-5l-4-4M1848 978l3-2M1851 985l8 0l5 4l5-1M1870 993l-1-5l4-3M1847 980l0-7l-5-3l-1-5l-5-3M1850 974l-5-4l1-7l-4-4l0-7M1842 959l4-3M1858 969l-5 1l-1 5M1847 973l5 2l1 5M1866 968l5 6l-1 7M1868 961l-4-5M1874 966l5 0l4-6l6 0l7 0M1889 960l4 5M1880 978l4 6l5 5l0 6l-1 5M1884 1004l4-4l5 1M1882 970l-2-7l-3-5l-5-1M1873 952l-1 5l-5 1M1887 974l4-6l-2-5M1893 960l-4 3l-5-3M1903 974l-1-6M1906 967l-4 1l-2-3M1913 975l3-7l-3-5l-1-6M1915 956l-3 1l-4-2M1915 980l-4 4l0 6l-4 4M1902 995l5-1l4 4M1919 976l-1 6l6 5M1918 982l-3 3M1922 976l-1 6l-5 4M1939 986l3 5l7 1l3 6l6 0M1942 994l6 2"/><path id="d50" d="M1934 988l-1 7l-5-4l5 6l5 5l-4 6l5 6l-5-3l5 5l-5-2l1 7l-7 3l2 5l-3 6l6-2l0 6l5 3l-6 5l2 7l-3 6l7 3l-2 7l7-3l5 6l5-2l0 7l7 1l-3 6l6-1l7 3l-6 2l5 3l-1 7l0 8l3-6l5-5l0 8l7-2l0 8l-4 5l7 1l1 6l-4 6l7 1l1 7l6-3l-1 7M1933 995l5 2l4 4l0 7l6 3M1946 1016l2-5l6 0M1933 997l-3 5M1926 1000l4 2l0 4M1934 1008l-5-1l-6 3M1920 1005l3 5l-2 5M1939 1014l5 4l7-3l6 3M1934 1011l-1-6l-5-3l-2-5l-7-4M1921 988l-2 5l-5 1M1934 1014l-2-6l-1-7l-1-8l-5-1M1928 1024l-5 2l-5-5l-5 2M1927 1035l-1 6l-6 3l-2 5M1932 1047l-3-5l-6 1M1923 1038l0 5l-3 3M1934 1054l5 4l5-1M1946 1062l-2-5l4-3M1938 1063l7 1l4-6M1948 1073l1 6l-5 6l2 5M1944 1085l-4 0M1953 1071l4-4l5 2l7 1M1962 1069l2 3M1970 1087l5 0l3-5M1969 1092l5-3l0-7l1-6M1979 1076l-4 0l-2-4M1968 1099l-7 1l-7 0l-4-6M1971 1101l-6-2l-2-6M1976 1096l5 0l3-7M1990 1091l-6-2l-1-5M1983 1102l4-6l-1-5M1991 1089l-5 2l-4-4M1979 1115l-3 7l-2 6l-5 2M1963 1128l6 2l1 6M1990 1129l-2-5l3-5l-2-5l3-5M1989 1114l6-1M1997 1133l6 0l6-1l3-5"/><path id="d51" d="M1929 987l4 4l1 6l-2 5l-5 0l6 4l3 5l-3 6l6 4l-3 6l6 2l3 7l-6 0l-5 2l0 6l-4 4l3 6l-7 3l6 1l-3 6l6 0l-2 6l6-2l-2 7l2-5l2 7l5-5l0 7l3-5l3 6l7-5l-2 6l7-3l-1 7l5-2l0 6l-3 5l6-3l1 6l5 2l-2 5l-5 5l5 2l-3 7l7-1l2 6l6 1l0 7l0 6l7-1l0 6M1933 991l6 1l6 2M1948 998l-3-4l1-5M1932 1002l6 2l2 6l5 1M1933 1017l-5 3l-5-2M1936 1027l-7-2l-4 4l-4 4l-7-3M1945 1036l5 5l6 0l2 5l6 0M1939 1036l-5-2l-7-3l-1-7l-6-3M1921 1017l-1 4l-4 1M1934 1038l-3-6l-7-1l-2-7M1930 1048l-6-2l-5 4l-5-2M1933 1054l3 5l5-1l4 4l6 0M1933 1070l-1 5l-6 2l-1 7M1937 1075l1 6M1946 1079l1 6l-3 3M1938 1089l6-1l3 5M1959 1075l-1-6l5-4l-1-6M1967 1058l-5 1l-3-3M1957 1081l-6 0l-4 6l-6 0M1938 1085l3 2l1 4M1963 1085l-7-2M1968 1083l-2-7l3-5M1968 1089l5-4l6 1M1977 1099l2-5l7-2l6-2M1986 1092l3 2M1970 1109l-5 6l-6-2l-5 5M1950 1114l4 4l-2 5M1972 1118l0 7M1981 1123l-5 5M1987 1131l0 7l4 5M1994 1136l4-6"/><path id="d52" d="M1730 1372l5-2l2 7l4-5l8 0l7 1l-1-6l7 3l-4-5l6-1l1-6l6 3l0-6l6 3l1-5l3 6l4-5l6-4l2 7l3 7l5-5l5 5l3-6l7 2l-4-7l5 5l6-3l-4-6l7 2l1-6l4 4l-1-6l4 5l-2-6l6 2M1735 1370l0-7l4-4l6-5M1741 1372l-2-5l2-6M1755 1367l2-5l1-5M1757 1362l4-1M1762 1370l1 6l5 4l2 7M1767 1392l3-5l5-1M1764 1364l4 4l5 5l-1 7M1777 1358l2 6M1781 1359l1 7M1791 1350l6-2l1-7M1802 1341l-4 0l-2-3M1796 1364l-2 6l4 6l-2 6M1792 1385l4-3l5 2M1806 1364l1 6l2 5l-5 5M1809 1358l1-6l3-5M1810 1352l4-1M1816 1360l6-1l6 0l3 5l4 5M1817 1358l-3 4l3 5M1814 1362l-5 1M1819 1349l-7-2M1809 1344l3 3l-1 5M1832 1342l-1-5l-5-3l-1-5"/><path id="d53" d="M1732 1374l6 5l0-8l5 5l-2-6l6 3l1-7l5 1l2-6l4-4l0 5l3-6l1 6l3-6l2 6l2-7l4 4l5-6l2 7l0-5l1 6l7 3l5 2l2-7l4 5l4-4l7 1l-1-6l6 3l1-7l6 4l2-7l6 2l6-3l0-6M1738 1379l5 4l0 5l5 3M1743 1376l4 3M1741 1370l0-7l-5-4M1748 1366l-5-5M1745 1358l-2 3l-4 0M1753 1367l5 4l-1 5M1754 1381l3-5l6 1M1755 1361l-7 3l-6 2l-4-4M1736 1357l2 5l-3 4M1759 1357l5-6l-3-6M1766 1343l-5 2l-4-3M1766 1356l-1-7l1-6M1765 1349l5 1M1774 1359l-4 3M1766 1362l4 0l2 3M1781 1360l4 6l-1 6M1785 1366l-5 2M1781 1355l-3-5l2-5l-4-6M1781 1335l-5 4l-5-3M1804 1360l-6-4l0-6l-5-5M1796 1341l-3 4l-4-1M1825 1348l-5-5l0-6M1824 1333l-4 4l-5-1M1837 1347l5-3l6-1l7-3M1857 1346l-2-6l3-4"/><path id="d54" d="M1884 1434l4-5l-5-2l-3-7l-5 5l-4 4l-7-3l-4 6l-6 0l-3-5l7-1l-2-6l7 0l-3-6l6-3l-6-3l6 2l7-2l-4-4l5-3l4-5l-5-3l0-6l-2-6l6 3l1-6l5-6M1888 1429l5-2l2-6l5-1M1906 1421l-6-1l-1-5M1880 1420l2-6l5-2M1892 1413l-5-1l-1-4M1871 1429l3 5l-2 6M1867 1444l5-4l5 2M1851 1427l-5-2l-3-5M1844 1415l-1 5l-5 3M1856 1420l-1-5l-7-3M1860 1408l-1-5M1873 1408l7 2M1871 1381l-1-6l-6-3l-1-7M1878 1378l-2-6l-6-1M1871 1365l-1 6l-6 2"/><path id="d55" d="M1831 1377l7 1l0-6l1-7l7 4l2-5l-1 7l7-1l7 0l-7 4l7 1l-5 3l-2 5l5-1l8 1l-3-6l8-2l4-6l-6-4l-6 0l3 6l-7 1l5 4l-6 1l5 5l-8 0l1 7l-7 0l1 7l-5-2l-2 6l-8 2l5 4l-6 3l1 6l0 7M1838 1378l7 0l3 6l7 0l4 6M1859 1395l0-5l5-3M1838 1372l-4 4l1 7l-4 3M1835 1383l-5-1M1846 1369l-1 5l4 5l-1 6M1848 1364l0-6l4-3l-1-6l6-4M1854 1370l3-4l6 0l3-4M1861 1370l5-5l7 0l5-5M1856 1378l-7 2l-5-4l-5 3M1844 1376l0-4M1859 1382l-5-1l-5-2M1864 1377l-4 4l-6-2l-4 4M1854 1379l-2-4M1872 1375l3 4l4 5l-1 5M1870 1365l-3-5l3-6l-3-5l4-5M1875 1342l-4 2l-4-2M1864 1365l-5-4l-7 0l-3-4M1859 1377l-5 0l-4-4l-4-5M1846 1363l0 5l-4 2M1851 1396l7 2l2 5l7 3M1865 1410l2-4l4-1M1846 1394l0-7l-3-4M1846 1379l-3 4l-6-1M1844 1400l2 6l5 1l2 5M1853 1417l0-5l5-1M1836 1402l-6 0l-6 0l-3 4M1817 1404l4 2l-1 5M1835 1409l-7-1l-4-5l-4-5M1820 1393l0 5l-4 2"/><path id="d56" d="M1861 1366l-4 6l-8 1l-6-2l3 5l-6-1l3 5l-3 8l-6 3l6-2l-5 5l8 2l-1 5l6-2l-4 4l6 3l-1 6l6-5l2 6l2-7l0 7l5-5l5-3l6 3l-2-7l5-4l3 6l5-4l7-2l-3 6l7 0l-3 6l6-2l-6 3l6-3l-1 6l4-4l3 7l5-3l6-2l-2 7M1857 1372l-1 6l4 5M1857 1387l3-4l4 1M1843 1371l-2-5l2-7M1847 1357l-4 2l-4-2M1840 1375l-4-5l-5-1M1840 1389l5 4l6-4l5 4M1859 1398l-3-5l3-5M1843 1396l4-6l6-1l3-6M1842 1401l-5 2l-5 2M1848 1399l5-4l6-3l0-6l6-4M1869 1383l-4-1l-2-4M1850 1406l4-5l6 0l4-4l6 1M1864 1408l-4-5l3-6M1867 1393l-4 4l-5-3M1875 1408l1 6l6 1M1878 1397l3-5l3-5l-3-5M1881 1403l-3 4l-5 1l-6 2l-7 3M1886 1399l0-6M1888 1387l-2 6l-6 1M1893 1397l7 0l6-1M1910 1399l-4-3l0-6M1894 1409l-5 2l-2 7l-5 2M1877 1419l5 1l2 6M1900 1407l5 0l4-4l7 0M1921 1407l-5-4l1-5M1894 1410l-6 3M1906 1416l-4 4l2 6l-3 5"/><path id="d57" d="M1888 1375l3 4l-7 4l5 4l-7 1l3 6l-5-1l0 7l-6 1l2 7l-5-4l-4 3l-1-5l-6-3l-1 6l-6-4l-7 0l-6-5l0 7l-4-6l-6 3l6-4l7 0l-3-7l7-1l-2-6l7-1l6-4l-4-7l7-3l-4-4l7-3l-7-4l6-2M1891 1379l3 6l5 5l4 5l6 1M1909 1401l0-5l3-2M1889 1387l5 3l6-1M1902 1394l-2-5l4-4M1880 1400l-2 6l3 7M1876 1408l2 6M1875 1418l3-4l5-1M1867 1407l2 7l-3 5l1 6l-5 5M1858 1431l4-1l4 3M1853 1401l-5-5l-3-4M1850 1388l-5 4l-5-3M1840 1396l0-5l1-5l-4-4M1836 1397l3-4M1830 1400l-2 6l-2 6l-5 2M1816 1413l5 1l2 5M1843 1396l7 0l3 7l6 2M1840 1389l-5-3M1858 1377l7 2l5-4l7-3l6 2M1886 1378l-3-4l3-5M1864 1360l6 1l8 1M1877 1368l1-6l5-2"/><path id="d58" d="M1869 1369l7 0l7-2l0 7l-2-5l-2 5l-5 0l-6-3l4 6l-7 0l2 7l-7-2l-4 6l-4-3l-2 6l-5-5l-4 6l-3-6l-3 7l-3 5l-8-2M1883 1367l6-3l1-7l5-2M1883 1374l-3 7l-2 6l3 4M1860 1382l-2-5l3-4l-3-6M1856 1388l0 5M1852 1385l-2-6l-6-1M1845 1372l-1 6l-6 1M1845 1386l0-7l4-4M1838 1386l0-5l-7-3l-4-3l-6-3M1824 1367l-3 5l-5 0M1832 1398l-2 6l6 5l0 5M1833 1417l3-3l4 1"/><path id="d59" d="M1869 1386l4-7l7 2l4-4l4-4l-2 5l6-1l8 0l-7 3l7 0l6 4l-5 4l6 2l-2 6l-5 5l0 8l6 3l1 6l3-5l4 5l6-4l0 7l3-5l4 4M1873 1379l-3-5l-5-1M1865 1367l0 6l-5 2M1886 1378l-5 3l-4 3M1873 1380l4 4l-2 5M1900 1377l6-2l5-2M1917 1374l-6-1l-1-5M1906 1384l4-6l5 1l6-5M1925 1377l-4-3l1-6M1901 1388l-4 4l-6 1M1905 1396l4 4l7-2l6-1l4 5M1927 1406l-1-4l3-3M1906 1412l3-5l5-5M1918 1406l-4-4l0-5M1907 1418l0 5l-6 4l1 7M1920 1421l-5 2l-1 7M1915 1423l-5-2"/></defs><g fill="none" stroke-linecap="round" stroke-linejoin="round"><use href="#d0" stroke="#112656" stroke-width="2.5"/><use href="#d0" stroke="#2757c7" stroke-width="1.3"/><use href="#d1" stroke="#112457" stroke-width="2.5"/><use href="#d1" stroke="#2853c9" stroke-width="1.3"/><use href="#d2" stroke="#112657" stroke-width="2.5"/><use href="#d2" stroke="#2757c7" stroke-width="1.3"/><use href="#d3" stroke="#112457" stroke-width="2.5"/><use href="#d3" stroke="#2853c9" stroke-width="1.3"/><use href="#d4" stroke="#122458" stroke-width="2.5"/><use href="#d4" stroke="#2853c9" stroke-width="1.3"/><use href="#d5" stroke="#0e3051" stroke-width="2.5"/><use href="#d5" stroke="#216fba" stroke-width="1.3"/><use href="#d6" stroke="#102955" stroke-width="2.5"/><use href="#d6" stroke="#265dc4" stroke-width="1.3"/><use href="#d7" stroke="#112856" stroke-width="2.5"/><use href="#d7" stroke="#265cc5" stroke-width="1.3"/><use href="#d8" stroke="#112756" stroke-width="2.5"/><use href="#d8" stroke="#265ac5" stroke-width="1.3"/><use href="#d9" stroke="#0d364e" stroke-width="2.5"/><use href="#d9" stroke="#1d7db3" stroke-width="1.3"/><use href="#d10" stroke="#0d354f" stroke-width="2.5"/><use href="#d10" stroke="#1e79b5" stroke-width="1.3"/><use href="#d11" stroke="#0d344f" stroke-width="2.5"/><use href="#d11" stroke="#1f77b6" stroke-width="1.3"/><use href="#d12" stroke="#102855" stroke-width="2.5"/><use href="#d12" stroke="#265cc4" stroke-width="1.3"/><use href="#d13" stroke="#122458" stroke-width="2.5"/><use href="#d13" stroke="#2853c9" stroke-width="1.3"/><use href="#d14" stroke="#102a54" stroke-width="2.5"/><use href="#d14" stroke="#2461c2" stroke-width="1.3"/><use href="#d15" stroke="#112756" stroke-width="2.5"/><use href="#d15" stroke="#2759c6" stroke-width="1.3"/><use href="#d16" stroke="#112756" stroke-width="2.5"/><use href="#d16" stroke="#265ac6" stroke-width="1.3"/><use href="#d17" stroke="#09453a" stroke-width="2.5"/><use href="#d17" stroke="#14a084" stroke-width="1.3"/><use href="#d18" stroke="#094737" stroke-width="2.5"/><use href="#d18" stroke="#14a380" stroke-width="1.3"/><use href="#d19" stroke="#0b3d44" stroke-width="2.5"/><use href="#d19" stroke="#198d9d" stroke-width="1.3"/><use href="#d20" stroke="#0a3f43" stroke-width="2.5"/><use href="#d20" stroke="#18909a" stroke-width="1.3"/><use href="#d21" stroke="#084b33" stroke-width="2.5"/><use href="#d21" stroke="#13ab75" stroke-width="1.3"/><use href="#d22" stroke="#084935" stroke-width="2.5"/><use href="#d22" stroke="#13a77a" stroke-width="1.3"/><use href="#d23" stroke="#0c394b" stroke-width="2.5"/><use href="#d23" stroke="#1c82ad" stroke-width="1.3"/><use href="#d24" stroke="#0b3c47" stroke-width="2.5"/><use href="#d24" stroke="#1a89a4" stroke-width="1.3"/><use href="#d25" stroke="#0b3c46" stroke-width="2.5"/><use href="#d25" stroke="#198ba1" stroke-width="1.3"/><use href="#d26" stroke="#084836" stroke-width="2.5"/><use href="#d26" stroke="#13a77b" stroke-width="1.3"/><use href="#d27" stroke="#084b33" stroke-width="2.5"/><use href="#d27" stroke="#13ac74" stroke-width="1.3"/><use href="#d28" stroke="#085524" stroke-width="2.5"/><use href="#d28" stroke="#13c352" stroke-width="1.3"/><use href="#d29" stroke="#075526" stroke-width="2.5"/><use href="#d29" stroke="#10c357" stroke-width="1.3"/><use href="#d30" stroke="#075525" stroke-width="2.5"/><use href="#d30" stroke="#10c356" stroke-width="1.3"/><use href="#d31" stroke="#095523" stroke-width="2.5"/><use href="#d31" stroke="#14c350" stroke-width="1.3"/><use href="#d32" stroke="#095523" stroke-width="2.5"/><use href="#d32" stroke="#14c350" stroke-width="1.3"/><use href="#d33" stroke="#095523" stroke-width="2.5"/><use href="#d33" stroke="#14c350" stroke-width="1.3"/><use href="#d34" stroke="#0b551f" stroke-width="2.5"/><use href="#d34" stroke="#19c348" stroke-width="1.3"/><use href="#d35" stroke="#095522" stroke-width="2.5"/><use href="#d35" stroke="#16c34e" stroke-width="1.3"/><use href="#d36" stroke="#095522" stroke-width="2.5"/><use href="#d36" stroke="#16c34e" stroke-width="1.3"/><use href="#d37" stroke="#085524" stroke-width="2.5"/><use href="#d37" stroke="#12c353" stroke-width="1.3"/><use href="#d38" stroke="#075427" stroke-width="2.5"/><use href="#d38" stroke="#10c259" stroke-width="1.3"/><use href="#d39" stroke="#0b551f" stroke-width="2.5"/><use href="#d39" stroke="#1ac346" stroke-width="1.3"/><use href="#d40" stroke="#084c31" stroke-width="2.5"/><use href="#d40" stroke="#12af71" stroke-width="1.3"/><use href="#d41" stroke="#084a33" stroke-width="2.5"/><use href="#d41" stroke="#13ab76" stroke-width="1.3"/><use href="#d42" stroke="#0b5520" stroke-width="2.5"/><use href="#d42" stroke="#18c349" stroke-width="1.3"/><use href="#d43" stroke="#075525" stroke-width="2.5"/><use href="#d43" stroke="#11c355" stroke-width="1.3"/><use href="#d44" stroke="#2a4715" stroke-width="2.5"/><use href="#d44" stroke="#62a430" stroke-width="1.3"/><use href="#d45" stroke="#284915" stroke-width="2.5"/><use href="#d45" stroke="#5ca731" stroke-width="1.3"/><use href="#d46" stroke="#393e14" stroke-width="2.5"/><use href="#d46" stroke="#848f2e" stroke-width="1.3"/><use href="#d47" stroke="#3d3c14" stroke-width="2.5"/><use href="#d47" stroke="#8c8a2e" stroke-width="1.3"/><use href="#d48" stroke="#5a2615" stroke-width="2.5"/><use href="#d48" stroke="#d05831" stroke-width="1.3"/><use href="#d49" stroke="#562915" stroke-width="2.5"/><use href="#d49" stroke="#c65f30" stroke-width="1.3"/><use href="#d50" stroke="#691b16" stroke-width="2.5"/><use href="#d50" stroke="#f23e33" stroke-width="1.3"/><use href="#d51" stroke="#641f16" stroke-width="2.5"/><use href="#d51" stroke="#e54732" stroke-width="1.3"/><use href="#d52" stroke="#3e3b14" stroke-width="2.5"/><use href="#d52" stroke="#90872e" stroke-width="1.3"/><use href="#d53" stroke="#364114" stroke-width="2.5"/><use href="#d53" stroke="#7c952e" stroke-width="1.3"/><use href="#d54" stroke="#4a3214" stroke-width="2.5"/><use href="#d54" stroke="#ab742e" stroke-width="1.3"/><use href="#d55" stroke="#502e14" stroke-width="2.5"/><use href="#d55" stroke="#b76b2f" stroke-width="1.3"/><use href="#d56" stroke="#493314" stroke-width="2.5"/><use href="#d56" stroke="#a8762e" stroke-width="1.3"/><use href="#d57" stroke="#483414" stroke-width="2.5"/><use href="#d57" stroke="#a7772e" stroke-width="1.3"/><use href="#d58" stroke="#493314" stroke-width="2.5"/><use href="#d58" stroke="#a8762e" stroke-width="1.3"/><use href="#d59" stroke="#4e3014" stroke-width="2.5"/><use href="#d59" stroke="#b36e2f" stroke-width="1.3"/></g>
<ellipse cx="1464.1" cy="1143.9" rx="52.8" ry="52.8" fill="none" stroke="#8a3e04" stroke-width="9.8"/><ellipse cx="1466" cy="1142" rx="54.2" ry="54.2" fill="none" stroke="#e47812" stroke-width="6.4"/><path d="M1477.7 1142.4L1515 1143.8M1476.2 1148.4L1508.7 1168.8M1469.2 1144.7L1504.3 1174.6M1467.7 1147.3L1480.9 1188.5M1467 1147.6L1474.4 1191M1463.2 1147.2L1444.2 1182.9M1461.2 1148L1435.9 1179M1457.4 1145.3L1423.6 1158.5M1456.3 1142.1L1416.7 1142.7M1458.3 1137.3L1426.5 1117.7M1462.4 1138L1433.1 1105.6M1462.9 1131.6L1452.4 1096.6M1466.2 1136.9L1467.9 1093.3M1466.9 1139.4L1481.1 1098.1M1475.1 1132.3L1499 1106.6M1479.6 1135.9L1508.7 1122.9" stroke="#b86006" stroke-width="5.6" stroke-linecap="round"/><path d="M1477.7 1142.4L1515 1143.8M1476.2 1148.4L1508.7 1168.8M1469.2 1144.7L1504.3 1174.6M1467.7 1147.3L1480.9 1188.5M1467 1147.6L1474.4 1191M1463.2 1147.2L1444.2 1182.9M1461.2 1148L1435.9 1179M1457.4 1145.3L1423.6 1158.5M1456.3 1142.1L1416.7 1142.7M1458.3 1137.3L1426.5 1117.7M1462.4 1138L1433.1 1105.6M1462.9 1131.6L1452.4 1096.6M1466.2 1136.9L1467.9 1093.3M1466.9 1139.4L1481.1 1098.1M1475.1 1132.3L1499 1106.6M1479.6 1135.9L1508.7 1122.9" stroke="#f7982c" stroke-width="3.4" stroke-linecap="round"/><path d="M1448.6 1090.8A53.9 53.9 0 0 1 1516.3 1153.6" fill="none" stroke="#ffa848" stroke-width="1.9"/>
<defs><path id="do0" d="M1501 1144l0 6l-7 0l-1 7l-6-1l-1 7l-6-6l-1 8l-5-4l-6-4l-2 5l-7-2l4 6M1501 1150l0 7l5 3l-1 7M1502 1171l3-4l5 1M1493 1157l4 6M1497 1168l0-5l4-2M1486 1163l4 4l-1 6l3 4M1488 1181l4-4l5 2M1480 1157l-2-4l-3-6M1479 1145l-4 2l-4-3M1479 1165l2 4l-4 7l3 5M1468 1157l-4-5l1-5M1459 1160l-1-6l-7-2l-1-6M1451 1152l3-3"/></defs><g fill="none" stroke-linecap="round" stroke-linejoin="round"><use href="#do0" stroke="#075526" stroke-width="2.5"/><use href="#do0" stroke="#10c356" stroke-width="1.3"/></g>
</g>
<circle cx="1466" cy="1144" r="126.5" fill="none" stroke="#000" stroke-width="8.5" stroke-dasharray="36 30.23" stroke-dashoffset="65.3"/>
<path d="M151 414 153 382.1 154.9 345.7 156.9 351.4 158.8 330.4 160.8 335.8 162.8 332.8 164.7 346.8 166.7 346.8 168.7 345.4 170.6 351.8 172.6 349.6 174.5 335.1 176.5 355.1 178.5 329.3 180.4 353.8 182.4 349.9 184.3 350.5 186.3 352 188.3 349.6 190.2 332.6 192.2 330.4 194.2 333.9 196.1 314.6 198.1 332.8 200 323.8 202 321.8 204 324.3 205.9 318.3 207.9 325.3 209.8 319.1 211.8 330.1 213.8 323.7 215.7 313.5 217.7 340.3 219.7 336.4 221.6 327.2 223.6 335.6 225.5 344 227.5 340.9 229.5 349.5 231.4 309.8 233.4 312.9 235.3 327.9 237.3 315.6 239.3 326 241.2 317.5 243.2 318.6 245.2 303.7 247.1 326.1 249.1 296.2 251 311.7 253 307.9 255 317 256.9 316.5 258.9 322.6 260.8 326 262.8 333.6 264.8 331.4 266.7 327.8 268.7 344.5 270.7 334.5 272.6 330.4 274.6 333.4 276.5 315.5 278.5 328 280.5 335.6 282.4 327.7 284.4 308.3 286.3 317.5 288.3 315.6 290.3 312.7 292.2 311.3 294.2 312.3 296.2 309.1 298.1 321.3 300.1 312.6 302 308.9 304 298 306 318.5 307.9 333.2 309.9 328.7 311.8 331.1 313.8 342.8 315.8 338.1 317.7 336 319.7 313.6 321.7 345.5 323.6 339.7 325.6 343.7 327.5 337 329.5 331.4 331.5 328 333.4 314.3 335.4 315.9 337.3 314.6 339.3 297.3 341.3 289.8 343.2 298.2 345.2 326.9 347.1 306.1 349.1 307.1 351.1 318.5 353 313.1 355 308.6 357 313 358.9 314.2 360.9 311.8 362.8 340.4 364.8 351.8 366.8 364 368.7 381.9 370.7 359.8 372.6 360.8 374.6 335.9 376.6 340.9 378.5 336.5 380.5 322.8 382.5 332.5 384.4 334.7 386.4 323.4 388.3 324.4 390.3 311.7 392.3 313.1 394.2 331.6 396.2 316 398.1 320 400.1 311.8 402.1 309 404 294.1 406 287.7 408 286.4 409.9 255.2 411.9 291.5 413.8 270.5 415.8 296.9 417.8 278.8 419.7 289.3 421.7 290.2 423.6 292.9 425.6 293.3 427.6 316.7 429.5 326.3 431.5 313.2 433.5 285.7 435.4 316.1 437.4 351.1 439.3 337.6 441.3 329.5 443.3 327.7 445.2 301.6 447.2 332.8 449.1 311.2 451.1 323.8 453.1 306.6 455 268.7 457 298.5 459 314.7 460.9 300.4 462.9 297.5 464.8 278.7 466.8 281.8 468.8 280 470.7 254 472.7 263.3 474.6 263.4 476.6 268.8 478.6 243.5 480.5 275 482.5 282.6 484.5 275.2 486.4 283.9 488.4 293.7 490.3 271.1 492.3 290.3 494.3 278.6 496.2 273.2 498.2 304.3 500.1 307.4 502.1 311.9 504.1 301.4 506 324 508 322 510 329.9 511.9 301.1 513.9 328.8 515.8 310.5 517.8 314.6 519.8 313.3 521.7 299 523.7 294.8 525.6 296.5 527.6 284 529.6 272.9 531.5 276.7 533.5 275.9 535.5 285.6 537.4 289.1 539.4 272.7 541.3 259.3 543.3 292.9 545.3 283.5 547.2 293.6 549.2 281.5 551.1 294.5 553.1 318.9 555.1 295.3 557 306.6 559 327.5 561 325.1 562.9 307.9 564.9 322 566.8 326.5 568.8 317.2 570.8 303.2 572.7 333.8 574.7 305.7 576.6 313.7 578.6 304.8 580.6 304.6 582.5 298 584.5 311.5 586.5 286.7 588.4 293.3 590.4 283.8 592.3 291 594.3 287.6 596.3 279.5 598.2 286.1 600.2 283.9 602.1 278.2 604.1 273.3 606.1 270.5 608 268.1 610 296.3 612 275.5 613.9 302.4 615.9 300.9 617.8 297.6 619.8 298.2 621.8 314 623.7 297.2 625.7 294 627.6 308.3 629.6 300 631.6 289.4 633.5 291.8 635.5 289.4 637.5 248.1 639.4 283.4 641.4 287.4 643.3 275.2 645.3 296.6 647.3 284.8 649.2 311.8 651.2 299.1 653.1 299 655.1 319.9 657.1 291.4 659 308.4 661 303.2 663 298.5 664.9 287.6 666.9 298.6 668.8 290.8 670.8 300.8 672.8 284.4 674.7 297.1 676.7 313 678.6 319.9 680.6 276.7 682.6 304.4 684.5 286.8 686.5 310.9 688.5 305.2 690.4 292.4 692.4 284.9 694.3 283.5 696.3 279.7 698.3 280.9 700.2 286.9 702.2 289 704.1 289.9 706.1 273.8 708.1 307.1 710 293.7 712 295.5 714 321.4 715.9 299.8 717.9 306.8 719.8 290.3 721.8 303.8 723.8 323.2 725.7 316.5 727.7 326.5 729.6 306.7 731.6 324.2 733.6 341.8 735.5 322.7 737.5 334.4 739.5 328.6 741.4 323.3 743.4 331.3 745.3 289.6 747.3 286.9 749.3 309.6 751.2 289.8 753.2 296.6 755.1 288.5 757.1 304.2 759.1 291.7 761 272.4 763 291.3 764.9 301 766.9 310.8 768.9 316.8 770.8 261.6 772.8 306.5 774.8 321.8 776.7 295.1 778.7 317.5 780.6 311.2 782.6 284.7 784.6 284 786.5 283.8 788.5 320.1 790.4 312 792.4 289.6 794.4 303.3 796.3 259.8 798.3 311.2 800.3 276.1 802.2 301.3 804.2 275.4 806.1 257.1 808.1 254.5 810.1 276.8 812 256.3 814 230 815.9 237.9 817.9 245.2 819.9 238.6 821.8 211.3 823.8 257.9 825.8 237.3 827.7 210.4 829.7 202.8 831.6 228.7 833.6 170.7 835.6 183.7 837.5 190.8 839.5 242.9 841.4 251.9 843.4 206 845.4 221.6 847.3 252.6 849.3 248.8 851.3 270 853.2 268.2 855.2 224.1 857.1 260.4 859.1 227.6 861.1 226.4 863 257.1 865 250.1 866.9 217.1 868.9 225 870.9 244 872.8 237.8 874.8 230.3 876.8 234.5 878.7 235.8 880.7 196.2 882.6 244.8 884.6 245.8 886.6 229.3 888.5 177.9 890.5 243.4 892.4 228.3 894.4 195.2 896.4 169.9 898.3 146.2 900.3 190.5 902.3 203.9 904.2 184.9 906.2 206 908.1 220 910.1 184.5 912.1 198.6 914 202.3 916 134.2 917.9 134.2 919.9 200.8 921.9 148.2 923.8 173.5 925.8 155.5 927.8 147.7 929.7 152.8 931.7 209.4 933.6 171.9 935.6 215.9 935.6 357 933.6 296.9 931.7 313.4 929.7 325.8 927.8 325.8 925.8 313.6 923.8 366.7 921.9 304.6 919.9 316.9 917.9 339.6 916 345.3 914 354.9 912.1 309.1 910.1 328.5 908.1 338.7 906.2 393.9 904.2 342.8 902.3 347 900.3 340.1 898.3 333.6 896.4 359 894.4 342.6 892.4 361.9 890.5 343.4 888.5 382.4 886.6 349.5 884.6 375.6 882.6 334.8 880.7 343.3 878.7 356.7 876.8 344 874.8 365.1 872.8 337.1 870.9 371.7 868.9 359.6 866.9 355.1 865 381.5 863 355.2 861.1 386.3 859.1 357 857.1 406.4 855.2 382.3 853.2 374.3 851.3 353.1 849.3 429.1 847.3 370.9 845.4 377.4 843.4 393 841.4 384.3 839.5 327.1 837.5 346.2 835.6 337.6 833.6 328.5 831.6 350.4 829.7 349.9 827.7 374.8 825.8 349.4 823.8 380.3 821.8 353.5 819.9 358.2 817.9 330.1 815.9 335.3 814 343.6 812 391.9 810.1 362.5 808.1 376.8 806.1 377.5 804.2 368.9 802.2 394.1 800.3 415.7 798.3 407.9 796.3 397.8 794.4 393.4 792.4 434.1 790.4 368.4 788.5 385.1 786.5 381.7 784.6 359.7 782.6 398.4 780.6 362.5 778.7 368.5 776.7 374.4 774.8 389 772.8 373.6 770.8 352.8 768.9 376 766.9 362.8 764.9 354.1 763 376.3 761 342 759.1 367.1 757.1 366.5 755.1 345.1 753.2 357.9 751.2 351.1 749.3 371.7 747.3 362.3 745.3 371.2 743.4 379.4 741.4 393.7 739.5 406.9 737.5 382.7 735.5 381.3 733.6 396.4 731.6 398.3 729.6 385.8 727.7 385.9 725.7 377.2 723.8 394.5 721.8 394.7 719.8 374.6 717.9 373.3 715.9 376.1 714 387.7 712 369.3 710 388.2 708.1 354.5 706.1 345.6 704.1 344 702.2 343.3 700.2 357 698.3 359.8 696.3 349.1 694.3 357.4 692.4 346.4 690.4 357.6 688.5 371.9 686.5 368.2 684.5 369.3 682.6 355.6 680.6 378 678.6 369.3 676.7 363.1 674.7 348.3 672.8 340.5 670.8 357.7 668.8 366.3 666.9 351.6 664.9 342.7 663 352.6 661 355.6 659 356.6 657.1 365.1 655.1 402 653.1 375.3 651.2 357.1 649.2 359.6 647.3 367.2 645.3 347.6 643.3 334 641.4 357.1 639.4 335.7 637.5 362.1 635.5 335.5 633.5 358 631.6 344.9 629.6 350.3 627.6 365.5 625.7 362.3 623.7 386.6 621.8 365.8 619.8 364.8 617.8 358.8 615.9 346.6 613.9 350.4 612 358.1 610 348.5 608 343 606.1 343.3 604.1 336.3 602.1 352.2 600.2 333.6 598.2 339.9 596.3 328.8 594.3 366.1 592.3 337.4 590.4 356.6 588.4 349.8 586.5 353.4 584.5 369.5 582.5 364.4 580.6 378.9 578.6 384.1 576.6 386.8 574.7 388.8 572.7 387.9 570.8 412.8 568.8 385.7 566.8 373.6 564.9 373.4 562.9 368.5 561 387 559 377.3 557 376.1 555.1 374.4 553.1 362.6 551.1 372.2 549.2 363.9 547.2 360.7 545.3 334.4 543.3 337 541.3 330.3 539.4 358.2 537.4 340.3 535.5 333.5 533.5 344.6 531.5 374.8 529.6 337.8 527.6 342.7 525.6 362.3 523.7 359.7 521.7 365.5 519.8 365 517.8 378.4 515.8 408.4 513.9 373 511.9 390.1 510 396.3 508 370.6 506 375.9 504.1 373.8 502.1 386.1 500.1 386.1 498.2 353 496.2 370.2 494.3 354.4 492.3 367.3 490.3 362.8 488.4 350.3 486.4 360.3 484.5 327.6 482.5 364.5 480.5 336.6 478.6 308.4 476.6 313.5 474.6 316.9 472.7 343.7 470.7 354.6 468.8 340.9 466.8 352.9 464.8 349.6 462.9 380.7 460.9 348.9 459 388.7 457 378.6 455 378.2 453.1 380.7 451.1 375.3 449.1 391.3 447.2 375 445.2 411.9 443.3 381.7 441.3 393.9 439.3 407.7 437.4 409.7 435.4 395.9 433.5 397.6 431.5 379.2 429.5 367.2 427.6 368.3 425.6 366.1 423.6 370.1 421.7 353.8 419.7 358.5 417.8 357.9 415.8 336.4 413.8 347.1 411.9 357 409.9 360.1 408 384.1 406 354.3 404 368.8 402.1 353.4 400.1 366.3 398.1 363.7 396.2 367.7 394.2 377.6 392.3 385.8 390.3 392.8 388.3 391.1 386.4 368 384.4 371.4 382.5 367.8 380.5 369.2 378.5 385.4 376.6 390.2 374.6 387.5 372.6 403.4 370.7 420.2 368.7 423 366.8 415.7 364.8 409.8 362.8 390.3 360.9 366.3 358.9 384.7 357 352.9 355 346.2 353 361.7 351.1 358.1 349.1 365.2 347.1 368.8 345.2 376.8 343.2 357 341.3 346.6 339.3 353.4 337.3 358.4 335.4 351.9 333.4 355.4 331.5 374.8 329.5 380.4 327.5 376.9 325.6 374.3 323.6 375.7 321.7 382.8 319.7 399.7 317.7 389.8 315.8 369 313.8 376.7 311.8 371.6 309.9 365.9 307.9 371.9 306 369 304 361.5 302 361.1 300.1 364.4 298.1 363.3 296.2 349.4 294.2 356 292.2 365.4 290.3 368.1 288.3 373.7 286.3 384.4 284.4 363 282.4 370.7 280.5 401.4 278.5 366.4 276.5 387.3 274.6 373.2 272.6 384.3 270.7 385.6 268.7 396.5 266.7 368.4 264.8 373.7 262.8 372.9 260.8 378.3 258.9 384.4 256.9 384.5 255 393 253 359.3 251 374.7 249.1 376.4 247.1 375.4 245.2 354.9 243.2 362 241.2 379.1 239.3 369.2 237.3 368.5 235.3 371.4 233.4 386.8 231.4 367.8 229.5 380.4 227.5 393.4 225.5 377.8 223.6 390.4 221.6 374 219.7 388.7 217.7 376.2 215.7 371.6 213.8 366.7 211.8 362.2 209.8 354.5 207.9 366.7 205.9 367.1 204 368.5 202 371 200 376.4 198.1 400.6 196.1 384.2 194.2 388.6 192.2 392 190.2 387 188.3 381.8 186.3 389.7 184.3 404.4 182.4 385.6 180.4 399.4 178.5 384.1 176.5 397.6 174.5 391.9 172.6 381.9 170.6 386.3 168.7 384.7 166.7 377 164.7 390.4 162.8 386.4 160.8 372.1 158.8 376.2 156.9 390.5 154.9 392.9 153 429.1 151 414Z" fill="#ff9999"/>
<path d="M151 422.7 151.8 429.2 152.6 433.4 153.4 434.7 154.1 434.7 154.9 438.5 155.7 436.4 156.5 442.7 157.3 446.8 158.1 450.7 158.8 449.3 159.6 451.4 160.4 449.8 161.2 452.4 162 450 162.8 454.7 163.6 453.8 164.3 447.4 165.1 454.4 165.9 454.9 166.7 454.7 167.5 458.4 168.3 454.9 169 458.9 169.8 459.7 170.6 459.7 171.4 463.1 172.2 462.2 173 461.3 173.8 461.4 174.5 465.2 175.3 464.9 176.1 460.8 176.9 462.8 177.7 460.8 178.5 464.6 179.2 465.8 180 458.7 180.8 462.3 181.6 464.8 182.4 463 183.2 467.7 184 465.9 184.7 468.9 185.5 471 186.3 471.1 187.1 470.6 187.9 473.1 188.7 475 189.4 474.7 190.2 474.4 191 475.5 191.8 474.3 192.6 471.6 193.4 477.9 194.2 479.4 194.9 474 195.7 476.6 196.5 480 197.3 479.2 198.1 477 198.9 479.9 199.6 474.3 200.4 478.3 201.2 476.2 202 481 202.8 481.3 203.6 480.3 204.4 481.5 205.1 480.4 205.9 478.2 206.7 474.8 207.5 479.8 208.3 477.5 209.1 477.7 209.8 478.1 210.6 480.7 211.4 480.5 212.2 482.4 213 483.2 213.8 483.3 214.6 483.5 215.3 483.2 216.1 482.3 216.9 481.8 217.7 479.4 218.5 483.5 219.3 480 220 474.9 220.8 483 221.6 483.8 222.4 480.5 223.2 478 224 478.2 224.8 483.4 225.5 483.2 226.3 485.5 227.1 488.1 227.9 487.3 228.7 485.5 229.5 485.4 230.2 484.2 231 487.3 231.8 484.3 232.6 483.4 233.4 485.8 234.2 486.5 235 480.8 235.7 481.1 236.5 484 237.3 480.6 238.1 486.1 238.9 483.6 239.7 484.3 240.4 487.6 241.2 485.4 242 484 242.8 485.3 243.6 483.7 244.4 488.5 245.2 485.3 245.9 488.1 246.7 487.3 247.5 485.5 248.3 487.5 249.1 486.8 249.9 481.8 250.6 485.6 251.4 490.4 252.2 492 253 491 253.8 492.5 254.6 486.7 255.4 489.3 256.1 490.1 256.9 491.1 257.7 488.1 258.5 491.6 259.3 492.7 260.1 489.5 260.8 493.6 261.6 493.1 262.4 492.8 263.2 487.1 264 492 264.8 490.1 265.6 492.5 266.3 491.5 267.1 491.8 267.9 494.6 268.7 495.5 269.5 489.1 270.3 495.1 271 489.2 271.8 493.6 272.6 493.1 273.4 494.9 274.2 488 275 493.8 275.8 492.5 276.5 494.3 277.3 495.4 278.1 493.4 278.9 492.9 279.7 492.4 280.5 493.1 281.2 495.6 282 493.8 282.8 495.4 283.6 492.3 284.4 492.1 285.2 489.8 286 495.3 286.7 491 287.5 495.5 288.3 496.3 289.1 489.7 289.9 487.8 290.7 490.7 291.4 496.7 292.2 497.6 293 496.2 293.8 495.4 294.6 493.9 295.4 488.7 296.2 496.6 296.9 495.8 297.7 494 298.5 496.6 299.3 496.6 300.1 496.1 300.9 492.6 301.6 497.8 302.4 491.9 303.2 495.3 304 493 304.8 498.6 305.6 496.7 306.4 496.9 307.1 494.7 307.9 495 308.7 496 309.5 494.5 310.3 497.5 311.1 499.5 311.8 496.7 312.6 497.2 313.4 499.2 314.2 495.7 315 498.4 315.8 495.2 316.6 494.1 317.3 492.7 318.1 495.4 318.9 492.5 319.7 498 320.5 499.8 321.3 498 322 496.6 322.8 492.4 323.6 488 324.4 495.3 325.2 490.1 326 499.4 326.8 499 327.5 496.9 328.3 492.3 329.1 494.4 329.9 498.4 330.7 499.1 331.5 498.1 332.2 499.5 333 498 333.8 498.7 334.6 499.8 335.4 496.6 336.2 496.1 337 498.1 337.7 498.3 338.5 495.2 339.3 494.3 340.1 499.8 340.9 494.8 341.7 495.7 342.4 496.9 343.2 497.3 344 498.6 344.8 497.1 345.6 497.9 346.4 496.5 347.1 498.3 347.9 490.9 348.7 489.5 349.5 498.9 350.3 497.6 351.1 496.6 351.9 495.1 352.6 491.8 353.4 497.4 354.2 491 355 497.1 355.8 499.7 356.6 498.2 357.3 498.1 358.1 495.8 358.9 499.1 359.7 499.7 360.5 499.6 361.3 494.6 362.1 497.1 362.8 497 363.6 497.3 364.4 498.6 365.2 496.2 366 497.7 366.8 495.1 367.5 498.9 368.3 498.1 369.1 495 369.9 498.7 370.7 491.4 371.5 499.3 372.3 486.8 373 494.2 373.8 496.9 374.6 496.8 375.4 489.3 376.2 498.3 377 498.8 377.7 492.5 378.5 495.6 379.3 493.3 380.1 497.8 380.9 496.1 381.7 489.1 382.5 498.9 383.2 497.3 384 496 384.8 498.1 385.6 494.5 386.4 495.3 387.2 496.8 387.9 497.4 388.7 496.1 389.5 495.3 390.3 500 391.1 494 391.9 494 392.7 493.6 393.4 497 394.2 499.8 395 498.3 395.8 499.2 396.6 499.1 397.4 497.7 398.1 496.9 398.9 491.3 399.7 499.9 400.5 497.9 401.3 495.2 402.1 497 402.9 496.8 403.6 496.5 404.4 499.6 405.2 500.8 406 500.8 406.8 496 407.6 494.2 408.3 497.4 409.1 489.8 409.9 497.6 410.7 499.6 411.5 496.5 412.3 498.3 413.1 494.5 413.8 495.8 414.6 500.1 415.4 498.6 416.2 499.8 417 495.6 417.8 496.2 418.5 499.6 419.3 501.3 420.1 500 420.9 498.1 421.7 497.1 422.5 500.2 423.3 498.9 424 498.6 424.8 494.5 425.6 495.7 426.4 496.7 427.2 497.7 428 493.8 428.7 499.2 429.5 497.3 430.3 495.3 431.1 497.5 431.9 498.3 432.7 501 433.5 501.9 434.2 498.7 435 500.6 435.8 497.5 436.6 500.1 437.4 493.5 438.2 500.1 438.9 500 439.7 500.8 440.5 499.5 441.3 501.1 442.1 502.6 442.9 496 443.7 499.6 444.4 500.3 445.2 501.7 446 497.5 446.8 501.9 447.6 498.1 448.4 497.1 449.1 500.9 449.9 496.2 450.7 500.7 451.5 500.9 452.3 502.3 453.1 502.1 453.9 499.7 454.6 499.3 455.4 499.8 456.2 500.1 457 492 457.8 501.9 458.6 502.3 459.3 500 460.1 497.4 460.9 498.6 461.7 504 462.5 503.3 463.3 496.7 464.1 492.4 464.8 498.5 465.6 497.5 466.4 499.9 467.2 500.6 468 500.6 468.8 502.4 469.5 495.9 470.3 498.5 471.1 500 471.9 495.9 472.7 497.7 473.5 498.6 474.3 499 475 493 475.8 497.3 476.6 498.6 477.4 495.5 478.2 498.2 479 494.8 479.7 497.5 480.5 495.4 481.3 488.7 482.1 498.1 482.9 496.1 483.7 498.8 484.5 495.4 485.2 493.7 486 495.9 486.8 493.6 487.6 495.4 488.4 499.2 489.2 495.4 489.9 494.1 490.7 498 491.5 493.5 492.3 495.7 493.1 494.9 493.9 498.9 494.7 491.7 495.4 496.7 496.2 494.1 497 496.8 497.8 496.7 498.6 494.6 499.4 492.6 500.1 494.9 500.9 492.8 501.7 492.8 502.5 495.4 503.3 492.8 504.1 495.5 504.9 491.7 505.6 495.4 506.4 496.4 507.2 494.9 508 495.4 508.8 494.7 509.6 492.8 510.3 498.2 511.1 499.2 511.9 498.1 512.7 495.2 513.5 490.6 514.3 494.6 515.1 494.5 515.8 492.8 516.6 492.5 517.4 496.9 518.2 491.9 519 496.3 519.8 495.9 520.5 498.2 521.3 492.2 522.1 492.9 522.9 494.6 523.7 494.9 524.5 492.3 525.3 497.4 526 493.8 526.8 495.5 527.6 492.7 528.4 493.5 529.2 494.8 530 492.5 530.7 492.8 531.5 492.8 532.3 497.6 533.1 493.8 533.9 497.4 534.7 495.2 535.5 492 536.2 496.1 537 495.7 537.8 495.8 538.6 489.2 539.4 493.7 540.2 492.6 540.9 496.2 541.7 496.5 542.5 494.2 543.3 495.8 544.1 491.9 544.9 494.5 545.7 494.2 546.4 496.6 547.2 494.5 548 495.8 548.8 497.1 549.6 492.5 550.4 492.9 551.1 498 551.9 497.4 552.7 496.3 553.5 496.2 554.3 496.2 555.1 493.8 555.9 495.9 556.6 497.4 557.4 498.2 558.2 497.1 559 496.6 559.8 492.6 560.6 497 561.3 496.3 562.1 497.3 562.9 493.3 563.7 493.7 564.5 492.6 565.3 496.4 566.1 495.1 566.8 493.2 567.6 496.2 568.4 494.8 569.2 490.2 570 489.9 570.8 495.9 571.5 496.4 572.3 492.2 573.1 496 573.9 493.6 574.7 488.6 575.5 493.7 576.3 498.2 577 495.1 577.8 493.5 578.6 496.7 579.4 496.3 580.2 489.4 581 495.2 581.7 498.6 582.5 495.2 583.3 496.8 584.1 490.6 584.9 493.6 585.7 495.6 586.5 495.9 587.2 495.2 588 495.6 588.8 497.6 589.6 496.1 590.4 492.5 591.2 495.9 591.9 495.9 592.7 495.2 593.5 495.9 594.3 493.7 595.1 491.5 595.9 490.4 596.7 495.9 597.4 495.1 598.2 494.8 599 492.1 599.8 495.8 600.6 497.6 601.4 496.5 602.1 497 602.9 493.3 603.7 494.8 604.5 494.2 605.3 495 606.1 496.5 606.9 493.2 607.6 497.6 608.4 493.3 609.2 493.8 610 494.6 610.8 496.6 611.6 497.3 612.3 497.5 613.1 494.5 613.9 489.4 614.7 496.1 615.5 491.8 616.3 493.7 617.1 491.1 617.8 494.5 618.6 492 619.4 491.6 620.2 492.7 621 496.5 621.8 495.4 622.5 490.3 623.3 496.4 624.1 495 624.9 496.7 625.7 493.5 626.5 495.9 627.3 498 628 496.5 628.8 496.3 629.6 489.9 630.4 496.3 631.2 496.8 632 494 632.7 493.2 633.5 490.6 634.3 492.9 635.1 494.6 635.9 497.9 636.7 497.1 637.5 489.5 638.2 488.1 639 495.8 639.8 495.2 640.6 493.4 641.4 495.1 642.2 495.9 642.9 491.9 643.7 494.5 644.5 491.6 645.3 492.5 646.1 490 646.9 494.8 647.7 487.9 648.4 490.7 649.2 494.9 650 491.4 650.8 496 651.6 495.4 652.4 495.5 653.1 491.4 653.9 491.5 654.7 489.3 655.5 494.9 656.3 492.1 657.1 498 657.9 493.3 658.6 498.2 659.4 497.6 660.2 497.4 661 495.6 661.8 495.4 662.6 494.4 663.3 494.5 664.1 493.2 664.9 495.5 665.7 496.7 666.5 491.5 667.3 495.1 668.1 496.6 668.8 495.4 669.6 496.7 670.4 494.1 671.2 496.1 672 491.5 672.8 493.3 673.5 498 674.3 496 675.1 493.6 675.9 496.1 676.7 498 677.5 493.1 678.3 490.9 679 496.5 679.8 494.2 680.6 494.1 681.4 492 682.2 493.4 683 495 683.7 495.7 684.5 495.1 685.3 493.8 686.1 494.3 686.9 489.1 687.7 493.5 688.5 489.7 689.2 494.6 690 496.1 690.8 492.9 691.6 495.4 692.4 493.9 693.2 495.4 693.9 496.2 694.7 495.3 695.5 496.4 696.3 493.4 697.1 497.9 697.9 498.1 698.7 495.7 699.4 493.2 700.2 490.3 701 496.2 701.8 496.6 702.6 487.8 703.4 496.7 704.1 496.3 704.9 490.5 705.7 497.4 706.5 495.5 707.3 495.9 708.1 497 708.9 493.8 709.6 494.5 710.4 491.2 711.2 496.9 712 488.7 712.8 496.3 713.6 494.6 714.3 496.4 715.1 492.4 715.9 497 716.7 495.7 717.5 493.8 718.3 497 719.1 492.9 719.8 493.6 720.6 491.1 721.4 494.2 722.2 492.3 723 494.7 723.8 496.8 724.5 496 725.3 494.7 726.1 492.9 726.9 497.1 727.7 496.8 728.5 494.2 729.3 497.2 730 495.4 730.8 497.7 731.6 493.6 732.4 489.4 733.2 496.1 734 497.6 734.7 497.4 735.5 497.1 736.3 495.2 737.1 495.2 737.9 497.8 738.7 497.4 739.5 493.8 740.2 495.1 741 496.7 741.8 493.9 742.6 492.9 743.4 496.9 744.2 493.8 744.9 497.7 745.7 493 746.5 497.1 747.3 495.6 748.1 491.4 748.9 494.6 749.6 491.9 750.4 495.9 751.2 494.7 752 494.7 752.8 496.5 753.6 496 754.4 497 755.1 495.4 755.9 496.5 756.7 496 757.5 499.2 758.3 496.2 759.1 497.7 759.8 493.4 760.6 493.2 761.4 488.6 762.2 496.2 763 487.9 763.8 496.9 764.6 494 765.3 498.2 766.1 492.8 766.9 497.6 767.7 496.2 768.5 498.4 769.3 497.2 770 486.5 770.8 498.4 771.6 497 772.4 497.8 773.2 497.3 774 497.2 774.8 495.2 775.5 498.2 776.3 492.3 777.1 496.4 777.9 497.6 778.7 498 779.5 492.4 780.2 496 781 496 781.8 498.5 782.6 492.2 783.4 496.9 784.2 497.3 785 493.7 785.7 495.7 786.5 494.1 787.3 494.6 788.1 488.3 788.9 497.1 789.7 492 790.4 496.6 791.2 494.9 792 495.3 792.8 497.1 793.6 495 794.4 490.6 795.2 494.5 795.9 492.9 796.7 491.5 797.5 493.1 798.3 493.9 799.1 497.6 799.9 496.6 800.6 494.7 801.4 490.9 802.2 493.3 803 496.8 803.8 495.6 804.6 495.1 805.4 494.9 806.1 493.6 806.9 491.6 807.7 491.8 808.5 491.9 809.3 493.6 810.1 492.8 810.8 486 811.6 493.9 812.4 495.9 813.2 495.5 814 493.9 814.8 490.1 815.6 493.9 816.3 493.9 817.1 490.4 817.9 493.2 818.7 491.6 819.5 490 820.3 491.9 821 487.3 821.8 494.9 822.6 492.7 823.4 492.3 824.2 488.9 825 489.6 825.8 489.4 826.5 494.8 827.3 489.5 828.1 493.4 828.9 489.9 829.7 494.2 830.5 493.3 831.2 488.5 832 489.9 832.8 493.4 833.6 494.4 834.4 492.2 835.2 492.6 836 490.5 836.7 494.4 837.5 486.3 838.3 496.1 839.1 496.5 839.9 487 840.7 493.7 841.4 494.6 842.2 494.2 843 492 843.8 494.9 844.6 489.3 845.4 490.3 846.2 492.5 846.9 490 847.7 494.4 848.5 491.1 849.3 494 850.1 493.2 850.9 491.1 851.6 491.4 852.4 495 853.2 492.2 854 493.2 854.8 491.9 855.6 491.6 856.4 491.6 857.1 490.9 857.9 494 858.7 492 859.5 488.4 860.3 493.1 861.1 492.7 861.8 492.1 862.6 493.2 863.4 492.2 864.2 489.2 865 488.5 865.8 486.2 866.6 493.4 867.3 495.3 868.1 492.3 868.9 496.3 869.7 495.3 870.5 491.5 871.3 491.3 872 491.6 872.8 493.2 873.6 490.1 874.4 490.7 875.2 491.8 876 492 876.8 489.2 877.5 493 878.3 491.3 879.1 493.7 879.9 497 880.7 494.7 881.5 487.1 882.2 494.7 883 494.7 883.8 491.3 884.6 493 885.4 492.2 886.2 491.5 887 495 887.7 492.1 888.5 486.8 889.3 490.6 890.1 494.2 890.9 493.2 891.7 488.9 892.4 489.1 893.2 493.2 894 493.3 894.8 493.8 895.6 491.6 896.4 495.6 897.2 493.2 897.9 486.8 898.7 495.9 899.5 493 900.3 495.5 901.1 496 901.9 491.5 902.6 489.6 903.4 491.9 904.2 492.6 905 491.4 905.8 494.6 906.6 494.3 907.4 493.9 908.1 491 908.9 493.2 909.7 494.2 910.5 492.7 911.3 493.1 912.1 489.8 912.8 494.6 913.6 484.6 914.4 493.7 915.2 495.7 916 492.1 916.8 494.6 917.6 494.5 918.3 493.3 919.1 493.7 919.9 494.7 920.7 493.5 921.5 492.1 922.3 493.6 923 493.5 923.8 489.4 924.6 492.2 925.4 493 926.2 494.4 927 495.3 927.8 492.2 928.5 493.3 929.3 494.5 930.1 495.6 930.9 491.3 931.7 489.9 932.5 494 933.2 489.6 934 494.5 934.8 488.3 935.6 490.7 935.6 511.9 934.8 512.8 934 509.7 933.2 509.5 932.5 511.7 931.7 513.9 930.9 514.7 930.1 512.9 929.3 515.2 928.5 518.5 927.8 511 927 514.8 926.2 512.9 925.4 509.7 924.6 515.6 923.8 517 923 511.3 922.3 511.4 921.5 511.4 920.7 509.1 919.9 513.7 919.1 511.4 918.3 513.6 917.6 510.1 916.8 514.6 916 510.5 915.2 514 914.4 515.3 913.6 512 912.8 508.6 912.1 510 911.3 508.9 910.5 510.1 909.7 509.8 908.9 511.8 908.1 515.7 907.4 517.3 906.6 510.2 905.8 509.4 905 512 904.2 510.4 903.4 513 902.6 512.9 901.9 517.1 901.1 511.2 900.3 510.9 899.5 511.4 898.7 514.3 897.9 512.1 897.2 512.4 896.4 510.9 895.6 510 894.8 512.1 894 514.6 893.2 512.1 892.4 512.9 891.7 515 890.9 510.6 890.1 510.9 889.3 512.1 888.5 511.7 887.7 512 887 508.8 886.2 510.4 885.4 510.7 884.6 510.1 883.8 511.6 883 512.7 882.2 513.7 881.5 512.5 880.7 511.2 879.9 515.4 879.1 518.4 878.3 509.8 877.5 512.5 876.8 510.4 876 510.7 875.2 513.3 874.4 512.7 873.6 510.2 872.8 511.4 872 513.6 871.3 513.8 870.5 511.6 869.7 511.8 868.9 511.5 868.1 511.5 867.3 514.2 866.6 508.8 865.8 511.9 865 509.3 864.2 510.9 863.4 515.4 862.6 517 861.8 511.7 861.1 513.3 860.3 510 859.5 511.2 858.7 510.4 857.9 512 857.1 511 856.4 513.6 855.6 514.4 854.8 512.5 854 514.9 853.2 509.5 852.4 512.9 851.6 509.5 850.9 511.5 850.1 509.3 849.3 509.7 848.5 509.4 847.7 516.8 846.9 509 846.2 510.2 845.4 512.4 844.6 514.2 843.8 511.1 843 511.7 842.2 515.5 841.4 516.3 840.7 514.9 839.9 511.4 839.1 511.8 838.3 514.9 837.5 514.7 836.7 508.8 836 512.7 835.2 508.1 834.4 509.7 833.6 509.4 832.8 510.4 832 511.9 831.2 511.2 830.5 515.6 829.7 514.6 828.9 511.4 828.1 510.4 827.3 512.4 826.5 514.8 825.8 513.3 825 509.5 824.2 511.8 823.4 515.8 822.6 513.1 821.8 512.4 821 508.6 820.3 511 819.5 524.3 818.7 512.2 817.9 509.2 817.1 513.3 816.3 510.7 815.6 510.4 814.8 510.8 814 510.9 813.2 510.7 812.4 513.9 811.6 514.9 810.8 513 810.1 511 809.3 511.8 808.5 514.3 807.7 510.4 806.9 513.7 806.1 514.7 805.4 511.9 804.6 513.5 803.8 510.9 803 510 802.2 513.5 801.4 510.5 800.6 513.5 799.9 512.8 799.1 512.3 798.3 516.6 797.5 514.6 796.7 512.6 795.9 515.1 795.2 513.1 794.4 516.4 793.6 517.7 792.8 512.6 792 517.3 791.2 512.4 790.4 517.5 789.7 518.5 788.9 511.8 788.1 514.6 787.3 513.8 786.5 512.7 785.7 511.3 785 512.3 784.2 512.4 783.4 512.8 782.6 511.8 781.8 512.7 781 516.5 780.2 513.3 779.5 512.6 778.7 516.5 777.9 520 777.1 512.2 776.3 512.7 775.5 515.1 774.8 515.8 774 514.1 773.2 514.3 772.4 517.8 771.6 519.4 770.8 516.4 770 521.1 769.3 514.5 768.5 513.9 767.7 513.1 766.9 514 766.1 517.6 765.3 515.3 764.6 512.4 763.8 511.4 763 517.4 762.2 511.5 761.4 512.1 760.6 512.2 759.8 515.2 759.1 512.6 758.3 514.3 757.5 517.2 756.7 517.5 755.9 514.5 755.1 512.3 754.4 510.9 753.6 512.8 752.8 512.1 752 517.9 751.2 512.5 750.4 510.4 749.6 519.3 748.9 510.4 748.1 512.4 747.3 512 746.5 515.4 745.7 518.3 744.9 512.6 744.2 517.9 743.4 514.2 742.6 512.2 741.8 513.4 741 511.1 740.2 510.6 739.5 512.8 738.7 518.8 737.9 517.3 737.1 513.7 736.3 512.8 735.5 518.8 734.7 514.8 734 514.5 733.2 512.8 732.4 512.5 731.6 512.1 730.8 519.7 730 512.2 729.3 514.3 728.5 511.4 727.7 514 726.9 513.9 726.1 520.5 725.3 513.3 724.5 514.4 723.8 513.5 723 518.3 722.2 511.8 721.4 514.6 720.6 511.6 719.8 511 719.1 513.4 718.3 515 717.5 514.3 716.7 519.1 715.9 511.1 715.1 511.7 714.3 515.6 713.6 516.7 712.8 510.2 712 510.4 711.2 520 710.4 511.9 709.6 514 708.9 519.5 708.1 514.9 707.3 514.1 706.5 517.7 705.7 512.3 704.9 520.2 704.1 517.2 703.4 511.9 702.6 516.6 701.8 511.9 701 512 700.2 513.1 699.4 513.2 698.7 512.6 697.9 516 697.1 516.8 696.3 510.5 695.5 516.1 694.7 513.9 693.9 518.2 693.2 510.4 692.4 518.7 691.6 513.9 690.8 511.6 690 511.2 689.2 509.6 688.5 514.8 687.7 514 686.9 511.4 686.1 517.1 685.3 513.1 684.5 510 683.7 510.9 683 510.9 682.2 514.2 681.4 510.9 680.6 513.3 679.8 511.7 679 515.8 678.3 516.6 677.5 513.9 676.7 517.6 675.9 513.7 675.1 510.7 674.3 510.8 673.5 512.5 672.8 514.4 672 516.3 671.2 511.6 670.4 517.5 669.6 514.1 668.8 513.3 668.1 519.2 667.3 510.1 666.5 514 665.7 514.4 664.9 511.4 664.1 511.8 663.3 512.1 662.6 513.2 661.8 518.1 661 514.8 660.2 511 659.4 513.3 658.6 514.7 657.9 520 657.1 514.2 656.3 513.3 655.5 515.8 654.7 510.9 653.9 512.2 653.1 517.4 652.4 511.4 651.6 511.7 650.8 510.9 650 509.7 649.2 512.7 648.4 516.5 647.7 513.9 646.9 511.6 646.1 516.6 645.3 513.4 644.5 511.4 643.7 516.7 642.9 517.9 642.2 511.8 641.4 512.1 640.6 512.2 639.8 512.7 639 510.9 638.2 517.4 637.5 513 636.7 515.7 635.9 517.2 635.1 511.5 634.3 513.8 633.5 515.8 632.7 509.7 632 511.4 631.2 516.4 630.4 515.5 629.6 510.9 628.8 513.2 628 513.5 627.3 512.5 626.5 511 625.7 513 624.9 512.4 624.1 515.9 623.3 515.1 622.5 511.4 621.8 512.4 621 511.6 620.2 518.4 619.4 511.9 618.6 513.5 617.8 511.6 617.1 516.7 616.3 511.7 615.5 514.1 614.7 512.3 613.9 515.3 613.1 514 612.3 511.2 611.6 515.9 610.8 511.2 610 515.6 609.2 513.6 608.4 513.1 607.6 511.5 606.9 513.4 606.1 515.8 605.3 512.8 604.5 512.2 603.7 514.6 602.9 512.3 602.1 512.7 601.4 514.8 600.6 513.9 599.8 514.7 599 511.2 598.2 509.6 597.4 513.7 596.7 516.6 595.9 515 595.1 518.2 594.3 510.9 593.5 513 592.7 513.8 591.9 517.9 591.2 513.1 590.4 510.5 589.6 511.8 588.8 516.8 588 513.8 587.2 513.1 586.5 511.8 585.7 510.3 584.9 512.7 584.1 512 583.3 510.4 582.5 513.2 581.7 512.2 581 514.3 580.2 512.1 579.4 511.8 578.6 515.2 577.8 515.3 577 516.9 576.3 517 575.5 514.4 574.7 515.7 573.9 514.7 573.1 512.6 572.3 510.3 571.5 512.4 570.8 510.5 570 511.5 569.2 513.3 568.4 516.3 567.6 514.1 566.8 517 566.1 512.2 565.3 515.6 564.5 510.9 563.7 510.9 562.9 510.6 562.1 512.8 561.3 510.8 560.6 510.2 559.8 511.5 559 514.3 558.2 511.5 557.4 513.6 556.6 516.6 555.9 517.3 555.1 511.6 554.3 512.6 553.5 512.7 552.7 510.8 551.9 512.4 551.1 515.3 550.4 513.6 549.6 512.7 548.8 517.4 548 512.3 547.2 513.4 546.4 514.8 545.7 512.2 544.9 513.1 544.1 512.2 543.3 511.8 542.5 510.9 541.7 512.8 540.9 512.7 540.2 510.6 539.4 512.9 538.6 510.9 537.8 511 537 512.8 536.2 512.5 535.5 512.7 534.7 517.6 533.9 511.2 533.1 515.4 532.3 513.4 531.5 513 530.7 513.2 530 513.8 529.2 514.2 528.4 512.7 527.6 515.4 526.8 512.8 526 513.4 525.3 511.1 524.5 517.4 523.7 512.4 522.9 512.9 522.1 512.2 521.3 514 520.5 511.8 519.8 511.6 519 517.3 518.2 515 517.4 516.2 516.6 511.2 515.8 511.4 515.1 512.3 514.3 510.8 513.5 513.5 512.7 513.3 511.9 514.1 511.1 517.8 510.3 512.4 509.6 513.8 508.8 518.4 508 512.6 507.2 514.7 506.4 511.4 505.6 512.4 504.9 515.6 504.1 512.6 503.3 513.9 502.5 511.6 501.7 510.7 500.9 514 500.1 515 499.4 516.5 498.6 514.7 497.8 515.9 497 516.1 496.2 514.4 495.4 516.5 494.7 514.5 493.9 515.7 493.1 513.3 492.3 514.7 491.5 518.6 490.7 514.7 489.9 514.8 489.2 519.3 488.4 520 487.6 514.9 486.8 523.4 486 515.6 485.2 512.7 484.5 516.5 483.7 514.4 482.9 514.1 482.1 511.9 481.3 511.2 480.5 514.7 479.7 512.5 479 520.4 478.2 513.2 477.4 513.4 476.6 513.2 475.8 515.3 475 513.4 474.3 513.5 473.5 515.7 472.7 518.3 471.9 517.2 471.1 522.8 470.3 520.4 469.5 522.9 468.8 519.4 468 516.3 467.2 519.1 466.4 521.4 465.6 516 464.8 517.1 464.1 517.6 463.3 517.6 462.5 521.6 461.7 518.8 460.9 520.5 460.1 517.8 459.3 517.6 458.6 518.3 457.8 521.5 457 517.3 456.2 518.7 455.4 521.5 454.6 516.3 453.9 515.6 453.1 518.3 452.3 519.8 451.5 521.3 450.7 525.9 449.9 516.6 449.1 516.8 448.4 520.7 447.6 516 446.8 521 446 517.4 445.2 521 444.4 519.8 443.7 516.1 442.9 518.4 442.1 519.3 441.3 520.5 440.5 518.7 439.7 514.9 438.9 517.1 438.2 516.3 437.4 519.9 436.6 515.8 435.8 523.7 435 523.7 434.2 520.5 433.5 520.5 432.7 516.7 431.9 516.6 431.1 514.7 430.3 513.8 429.5 513.9 428.7 514.4 428 518.4 427.2 519.7 426.4 520.7 425.6 517 424.8 515.2 424 516.3 423.3 515 422.5 519 421.7 514 420.9 514.9 420.1 518.1 419.3 517.1 418.5 515.5 417.8 514.9 417 514.2 416.2 517.8 415.4 515.9 414.6 513.8 413.8 519.8 413.1 519.4 412.3 513.8 411.5 513.1 410.7 513.8 409.9 514.6 409.1 515.8 408.3 517.7 407.6 517.7 406.8 514.7 406 522.1 405.2 516.7 404.4 515.3 403.6 517.8 402.9 513.4 402.1 519.7 401.3 519 400.5 513.9 399.7 517.6 398.9 514.2 398.1 516.3 397.4 515.4 396.6 514.6 395.8 515.7 395 513.6 394.2 516.6 393.4 517.5 392.7 518 391.9 513.4 391.1 515.1 390.3 514.6 389.5 516.7 388.7 516.2 387.9 515.2 387.2 514.1 386.4 515.1 385.6 517.9 384.8 518.3 384 513 383.2 514.4 382.5 515.1 381.7 513.5 380.9 516.5 380.1 517.1 379.3 519.8 378.5 515.7 377.7 515.9 377 522.5 376.2 514.9 375.4 514.7 374.6 513.9 373.8 516.4 373 511.3 372.3 514.3 371.5 515.1 370.7 520.2 369.9 515.9 369.1 517.8 368.3 516.9 367.5 513.9 366.8 514.3 366 517.8 365.2 514.5 364.4 514.2 363.6 520.7 362.8 519.3 362.1 517.1 361.3 514.9 360.5 516.2 359.7 517.2 358.9 515 358.1 516.8 357.3 514.9 356.6 518.3 355.8 522.1 355 516.9 354.2 519.9 353.4 514.6 352.6 514.5 351.9 517 351.1 514.2 350.3 514 349.5 512.9 348.7 514.9 347.9 512.3 347.1 513.9 346.4 514.3 345.6 515.3 344.8 518.1 344 512.2 343.2 516.8 342.4 514 341.7 513.9 340.9 516.2 340.1 522.2 339.3 515 338.5 513.7 337.7 513.6 337 513.7 336.2 515.8 335.4 514.5 334.6 514.4 333.8 514.7 333 514.5 332.2 515.7 331.5 514 330.7 513 329.9 512.8 329.1 513.1 328.3 514.3 327.5 516.5 326.8 516.2 326 512.8 325.2 514 324.4 516.9 323.6 514.3 322.8 512.3 322 513.3 321.3 514.2 320.5 519.3 319.7 518.7 318.9 511.7 318.1 511.9 317.3 513.6 316.6 515.9 315.8 512 315 517.4 314.2 512.4 313.4 513.6 312.6 514.8 311.8 513.4 311.1 514.2 310.3 513 309.5 517.6 308.7 512.8 307.9 515.9 307.1 513.9 306.4 516.7 305.6 516 304.8 516.9 304 515.5 303.2 513.2 302.4 515.4 301.6 513.5 300.9 515.3 300.1 514.3 299.3 510.4 298.5 517.2 297.7 515.8 296.9 514.2 296.2 516 295.4 513.1 294.6 510 293.8 513.7 293 512.1 292.2 515.6 291.4 519.9 290.7 511.3 289.9 513.1 289.1 511.9 288.3 513.3 287.5 511.1 286.7 511 286 512.9 285.2 512.8 284.4 512 283.6 513.2 282.8 515.8 282 511.1 281.2 514.9 280.5 516.6 279.7 512.6 278.9 510.7 278.1 510.4 277.3 514 276.5 508.9 275.8 509.7 275 513 274.2 512.6 273.4 512.5 272.6 515.3 271.8 511.5 271 510.9 270.3 511.3 269.5 518.1 268.7 509.7 267.9 510.8 267.1 513.4 266.3 507.8 265.6 509.1 264.8 509.2 264 509.9 263.2 508.5 262.4 511.5 261.6 507.4 260.8 511.4 260.1 509.8 259.3 506.8 258.5 507.4 257.7 515 256.9 507 256.1 514.5 255.4 510.2 254.6 508.1 253.8 506.7 253 505.9 252.2 514 251.4 511.4 250.6 507.1 249.9 508.2 249.1 507.1 248.3 508.5 247.5 507.5 246.7 503.2 245.9 506.6 245.2 502.6 244.4 503.7 243.6 505.7 242.8 506.9 242 503.4 241.2 504.6 240.4 504.2 239.7 503.5 238.9 501.4 238.1 503.8 237.3 501.1 236.5 505.4 235.7 502.4 235 504 234.2 502.2 233.4 503 232.6 503 231.8 502.3 231 505.2 230.2 506.7 229.5 503.6 228.7 506.5 227.9 502.6 227.1 502.9 226.3 512.1 225.5 506.3 224.8 503.5 224 507.6 223.2 502.2 222.4 502.4 221.6 502.8 220.8 499.7 220 502.3 219.3 505.4 218.5 503.5 217.7 506.1 216.9 498.4 216.1 501 215.3 500.2 214.6 499.9 213.8 502 213 496.9 212.2 503 211.4 497.3 210.6 498.1 209.8 494.8 209.1 499.5 208.3 496 207.5 495.4 206.7 495.9 205.9 494.9 205.1 496.2 204.4 500.3 203.6 500.2 202.8 503 202 500.5 201.2 497.2 200.4 497.5 199.6 498.4 198.9 496 198.1 497.3 197.3 499.9 196.5 495.2 195.7 493.7 194.9 494.3 194.2 497.7 193.4 494 192.6 496.2 191.8 495.1 191 490.7 190.2 490.5 189.4 493.5 188.7 494.3 187.9 494 187.1 491.4 186.3 493.6 185.5 489.3 184.7 487.2 184 485 183.2 484 182.4 482.2 181.6 483.2 180.8 480.6 180 482.2 179.2 483.6 178.5 486.8 177.7 482.6 176.9 478.5 176.1 484.9 175.3 479 174.5 480.3 173.8 482.5 173 480.4 172.2 486.6 171.4 478.5 170.6 478.3 169.8 477.9 169 475.8 168.3 477.2 167.5 477.1 166.7 474.8 165.9 472.1 165.1 475.5 164.3 473.9 163.6 474.2 162.8 468.3 162 469 161.2 466.8 160.4 472.7 159.6 466.4 158.8 468.4 158.1 471.1 157.3 465.7 156.5 463.5 155.7 463.8 154.9 462.2 154.1 455.9 153.4 453.5 152.6 449.7 151.8 445.4 151 440.2Z" fill="#a0a0a0"/>
<path d="M151 414 151.8 406.2 152.6 401.3 153.4 396 154.1 390.5 154.9 379.9 155.7 371.8 156.5 367.7 157.3 367.3 158.1 367.4 158.8 362.3 159.6 357.5 160.4 359.4 161.2 358 162 353.7 162.8 352.5 163.6 354.4 164.3 363.2 165.1 363.7 165.9 368.6 166.7 364.1 167.5 364.7 168.3 358.8 169 358.2 169.8 355.5 170.6 364.8 171.4 368.2 172.2 368.9 173 361.9 173.8 366.2 174.5 368.7 175.3 373.3 176.1 372.2 176.9 368.6 177.7 369.3 178.5 368.1 179.2 369.8 180 370.3 180.8 371.7 181.6 373.7 182.4 371.4 183.2 374.5 184 374.2 184.7 369.8 185.5 370.4 186.3 367.6 187.1 371.1 187.9 367.9 188.7 364 189.4 361.7 190.2 363 191 367.8 191.8 367.1 192.6 362.7 193.4 359.5 194.2 360.2 194.9 356.3 195.7 352.7 196.5 353.3 197.3 353.5 198.1 358.1 198.9 354.4 199.6 357.4 200.4 356.5 201.2 356.2 202 348.5 202.8 341.9 203.6 344.1 204.4 348.1 205.1 348.4 205.9 349.2 206.7 346.9 207.5 347.9 208.3 337.7 209.1 335.2 209.8 337 210.6 343.1 211.4 347.1 212.2 342.4 213 343.7 213.8 344.9 214.6 349.6 215.3 349.8 216.1 350.5 216.9 356.1 217.7 356.9 218.5 358.7 219.3 352.7 220 351.7 220.8 351.5 221.6 354.1 222.4 358.2 223.2 356 224 359.1 224.8 355.3 225.5 361.6 226.3 359.5 227.1 365.6 227.9 367 228.7 368 229.5 364.6 230.2 356.8 231 347.9 231.8 346.7 232.6 348.2 233.4 353.5 234.2 348.5 235 346.1 235.7 346.4 236.5 344.8 237.3 341.6 238.1 343.2 238.9 344.7 239.7 345.2 240.4 344.3 241.2 342.3 242 344.1 242.8 336.8 243.6 336.1 244.4 332.2 245.2 336.1 245.9 336.1 246.7 341.6 247.5 342.3 248.3 340.8 249.1 342.3 249.9 337.2 250.6 344.9 251.4 337 252.2 343.3 253 336.6 253.8 339.6 254.6 342.8 255.4 342.4 256.1 339.4 256.9 335.9 257.7 341.7 258.5 347.8 259.3 351.7 260.1 348.5 260.8 350.8 261.6 349 262.4 355.9 263.2 357.3 264 362.2 264.8 356.9 265.6 356.5 266.3 350.6 267.1 355.5 267.9 358.3 268.7 363.4 269.5 366.2 270.3 363.2 271 362.5 271.8 360.8 272.6 364.3 273.4 364.8 274.2 357.9 275 354.8 275.8 354.7 276.5 358 277.3 350.7 278.1 351.1 278.9 351.9 279.7 357.4 280.5 357.5 281.2 353.7 282 351 282.8 344.4 283.6 348.2 284.4 345.9 285.2 346.9 286 344.2 286.7 348.2 287.5 349.4 288.3 344 289.1 341.3 289.9 335.8 290.7 339.2 291.4 338.1 292.2 339.7 293 336.8 293.8 335.5 294.6 335.5 295.4 338.4 296.2 334.8 296.9 333.3 297.7 333.2 298.5 339.6 299.3 347.1 300.1 346.4 300.9 342.7 301.6 339.8 302.4 342.1 303.2 343.7 304 341.8 304.8 341.6 305.6 346.5 306.4 345.4 307.1 353.2 307.9 350.1 308.7 353.3 309.5 346.7 310.3 343.5 311.1 340.5 311.8 346.7 312.6 357.8 313.4 359.9 314.2 359.5 315 354.3 315.8 354.2 316.6 356.2 317.3 362.7 318.1 364.5 318.9 359.2 319.7 353.5 320.5 354.1 321.3 357 322 360.9 322.8 361.5 323.6 361.9 324.4 362.3 325.2 360.2 326 357.4 326.8 349.7 327.5 353.1 328.3 353.6 329.1 356.7 329.9 355.1 330.7 351.1 331.5 349.2 332.2 344 333 342.3 333.8 332.3 334.6 336.4 335.4 333.4 336.2 338.7 337 333.1 337.7 339.1 338.5 339 339.3 335.3 340.1 331.1 340.9 329.4 341.7 332.6 342.4 328.8 343.2 329.1 344 335 344.8 340.8 345.6 346.8 346.4 350.1 347.1 349.6 347.9 339.3 348.7 329.1 349.5 331 350.3 338.1 351.1 334.7 351.9 330.6 352.6 327.5 353.4 331.2 354.2 331.6 355 329.2 355.8 327.4 356.6 326.8 357.3 332.5 358.1 332.7 358.9 335.5 359.7 328.8 360.5 334.4 361.3 337.5 362.1 350.4 362.8 360.2 363.6 363.9 364.4 368.9 365.2 375.8 366 388.3 366.8 395.2 367.5 399.2 368.3 398.2 369.1 396.9 369.9 385.9 370.7 387.3 371.5 385.3 372.3 383.5 373 373.8 373.8 369.3 374.6 366.1 375.4 362.4 376.2 362.5 377 361.1 377.7 368.8 378.5 359.6 379.3 352.7 380.1 342.8 380.9 345.3 381.7 347.6 382.5 349.5 383.2 352.1 384 352.8 384.8 353 385.6 347.2 386.4 344.5 387.2 344.6 387.9 350.8 388.7 354.2 389.5 348.7 390.3 345 391.1 342.6 391.9 348.3 392.7 353.1 393.4 353.2 394.2 349.1 395 345.2 395.8 344 396.6 345.7 397.4 342.5 398.1 345 398.9 343.4 399.7 344.7 400.5 335.3 401.3 335.3 402.1 329.1 402.9 325.4 403.6 322.3 404.4 324.3 405.2 326.8 406 324.1 406.8 323.6 407.6 321.1 408.3 313.2 409.1 309.2 409.9 310.8 410.7 321 411.5 319.9 412.3 323.8 413.1 324.7 413.8 322.5 414.6 322.1 415.4 316 416.2 316 417 313.1 417.8 315.4 418.5 314.8 419.3 316.9 420.1 321.2 420.9 332.2 421.7 332.1 422.5 327.7 423.3 322.5 424 327.6 424.8 336.9 425.6 343.5 426.4 341.7 427.2 341.7 428 341.4 428.7 343.4 429.5 345.8 430.3 348.6 431.1 350.9 431.9 352.2 432.7 352.6 433.5 349.4 434.2 349.3 435 352.7 435.8 365.8 436.6 368.5 437.4 373.5 438.2 371.4 438.9 368.8 439.7 359.4 440.5 354.3 441.3 361 442.1 363.2 442.9 363.6 443.7 355.1 444.4 345.8 445.2 341.8 446 345 446.8 354.5 447.6 354.1 448.4 351.1 449.1 349.8 449.9 348.1 450.7 349.9 451.5 341.7 452.3 337.5 453.1 329.4 453.9 333.1 454.6 333.7 455.4 336.2 456.2 334.8 457 336.2 457.8 338.7 458.6 340.8 459.3 336 460.1 331.4 460.9 325.1 461.7 323.2 462.5 326.8 463.3 328.7 464.1 329.6 464.8 321.2 465.6 318.2 466.4 313.8 467.2 312.7 468 313.5 468.8 317.9 469.5 314.3 470.3 307.4 471.1 308.7 471.9 305.2 472.7 303.1 473.5 291.3 474.3 294.9 475 296 475.8 301.9 476.6 291.1 477.4 289 478.2 278.8 479 290.7 479.7 291.6 480.5 303.7 481.3 304.8 482.1 304.2 482.9 304.8 483.7 302.3 484.5 306.2 485.2 307.5 486 314.4 486.8 318.8 487.6 317.6 488.4 319.7 489.2 322.8 489.9 325.5 490.7 329 491.5 332.4 492.3 333.6 493.1 328.6 493.9 330.3 494.7 331.1 495.4 336.8 496.2 336.1 497 334.4 497.8 335 498.6 328.2 499.4 334.3 500.1 332.4 500.9 338.8 501.7 339.6 502.5 340 503.3 340.7 504.1 337.5 504.9 340.4 505.6 344.3 506.4 347.4 507.2 348.1 508 342.7 508.8 346.2 509.6 347.4 510.3 356.7 511.1 352.8 511.9 357 512.7 355.7 513.5 356.3 514.3 347.9 515.1 345.4 515.8 347 516.6 351.1 517.4 348.3 518.2 342.1 519 340.7 519.8 337.8 520.5 335.6 521.3 333.8 522.1 328.6 522.9 331.8 523.7 331.7 524.5 337.6 525.3 327.8 526 323.9 526.8 316.4 527.6 321.2 528.4 318.6 529.2 318.1 530 311 530.7 313.7 531.5 317.6 532.3 325.6 533.1 325.5 533.9 317.2 534.7 310.5 535.5 308.2 536.2 313.8 537 316.4 537.8 308 538.6 311.4 539.4 307.6 540.2 314.2 540.9 301.1 541.7 306.6 542.5 306.4 543.3 316.5 544.1 318.4 544.9 315.4 545.7 310.3 546.4 310.7 547.2 319.9 548 330.6 548.8 332.7 549.6 332.3 550.4 328.9 551.1 330.1 551.9 335.7 552.7 337.9 553.5 339.9 554.3 334.6 555.1 330.8 555.9 333.3 556.6 340.8 557.4 346.9 558.2 348.4 559 348.4 559.8 348.5 560.6 349.9 561.3 345.8 562.1 346 562.9 342.1 563.7 344.6 564.5 346.7 565.3 350.5 566.1 350.7 566.8 350.2 567.6 346.6 568.4 346 569.2 348.6 570 349.2 570.8 353.4 571.5 351.2 572.3 352.4 573.1 354.8 573.9 352.6 574.7 351.3 575.5 345.5 576.3 347.1 577 348.8 577.8 351.5 578.6 349.6 579.4 348.7 580.2 343.9 581 345.4 581.7 341.5 582.5 339.9 583.3 335.2 584.1 335.8 584.9 333.1 585.7 336.4 586.5 332.2 587.2 331.7 588 324.2 588.8 323 589.6 324.4 590.4 324.6 591.2 322.4 591.9 317.6 592.7 314.7 593.5 320 594.3 318.2 595.1 313.8 595.9 304.5 596.7 304 597.4 311 598.2 309.8 599 309.6 599.8 312.3 600.6 315.1 601.4 320.2 602.1 317.3 602.9 321.4 603.7 313.8 604.5 311.9 605.3 310 606.1 309.5 606.9 304.3 607.6 306.5 608.4 313.6 609.2 323.4 610 326.2 610.8 325.1 611.6 320.9 612.3 319.4 613.1 318.6 613.9 323.1 614.7 324.6 615.5 326.4 616.3 323.1 617.1 320.6 617.8 322.6 618.6 326.3 619.4 329.5 620.2 334.8 621 339.9 621.8 338.5 622.5 334.9 623.3 328.1 624.1 334.5 624.9 334.8 625.7 336.9 626.5 333.6 627.3 338.8 628 337.3 628.8 331.1 629.6 322.3 630.4 322.4 631.2 324.5 632 322.7 632.7 328.7 633.5 328.4 634.3 328.3 635.1 316.9 635.9 310.6 636.7 308 637.5 308.5 638.2 312.2 639 312.5 639.8 314.5 640.6 314.9 641.4 313.8 642.2 305.4 642.9 308 643.7 313.2 644.5 321 645.3 318.6 646.1 320.8 646.9 319.1 647.7 328.6 648.4 331.3 649.2 338.8 650 335.6 650.8 334.1 651.6 340.4 652.4 348 653.1 352.4 653.9 348.1 654.7 348.3 655.5 344.5 656.3 339.2 657.1 331.2 657.9 334.3 658.6 330.9 659.4 331.5 660.2 325 661 329.3 661.8 329.5 662.6 330.6 663.3 328.3 664.1 321.9 664.9 320 665.7 321.6 666.5 324.4 667.3 327.2 668.1 322.4 668.8 325.6 669.6 326.8 670.4 326.8 671.2 318.8 672 312.1 672.8 316.6 673.5 323.8 674.3 326.2 675.1 327.7 675.9 332.3 676.7 337.6 677.5 336.8 678.3 337.2 679 343.6 679.8 350.4 680.6 344.6 681.4 340.7 682.2 335.6 683 335.8 683.7 330.4 684.5 329.8 685.3 327.8 686.1 331.3 686.9 330.3 687.7 333.9 688.5 326.4 689.2 324.2 690 322.2 690.8 325.7 691.6 325.1 692.4 319.5 693.2 322.2 693.9 323.6 694.7 325.8 695.5 311.8 696.3 304.5 697.1 304.8 697.9 311.6 698.7 309.3 699.4 310.9 700.2 315.4 701 319.2 701.8 318 702.6 316 703.4 322.5 704.1 319.2 704.9 317.1 705.7 314.9 706.5 319.9 707.3 332.7 708.1 333.6 708.9 337.5 709.6 331 710.4 332 711.2 333.6 712 341.4 712.8 343.2 713.6 345.2 714.3 341.8 715.1 345.6 715.9 345.2 716.7 352.2 717.5 347.3 718.3 346.3 719.1 336.5 719.8 334.9 720.6 336.5 721.4 346.3 722.2 356.1 723 360.7 723.8 357.5 724.5 355.3 725.3 358.6 726.1 356.7 726.9 362.5 727.7 356.2 728.5 358.4 729.3 355.5 730 357.4 730.8 359.6 731.6 361.3 732.4 367.2 733.2 366.4 734 359.6 734.7 349 735.5 345.6 736.3 350 737.1 356.4 737.9 354.3 738.7 354.9 739.5 351.2 740.2 354.8 741 352.5 741.8 351.9 742.6 349.5 743.4 351.4 744.2 349.4 744.9 340.2 745.7 335.3 746.5 333.1 747.3 336.8 748.1 332.6 748.9 333.5 749.6 334 750.4 331.6 751.2 325.5 752 322.7 752.8 318.9 753.6 320.1 754.4 318.4 755.1 323.1 755.9 317.1 756.7 324.2 757.5 325.4 758.3 332.5 759.1 325.1 759.8 321.9 760.6 316.7 761.4 324.4 762.2 324.8 763 330.8 763.8 328.7 764.6 330.1 765.3 332.9 766.1 338 766.9 341.6 767.7 344.2 768.5 340.5 769.3 339 770 334.1 770.8 327.9 771.6 330 772.4 336.1 773.2 343.7 774 346.2 774.8 345.5 775.5 342.2 776.3 341.6 777.1 344.3 777.9 343.8 778.7 342.4 779.5 335.5 780.2 337.7 781 335.7 781.8 337 782.6 333.8 783.4 334.7 784.2 333.9 785 336.8 785.7 343 786.5 345 787.3 347.4 788.1 342.6 788.9 346.6 789.7 341 790.4 341.6 791.2 341.5 792 352.2 792.8 353.7 793.6 352.1 794.4 350.9 795.2 351.6 795.9 355.2 796.7 353.2 797.5 357.6 798.3 357.6 799.1 352.6 799.9 338.6 800.6 337.9 801.4 338.7 802.2 345.7 803 336.4 803.8 334.8 804.6 330 805.4 328.9 806.1 324.6 806.9 322.4 807.7 320.1 808.5 319.9 809.3 317.7 810.1 313.8 810.8 303.2 811.6 295.6 812.4 296.1 813.2 294.3 814 287.6 814.8 279.1 815.6 279.1 816.3 285.5 817.1 286.5 817.9 289.3 818.7 291.4 819.5 297 820.3 291.9 821 288.8 821.8 283.9 822.6 291.1 823.4 290.1 824.2 296.8 825 297 825.8 293.4 826.5 285.9 827.3 283.6 828.1 288.3 828.9 286.4 829.7 277.8 830.5 275.8 831.2 278.9 832 280.3 832.8 275.4 833.6 266.4 834.4 258.1 835.2 262.3 836 265.2 836.7 277.9 837.5 281.3 838.3 282.4 839.1 281.7 839.9 288.7 840.7 299.9 841.4 301.8 842.2 305.9 843 307.1 843.8 311.6 844.6 306.8 845.4 308.1 846.2 309 846.9 312.5 847.7 311.2 848.5 312.9 849.3 316 850.1 316.8 850.9 314 851.6 313.9 852.4 314.9 853.2 316 854 316.7 854.8 315.7 855.6 321.5 856.4 315 857.1 308.7 857.9 298.7 858.7 301.8 859.5 305.5 860.3 310.2 861.1 308 861.8 304.3 862.6 307.6 863.4 303.5 864.2 307.3 865 297.6 865.8 299.1 866.6 299.9 867.3 302.2 868.1 299.3 868.9 295.9 869.7 294.1 870.5 296.8 871.3 302.4 872 299.9 872.8 295 873.6 287.8 874.4 290.4 875.2 289.3 876 291.1 876.8 293.4 877.5 297.2 878.3 292 879.1 294.1 879.9 289.8 880.7 295.4 881.5 294.4 882.2 294.2 883 292.4 883.8 293 884.6 298 885.4 294.7 886.2 286.9 887 287.1 887.7 288.7 888.5 290.1 889.3 290.7 890.1 290.5 890.9 292 891.7 290.8 892.4 292.6 893.2 291.5 894 288.9 894.8 288.3 895.6 289 896.4 284.8 897.2 281.5 897.9 276.6 898.7 275.5 899.5 273.5 900.3 268.4 901.1 273.8 901.9 272.3 902.6 279.5 903.4 270.4 904.2 266.8 905 270.6 905.8 278.2 906.6 280.2 907.4 270.4 908.1 263.9 908.9 264.9 909.7 264.7 910.5 263.7 911.3 262.5 912.1 259.5 912.8 267.3 913.6 263.9 914.4 269.1 915.2 257.8 916 259.3 916.8 257.6 917.6 258.8 918.3 260.2 919.1 259.7 919.9 265.1 920.7 261.7 921.5 256.6 922.3 247.9 923 247.7 923.8 245.3 924.6 247.8 925.4 247 926.2 247.8 927 243.9 927.8 244.1 928.5 245.9 929.3 249.1 930.1 247.1 930.9 251.2 931.7 249.5 932.5 253.1 933.2 250.9 934 258.7 934.8 258.4 935.6 261.8" fill="none" stroke="#ff0000" stroke-width="3.6" stroke-linejoin="round"/>
<path d="M151 433.3 151.8 438.3 152.6 442.9 153.4 444.4 154.1 447.3 154.9 449.5 155.7 453 156.5 454.9 157.3 457.3 158.1 457.9 158.8 458.2 159.6 458.5 160.4 459 161.2 459.6 162 460.3 162.8 461.5 163.6 462.8 164.3 464.3 165.1 464.1 165.9 464.7 166.7 465.1 167.5 466.6 168.3 467.8 169 468.3 169.8 469.2 170.6 469.7 171.4 471.4 172.2 471.9 173 473 173.8 472.5 174.5 472.1 175.3 472.3 176.1 471.7 176.9 471.8 177.7 471.4 178.5 472.1 179.2 472.4 180 473 180.8 473.8 181.6 474.3 182.4 475 183.2 475.1 184 475.4 184.7 477 185.5 479 186.3 480.2 187.1 481 187.9 481 188.7 482.4 189.4 482.5 190.2 483.1 191 483.3 191.8 484.1 192.6 484.8 193.4 485.5 194.2 486.1 194.9 486.3 195.7 487.1 196.5 486.9 197.3 487.9 198.1 487.7 198.9 489 199.6 489.5 200.4 489.5 201.2 490.1 202 490.2 202.8 491 203.6 490.7 204.4 488.8 205.1 488 205.9 487.1 206.7 488.1 207.5 487.7 208.3 487.5 209.1 486.6 209.8 487.4 210.6 487.8 211.4 488.9 212.2 489.4 213 490 213.8 490.7 214.6 491.6 215.3 491.7 216.1 491.7 216.9 491.3 217.7 492.5 218.5 492.5 219.3 492.5 220 491.9 220.8 492.3 221.6 493 222.4 493.4 223.2 494.5 224 494.7 224.8 495.5 225.5 495.8 226.3 495.6 227.1 495.5 227.9 495.3 228.7 495.6 229.5 495.1 230.2 495.1 231 494.9 231.8 494.7 232.6 494.3 233.4 493.8 234.2 493.7 235 492.5 235.7 492.1 236.5 491.9 237.3 493 238.1 492.9 238.9 493.1 239.7 493.4 240.4 494.4 241.2 494.7 242 494.2 242.8 494.6 243.6 494.1 244.4 495.3 245.2 495.2 245.9 496.8 246.7 495.8 247.5 496.5 248.3 496.3 249.1 497 249.9 496.5 250.6 497.2 251.4 498 252.2 499.4 253 499 253.8 499.2 254.6 498.9 255.4 499.5 256.1 499.9 256.9 500.3 257.7 500 258.5 499.4 259.3 500.1 260.1 500.6 260.8 501.7 261.6 500.7 262.4 501.2 263.2 501.2 264 501.9 264.8 501.3 265.6 501.3 266.3 501 267.1 501.2 267.9 501.4 268.7 502.1 269.5 502.1 270.3 502 271 501.5 271.8 501.4 272.6 501.1 273.4 501.6 274.2 502.4 275 502.4 275.8 501.4 276.5 501.4 277.3 502.7 278.1 503.7 278.9 503.7 279.7 504 280.5 503.7 281.2 504.2 282 504.1 282.8 503.8 283.6 503.6 284.4 503.2 285.2 503.4 286 502.9 286.7 503.1 287.5 503.4 288.3 504.2 289.1 503.4 289.9 503.2 290.7 503.4 291.4 504.3 292.2 504.3 293 503.7 293.8 503 294.6 502.8 295.4 503.4 296.2 504.3 296.9 505.5 297.7 505.3 298.5 505.3 299.3 503.6 300.1 503.7 300.9 504.7 301.6 506.2 302.4 506.3 303.2 505.9 304 506 304.8 506.3 305.6 505.6 306.4 505.3 307.1 505.5 307.9 505.4 308.7 505.6 309.5 505.4 310.3 506.4 311.1 506.5 311.8 506 312.6 506.1 313.4 505.9 314.2 505.8 315 505.3 315.8 505.2 316.6 506 317.3 505.3 318.1 505 318.9 504.4 319.7 505.8 320.5 506.7 321.3 506.4 322 504.9 322.8 504.4 323.6 504.3 324.4 505.3 325.2 505.5 326 506.1 326.8 505.7 327.5 506.3 328.3 505.9 329.1 505.5 329.9 505.4 330.7 506.4 331.5 506.8 332.2 506.7 333 507.1 333.8 506.9 334.6 506.6 335.4 505.8 336.2 505.2 337 505.3 337.7 505.4 338.5 506.3 339.3 506.9 340.1 506.9 340.9 506.7 341.7 506.5 342.4 506.4 343.2 505.8 344 505.2 344.8 504.7 345.6 505.2 346.4 505.3 347.1 505 347.9 505.3 348.7 504.7 349.5 505.7 350.3 505.8 351.1 507.3 351.9 507 352.6 506.6 353.4 505.4 354.2 505.5 355 505.8 355.8 506.6 356.6 506.6 357.3 507.1 358.1 506.9 358.9 507.4 359.7 506.8 360.5 506.8 361.3 506.3 362.1 506.8 362.8 507.5 363.6 506.3 364.4 506.5 365.2 505.2 366 505.8 366.8 505.3 367.5 506.5 368.3 506.3 369.1 505.4 369.9 505.3 370.7 505.9 371.5 506.2 372.3 505.6 373 504.6 373.8 505.3 374.6 505.3 375.4 506.7 376.2 505.5 377 506.1 377.7 506.5 378.5 507.5 379.3 507.2 380.1 505.4 380.9 505.5 381.7 505.4 382.5 506 383.2 505.2 384 505.2 384.8 505 385.6 505.5 386.4 505.6 387.2 506 387.9 506.2 388.7 506.5 389.5 506.1 390.3 506.7 391.1 505.8 391.9 505.9 392.7 505.4 393.4 506.3 394.2 506.8 395 506.6 395.8 505.9 396.6 505.7 397.4 505.5 398.1 506.1 398.9 506.2 399.7 507.3 400.5 506.8 401.3 506.8 402.1 506.3 402.9 506.2 403.6 506 404.4 507 405.2 507.6 406 508.5 406.8 506.8 407.6 505.8 408.3 505.4 409.1 505.9 409.9 507.1 410.7 506.7 411.5 506.5 412.3 505.8 413.1 506.4 413.8 506.1 414.6 507.1 415.4 506.5 416.2 506.7 417 506 417.8 506.6 418.5 507.4 419.3 508 420.1 507.6 420.9 506.8 421.7 507.2 422.5 507 423.3 507.2 424 506.5 424.8 506.5 425.6 506.1 426.4 506.2 427.2 506 428 506.5 428.7 506 429.5 507.2 430.3 507 431.1 507.9 431.9 507.2 432.7 508.3 433.5 509 434.2 509.1 435 509 435.8 508 436.6 508.6 437.4 507.7 438.2 507.8 438.9 507.3 439.7 508.3 440.5 508.8 441.3 509.2 442.1 509.2 442.9 508.9 443.7 508.5 444.4 509 445.2 509.1 446 509.5 446.8 508.8 447.6 507.9 448.4 507.3 449.1 507.6 449.9 509.2 450.7 510.1 451.5 510.7 452.3 509.7 453.1 509.5 453.9 508.8 454.6 509.4 455.4 509.1 456.2 508.5 457 508.6 457.8 508.8 458.6 509.9 459.3 509.2 460.1 509.6 460.9 509.8 461.7 510.8 462.5 511 463.3 510.3 464.1 508.6 464.8 508.5 465.6 508.1 466.4 508.9 467.2 508.7 468 509 468.8 509 469.5 508.6 470.3 507.4 471.1 507.9 471.9 507.3 472.7 507.7 473.5 506.9 474.3 506.8 475 506.4 475.8 505.8 476.6 505.5 477.4 505.3 478.2 506.1 479 505.4 479.7 504.5 480.5 502.9 481.3 503.1 482.1 504.7 482.9 505.2 483.7 506 484.5 505.6 485.2 505.1 486 505.1 486.8 504.9 487.6 506.1 488.4 505.8 489.2 505.7 489.9 505.2 490.7 505.4 491.5 504.6 492.3 504.8 493.1 505 493.9 506.1 494.7 505.1 495.4 503.7 496.2 503.2 497 504 497.8 505.1 498.6 504.7 499.4 504.8 500.1 504 500.9 503.8 501.7 503.4 502.5 503.7 503.3 504 504.1 503.3 504.9 504 505.6 503.8 506.4 504.7 507.2 504.5 508 505 508.8 504.9 509.6 505 510.3 505.7 511.1 506 511.9 504.9 512.7 503.4 513.5 502.7 514.3 502.8 515.1 503.8 515.8 504.1 516.6 504.5 517.4 504.8 518.2 505.1 519 505.2 519.8 504.9 520.5 504.9 521.3 504.7 522.1 504.7 522.9 503.8 523.7 503.9 524.5 503.9 525.3 504.3 526 504.4 526.8 504.5 527.6 504.7 528.4 504.3 529.2 503.7 530 503 530.7 504 531.5 504.5 532.3 505.2 533.1 504.4 533.9 504.4 534.7 504.4 535.5 504.1 536.2 503.9 537 504.1 537.8 503.9 538.6 503.5 539.4 503.2 540.2 503.4 540.9 504.2 541.7 503.4 542.5 503.9 543.3 503.9 544.1 504.5 544.9 504.8 545.7 504.3 546.4 504.1 547.2 503.7 548 504.1 548.8 505.8 549.6 505.7 550.4 506.3 551.1 504.6 551.9 504.2 552.7 503.2 553.5 503.5 554.3 504.1 555.1 504.2 555.9 504.3 556.6 504.5 557.4 504.8 558.2 504.1 559 503.8 559.8 503 560.6 503.6 561.3 503.6 562.1 504.1 562.9 503.8 563.7 503.4 564.5 503.3 565.3 503.8 566.1 504.5 566.8 503.8 567.6 503.7 568.4 503.4 569.2 503.5 570 502.9 570.8 502.6 571.5 503.4 572.3 502.8 573.1 502.9 573.9 502.5 574.7 503.6 575.5 504.4 576.3 505.2 577 505 577.8 504.2 578.6 503.7 579.4 504.4 580.2 505.2 581 505.2 581.7 505.3 582.5 504.3 583.3 503.7 584.1 501.8 584.9 501.8 585.7 502.6 586.5 504.2 587.2 506.1 588 506.1 588.8 505.8 589.6 503.8 590.4 503.3 591.2 503 591.9 503.3 592.7 503.3 593.5 502.9 594.3 503.5 595.1 504 595.9 505.2 596.7 504 597.4 503.3 598.2 502.3 599 503.6 599.8 504 600.6 504.5 601.4 503.9 602.1 504.1 602.9 503.7 603.7 504 604.5 503.5 605.3 503.6 606.1 503.6 606.9 504 607.6 504.3 608.4 503.8 609.2 503.9 610 503.6 610.8 504.1 611.6 504.6 612.3 504.4 613.1 504.6 613.9 503.7 614.7 503.9 615.5 504.2 616.3 504.9 617.1 505.3 617.8 504.9 618.6 505 619.4 504.5 620.2 504.2 621 503.5 621.8 504 622.5 503.8 623.3 504.3 624.1 504.1 624.9 504 625.7 503.7 626.5 503.8 627.3 504.6 628 504.5 628.8 504.2 629.6 503.8 630.4 504.2 631.2 504.1 632 502.9 632.7 502.7 633.5 502.8 634.3 503.7 635.1 504.7 635.9 504.8 636.7 505.3 637.5 503.6 638.2 503.7 639 503.8 639.8 504.5 640.6 504.3 641.4 504.2 642.2 504.1 642.9 504.8 643.7 504.6 644.5 504.3 645.3 502.8 646.1 502.4 646.9 502.6 647.7 503 648.4 502.8 649.2 502.2 650 502.3 650.8 502.8 651.6 503.4 652.4 503.8 653.1 503.6 653.9 503.6 654.7 504 655.5 505.1 656.3 505.5 657.1 506 657.9 505.1 658.6 504.8 659.4 504.6 660.2 504.4 661 504 661.8 503.2 662.6 502.8 663.3 502.3 664.1 502.9 664.9 503.2 665.7 503.8 666.5 503.1 667.3 503.1 668.1 503.6 668.8 504.1 669.6 504.9 670.4 504.9 671.2 504.7 672 504.9 672.8 505.1 673.5 504.8 674.3 504.2 675.1 503.5 675.9 504.6 676.7 504.9 677.5 505.3 678.3 504.5 679 504.4 679.8 503.8 680.6 503.8 681.4 503.5 682.2 503.9 683 503.6 683.7 503.8 684.5 503.3 685.3 503.4 686.1 503.2 686.9 503.6 687.7 503.6 688.5 503.2 689.2 502.8 690 502.9 690.8 503 691.6 503.3 692.4 502.9 693.2 503.3 693.9 504.3 694.7 504.3 695.5 504.2 696.3 503.8 697.1 504.5 697.9 504.9 698.7 503.5 699.4 503.2 700.2 503.5 701 504.2 701.8 504.6 702.6 503.1 703.4 503.8 704.1 504.6 704.9 505.4 705.7 505.1 706.5 504.3 707.3 505.3 708.1 505 708.9 504.1 709.6 504 710.4 503.7 711.2 504.7 712 502.8 712.8 503.1 713.6 503 714.3 503.5 715.1 503.5 715.9 503.7 716.7 503.9 717.5 504.3 718.3 504.9 719.1 504.3 719.8 504.2 720.6 503.7 721.4 504.5 722.2 505 723 505.4 723.8 505.8 724.5 505.3 725.3 504.7 726.1 504 726.9 504 727.7 503.8 728.5 504 729.3 504.3 730 504.5 730.8 505.1 731.6 504.2 732.4 504.1 733.2 503.7 734 504.8 734.7 504.9 735.5 505.3 736.3 504.4 737.1 504.5 737.9 504.5 738.7 504.5 739.5 504.1 740.2 504 741 503.9 741.8 504.4 742.6 504.3 743.4 504.7 744.2 504.9 744.9 505 745.7 505.2 746.5 504.2 747.3 503.3 748.1 503.4 748.9 503.4 749.6 504 750.4 503.8 751.2 504.1 752 504 752.8 503.1 753.6 503.4 754.4 504 755.1 504.5 755.9 504.8 756.7 504.5 757.5 506.4 758.3 505.7 759.1 505.3 759.8 503.6 760.6 503.6 761.4 503.3 762.2 503.6 763 503.7 763.8 504.7 764.6 504.9 765.3 504.9 766.1 504.4 766.9 504.8 767.7 505.1 768.5 505.4 769.3 505.2 770 505.1 770.8 505.3 771.6 505.6 772.4 506.3 773.2 505.3 774 505.3 774.8 504.8 775.5 505.3 776.3 504.3 777.1 505 777.9 505.4 778.7 505.6 779.5 504.7 780.2 504.8 781 505.3 781.8 505.2 782.6 504.4 783.4 503.7 784.2 504.3 785 504.6 785.7 504.7 786.5 504 787.3 504.7 788.1 504.6 788.9 505 789.7 504.9 790.4 504.8 791.2 504.7 792 504.3 792.8 504.2 793.6 504.8 794.4 504.6 795.2 504.6 795.9 503.8 796.7 503.2 797.5 503.9 798.3 504.6 799.1 505 799.9 504.2 800.6 502.6 801.4 502.3 802.2 502.9 803 503.4 803.8 504 804.6 504.2 805.4 503.4 806.1 502.8 806.9 501.8 807.7 502.7 808.5 502 809.3 502.1 810.1 501.8 810.8 503 811.6 503.7 812.4 503.6 813.2 502.4 814 501.5 814.8 502 815.6 502.6 816.3 503 817.1 502.4 817.9 502.2 818.7 501.6 819.5 502.1 820.3 501.9 821 501.9 821.8 501.7 822.6 502.7 823.4 502.6 824.2 502 825 501.7 825.8 501.9 826.5 502.5 827.3 501.8 828.1 501.5 828.9 502.5 829.7 502.7 830.5 503.5 831.2 503.1 832 503.1 832.8 502.7 833.6 501.9 834.4 500.8 835.2 500.3 836 500.3 836.7 502 837.5 502.6 838.3 503.4 839.1 503.2 839.9 503.4 840.7 503.2 841.4 503 842.2 503 843 503.3 843.8 503.8 844.6 503.1 845.4 502.4 846.2 501.4 846.9 501.1 847.7 501.2 848.5 501.4 849.3 502.4 850.1 501.3 850.9 501 851.6 500.5 852.4 501.9 853.2 502.3 854 503 854.8 502.8 855.6 502.6 856.4 501.7 857.1 501.6 857.9 501.5 858.7 502 859.5 501.7 860.3 502.3 861.1 502.3 861.8 502.2 862.6 502.4 863.4 501.2 864.2 501.7 865 500.4 865.8 501.7 866.6 501.2 867.3 502.6 868.1 502.7 868.9 502.9 869.7 502.1 870.5 502.1 871.3 501.7 872 502.3 872.8 501.7 873.6 502.1 874.4 501.5 875.2 502.3 876 501.8 876.8 501.8 877.5 501.2 878.3 502.4 879.1 503.4 879.9 503.8 880.7 503.2 881.5 502.6 882.2 502.5 883 503 883.8 502.1 884.6 501.8 885.4 501.8 886.2 501.9 887 501.6 887.7 501.3 888.5 502.2 889.3 503.1 890.1 503.7 890.9 503.6 891.7 503 892.4 502.4 893.2 501.9 894 501.7 894.8 501.8 895.6 502.5 896.4 503.6 897.2 503.9 897.9 503.9 898.7 503.2 899.5 503.1 900.3 503.3 901.1 503.5 901.9 503.4 902.6 502.8 903.4 502.7 904.2 502.4 905 502.6 905.8 502.7 906.6 502.9 907.4 502 908.1 501.9 908.9 501.4 909.7 501.6 910.5 500.7 911.3 501.6 912.1 501.3 912.8 501.9 913.6 501.7 914.4 502.7 915.2 502.5 916 502.4 916.8 502.4 917.6 502.1 918.3 502.4 919.1 502.8 919.9 503 920.7 502.4 921.5 501.5 922.3 502.3 923 502.2 923.8 502.4 924.6 501.2 925.4 502.2 926.2 502.4 927 503.3 927.8 503.4 928.5 503.9 929.3 503.3 930.1 502.8 930.9 502.8 931.7 502.9 932.5 502.3 933.2 501.5 934 502.3 934.8 502.8 935.6 503.2" fill="none" stroke="#000" stroke-width="4" stroke-linejoin="round"/>
<path d="M190.2 622.4v-16M190.2 73.9v16M229.5 622.4v-24M229.5 73.9v24M268.7 622.4v-16M268.7 73.9v16M307.9 622.4v-24M307.9 73.9v24M347.1 622.4v-16M347.1 73.9v16M386.4 622.4v-24M386.4 73.9v24M425.6 622.4v-16M425.6 73.9v16M464.8 622.4v-24M464.8 73.9v24M504.1 622.4v-16M504.1 73.9v16M543.3 622.4v-24M543.3 73.9v24M582.5 622.4v-16M582.5 73.9v16M621.8 622.4v-24M621.8 73.9v24M661 622.4v-16M661 73.9v16M700.2 622.4v-24M700.2 73.9v24M739.5 622.4v-16M739.5 73.9v16M778.7 622.4v-24M778.7 73.9v24M817.9 622.4v-16M817.9 73.9v16M857.1 622.4v-24M857.1 73.9v24M896.4 622.4v-16M896.4 73.9v16M151 567.5h16M935.6 567.5h-16M151 512.7h24M935.6 512.7h-24M151 457.8h16M935.6 457.8h-16M151 403h24M935.6 403h-24M151 348.1h16M935.6 348.1h-16M151 293.3h24M935.6 293.3h-24M151 238.4h16M935.6 238.4h-16M151 183.6h24M935.6 183.6h-24M151 128.8h16M935.6 128.8h-16" stroke="#333" stroke-width="3" fill="none"/>
<rect x="151" y="73.9" width="784.6" height="548.5" fill="none" stroke="#000" stroke-width="4"/>
<g font-family="Liberation Sans, Arial, sans-serif" font-size="37" fill="#222"><text x="145.5" y="635.6" text-anchor="end">2</text><text x="145.5" y="525.9" text-anchor="end">3</text><text x="145.5" y="416.2" text-anchor="end">4</text><text x="145.5" y="306.5" text-anchor="end">5</text><text x="145.5" y="196.8" text-anchor="end">6</text><text x="145.5" y="87.1" text-anchor="end">7</text><text x="151" y="658" text-anchor="middle">0</text><text x="229.5" y="658" text-anchor="middle">20</text><text x="307.9" y="658" text-anchor="middle">40</text><text x="386.4" y="658" text-anchor="middle">60</text><text x="464.8" y="658" text-anchor="middle">80</text><text x="543.3" y="658" text-anchor="middle">100</text><text x="621.8" y="658" text-anchor="middle">120</text><text x="700.2" y="658" text-anchor="middle">140</text><text x="778.7" y="658" text-anchor="middle">160</text><text x="857.1" y="658" text-anchor="middle">180</text><text x="935.6" y="658" text-anchor="middle">200</text></g>
<text font-family="Liberation Sans, Arial, sans-serif" font-size="40" fill="#222" x="545.8" y="695" text-anchor="middle">Time (ns)</text>
<text font-family="Liberation Sans, Arial, sans-serif" fill="#222" transform="translate(107.6 347.3) rotate(-90)" text-anchor="middle" font-size="39.6">Average COM distance (nm)</text>
<path d="M669 132.2h34.4" stroke="#ff2a2a" stroke-width="4"/><path d="M669 163.5h34.4" stroke="#333" stroke-width="4"/>
<g font-family="Liberation Sans, Arial, sans-serif" font-size="31" fill="#222"><text x="718" y="143.5">A100-DNA</text><text x="717" y="174.8">B75D25-DNA</text></g>
<path d="M1167.2 348.1H1952" stroke="#505050" stroke-width="3.2" stroke-dasharray="10.8 8.4" stroke-dashoffset="1.2"/>
<path d="M1312.1 348.1V622.5" stroke="#ff4848" stroke-width="3.4" stroke-dasharray="4.5 7.4" stroke-dashoffset="3"/>
<path d="M1477.8 348.1V622.5" stroke="#555" stroke-width="3.4" stroke-dasharray="4.5 7.4" stroke-dashoffset="2.8"/>
<path d="M1260.6 505V516M1251.6 505h18M1251.6 516h18M1354 392.2V407M1345 392.2h18M1345 407h18M1447.4 341.3V398.4M1438.4 341.3h18M1438.4 398.4h18M1540.8 267.6V332.7M1531.8 267.6h18M1531.8 332.7h18M1634.2 193.8V261.3M1625.2 193.8h18M1625.2 261.3h18M1727.6 116.7V215M1718.6 116.7h18M1718.6 215h18M1821 105.2V218.4M1812 105.2h18M1812 218.4h18M1914.4 118.4V221.3M1905.4 118.4h18M1905.4 221.3h18" stroke="#333" stroke-width="3" fill="none"/>
<path d="M1260.6 407V418M1251.6 407h18M1251.6 418h18M1354 285.2V298.4M1345 285.2h18M1345 298.4h18M1447.4 222.5V232.1M1438.4 222.5h18M1438.4 232.1h18M1540.8 213.8V260.7M1531.8 213.8h18M1531.8 260.7h18M1634.2 265.8V323M1625.2 265.8h18M1625.2 323h18M1727.6 320.1V363.6M1718.6 320.1h18M1718.6 363.6h18M1821 369.4V378.6M1812 369.4h18M1812 378.6h18M1914.4 357V379.8M1905.4 357h18M1905.4 379.8h18" stroke="#ff2020" stroke-width="3" fill="none"/>
<path d="M1167.2 597.4 1260.6 510.5 1354 399.6 1447.4 369.9 1540.8 300.1 1634.2 227.6 1727.6 165.8 1821 161.8 1914.4 169.8" stroke="#000" stroke-width="3.4" fill="none" stroke-linejoin="round"/>
<path d="M1167.2 592.8 1260.6 412.5 1354 291.8 1447.4 227.3 1540.8 237.3 1634.2 294.4 1727.6 341.9 1821 374 1914.4 368.4" stroke="#ff0000" stroke-width="3.4" fill="none" stroke-linejoin="round"/>
<path d="M1260.6 622.5v-16M1260.6 73.8v16M1354 622.5v-24M1354 73.8v24M1447.4 622.5v-16M1447.4 73.8v16M1540.8 622.5v-24M1540.8 73.8v24M1634.2 622.5v-16M1634.2 73.8v16M1727.6 622.5v-24M1727.6 73.8v24M1821 622.5v-16M1821 73.8v16M1914.4 622.5v-24M1914.4 73.8v24M1167.2 576.8h16M1952 576.8h-16M1167.2 531h24M1952 531h-24M1167.2 485.3h16M1952 485.3h-16M1167.2 439.6h24M1952 439.6h-24M1167.2 393.9h16M1952 393.9h-16M1167.2 348.1h24M1952 348.1h-24M1167.2 302.4h16M1952 302.4h-16M1167.2 256.7h24M1952 256.7h-24M1167.2 211h16M1952 211h-16M1167.2 165.2h24M1952 165.2h-24M1167.2 119.5h16M1952 119.5h-16" stroke="#333" stroke-width="3" fill="none"/>
<rect x="1167.2" y="73.8" width="784.8" height="548.7" fill="none" stroke="#000" stroke-width="4"/>
<g font-family="Liberation Sans, Arial, sans-serif" font-size="37" fill="#222"><text x="1160.5" y="635.7" text-anchor="end">−24</text><text x="1160.5" y="544.2" text-anchor="end">−16</text><text x="1160.5" y="452.8" text-anchor="end">−8</text><text x="1160.5" y="361.3" text-anchor="end">0</text><text x="1160.5" y="269.9" text-anchor="end">8</text><text x="1160.5" y="178.4" text-anchor="end">16</text><text x="1160.5" y="87" text-anchor="end">24</text><text x="1167.2" y="657" text-anchor="middle">0</text><text x="1354" y="657" text-anchor="middle">1</text><text x="1540.8" y="657" text-anchor="middle">2</text><text x="1727.6" y="657" text-anchor="middle">3</text><text x="1914.4" y="657" text-anchor="middle">4</text></g>
<text font-family="Liberation Sans, Arial, sans-serif" font-size="39.9" fill="#222" x="1561.5" y="695.5" text-anchor="middle">Distance from DNA (nm)</text>
<text font-family="Liberation Sans, Arial, sans-serif" font-size="40" fill="#222" transform="translate(1091.5 347) rotate(-90)" text-anchor="middle">Net charge</text>
<text font-family="Liberation Sans, Arial, sans-serif" font-size="33" fill="#222" x="1489" y="387.5">R</text><text font-family="Liberation Sans, Arial, sans-serif" font-size="25.5" fill="#555" x="1511.3" y="401.5">0</text>
<path d="M1253 132h35" stroke="#ff2a2a" stroke-width="4"/><path d="M1253 163.4h35" stroke="#333" stroke-width="4"/>
<g font-family="Liberation Sans, Arial, sans-serif" font-size="31" fill="#222"><text x="1300.5" y="143.5">A100</text><text x="1300.5" y="175">B75D25</text></g>
<g font-family="Liberation Sans, Arial, sans-serif" font-size="60" fill="#111"><text x="13" y="65" font-size="63">a</text><text x="1017" y="64">b</text><text x="13" y="732" font-size="63">c</text><text x="929" y="732" font-size="61">d</text></g><g font-family="Liberation Sans, Arial, sans-serif" font-size="50" fill="#111"><text x="144" y="772.8" textLength="303" lengthAdjust="spacingAndGlyphs">B75D25/DNA</text><text x="1065" y="772.8">A100/DNA</text></g></g></svg></body></html>
